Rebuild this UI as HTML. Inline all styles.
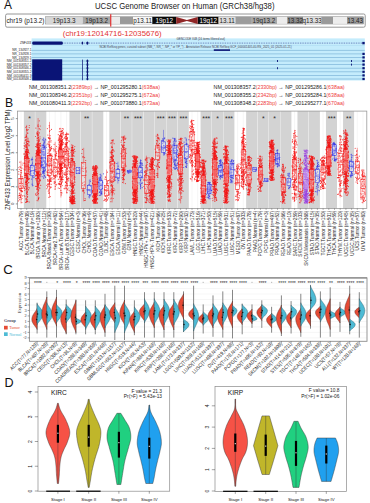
<!DOCTYPE html>
<html><head><meta charset="utf-8"><style>html,body{margin:0;padding:0;background:#fff;width:370px;height:503px;overflow:hidden}svg{display:block}</style></head>
<body><svg width="370" height="503" viewBox="0 0 370 503"><text x="4.0" y="8.9" font-size="11.9" font-family="Liberation Sans, sans-serif" fill="#111">A</text><text x="95.0" y="9.0" font-size="8.6" font-family="Liberation Sans, sans-serif" fill="#1a1a1a" textLength="179.5" lengthAdjust="spacingAndGlyphs">UCSC Genome Browser on Human (GRCh38/hg38)</text><rect x="5.6" y="14.0" width="359.6" height="13.2" rx="1.5" fill="#fff" stroke="#8a8a8a" stroke-width="0.9"/><text x="6.4" y="23.1" font-size="6.4" font-family="Liberation Sans, sans-serif" fill="#1a1a1a">chr19 (p13.2)</text><rect x="45.4" y="16.9" width="317.8" height="7.0" fill="none" stroke="#555" stroke-width="0.6"/><rect x="45.4" y="16.9" width="37.40" height="7.0" fill="#d6d6d6"/><text x="64.10" y="22.7" font-size="6.3" font-family="Liberation Sans, sans-serif" fill="#222" text-anchor="middle">19p13.3</text><rect x="82.8" y="16.9" width="27.80" height="7.0" fill="#a6a6a6"/><text x="96.70" y="22.7" font-size="6.3" font-family="Liberation Sans, sans-serif" fill="#222" text-anchor="middle">19p13.2</text><rect x="110.6" y="16.9" width="9.40" height="7.0" fill="#ececec"/><rect x="120" y="16.9" width="13.00" height="7.0" fill="#9a9a9a"/><rect x="133" y="16.9" width="19.30" height="7.0" fill="#f6f6f6"/><text x="142.65" y="22.7" font-size="6.3" font-family="Liberation Sans, sans-serif" fill="#222" text-anchor="middle">p13.11</text><rect x="152.3" y="16.9" width="23.90" height="7.0" fill="#0a0a0a"/><text x="164.25" y="22.7" font-size="6.3" font-family="Liberation Sans, sans-serif" fill="#fff" text-anchor="middle">19p12</text><rect x="197.7" y="16.9" width="20.90" height="7.0" fill="#0a0a0a"/><text x="208.15" y="22.7" font-size="6.3" font-family="Liberation Sans, sans-serif" fill="#fff" text-anchor="middle">19q12</text><rect x="218.6" y="16.9" width="16.90" height="7.0" fill="#dcdcdc"/><text x="227.05" y="22.7" font-size="6.3" font-family="Liberation Sans, sans-serif" fill="#222" text-anchor="middle">13.11</text><rect x="235.5" y="16.9" width="15.50" height="7.0" fill="#9c9c9c"/><rect x="251" y="16.9" width="26.00" height="7.0" fill="#a8a8a8"/><text x="264.00" y="22.7" font-size="6.3" font-family="Liberation Sans, sans-serif" fill="#222" text-anchor="middle">19q13.2</text><rect x="277" y="16.9" width="10.30" height="7.0" fill="#ececec"/><rect x="287.3" y="16.9" width="15.70" height="7.0" fill="#8c8c8c"/><text x="295.15" y="22.7" font-size="6.3" font-family="Liberation Sans, sans-serif" fill="#222" text-anchor="middle">13.32</text><rect x="303" y="16.9" width="18.40" height="7.0" fill="#dedede"/><text x="312.20" y="22.7" font-size="6.3" font-family="Liberation Sans, sans-serif" fill="#222" text-anchor="middle">q13.33</text><rect x="321.4" y="16.9" width="11.60" height="7.0" fill="#9a9a9a"/><rect x="333" y="16.9" width="14.00" height="7.0" fill="#ededed"/><rect x="347" y="16.9" width="16.20" height="7.0" fill="#9c9c9c"/><text x="355.10" y="22.7" font-size="6.3" font-family="Liberation Sans, sans-serif" fill="#222" text-anchor="middle">13.43</text><polygon points="176.2,16.9 186.9,19.9 197.7,16.9 197.7,23.9 186.9,20.9 176.2,23.9" fill="#902626"/><rect x="110.2" y="14.2" width="1.1" height="12.4" fill="#e02020"/><text x="62.8" y="35.5" font-size="7.8" font-family="Liberation Sans, sans-serif" fill="#e23434">(chr19:12014716-12035676)</text><rect x="31.6" y="38.4" width="333.2" height="42.1" fill="#c4ecfc"/><rect x="31.6" y="49.9" width="333.2" height="0.8" fill="#86bcdc"/><rect x="31.6" y="53.5" width="333.2" height="0.8" fill="#86bcdc"/><rect x="31.6" y="57.0" width="333.2" height="0.8" fill="#86bcdc"/><rect x="31.6" y="60.6" width="333.2" height="0.8" fill="#86bcdc"/><rect x="31.6" y="64.19999999999999" width="333.2" height="0.8" fill="#86bcdc"/><rect x="31.6" y="67.8" width="333.2" height="0.8" fill="#86bcdc"/><rect x="31.6" y="71.39999999999999" width="333.2" height="0.8" fill="#86bcdc"/><rect x="31.6" y="75.0" width="333.2" height="0.8" fill="#86bcdc"/><rect x="31.6" y="78.6" width="333.2" height="0.8" fill="#86bcdc"/><rect x="31.6" y="45.2" width="333.2" height="0.5" fill="#a8d8f0"/><text x="200.8" y="40.4" font-size="2.9" font-family="Liberation Sans, sans-serif" fill="#334" text-anchor="middle">GENCODE V48 (16 items filtered out)</text><text x="99.4" y="48" font-size="2.9" font-family="Liberation Sans, sans-serif" fill="#445">NCBI RefSeq genes, curated subset (NM_*, NR_*, NP_* or YP_*) - Annotation Release NCBI RefSeq GCF_000001405.40-RS_2025_01 (2025-01-21)</text><line x1="62" y1="43.1" x2="363" y2="43.1" stroke="#2a3a90" stroke-width="0.7" stroke-dasharray="0.8,0.9"/><rect x="32.2" y="41.5" width="30.6" height="3.2" rx="1.3" fill="#0a1476"/><ellipse cx="82.4" cy="43.1" rx="0.8" ry="1.5" fill="#0a1476"/><ellipse cx="87.4" cy="43.1" rx="1.1" ry="1.6" fill="#0a1476"/><rect x="362.3" y="41.9" width="2.4" height="2.4" fill="#0a1476"/><rect x="213.8" y="49.3" width="16.2" height="1.6" fill="#0a1476"/><text x="31.2" y="44.2" font-size="3.1" font-family="Liberation Sans, sans-serif" fill="#1a1a1a" text-anchor="end">ZNF433</text><text x="31.4" y="51.40" font-size="3.1" font-family="Liberation Sans, sans-serif" fill="#1a1a1a" text-anchor="end">NR_134927.1</text><text x="31.4" y="55.00" font-size="3.1" font-family="Liberation Sans, sans-serif" fill="#1a1a1a" text-anchor="end">NR_134928.1</text><rect x="362.4" y="52.80" width="2.3" height="2.2" fill="#0a1476"/><text x="31.4" y="58.50" font-size="3.1" font-family="Liberation Sans, sans-serif" fill="#1a1a1a" text-anchor="end">NR_134929.1</text><rect x="362.4" y="56.30" width="2.3" height="2.2" fill="#0a1476"/><text x="31.4" y="62.10" font-size="3.1" font-family="Liberation Sans, sans-serif" fill="#1a1a1a" text-anchor="end">NM_001308351.2</text><rect x="362.4" y="59.90" width="2.3" height="2.2" fill="#0a1476"/><text x="31.4" y="65.70" font-size="3.1" font-family="Liberation Sans, sans-serif" fill="#1a1a1a" text-anchor="end">NM_001308357.2</text><rect x="362.4" y="63.50" width="2.3" height="2.2" fill="#0a1476"/><text x="31.4" y="69.30" font-size="3.1" font-family="Liberation Sans, sans-serif" fill="#1a1a1a" text-anchor="end">NM_001308346.2</text><rect x="362.4" y="67.10" width="2.3" height="2.2" fill="#0a1476"/><text x="31.4" y="72.90" font-size="3.1" font-family="Liberation Sans, sans-serif" fill="#1a1a1a" text-anchor="end">NM_001308355.2</text><rect x="362.4" y="70.70" width="2.3" height="2.2" fill="#0a1476"/><text x="31.4" y="76.50" font-size="3.1" font-family="Liberation Sans, sans-serif" fill="#1a1a1a" text-anchor="end">NM_001080411.3</text><rect x="362.4" y="74.30" width="2.3" height="2.2" fill="#0a1476"/><text x="31.4" y="80.10" font-size="3.1" font-family="Liberation Sans, sans-serif" fill="#1a1a1a" text-anchor="end">NM_001308348.2</text><rect x="362.4" y="77.90" width="2.3" height="2.2" fill="#0a1476"/><rect x="32.2" y="59.3" width="30" height="21.2" fill="#0a1476"/><rect x="82.0" y="59.6" width="0.7" height="20.6" fill="#0a1476"/><rect x="86.9" y="59.6" width="1.1" height="20.6" fill="#0a1476"/><rect x="86.6" y="60.00" width="1.7" height="2.0" fill="#0a1476"/><rect x="86.6" y="63.60" width="1.7" height="2.0" fill="#0a1476"/><rect x="86.6" y="67.20" width="1.7" height="2.0" fill="#0a1476"/><rect x="86.6" y="70.80" width="1.7" height="2.0" fill="#0a1476"/><rect x="86.6" y="74.40" width="1.7" height="2.0" fill="#0a1476"/><rect x="86.6" y="78.00" width="1.7" height="2.0" fill="#0a1476"/><rect x="277" y="60.0" width="0.9" height="2" fill="#0a1476"/><rect x="277" y="67.2" width="0.9" height="2" fill="#0a1476"/><rect x="351" y="60.0" width="0.9" height="2" fill="#0a1476"/><rect x="351" y="63.599999999999994" width="0.9" height="2" fill="#0a1476"/><text x="29.00" y="88.50" font-size="5.8" font-family="Liberation Sans, sans-serif" fill="#1a1a1a" textLength="131" lengthAdjust="spacingAndGlyphs">NM_001308351.2<tspan fill="#ee3b3b">(2389bp)</tspan> → NP_001295280.1<tspan fill="#ee3b3b">(638aa)</tspan></text><text x="29.00" y="96.70" font-size="5.8" font-family="Liberation Sans, sans-serif" fill="#1a1a1a" textLength="131" lengthAdjust="spacingAndGlyphs">NM_001308346.2<tspan fill="#ee3b3b">(2351bp)</tspan> → NP_001295275.1<tspan fill="#ee3b3b">(672aa)</tspan></text><text x="29.00" y="104.90" font-size="5.8" font-family="Liberation Sans, sans-serif" fill="#1a1a1a" textLength="131" lengthAdjust="spacingAndGlyphs">NM_001080411.3<tspan fill="#ee3b3b">(2292bp)</tspan> → NP_001073880.1<tspan fill="#ee3b3b">(673aa)</tspan></text><text x="213.60" y="88.50" font-size="5.8" font-family="Liberation Sans, sans-serif" fill="#1a1a1a" textLength="131" lengthAdjust="spacingAndGlyphs">NM_001308357.2<tspan fill="#ee3b3b">(2330bp)</tspan> → NP_001295286.1<tspan fill="#ee3b3b">(638aa)</tspan></text><text x="213.60" y="96.70" font-size="5.8" font-family="Liberation Sans, sans-serif" fill="#1a1a1a" textLength="131" lengthAdjust="spacingAndGlyphs">NM_001308355.2<tspan fill="#ee3b3b">(2342bp)</tspan> → NP_001295284.1<tspan fill="#ee3b3b">(638aa)</tspan></text><text x="213.60" y="104.90" font-size="5.8" font-family="Liberation Sans, sans-serif" fill="#1a1a1a" textLength="131" lengthAdjust="spacingAndGlyphs">NM_001308348.2<tspan fill="#ee3b3b">(2283bp)</tspan> → NP_001295277.1<tspan fill="#ee3b3b">(670aa)</tspan></text><text x="5.0" y="107.0" font-size="12.2" font-family="Liberation Sans, sans-serif" fill="#111">B</text><rect x="17.4" y="111.1" width="349.40000000000003" height="97.4" fill="#fff"/><line x1="21.00" y1="111.1" x2="21.00" y2="208.5" stroke="#ececec" stroke-width="0.5"/><line x1="26.70" y1="111.1" x2="26.70" y2="208.5" stroke="#ececec" stroke-width="0.5"/><line x1="32.40" y1="111.1" x2="32.40" y2="208.5" stroke="#ececec" stroke-width="0.5"/><line x1="38.10" y1="111.1" x2="38.10" y2="208.5" stroke="#ececec" stroke-width="0.5"/><line x1="43.80" y1="111.1" x2="43.80" y2="208.5" stroke="#ececec" stroke-width="0.5"/><line x1="49.50" y1="111.1" x2="49.50" y2="208.5" stroke="#ececec" stroke-width="0.5"/><line x1="55.20" y1="111.1" x2="55.20" y2="208.5" stroke="#ececec" stroke-width="0.5"/><line x1="60.90" y1="111.1" x2="60.90" y2="208.5" stroke="#ececec" stroke-width="0.5"/><line x1="66.60" y1="111.1" x2="66.60" y2="208.5" stroke="#ececec" stroke-width="0.5"/><line x1="72.30" y1="111.1" x2="72.30" y2="208.5" stroke="#ececec" stroke-width="0.5"/><line x1="78.00" y1="111.1" x2="78.00" y2="208.5" stroke="#ececec" stroke-width="0.5"/><line x1="83.70" y1="111.1" x2="83.70" y2="208.5" stroke="#ececec" stroke-width="0.5"/><line x1="89.40" y1="111.1" x2="89.40" y2="208.5" stroke="#ececec" stroke-width="0.5"/><line x1="95.10" y1="111.1" x2="95.10" y2="208.5" stroke="#ececec" stroke-width="0.5"/><line x1="100.80" y1="111.1" x2="100.80" y2="208.5" stroke="#ececec" stroke-width="0.5"/><line x1="106.50" y1="111.1" x2="106.50" y2="208.5" stroke="#ececec" stroke-width="0.5"/><line x1="112.20" y1="111.1" x2="112.20" y2="208.5" stroke="#ececec" stroke-width="0.5"/><line x1="117.90" y1="111.1" x2="117.90" y2="208.5" stroke="#ececec" stroke-width="0.5"/><line x1="123.60" y1="111.1" x2="123.60" y2="208.5" stroke="#ececec" stroke-width="0.5"/><line x1="129.30" y1="111.1" x2="129.30" y2="208.5" stroke="#ececec" stroke-width="0.5"/><line x1="135.00" y1="111.1" x2="135.00" y2="208.5" stroke="#ececec" stroke-width="0.5"/><line x1="140.70" y1="111.1" x2="140.70" y2="208.5" stroke="#ececec" stroke-width="0.5"/><line x1="146.40" y1="111.1" x2="146.40" y2="208.5" stroke="#ececec" stroke-width="0.5"/><line x1="152.10" y1="111.1" x2="152.10" y2="208.5" stroke="#ececec" stroke-width="0.5"/><line x1="157.80" y1="111.1" x2="157.80" y2="208.5" stroke="#ececec" stroke-width="0.5"/><line x1="163.50" y1="111.1" x2="163.50" y2="208.5" stroke="#ececec" stroke-width="0.5"/><line x1="169.20" y1="111.1" x2="169.20" y2="208.5" stroke="#ececec" stroke-width="0.5"/><line x1="174.90" y1="111.1" x2="174.90" y2="208.5" stroke="#ececec" stroke-width="0.5"/><line x1="180.60" y1="111.1" x2="180.60" y2="208.5" stroke="#ececec" stroke-width="0.5"/><line x1="186.30" y1="111.1" x2="186.30" y2="208.5" stroke="#ececec" stroke-width="0.5"/><line x1="192.00" y1="111.1" x2="192.00" y2="208.5" stroke="#ececec" stroke-width="0.5"/><line x1="197.70" y1="111.1" x2="197.70" y2="208.5" stroke="#ececec" stroke-width="0.5"/><line x1="203.40" y1="111.1" x2="203.40" y2="208.5" stroke="#ececec" stroke-width="0.5"/><line x1="209.10" y1="111.1" x2="209.10" y2="208.5" stroke="#ececec" stroke-width="0.5"/><line x1="214.80" y1="111.1" x2="214.80" y2="208.5" stroke="#ececec" stroke-width="0.5"/><line x1="220.50" y1="111.1" x2="220.50" y2="208.5" stroke="#ececec" stroke-width="0.5"/><line x1="226.20" y1="111.1" x2="226.20" y2="208.5" stroke="#ececec" stroke-width="0.5"/><line x1="231.90" y1="111.1" x2="231.90" y2="208.5" stroke="#ececec" stroke-width="0.5"/><line x1="237.60" y1="111.1" x2="237.60" y2="208.5" stroke="#ececec" stroke-width="0.5"/><line x1="243.30" y1="111.1" x2="243.30" y2="208.5" stroke="#ececec" stroke-width="0.5"/><line x1="249.00" y1="111.1" x2="249.00" y2="208.5" stroke="#ececec" stroke-width="0.5"/><line x1="254.70" y1="111.1" x2="254.70" y2="208.5" stroke="#ececec" stroke-width="0.5"/><line x1="260.40" y1="111.1" x2="260.40" y2="208.5" stroke="#ececec" stroke-width="0.5"/><line x1="266.10" y1="111.1" x2="266.10" y2="208.5" stroke="#ececec" stroke-width="0.5"/><line x1="271.80" y1="111.1" x2="271.80" y2="208.5" stroke="#ececec" stroke-width="0.5"/><line x1="277.50" y1="111.1" x2="277.50" y2="208.5" stroke="#ececec" stroke-width="0.5"/><line x1="283.20" y1="111.1" x2="283.20" y2="208.5" stroke="#ececec" stroke-width="0.5"/><line x1="288.90" y1="111.1" x2="288.90" y2="208.5" stroke="#ececec" stroke-width="0.5"/><line x1="294.60" y1="111.1" x2="294.60" y2="208.5" stroke="#ececec" stroke-width="0.5"/><line x1="300.30" y1="111.1" x2="300.30" y2="208.5" stroke="#ececec" stroke-width="0.5"/><line x1="306.00" y1="111.1" x2="306.00" y2="208.5" stroke="#ececec" stroke-width="0.5"/><line x1="311.70" y1="111.1" x2="311.70" y2="208.5" stroke="#ececec" stroke-width="0.5"/><line x1="317.40" y1="111.1" x2="317.40" y2="208.5" stroke="#ececec" stroke-width="0.5"/><line x1="323.10" y1="111.1" x2="323.10" y2="208.5" stroke="#ececec" stroke-width="0.5"/><line x1="328.80" y1="111.1" x2="328.80" y2="208.5" stroke="#ececec" stroke-width="0.5"/><line x1="334.50" y1="111.1" x2="334.50" y2="208.5" stroke="#ececec" stroke-width="0.5"/><line x1="340.20" y1="111.1" x2="340.20" y2="208.5" stroke="#ececec" stroke-width="0.5"/><line x1="345.90" y1="111.1" x2="345.90" y2="208.5" stroke="#ececec" stroke-width="0.5"/><line x1="351.60" y1="111.1" x2="351.60" y2="208.5" stroke="#ececec" stroke-width="0.5"/><line x1="357.30" y1="111.1" x2="357.30" y2="208.5" stroke="#ececec" stroke-width="0.5"/><line x1="363.00" y1="111.1" x2="363.00" y2="208.5" stroke="#ececec" stroke-width="0.5"/><rect x="23.85" y="111.1" width="11.05" height="97.4" fill="#d3d3d3"/><rect x="35.25" y="111.1" width="11.05" height="97.4" fill="#d3d3d3"/><rect x="69.45" y="111.1" width="11.05" height="97.4" fill="#d3d3d3"/><rect x="80.85" y="111.1" width="11.05" height="97.4" fill="#d3d3d3"/><rect x="92.25" y="111.1" width="11.05" height="97.4" fill="#d3d3d3"/><rect x="109.35" y="111.1" width="11.05" height="97.4" fill="#d3d3d3"/><rect x="120.75" y="111.1" width="11.05" height="97.4" fill="#d3d3d3"/><rect x="132.15" y="111.1" width="11.05" height="97.4" fill="#d3d3d3"/><rect x="143.55" y="111.1" width="11.05" height="97.4" fill="#d3d3d3"/><rect x="154.95" y="111.1" width="11.05" height="97.4" fill="#d3d3d3"/><rect x="166.35" y="111.1" width="11.05" height="97.4" fill="#d3d3d3"/><rect x="177.75" y="111.1" width="11.05" height="97.4" fill="#d3d3d3"/><rect x="200.55" y="111.1" width="11.05" height="97.4" fill="#d3d3d3"/><rect x="211.95" y="111.1" width="11.05" height="97.4" fill="#d3d3d3"/><rect x="223.35" y="111.1" width="11.05" height="97.4" fill="#d3d3d3"/><rect x="246.15" y="111.1" width="11.05" height="97.4" fill="#d3d3d3"/><rect x="257.55" y="111.1" width="11.05" height="97.4" fill="#d3d3d3"/><rect x="268.95" y="111.1" width="11.05" height="97.4" fill="#d3d3d3"/><rect x="280.35" y="111.1" width="11.05" height="97.4" fill="#d3d3d3"/><rect x="297.45" y="111.1" width="11.05" height="97.4" fill="#d3d3d3"/><rect x="308.85" y="111.1" width="11.05" height="97.4" fill="#d3d3d3"/><rect x="325.95" y="111.1" width="11.05" height="97.4" fill="#d3d3d3"/><rect x="343.05" y="111.1" width="11.05" height="97.4" fill="#d3d3d3"/><path d="M22.4 191.5h0M20.5 185.8h0M20.2 188.7h0M20.4 197.2h0M21.6 172.8h0M20.5 175.0h0M21.4 170.6h0M19.1 178.6h0M21.7 188.1h0M19.8 162.2h0M21.3 180.0h0M21.2 182.1h0M21.1 179.6h0M21.2 194.9h0M23.2 186.5h0M20.9 172.6h0M19.2 189.7h0M21.9 168.2h0M19.8 197.7h0M18.8 174.2h0M20.2 186.0h0M28.8 167.9h0M26.7 159.6h0M25.3 165.6h0M27.6 156.7h0M29.0 145.8h0M27.1 173.3h0M27.5 165.8h0M28.3 152.3h0M28.7 158.5h0M27.3 178.7h0M27.7 144.3h0M25.6 173.0h0M28.5 170.0h0M27.4 178.0h0M26.9 149.6h0M24.7 175.9h0M28.0 189.6h0M25.9 149.5h0M26.6 151.8h0M26.6 171.7h0M27.3 152.5h0M28.1 161.8h0M26.4 181.3h0M26.6 136.6h0M27.6 159.3h0M29.3 125.5h0M28.1 164.5h0M27.3 188.1h0M24.1 163.5h0M29.3 171.9h0M25.4 184.1h0M25.0 146.7h0M27.8 179.9h0M24.9 173.0h0M25.9 184.1h0M28.3 169.3h0M26.6 202.2h0M26.4 168.9h0M25.9 176.1h0M26.9 172.2h0M26.4 166.1h0M26.5 175.6h0M26.5 169.0h0M26.3 135.8h0M27.6 156.1h0M26.5 162.2h0M27.0 188.6h0M25.9 175.6h0M25.3 156.2h0M27.0 193.1h0M27.9 169.1h0M26.1 163.9h0M27.1 167.1h0M26.3 161.4h0M27.3 130.1h0M26.9 167.6h0M27.6 178.9h0M25.8 182.4h0M26.6 152.3h0M25.8 151.6h0M26.8 155.8h0M26.7 162.1h0M24.1 195.6h0M27.1 178.2h0M26.7 153.7h0M25.1 177.7h0M25.7 155.5h0M26.2 134.8h0M26.5 164.4h0M27.5 154.8h0M25.7 167.6h0M26.7 172.0h0M26.6 158.0h0M27.3 167.2h0M25.3 170.3h0M25.6 165.8h0M24.5 157.1h0M27.7 133.2h0M27.6 173.8h0M27.3 168.6h0M27.8 144.8h0M27.5 143.6h0M24.1 169.1h0M27.1 200.1h0M24.7 156.6h0M25.3 186.4h0M24.8 146.3h0M27.2 140.0h0M24.1 187.8h0M27.2 168.6h0M26.7 157.9h0M26.3 154.0h0M27.4 156.1h0M26.2 187.1h0M26.2 184.6h0M26.3 167.4h0M27.1 172.3h0M26.3 142.4h0M27.0 180.8h0M27.5 191.1h0M27.2 157.2h0M28.4 150.6h0M27.6 162.4h0M36.8 147.3h0M37.2 182.6h0M37.9 168.3h0M36.9 147.4h0M38.5 190.9h0M37.6 162.8h0M37.7 166.2h0M39.8 180.2h0M37.4 178.9h0M36.1 154.1h0M39.0 160.8h0M38.7 173.4h0M40.0 136.8h0M38.9 158.4h0M38.3 168.8h0M40.2 161.7h0M35.8 169.4h0M36.2 160.7h0M40.2 166.4h0M37.7 183.7h0M38.0 173.4h0M40.4 158.3h0M37.8 172.0h0M37.0 171.6h0M35.7 175.0h0M40.7 185.3h0M38.7 169.8h0M36.0 156.4h0M37.0 175.3h0M39.6 176.1h0M40.4 149.2h0M38.1 173.1h0M39.6 188.0h0M37.6 169.1h0M37.4 188.1h0M37.8 125.8h0M40.1 129.6h0M35.5 186.3h0M39.5 157.5h0M39.4 170.6h0M37.8 157.5h0M37.3 182.9h0M38.6 172.0h0M36.1 161.9h0M38.1 124.8h0M39.1 148.7h0M37.8 158.0h0M35.5 165.1h0M39.8 179.5h0M35.5 159.8h0M36.0 153.3h0M37.4 152.4h0M37.2 144.4h0M39.8 177.8h0M39.8 153.0h0M37.1 179.1h0M39.6 156.8h0M37.2 166.7h0M38.3 170.8h0M38.9 171.1h0M38.9 149.1h0M37.5 156.1h0M37.7 147.3h0M37.8 163.6h0M39.9 157.5h0M40.1 180.7h0M37.6 143.9h0M38.0 163.8h0M37.7 150.8h0M37.2 140.5h0M38.0 170.0h0M37.6 176.1h0M37.0 158.1h0M37.6 157.1h0M38.3 166.5h0M38.0 164.8h0M38.6 166.4h0M38.6 150.2h0M40.5 143.4h0M38.4 177.7h0M36.9 154.1h0M38.7 157.9h0M38.8 184.8h0M37.5 133.7h0M39.3 168.2h0M39.2 160.0h0M40.0 138.8h0M38.2 183.5h0M37.1 132.4h0M37.5 186.6h0M38.9 173.6h0M39.2 150.0h0M38.3 173.0h0M38.8 158.6h0M38.0 166.3h0M35.5 163.6h0M38.8 152.9h0M39.1 179.1h0M36.9 165.0h0M39.5 152.4h0M38.9 159.5h0M37.6 183.2h0M39.3 171.1h0M39.7 168.1h0M36.6 146.1h0M36.4 172.4h0M37.2 187.9h0M40.1 167.1h0M39.9 174.6h0M38.4 150.7h0M36.7 195.5h0M38.1 174.2h0M37.6 170.6h0M40.3 176.1h0M39.7 174.9h0M36.3 160.1h0M38.9 164.3h0M39.5 172.2h0M37.7 175.4h0M37.9 178.4h0M38.9 164.2h0M38.1 164.3h0M39.0 149.1h0M36.7 160.4h0M36.9 171.0h0M38.7 163.6h0M36.2 171.3h0M37.9 158.9h0M39.1 139.9h0M39.0 154.7h0M51.8 148.3h0M48.3 152.1h0M47.5 161.5h0M48.7 156.0h0M47.7 158.4h0M48.8 164.8h0M50.2 181.4h0M50.1 161.3h0M48.8 155.6h0M47.6 156.1h0M48.8 193.3h0M50.6 159.8h0M50.5 138.0h0M49.0 158.7h0M49.9 181.5h0M47.5 172.2h0M48.7 169.2h0M48.5 176.0h0M49.6 155.6h0M49.4 145.4h0M47.6 160.5h0M49.4 181.8h0M49.9 163.2h0M52.1 171.2h0M49.6 163.8h0M49.0 137.8h0M49.2 172.5h0M48.8 193.0h0M49.5 131.3h0M48.8 190.1h0M48.9 197.4h0M48.3 137.5h0M49.0 146.2h0M50.3 154.8h0M49.3 144.9h0M50.2 173.4h0M47.9 184.4h0M49.0 180.5h0M50.3 154.2h0M49.7 172.6h0M49.8 165.4h0M49.7 172.1h0M49.1 153.9h0M50.8 172.5h0M49.8 151.2h0M49.2 183.2h0M50.9 142.0h0M48.7 172.8h0M55.5 177.4h0M55.6 155.9h0M54.7 167.0h0M54.9 172.9h0M55.1 189.2h0M57.1 176.7h0M54.6 162.0h0M55.4 182.2h0M55.7 172.5h0M56.1 153.3h0M55.9 151.4h0M55.0 177.3h0M54.2 178.7h0M56.5 169.4h0M55.8 175.1h0M54.5 161.0h0M52.6 156.6h0M55.3 186.3h0M55.3 175.1h0M55.6 175.4h0M55.1 163.1h0M58.8 150.5h0M61.8 157.3h0M61.2 139.7h0M60.1 150.7h0M61.5 158.9h0M62.7 156.4h0M61.7 168.3h0M58.8 156.8h0M61.2 163.9h0M61.5 164.4h0M61.5 162.7h0M61.6 153.2h0M59.2 183.1h0M60.2 168.2h0M62.7 156.4h0M63.1 176.8h0M61.1 134.1h0M62.2 161.4h0M59.8 168.9h0M63.2 134.9h0M61.2 165.6h0M61.2 170.9h0M61.1 140.7h0M63.3 159.0h0M59.6 150.6h0M58.8 172.7h0M62.1 131.1h0M60.9 156.6h0M61.5 167.6h0M60.0 163.1h0M60.7 187.0h0M62.6 139.5h0M60.6 157.7h0M61.9 150.3h0M60.3 160.1h0M58.3 151.3h0M62.2 179.2h0M59.5 161.9h0M61.2 149.9h0M60.3 143.8h0M62.1 141.7h0M62.6 128.5h0M60.8 176.9h0M60.0 176.9h0M61.5 155.7h0M60.1 150.7h0M62.6 130.4h0M60.0 148.4h0M59.0 152.6h0M60.3 170.3h0M59.9 165.5h0M62.4 167.5h0M60.5 150.1h0M61.0 165.6h0M59.5 169.6h0M60.9 150.1h0M60.7 168.0h0M61.8 179.3h0M59.9 156.5h0M61.6 140.2h0M60.7 149.1h0M59.9 165.0h0M60.6 161.3h0M60.6 167.8h0M62.5 162.4h0M60.3 156.1h0M61.3 159.6h0M63.5 148.7h0M61.7 162.6h0M61.4 192.8h0M62.1 130.8h0M61.4 131.4h0M60.5 156.5h0M60.6 149.6h0M60.8 168.5h0M61.3 194.9h0M61.6 149.6h0M61.7 162.6h0M60.2 168.4h0M60.4 144.9h0M60.4 146.3h0M63.5 163.1h0M58.3 147.0h0M60.8 172.2h0M59.9 163.6h0M60.2 149.8h0M59.8 143.2h0M61.1 144.4h0M60.1 138.7h0M60.3 170.7h0M58.8 139.8h0M61.9 192.9h0M59.3 166.5h0M61.4 162.4h0M59.1 164.7h0M61.1 148.3h0M62.0 146.1h0M61.7 143.3h0M62.6 153.7h0M59.9 141.8h0M61.4 159.0h0M61.1 140.5h0M61.1 149.8h0M59.0 140.8h0M60.5 164.7h0M61.7 169.6h0M61.4 143.5h0M60.5 147.9h0M61.6 138.0h0M60.3 146.9h0M60.8 159.5h0M61.8 146.2h0M61.5 159.1h0M60.6 150.9h0M62.1 163.9h0M61.4 171.8h0M60.5 160.7h0M61.8 153.5h0M62.2 132.9h0M59.2 142.3h0M60.4 153.4h0M60.2 171.2h0M60.8 162.2h0M61.9 174.2h0M59.8 147.5h0M60.9 190.4h0M63.5 129.0h0M60.8 149.7h0M61.9 140.9h0M61.0 142.6h0M69.2 173.1h0M64.1 160.5h0M65.9 173.1h0M66.1 188.1h0M66.9 153.9h0M65.8 153.5h0M64.2 150.4h0M64.8 147.5h0M67.8 160.8h0M66.5 144.7h0M67.3 161.3h0M67.1 140.6h0M68.3 159.9h0M67.5 181.0h0M67.0 138.2h0M66.8 168.5h0M67.3 152.9h0M65.8 159.0h0M65.9 167.3h0M65.9 171.2h0M65.2 187.9h0M65.0 164.3h0M65.7 182.0h0M67.8 157.3h0M64.0 173.0h0M65.2 186.1h0M66.0 138.7h0M67.1 169.4h0M66.3 138.4h0M68.5 162.3h0M66.8 165.5h0M67.9 163.1h0M66.5 177.8h0M66.9 152.2h0M69.2 141.3h0M66.8 192.3h0M66.3 133.8h0M68.2 188.0h0M67.4 179.7h0M67.0 153.1h0M67.1 192.7h0M66.4 157.9h0M68.0 153.7h0M66.4 158.0h0M68.6 164.1h0M69.2 159.3h0M66.8 160.2h0M67.4 148.1h0M66.3 162.8h0M67.2 183.3h0M65.7 146.6h0M65.6 154.3h0M67.3 185.7h0M65.3 164.7h0M66.9 163.0h0M74.1 161.5h0M74.9 201.5h0M72.8 174.7h0M72.9 185.5h0M73.3 175.6h0M71.0 165.4h0M72.8 175.6h0M71.8 166.9h0M74.9 168.7h0M72.1 200.9h0M71.9 186.2h0M72.5 147.4h0M71.7 151.6h0M72.7 164.0h0M72.7 156.2h0M73.0 191.0h0M73.2 163.1h0M74.8 166.3h0M73.1 150.9h0M72.4 187.2h0M74.9 163.6h0M74.9 163.3h0M72.5 182.3h0M73.8 162.7h0M72.6 173.3h0M71.0 167.5h0M72.4 160.1h0M74.5 149.5h0M69.7 167.7h0M73.0 150.7h0M74.0 197.8h0M72.1 163.9h0M71.7 176.3h0M73.0 182.9h0M72.8 174.5h0M71.3 167.1h0M72.4 180.1h0M73.1 165.8h0M73.4 177.8h0M72.6 193.2h0M72.3 155.4h0M73.2 153.7h0M71.5 160.7h0M71.0 169.3h0M74.7 176.3h0M73.3 201.5h0M71.7 168.2h0M72.9 186.7h0M71.8 154.1h0M72.0 150.3h0M72.6 162.5h0M73.4 173.2h0M72.5 159.4h0M71.5 158.3h0M71.3 182.2h0M74.0 167.5h0M72.0 181.1h0M73.9 174.1h0M74.9 164.9h0M70.4 163.9h0M72.1 176.2h0M72.7 177.6h0M73.2 158.8h0M70.8 200.9h0M73.7 169.5h0M71.6 187.0h0M73.1 154.0h0M72.8 185.1h0M74.8 168.5h0M71.5 189.3h0M71.0 172.6h0M71.8 175.0h0M74.9 177.6h0M71.0 181.9h0M70.8 195.4h0M72.9 184.4h0M71.8 144.9h0M70.3 200.0h0M72.7 200.2h0M72.3 201.2h0M72.0 199.2h0M72.3 201.3h0M71.2 200.0h0M71.2 200.1h0M70.7 200.3h0M74.3 200.6h0M72.5 200.0h0M72.8 200.7h0M72.8 197.6h0M72.4 203.0h0M74.0 200.5h0M71.3 199.7h0M73.2 203.8h0M73.8 196.9h0M73.1 197.5h0M71.0 200.6h0M71.9 202.9h0M72.0 200.6h0M74.6 201.6h0M71.7 200.2h0M74.9 198.6h0M74.4 199.2h0M74.9 201.3h0M73.2 196.6h0M73.3 200.0h0M82.5 183.5h0M82.5 149.4h0M84.6 184.7h0M82.0 168.6h0M85.1 198.5h0M83.3 168.8h0M83.8 163.9h0M85.4 200.2h0M84.4 200.5h0M82.3 168.1h0M94.0 177.5h0M93.0 170.5h0M97.2 203.4h0M94.9 179.9h0M95.9 176.0h0M95.3 171.9h0M95.1 179.6h0M94.7 180.2h0M94.8 178.9h0M95.7 175.6h0M95.1 190.8h0M95.6 176.3h0M94.7 183.4h0M93.7 177.0h0M96.6 182.0h0M96.1 171.8h0M94.5 172.2h0M95.0 183.5h0M94.6 199.5h0M94.4 179.7h0M96.9 171.8h0M92.6 183.4h0M93.7 181.1h0M95.9 169.6h0M94.9 190.5h0M95.4 190.1h0M95.3 191.8h0M94.8 180.2h0M96.4 186.2h0M96.1 183.7h0M94.8 200.5h0M96.1 191.9h0M95.2 189.4h0M94.8 178.8h0M97.0 189.9h0M95.4 182.0h0M94.8 183.8h0M96.0 182.4h0M95.3 192.5h0M96.7 168.0h0M95.3 173.4h0M95.0 178.0h0M96.3 187.9h0M95.8 195.4h0M95.3 194.8h0M94.9 168.2h0M94.3 181.8h0M94.6 201.9h0M94.9 197.3h0M94.0 200.1h0M95.8 165.9h0M93.8 187.2h0M94.6 174.9h0M93.3 202.1h0M94.5 173.7h0M95.4 184.4h0M95.5 203.2h0M95.0 196.0h0M96.4 182.8h0M93.6 166.2h0M93.6 197.8h0M95.3 185.8h0M93.7 190.0h0M95.2 186.6h0M96.0 167.7h0M96.0 168.5h0M95.6 181.3h0M94.6 186.6h0M96.6 181.7h0M95.0 183.5h0M94.7 197.2h0M92.9 168.3h0M96.2 196.3h0M95.8 193.5h0M96.4 181.4h0M96.4 179.3h0M97.7 179.3h0M95.0 187.2h0M94.9 181.0h0M96.5 188.6h0M93.3 168.0h0M93.4 186.2h0M94.4 198.1h0M97.4 184.4h0M93.8 196.4h0M96.4 172.9h0M96.6 182.2h0M94.5 183.1h0M96.8 192.9h0M96.2 201.1h0M96.0 199.3h0M96.4 190.3h0M95.1 181.9h0M94.6 176.1h0M94.9 183.9h0M95.7 179.5h0M95.6 184.4h0M95.0 191.5h0M95.7 175.0h0M95.5 183.9h0M95.0 202.9h0M95.0 170.1h0M93.4 166.1h0M94.7 198.0h0M96.1 174.9h0M94.7 181.5h0M96.8 166.2h0M97.7 193.7h0M94.5 175.2h0M94.7 168.8h0M94.8 183.3h0M95.9 196.6h0M95.1 188.4h0M93.6 177.9h0M95.3 178.5h0M94.6 192.0h0M94.2 197.4h0M97.2 198.0h0M94.4 203.3h0M94.6 199.1h0M93.7 201.8h0M93.9 190.2h0M97.7 193.5h0M96.3 195.8h0M94.7 197.6h0M94.8 197.4h0M95.4 198.1h0M93.9 194.6h0M96.3 199.4h0M92.5 190.9h0M95.2 200.1h0M95.1 197.2h0M96.4 193.9h0M95.0 193.8h0M94.3 194.8h0M108.7 180.7h0M108.2 194.2h0M105.5 196.1h0M105.1 189.6h0M107.2 181.5h0M106.4 189.4h0M106.8 186.9h0M105.2 196.4h0M107.1 188.8h0M104.6 199.0h0M106.0 179.4h0M105.6 196.3h0M105.4 199.7h0M112.6 159.0h0M113.3 160.8h0M111.3 168.0h0M113.2 192.0h0M111.6 158.7h0M111.8 154.9h0M111.9 172.5h0M109.9 193.0h0M111.7 163.8h0M114.1 172.2h0M111.6 147.2h0M112.9 140.4h0M110.2 166.5h0M112.6 167.4h0M112.9 156.5h0M111.1 165.3h0M110.2 165.7h0M111.9 160.3h0M110.9 198.8h0M114.1 143.7h0M111.4 184.7h0M114.4 168.4h0M113.3 192.2h0M111.2 156.7h0M112.7 180.3h0M111.1 161.4h0M111.3 192.6h0M112.8 182.2h0M112.2 186.6h0M111.9 166.8h0M111.3 156.9h0M110.8 181.2h0M111.4 168.5h0M111.3 198.0h0M112.0 194.9h0M112.2 178.4h0M112.3 194.9h0M111.8 189.3h0M112.5 160.6h0M112.2 171.1h0M112.8 185.6h0M110.4 170.2h0M110.2 159.3h0M111.9 154.5h0M111.8 157.5h0M111.0 171.4h0M124.0 169.1h0M122.2 155.3h0M122.5 150.1h0M122.9 167.8h0M123.3 178.5h0M122.6 146.8h0M125.7 149.8h0M125.8 138.2h0M123.4 171.4h0M124.8 138.9h0M123.1 165.4h0M122.7 179.7h0M122.9 168.4h0M123.4 154.9h0M124.5 170.9h0M123.3 163.0h0M125.0 139.3h0M124.1 142.6h0M123.5 170.2h0M124.2 161.2h0M124.9 166.8h0M124.8 158.2h0M125.4 183.6h0M122.9 172.8h0M123.1 168.9h0M125.0 174.4h0M124.9 166.7h0M121.4 156.5h0M123.6 145.1h0M123.3 155.5h0M123.6 167.1h0M123.8 170.5h0M124.7 136.1h0M121.4 140.3h0M124.0 162.5h0M123.5 152.4h0M122.6 150.6h0M121.7 167.2h0M124.5 153.1h0M134.1 160.6h0M133.3 163.4h0M135.3 200.4h0M134.2 157.5h0M134.3 185.4h0M134.2 184.6h0M134.9 182.1h0M136.0 162.8h0M135.0 187.4h0M137.6 188.8h0M136.6 202.2h0M135.1 194.4h0M134.6 172.0h0M135.6 180.3h0M134.9 164.9h0M134.2 196.2h0M136.9 174.0h0M136.2 171.6h0M135.4 164.9h0M132.5 167.6h0M135.0 185.3h0M136.3 159.4h0M132.4 167.2h0M135.4 167.6h0M135.5 162.2h0M135.2 179.2h0M135.5 163.8h0M134.8 167.7h0M137.6 191.5h0M135.6 174.7h0M135.9 157.7h0M135.0 188.5h0M133.6 191.0h0M136.4 200.2h0M134.4 163.9h0M134.6 198.6h0M135.2 174.4h0M135.8 170.8h0M132.9 170.1h0M137.1 166.1h0M136.4 177.1h0M134.1 188.7h0M135.8 182.1h0M134.5 187.3h0M135.6 161.3h0M133.8 178.2h0M136.0 194.2h0M136.3 184.7h0M133.1 192.1h0M135.8 157.4h0M133.9 166.4h0M137.3 161.0h0M137.6 175.5h0M133.8 183.5h0M135.3 192.6h0M137.0 187.6h0M135.4 176.6h0M133.9 171.3h0M135.1 180.4h0M134.1 157.7h0M132.4 198.6h0M134.3 180.0h0M134.3 159.1h0M134.6 175.8h0M133.4 191.9h0M136.4 189.1h0M135.5 194.1h0M135.6 173.0h0M132.8 183.9h0M135.2 166.1h0M135.9 181.2h0M135.2 171.2h0M135.3 195.1h0M133.7 178.6h0M134.6 186.1h0M133.5 162.0h0M135.1 183.8h0M137.5 173.6h0M134.3 192.5h0M134.9 179.7h0M135.7 186.8h0M134.9 190.0h0M134.7 178.1h0M136.9 186.5h0M136.3 192.8h0M137.0 189.3h0M136.3 160.2h0M136.7 199.7h0M135.1 159.9h0M135.0 186.2h0M132.4 164.0h0M137.1 182.5h0M135.2 183.9h0M137.0 198.6h0M134.2 184.3h0M134.5 176.5h0M135.3 163.6h0M133.1 192.4h0M136.7 164.0h0M134.8 176.4h0M137.0 156.7h0M136.5 173.5h0M133.9 169.2h0M136.5 175.6h0M136.0 179.1h0M136.9 197.4h0M133.5 201.0h0M137.6 165.8h0M135.3 177.0h0M137.1 192.2h0M136.3 178.4h0M133.8 160.8h0M135.2 199.2h0M134.3 176.8h0M133.1 192.5h0M136.0 171.6h0M135.1 182.1h0M134.0 183.8h0M133.9 185.0h0M136.7 174.8h0M135.0 188.8h0M135.6 177.5h0M136.6 178.0h0M134.7 190.8h0M134.2 176.1h0M135.9 180.0h0M134.4 192.7h0M132.4 181.2h0M134.5 170.9h0M136.9 173.8h0M133.8 198.3h0M136.8 188.7h0M135.7 199.4h0M134.9 193.1h0M132.9 199.9h0M135.7 200.3h0M135.1 190.2h0M137.5 195.9h0M135.5 189.6h0M135.4 190.8h0M133.8 198.8h0M134.6 192.7h0M135.3 188.4h0M136.9 189.3h0M133.4 202.7h0M136.7 192.3h0M133.8 195.4h0M136.0 190.5h0M135.2 199.7h0M135.5 191.0h0M146.8 192.0h0M146.9 198.7h0M145.9 167.7h0M147.6 198.3h0M144.7 171.6h0M145.3 195.1h0M145.7 188.4h0M146.9 180.7h0M146.3 180.8h0M147.2 179.8h0M147.4 168.9h0M147.2 157.9h0M147.1 200.1h0M145.5 180.2h0M146.4 186.0h0M146.3 197.7h0M145.6 192.7h0M145.5 177.6h0M146.2 177.7h0M143.9 180.3h0M145.7 176.9h0M147.4 187.6h0M146.9 180.4h0M145.8 180.1h0M147.2 198.7h0M153.4 195.5h0M152.5 169.5h0M152.0 172.7h0M152.1 198.4h0M151.1 176.1h0M152.4 199.4h0M153.0 164.1h0M149.9 177.1h0M150.9 164.1h0M150.7 174.5h0M153.4 180.1h0M152.6 163.5h0M151.0 172.8h0M151.0 195.6h0M151.7 189.5h0M149.5 195.9h0M153.1 169.1h0M152.8 173.7h0M149.5 163.3h0M151.8 171.4h0M153.3 176.4h0M152.8 169.2h0M151.1 194.8h0M152.0 188.4h0M150.2 166.5h0M152.7 194.1h0M151.3 162.6h0M153.4 173.0h0M154.7 165.3h0M152.5 191.7h0M152.8 189.1h0M153.4 192.9h0M151.2 167.7h0M153.2 191.6h0M152.8 192.3h0M153.1 186.7h0M150.8 191.5h0M149.5 190.5h0M150.6 193.4h0M151.8 178.0h0M152.9 201.9h0M152.1 182.0h0M152.3 172.3h0M153.2 177.0h0M152.0 169.4h0M153.0 187.3h0M151.8 170.7h0M151.9 161.3h0M154.7 185.4h0M153.1 161.5h0M152.6 186.2h0M150.6 161.8h0M152.1 191.8h0M153.3 184.4h0M154.0 187.5h0M152.3 177.5h0M152.6 178.0h0M151.2 190.1h0M152.1 183.7h0M151.3 188.6h0M149.9 165.0h0M151.2 166.1h0M151.7 195.3h0M149.7 190.7h0M151.3 199.1h0M152.4 168.1h0M151.9 165.0h0M151.9 157.8h0M151.8 169.6h0M152.4 188.9h0M152.5 202.6h0M150.1 179.4h0M151.7 182.6h0M152.2 173.4h0M151.4 178.6h0M152.4 184.9h0M151.6 183.0h0M150.3 197.4h0M150.7 183.4h0M152.2 199.7h0M150.0 169.4h0M153.0 161.2h0M153.6 175.8h0M150.2 195.1h0M150.4 178.6h0M150.6 169.3h0M152.0 196.7h0M149.5 198.8h0M153.7 185.7h0M154.1 193.1h0M151.4 186.7h0M151.1 162.2h0M152.5 159.5h0M150.7 193.6h0M151.3 165.0h0M153.2 188.1h0M152.4 162.0h0M151.1 186.5h0M153.6 172.9h0M152.1 200.9h0M151.7 178.0h0M150.3 201.3h0M151.5 191.4h0M152.7 164.2h0M152.8 159.7h0M153.2 158.7h0M151.9 199.6h0M151.1 194.4h0M152.3 193.1h0M152.4 198.6h0M152.3 192.4h0M152.9 194.7h0M152.0 198.8h0M150.5 192.7h0M151.4 199.6h0M152.1 198.5h0M151.1 198.4h0M153.9 193.0h0M151.5 193.5h0M151.7 194.6h0M152.4 200.1h0M152.2 198.7h0M151.6 190.7h0M158.8 162.6h0M159.5 143.6h0M157.4 148.0h0M158.7 155.9h0M156.2 136.1h0M159.3 158.4h0M157.5 147.4h0M159.1 167.3h0M157.8 135.5h0M156.6 147.0h0M157.3 138.2h0M156.3 151.4h0M159.2 149.1h0M158.5 150.2h0M157.7 174.9h0M159.8 149.7h0M158.0 164.0h0M171.2 147.6h0M167.4 159.7h0M171.7 172.9h0M168.9 179.3h0M168.7 188.9h0M169.0 148.8h0M170.2 158.9h0M169.2 176.3h0M168.0 199.9h0M168.4 148.7h0M169.3 149.3h0M166.6 178.7h0M171.0 159.4h0M170.9 168.4h0M168.9 158.7h0M166.6 166.0h0M169.4 178.2h0M169.3 155.8h0M169.6 148.3h0M170.8 196.0h0M169.5 145.5h0M171.0 161.2h0M167.5 193.5h0M170.2 174.6h0M169.7 150.8h0M168.9 177.6h0M167.6 154.3h0M169.6 164.0h0M170.9 166.6h0M169.4 165.4h0M170.1 167.5h0M170.4 162.4h0M169.0 176.9h0M168.6 161.7h0M169.9 184.1h0M169.8 141.8h0M169.3 146.5h0M168.9 140.6h0M168.8 156.3h0M167.2 155.2h0M169.1 161.8h0M166.6 149.9h0M167.4 165.2h0M169.4 187.3h0M170.3 194.5h0M169.6 197.5h0M171.6 162.2h0M170.3 153.4h0M167.7 187.3h0M169.2 154.4h0M171.8 146.7h0M171.1 161.6h0M168.2 150.4h0M169.1 193.1h0M167.4 176.7h0M168.9 148.6h0M171.1 154.3h0M168.2 154.0h0M167.3 145.4h0M168.1 167.9h0M166.6 145.8h0M167.5 167.4h0M168.4 161.9h0M170.3 154.0h0M166.9 140.0h0M168.0 186.0h0M169.5 165.7h0M168.6 170.5h0M168.9 184.7h0M168.2 179.8h0M168.9 147.8h0M170.0 176.6h0M170.6 158.6h0M169.3 184.5h0M168.3 165.8h0M170.1 148.2h0M168.9 182.7h0M168.1 162.8h0M169.5 194.1h0M168.1 164.6h0M169.6 140.2h0M167.5 168.1h0M170.0 168.6h0M169.3 159.8h0M171.3 157.9h0M168.1 164.7h0M170.8 169.0h0M169.8 161.9h0M169.9 155.3h0M170.4 162.1h0M168.8 196.0h0M168.7 177.4h0M170.4 161.5h0M171.2 154.3h0M169.5 160.3h0M168.4 156.5h0M170.1 154.2h0M169.1 166.5h0M168.7 170.3h0M171.0 160.5h0M167.1 160.5h0M168.8 144.7h0M169.6 177.5h0M166.6 150.2h0M169.9 158.3h0M168.5 177.4h0M167.4 162.6h0M169.5 182.1h0M167.5 160.8h0M168.2 187.5h0M169.7 166.2h0M168.8 173.5h0M171.8 186.5h0M167.3 176.2h0M168.4 200.7h0M170.9 145.3h0M168.3 155.4h0M168.0 152.4h0M170.1 182.7h0M168.5 169.5h0M169.2 163.1h0M170.3 160.7h0M169.0 157.9h0M170.8 190.1h0M167.6 186.9h0M168.6 142.9h0M169.0 180.9h0M167.6 197.2h0M168.2 165.7h0M170.1 151.5h0M181.4 160.5h0M180.5 144.6h0M181.7 196.7h0M181.9 150.1h0M179.9 200.1h0M182.0 178.7h0M179.5 155.7h0M181.5 183.4h0M181.9 143.8h0M180.0 153.4h0M181.7 176.7h0M180.3 185.8h0M182.3 156.2h0M180.0 165.7h0M181.3 143.1h0M181.0 139.2h0M180.2 169.2h0M181.3 148.5h0M178.0 170.4h0M180.2 192.0h0M183.2 180.5h0M180.2 183.5h0M179.8 199.1h0M180.5 150.0h0M182.0 149.8h0M180.1 152.5h0M179.4 143.6h0M180.0 174.0h0M181.9 169.9h0M181.1 176.7h0M182.1 138.6h0M180.6 157.2h0M180.8 171.0h0M180.1 188.4h0M181.6 151.8h0M181.9 172.8h0M180.1 189.5h0M181.1 146.6h0M179.3 177.7h0M178.0 180.1h0M178.1 145.0h0M181.6 198.1h0M178.6 191.1h0M180.1 146.1h0M180.9 149.0h0M182.0 160.8h0M180.8 194.0h0M179.3 168.7h0M180.7 167.7h0M179.7 179.4h0M181.4 167.5h0M181.6 179.2h0M181.3 151.9h0M180.6 179.0h0M180.9 178.9h0M180.8 151.4h0M181.8 147.7h0M181.6 173.1h0M180.6 182.3h0M179.5 165.7h0M179.4 149.0h0M181.4 190.2h0M180.4 155.4h0M179.1 141.5h0M180.9 169.8h0M179.4 185.8h0M181.8 162.4h0M181.0 163.5h0M180.1 164.5h0M182.2 187.1h0M182.8 143.5h0M181.8 185.7h0M180.3 164.7h0M193.1 120.6h0M190.0 131.7h0M190.4 178.7h0M190.5 155.3h0M193.5 145.8h0M191.7 124.6h0M189.8 127.5h0M192.8 127.5h0M191.8 137.8h0M191.1 163.3h0M194.1 140.4h0M191.3 141.2h0M191.0 156.5h0M191.9 145.2h0M194.6 151.7h0M191.8 138.7h0M191.7 147.5h0M190.4 146.0h0M192.1 146.2h0M189.7 156.4h0M189.4 160.8h0M190.8 154.2h0M193.2 174.0h0M191.4 134.5h0M191.5 150.3h0M194.1 153.8h0M193.8 124.6h0M192.3 126.7h0M190.1 162.7h0M192.6 153.0h0M192.7 130.3h0M193.8 173.4h0M191.2 136.7h0M192.7 149.2h0M191.4 140.2h0M190.9 134.3h0M191.8 160.8h0M191.2 162.3h0M192.0 150.3h0M192.6 162.9h0M193.1 129.4h0M192.6 143.0h0M192.3 125.1h0M191.4 120.9h0M197.4 157.9h0M198.4 180.5h0M200.3 171.6h0M199.8 166.1h0M197.4 163.1h0M198.8 152.9h0M195.1 166.5h0M198.3 150.9h0M196.4 161.8h0M198.3 153.5h0M196.7 155.6h0M197.6 158.8h0M197.0 175.2h0M198.5 176.3h0M198.5 181.0h0M198.0 163.5h0M199.8 164.5h0M197.2 176.9h0M197.4 171.6h0M197.2 142.3h0M200.3 172.3h0M200.3 166.5h0M197.1 166.7h0M199.1 172.9h0M198.0 161.7h0M197.5 161.9h0M197.7 168.3h0M198.0 144.8h0M198.5 146.7h0M198.6 156.8h0M197.5 173.3h0M197.4 181.5h0M195.7 151.8h0M196.2 163.2h0M195.9 154.2h0M198.3 164.3h0M195.9 172.8h0M199.5 161.0h0M197.9 172.8h0M199.0 147.2h0M198.3 142.4h0M198.1 171.1h0M199.6 163.9h0M195.9 155.6h0M198.0 145.3h0M197.9 154.0h0M198.1 163.2h0M196.5 171.0h0M196.7 160.8h0M197.2 172.5h0M198.7 159.6h0M198.5 162.9h0M199.8 160.7h0M196.8 156.4h0M196.7 165.4h0M200.0 172.2h0M195.1 153.7h0M198.2 171.2h0M196.6 153.0h0M198.2 174.2h0M195.2 142.4h0M196.9 158.7h0M195.5 159.1h0M197.2 146.4h0M197.8 167.4h0M197.2 152.0h0M197.5 157.4h0M197.8 148.2h0M196.7 160.0h0M195.1 156.3h0M198.4 166.3h0M197.4 163.8h0M197.4 143.5h0M198.3 167.7h0M198.0 168.7h0M196.6 152.6h0M200.3 156.9h0M199.1 173.4h0M196.8 148.9h0M196.8 176.0h0M197.5 165.9h0M196.5 162.6h0M196.1 172.9h0M196.8 180.3h0M196.2 159.2h0M197.7 176.2h0M198.5 174.2h0M197.8 175.6h0M198.1 155.5h0M196.4 162.5h0M197.7 170.5h0M196.9 172.6h0M196.3 173.2h0M197.0 166.7h0M195.6 165.1h0M197.2 176.3h0M197.0 155.2h0M200.2 170.9h0M195.5 163.7h0M198.3 154.6h0M199.5 172.7h0M198.8 146.6h0M199.9 167.5h0M197.6 156.0h0M196.8 162.6h0M199.1 174.6h0M199.5 163.2h0M198.7 152.7h0M195.3 160.3h0M200.2 162.2h0M195.4 172.3h0M195.8 150.8h0M197.5 153.5h0M198.1 159.1h0M197.8 170.8h0M197.6 159.1h0M198.2 169.3h0M198.1 160.9h0M196.7 142.4h0M198.1 160.1h0M196.6 145.7h0M196.8 173.6h0M195.1 156.9h0M197.0 168.0h0M196.1 160.5h0M198.4 149.2h0M197.6 155.0h0M197.2 161.0h0M197.5 153.2h0M198.8 160.5h0M201.8 192.3h0M204.9 180.4h0M202.7 159.9h0M203.0 160.5h0M206.0 203.0h0M201.1 186.8h0M204.2 163.7h0M203.5 170.0h0M204.2 164.6h0M202.8 199.6h0M201.1 193.8h0M205.4 195.4h0M202.9 188.8h0M204.3 172.8h0M202.4 195.2h0M203.1 183.6h0M203.8 181.6h0M202.7 192.7h0M201.4 199.9h0M202.7 192.4h0M204.0 179.4h0M205.5 199.8h0M203.5 171.4h0M203.2 178.7h0M204.7 180.6h0M204.2 177.4h0M202.5 186.8h0M202.6 196.6h0M202.6 168.4h0M205.5 185.6h0M204.3 198.0h0M203.8 191.6h0M201.6 184.5h0M202.3 185.1h0M203.0 179.6h0M203.3 174.6h0M204.5 197.6h0M203.9 193.5h0M204.8 172.4h0M204.3 179.6h0M205.0 180.4h0M205.0 183.5h0M204.1 192.8h0M202.5 188.4h0M201.4 176.9h0M204.4 196.5h0M203.3 190.7h0M204.8 179.9h0M202.2 186.7h0M202.6 182.5h0M204.7 184.2h0M203.9 165.9h0M203.7 194.9h0M202.8 183.2h0M204.9 178.0h0M203.4 184.4h0M205.1 189.5h0M201.4 191.3h0M204.3 175.1h0M203.2 175.9h0M202.4 193.5h0M203.5 182.8h0M204.8 200.5h0M201.5 191.3h0M203.1 189.9h0M203.0 197.5h0M202.0 179.3h0M204.7 188.6h0M203.1 168.4h0M203.6 177.4h0M204.9 172.9h0M202.8 167.0h0M203.3 171.6h0M202.6 179.4h0M203.0 165.7h0M205.1 170.6h0M203.7 182.8h0M202.1 183.5h0M203.8 167.4h0M203.9 168.4h0M203.0 200.9h0M203.0 179.8h0M201.5 192.2h0M205.3 170.6h0M203.2 174.1h0M203.4 188.5h0M204.3 182.9h0M202.7 202.0h0M201.7 193.7h0M202.0 172.3h0M203.9 183.4h0M204.5 198.9h0M202.6 168.6h0M202.2 195.1h0M202.2 197.9h0M203.0 199.6h0M203.0 202.0h0M203.9 196.7h0M203.5 190.7h0M203.1 196.7h0M203.3 199.7h0M204.6 193.3h0M202.2 195.6h0M204.5 201.8h0M201.9 193.3h0M204.8 199.7h0M202.3 193.6h0M202.9 202.0h0M214.3 198.9h0M212.9 189.1h0M214.3 184.5h0M215.4 165.7h0M216.5 151.6h0M212.5 158.8h0M215.1 154.2h0M212.8 181.8h0M215.3 182.2h0M213.1 173.9h0M214.9 139.4h0M214.0 172.9h0M212.4 177.9h0M212.7 163.5h0M215.6 144.7h0M216.6 143.3h0M215.3 152.0h0M213.6 145.2h0M215.1 190.6h0M217.4 182.5h0M214.6 147.1h0M217.0 138.2h0M214.4 161.4h0M217.3 176.2h0M214.7 170.4h0M213.4 173.6h0M215.3 182.1h0M214.2 176.7h0M215.3 181.0h0M214.3 192.1h0M213.0 174.1h0M215.1 172.0h0M214.2 172.4h0M216.1 159.6h0M215.7 167.6h0M213.7 180.0h0M212.2 166.7h0M215.1 170.1h0M213.9 145.1h0M213.6 163.3h0M216.8 157.6h0M216.5 198.0h0M215.0 151.6h0M215.5 195.7h0M212.4 153.7h0M214.2 172.9h0M214.4 162.4h0M215.2 189.1h0M214.7 173.2h0M216.2 169.8h0M214.5 162.5h0M212.3 174.4h0M213.7 182.7h0M212.2 158.4h0M214.9 172.3h0M213.6 157.2h0M214.0 159.4h0M213.6 189.6h0M216.4 151.9h0M213.9 147.8h0M213.9 166.2h0M215.9 183.2h0M215.4 171.6h0M213.6 146.7h0M214.9 160.4h0M214.2 154.8h0M215.9 154.9h0M215.7 189.4h0M212.2 151.8h0M214.8 165.0h0M215.0 138.9h0M216.6 159.3h0M214.8 180.8h0M216.2 157.9h0M214.6 173.9h0M212.2 154.0h0M214.7 175.1h0M214.6 183.8h0M213.9 150.7h0M214.3 153.0h0M214.3 157.0h0M214.3 172.8h0M214.4 158.4h0M215.9 184.0h0M217.4 143.4h0M213.2 188.7h0M214.2 153.9h0M213.3 157.6h0M213.5 166.4h0M216.5 200.3h0M215.8 159.1h0M215.4 181.2h0M213.3 175.4h0M216.0 197.7h0M215.5 173.4h0M216.5 166.0h0M215.7 182.1h0M214.9 185.9h0M217.4 182.3h0M214.8 171.4h0M214.1 150.6h0M215.6 160.9h0M214.2 140.9h0M216.5 184.8h0M212.5 184.1h0M215.7 172.5h0M215.4 181.2h0M215.4 153.5h0M215.0 180.7h0M213.3 162.3h0M216.5 159.4h0M214.7 176.9h0M213.5 161.7h0M213.4 166.0h0M213.2 174.8h0M214.7 165.2h0M216.5 156.5h0M213.9 145.0h0M215.4 194.1h0M216.6 174.7h0M215.6 184.0h0M215.0 153.9h0M215.4 152.1h0M216.0 147.0h0M213.1 192.6h0M213.8 148.8h0M213.6 162.8h0M212.3 160.3h0M215.0 166.7h0M225.2 174.6h0M226.6 197.3h0M225.9 180.2h0M225.8 202.2h0M226.6 168.0h0M225.7 153.4h0M225.5 181.0h0M227.2 190.8h0M225.5 165.0h0M225.9 150.3h0M226.3 156.2h0M227.3 171.6h0M226.9 171.2h0M225.9 151.7h0M225.7 189.2h0M226.9 174.3h0M228.8 168.1h0M226.1 189.4h0M224.9 169.0h0M226.2 175.2h0M224.1 174.7h0M227.0 170.3h0M227.5 182.7h0M226.6 175.2h0M224.7 174.8h0M226.0 186.4h0M228.8 191.0h0M225.1 177.9h0M225.4 172.1h0M226.7 178.8h0M226.7 189.5h0M227.2 188.0h0M224.0 157.1h0M226.0 153.4h0M225.8 192.3h0M226.3 196.3h0M224.6 174.7h0M226.2 178.0h0M225.9 191.1h0M225.7 181.4h0M226.7 175.6h0M226.8 172.8h0M226.1 172.8h0M227.3 195.0h0M227.2 180.0h0M224.7 164.8h0M224.0 147.5h0M225.9 184.3h0M224.8 192.8h0M227.1 191.7h0M224.9 178.6h0M224.8 160.6h0M224.9 180.7h0M227.2 150.3h0M227.8 185.1h0M226.7 191.4h0M225.4 183.6h0M224.4 159.6h0M225.8 180.3h0M226.5 200.4h0M227.1 174.8h0M228.8 171.2h0M224.7 169.3h0M226.2 156.6h0M225.7 193.9h0M227.7 182.0h0M226.9 169.8h0M224.8 149.9h0M228.0 194.3h0M226.5 193.9h0M225.5 193.8h0M225.3 145.9h0M225.9 194.8h0M226.1 168.8h0M226.3 193.9h0M223.6 187.1h0M226.9 176.6h0M226.3 177.3h0M226.4 198.2h0M226.7 179.4h0M226.4 176.9h0M223.6 181.0h0M227.3 174.1h0M224.2 174.6h0M228.4 154.4h0M224.3 192.9h0M226.5 161.7h0M228.1 157.7h0M227.0 155.9h0M226.1 154.7h0M227.0 172.5h0M224.6 168.4h0M225.6 171.5h0M225.2 184.4h0M226.8 172.5h0M225.1 178.8h0M225.4 160.1h0M227.9 166.8h0M226.3 157.6h0M224.8 179.0h0M227.5 188.6h0M223.6 153.8h0M228.8 173.8h0M227.0 189.2h0M227.4 183.3h0M226.3 174.9h0M225.8 159.2h0M227.0 167.3h0M224.8 164.5h0M225.2 146.7h0M226.0 166.4h0M226.6 162.2h0M227.3 174.2h0M226.2 157.3h0M225.9 184.4h0M223.8 149.6h0M226.5 171.0h0M226.3 172.1h0M227.1 175.6h0M226.8 180.5h0M226.4 170.2h0M226.1 162.2h0M226.9 166.0h0M226.8 190.9h0M225.3 146.5h0M227.1 161.5h0M224.7 191.4h0M225.5 199.1h0M226.6 202.1h0M226.8 192.0h0M227.1 197.5h0M225.1 196.7h0M224.8 194.3h0M226.1 190.0h0M224.2 200.0h0M227.5 202.5h0M227.4 193.2h0M226.9 203.5h0M236.2 179.1h0M239.7 175.0h0M240.2 192.8h0M237.5 183.1h0M239.4 169.6h0M238.4 199.3h0M236.2 183.9h0M239.6 185.9h0M239.6 195.6h0M239.6 177.9h0M238.0 180.0h0M238.1 171.2h0M238.1 191.6h0M236.2 195.1h0M237.2 169.8h0M236.2 171.4h0M238.4 174.3h0M237.7 193.0h0M238.9 193.4h0M236.6 166.1h0M237.6 194.9h0M237.2 181.8h0M244.1 157.1h0M241.7 178.2h0M243.8 150.8h0M243.6 161.2h0M242.6 142.8h0M242.3 146.8h0M242.9 155.0h0M243.7 144.8h0M243.2 159.8h0M241.2 185.3h0M243.0 165.0h0M241.8 186.4h0M244.9 151.6h0M243.4 135.8h0M244.9 173.2h0M243.4 174.6h0M244.2 146.5h0M243.3 150.3h0M242.9 157.0h0M243.2 161.5h0M242.3 173.8h0M243.6 134.0h0M242.2 168.8h0M243.5 182.9h0M242.9 179.6h0M244.9 146.0h0M243.1 130.9h0M244.1 174.4h0M241.7 142.7h0M242.1 137.4h0M241.5 172.2h0M244.9 176.1h0M244.7 164.0h0M244.0 174.1h0M244.4 162.0h0M243.7 184.3h0M243.3 134.1h0M243.4 158.9h0M243.6 146.8h0M243.4 172.4h0M243.7 179.0h0M244.0 143.7h0M244.3 144.5h0M243.2 158.1h0M243.4 152.0h0M241.1 182.9h0M243.7 166.6h0M243.1 128.2h0M243.5 146.9h0M241.9 177.3h0M244.0 175.2h0M242.4 176.4h0M243.3 134.2h0M243.9 181.3h0M245.9 151.7h0M241.3 176.6h0M243.6 158.4h0M243.1 181.8h0M242.1 157.3h0M242.1 172.1h0M243.1 174.4h0M244.1 140.9h0M244.4 129.0h0M243.2 165.5h0M243.7 167.0h0M243.1 141.6h0M241.1 163.0h0M244.5 170.0h0M241.5 181.5h0M244.9 135.4h0M243.6 160.6h0M244.3 160.6h0M243.3 137.2h0M244.1 146.6h0M244.8 182.9h0M243.5 151.2h0M244.6 156.6h0M248.1 159.8h0M249.2 157.6h0M249.8 191.4h0M247.9 161.8h0M250.0 168.8h0M248.6 178.9h0M249.8 183.4h0M247.5 194.7h0M247.2 190.1h0M248.3 163.4h0M249.9 163.3h0M248.4 177.3h0M247.8 192.5h0M250.4 175.6h0M249.8 177.3h0M248.7 189.3h0M248.9 169.7h0M249.8 163.4h0M247.8 181.8h0M247.4 176.2h0M249.8 160.0h0M248.1 180.7h0M249.5 167.6h0M251.4 166.9h0M248.9 179.8h0M248.7 177.3h0M248.5 160.0h0M247.9 174.9h0M248.5 177.4h0M247.2 166.7h0M248.9 175.1h0M247.8 184.5h0M249.7 166.1h0M249.0 172.0h0M248.4 162.5h0M248.8 160.5h0M248.0 169.9h0M250.7 169.6h0M250.6 175.6h0M248.1 176.5h0M250.5 168.1h0M249.3 170.2h0M250.4 175.6h0M250.5 161.5h0M248.8 167.5h0M259.7 175.2h0M259.5 187.2h0M260.8 181.0h0M259.8 156.6h0M257.9 178.7h0M262.0 156.9h0M261.6 165.3h0M261.7 171.7h0M259.8 166.0h0M261.3 173.1h0M259.0 174.6h0M260.6 187.7h0M260.0 167.2h0M260.1 170.8h0M258.5 163.5h0M260.3 162.1h0M258.8 160.7h0M259.6 163.8h0M259.9 183.0h0M261.2 169.9h0M260.6 184.0h0M260.8 182.6h0M260.5 171.9h0M260.9 166.6h0M260.9 182.6h0M259.9 183.2h0M259.8 180.1h0M259.9 166.4h0M262.8 183.0h0M261.4 161.2h0M262.0 176.5h0M260.8 184.6h0M261.4 179.7h0M260.1 178.4h0M260.8 177.3h0M258.2 189.0h0M260.5 180.7h0M260.6 173.3h0M260.1 170.9h0M261.4 163.7h0M260.1 160.6h0M259.6 172.8h0M259.3 165.2h0M260.8 170.1h0M259.4 183.9h0M271.4 164.7h0M272.0 145.0h0M269.6 142.2h0M271.3 151.8h0M272.5 152.8h0M271.6 154.6h0M271.8 150.6h0M272.2 175.6h0M271.5 150.9h0M271.9 155.5h0M270.5 172.8h0M269.9 144.3h0M271.7 151.6h0M272.8 163.3h0M272.4 153.5h0M271.0 163.8h0M272.2 141.7h0M271.1 152.4h0M273.2 161.3h0M273.7 144.6h0M271.5 173.9h0M271.7 163.3h0M272.4 175.5h0M271.8 167.9h0M272.7 145.8h0M271.2 147.7h0M271.7 177.1h0M273.7 152.2h0M272.4 154.1h0M272.0 151.9h0M273.2 140.1h0M271.5 152.6h0M272.1 162.8h0M272.6 149.3h0M271.7 164.0h0M270.1 163.8h0M272.6 166.5h0M270.2 165.4h0M271.0 169.6h0M271.5 156.5h0M271.0 145.2h0M272.5 145.6h0M270.2 163.9h0M270.2 151.1h0M272.7 158.3h0M272.0 146.2h0M271.8 180.4h0M272.5 146.3h0M271.3 158.5h0M273.9 177.8h0M272.9 166.5h0M271.1 157.5h0M273.1 152.3h0M271.0 157.0h0M274.3 159.9h0M271.6 153.6h0M271.5 161.0h0M270.5 163.5h0M272.6 171.2h0M270.1 157.6h0M269.2 167.8h0M270.6 173.4h0M273.4 169.0h0M272.7 169.5h0M273.3 167.0h0M273.0 159.7h0M272.1 170.6h0M271.2 162.9h0M273.9 161.9h0M271.0 151.0h0M271.7 156.5h0M272.2 167.4h0M270.1 144.3h0M272.4 172.4h0M272.1 157.8h0M271.0 153.9h0M272.7 167.6h0M270.8 157.1h0M272.7 155.7h0M272.7 152.1h0M274.4 155.0h0M271.2 178.5h0M272.2 167.8h0M271.7 167.7h0M270.8 152.0h0M272.4 170.0h0M271.4 178.3h0M270.3 150.3h0M273.7 162.6h0M272.3 162.9h0M271.6 152.3h0M270.5 146.4h0M271.8 151.3h0M269.9 166.0h0M271.8 172.9h0M271.1 173.5h0M270.3 171.4h0M271.6 141.6h0M270.7 144.1h0M270.7 175.9h0M272.7 140.7h0M273.3 154.7h0M269.2 156.5h0M270.4 145.6h0M272.1 178.8h0M274.1 154.5h0M273.3 152.6h0M269.6 153.0h0M270.9 176.9h0M271.4 158.0h0M273.0 179.8h0M271.2 144.6h0M272.6 172.6h0M269.6 179.1h0M271.9 167.5h0M272.4 159.3h0M272.2 155.3h0M270.6 152.6h0M272.9 154.8h0M271.7 157.5h0M269.8 154.4h0M273.2 156.8h0M270.6 156.8h0M270.4 163.4h0M272.6 171.6h0M282.5 203.1h0M282.8 188.1h0M283.4 190.1h0M282.7 197.0h0M282.7 175.3h0M284.2 186.2h0M283.7 183.2h0M282.9 178.5h0M284.0 175.1h0M282.7 196.1h0M281.7 195.0h0M282.9 189.3h0M282.9 180.5h0M283.7 177.2h0M282.6 193.5h0M283.4 181.5h0M283.5 200.8h0M284.2 197.3h0M283.3 188.2h0M282.5 198.0h0M281.0 181.3h0M285.3 195.4h0M283.3 164.9h0M284.0 169.8h0M283.3 180.0h0M282.9 182.0h0M283.5 189.6h0M284.7 170.3h0M283.8 192.1h0M283.4 183.1h0M284.6 193.9h0M284.2 184.2h0M282.2 177.5h0M285.8 179.9h0M283.4 192.7h0M282.8 183.4h0M283.2 184.4h0M282.0 192.7h0M283.1 201.3h0M281.9 180.9h0M282.7 177.2h0M284.6 192.6h0M282.8 192.3h0M293.2 164.9h0M294.8 177.8h0M294.3 174.3h0M296.1 168.8h0M294.8 159.8h0M294.8 193.6h0M294.2 193.3h0M295.2 154.4h0M292.6 184.2h0M293.6 156.4h0M295.2 171.8h0M294.4 181.7h0M294.7 141.7h0M296.9 166.4h0M296.1 143.7h0M293.7 165.8h0M293.9 151.4h0M293.5 135.9h0M294.1 171.2h0M296.0 147.5h0M296.1 151.3h0M294.1 175.5h0M294.4 181.6h0M294.7 168.4h0M292.6 170.8h0M294.5 178.3h0M295.7 180.4h0M293.4 187.2h0M295.1 137.2h0M295.1 130.7h0M294.8 151.9h0M293.8 165.8h0M296.2 195.2h0M294.8 153.7h0M294.6 142.3h0M293.6 163.2h0M295.0 154.8h0M295.0 171.0h0M294.4 154.5h0M295.4 172.6h0M295.0 159.4h0M296.2 194.7h0M293.0 176.8h0M294.7 152.6h0M293.8 175.5h0M294.4 171.4h0M294.6 193.9h0M295.8 166.8h0M293.8 181.9h0M293.1 157.8h0M295.6 169.4h0M294.0 170.8h0M295.4 135.2h0M294.3 162.0h0M293.5 137.8h0M294.0 143.5h0M294.4 197.8h0M294.2 151.3h0M293.1 148.4h0M293.9 198.9h0M294.7 149.2h0M294.7 144.5h0M294.0 186.2h0M296.0 177.0h0M293.8 182.1h0M302.2 176.3h0M301.5 176.8h0M299.6 202.6h0M301.5 180.0h0M299.8 183.3h0M301.8 199.1h0M302.3 196.5h0M299.8 164.7h0M299.9 184.4h0M299.0 183.0h0M300.9 174.9h0M299.5 176.4h0M300.4 193.2h0M301.6 167.1h0M300.1 172.3h0M299.8 195.6h0M298.7 174.6h0M299.8 195.9h0M300.8 175.1h0M298.7 168.8h0M300.3 168.4h0M301.6 171.7h0M301.9 190.8h0M299.8 167.0h0M300.0 174.3h0M301.6 177.9h0M300.7 160.2h0M312.2 164.4h0M312.9 163.9h0M311.1 165.2h0M312.3 196.0h0M313.0 199.9h0M312.4 176.7h0M311.6 198.6h0M313.3 166.9h0M313.1 190.2h0M310.9 179.3h0M313.3 183.7h0M311.4 192.2h0M313.3 198.8h0M313.1 193.8h0M309.1 202.3h0M310.4 184.5h0M311.9 187.2h0M313.1 192.9h0M313.0 193.6h0M312.1 200.5h0M313.3 170.6h0M310.1 174.2h0M313.3 165.8h0M311.0 168.8h0M312.4 175.4h0M309.4 187.7h0M311.8 168.6h0M312.0 177.9h0M312.3 192.0h0M312.4 168.1h0M310.2 184.1h0M313.7 191.4h0M312.9 172.0h0M313.0 184.6h0M312.8 191.6h0M312.5 169.7h0M311.3 165.9h0M311.5 173.6h0M310.8 173.2h0M314.0 168.1h0M311.4 171.3h0M310.7 159.4h0M311.7 186.2h0M311.9 164.3h0M311.6 199.0h0M311.1 163.4h0M312.5 167.2h0M311.8 164.7h0M309.8 172.8h0M313.3 164.7h0M312.5 168.2h0M310.8 167.5h0M312.4 189.7h0M312.0 189.0h0M312.2 193.4h0M309.5 190.2h0M312.0 191.2h0M310.2 175.9h0M313.0 165.5h0M311.8 182.8h0M310.3 172.8h0M311.7 161.6h0M310.0 177.7h0M313.1 192.6h0M312.3 195.2h0M312.0 192.4h0M312.2 161.9h0M313.2 162.6h0M310.3 164.4h0M311.5 173.0h0M309.1 178.5h0M311.5 173.6h0M309.5 183.4h0M312.4 189.6h0M312.1 195.3h0M312.7 157.3h0M312.4 180.0h0M310.7 162.0h0M311.2 195.1h0M311.3 193.7h0M311.4 182.6h0M314.3 200.0h0M311.7 190.1h0M312.2 157.6h0M314.3 182.0h0M311.6 160.9h0M311.2 180.0h0M311.1 182.9h0M310.0 172.5h0M310.4 156.1h0M310.1 169.8h0M310.5 197.5h0M311.1 174.2h0M312.1 172.9h0M311.8 174.5h0M314.3 158.7h0M313.2 182.9h0M311.4 191.3h0M311.2 198.9h0M310.1 197.0h0M312.0 188.0h0M313.2 195.2h0M312.6 174.7h0M311.9 179.5h0M311.8 194.2h0M312.2 193.4h0M313.1 201.3h0M313.0 200.5h0M310.6 194.8h0M311.2 194.3h0M310.5 197.9h0M313.2 194.3h0M311.9 200.0h0M310.8 199.3h0M322.6 157.6h0M323.2 172.7h0M322.9 172.1h0M325.0 157.5h0M324.1 171.3h0M322.6 169.8h0M321.8 178.0h0M321.9 169.7h0M324.3 160.6h0M323.6 180.4h0M323.5 186.1h0M320.5 180.3h0M323.5 173.5h0M324.9 158.3h0M324.5 176.5h0M323.0 174.6h0M324.7 155.9h0M322.1 168.3h0M321.9 185.6h0M322.0 180.9h0M322.8 164.6h0M320.6 187.9h0M324.1 163.2h0M324.4 178.3h0M323.4 165.3h0M322.6 174.3h0M321.7 182.2h0M323.9 182.8h0M323.5 160.5h0M322.5 175.1h0M324.9 172.4h0M322.6 171.9h0M324.2 169.1h0M323.8 169.8h0M322.9 185.0h0M321.3 187.5h0M324.9 172.9h0M322.1 162.9h0M328.0 159.8h0M327.0 167.5h0M330.7 164.2h0M329.8 175.0h0M328.2 162.9h0M327.5 136.7h0M328.0 143.9h0M329.5 173.8h0M327.4 149.2h0M327.4 162.8h0M330.1 174.6h0M329.8 162.3h0M327.2 154.4h0M328.1 165.1h0M328.4 174.5h0M328.8 167.6h0M328.0 162.4h0M326.5 153.3h0M329.8 167.2h0M330.0 149.6h0M327.4 145.5h0M327.6 158.6h0M328.7 164.8h0M329.1 175.2h0M328.1 142.4h0M329.3 155.3h0M330.3 159.0h0M330.0 153.1h0M326.2 157.1h0M329.8 168.1h0M329.2 153.0h0M329.5 151.8h0M328.7 143.7h0M328.3 144.2h0M328.5 156.6h0M328.2 149.3h0M329.0 154.7h0M328.0 164.2h0M328.4 149.7h0M328.7 155.6h0M329.7 167.1h0M329.0 173.9h0M327.6 164.4h0M329.1 152.7h0M327.6 158.2h0M331.1 163.1h0M329.1 155.0h0M329.6 150.5h0M329.4 160.4h0M328.4 145.9h0M328.4 172.5h0M330.5 149.0h0M327.6 166.3h0M328.9 141.7h0M328.5 145.0h0M326.6 140.2h0M328.3 174.5h0M328.0 162.7h0M330.0 173.6h0M330.1 165.6h0M329.5 146.9h0M327.5 148.0h0M327.3 149.1h0M329.9 139.4h0M329.4 175.4h0M327.9 172.7h0M329.3 171.5h0M329.1 168.5h0M330.1 162.8h0M327.8 160.8h0M327.8 167.1h0M328.7 152.6h0M329.8 174.9h0M328.7 159.3h0M327.1 170.9h0M331.3 139.0h0M329.0 159.7h0M328.8 164.4h0M328.9 137.8h0M327.0 157.6h0M328.6 146.7h0M327.9 166.7h0M329.2 165.8h0M330.6 139.1h0M329.2 152.3h0M328.4 148.7h0M330.3 159.6h0M326.8 159.1h0M328.3 168.4h0M329.1 153.3h0M329.4 139.7h0M330.9 146.0h0M328.5 156.0h0M326.4 160.2h0M328.5 167.9h0M328.2 168.9h0M328.5 155.0h0M329.3 146.9h0M329.0 173.1h0M329.1 151.4h0M326.2 166.7h0M327.9 152.8h0M330.3 140.4h0M330.0 150.2h0M329.0 162.5h0M328.7 161.9h0M329.8 159.3h0M328.8 148.0h0M328.6 162.0h0M329.2 148.4h0M328.1 144.0h0M328.7 158.2h0M329.9 155.7h0M328.9 164.5h0M327.0 168.5h0M328.6 152.2h0M327.3 141.9h0M331.1 175.4h0M329.9 137.0h0M329.6 144.1h0M327.0 166.9h0M331.4 154.9h0M328.4 151.6h0M330.0 159.5h0M327.8 164.0h0M330.3 149.0h0M339.3 179.4h0M339.9 170.0h0M339.9 149.8h0M339.7 163.9h0M339.9 195.2h0M339.4 153.3h0M338.3 177.6h0M342.5 139.8h0M340.3 181.0h0M340.4 195.4h0M339.1 153.5h0M340.4 167.1h0M339.6 171.6h0M340.5 150.8h0M341.2 191.1h0M339.5 144.3h0M341.8 150.9h0M340.6 161.6h0M340.5 171.0h0M338.6 177.2h0M340.5 150.5h0M338.5 175.2h0M341.4 136.8h0M340.8 170.6h0M341.2 144.7h0M339.3 193.0h0M339.6 156.2h0M339.0 160.7h0M339.1 180.7h0M339.6 155.4h0M340.7 135.9h0M348.5 173.7h0M345.8 154.5h0M347.4 179.9h0M346.7 161.5h0M344.0 148.3h0M345.9 151.4h0M343.7 150.0h0M346.0 193.3h0M347.4 142.4h0M344.9 151.9h0M346.2 163.2h0M347.2 157.9h0M346.7 137.8h0M346.6 180.9h0M345.9 166.5h0M346.2 140.3h0M348.3 152.2h0M345.5 179.0h0M345.6 153.8h0M346.8 157.6h0M343.3 151.4h0M344.9 146.6h0M344.9 180.1h0M346.7 192.3h0M348.3 168.2h0M345.5 159.7h0M346.4 166.9h0M346.2 154.7h0M344.8 151.1h0M347.1 140.3h0M344.4 176.8h0M345.6 186.6h0M344.8 136.9h0M344.4 179.1h0M345.0 158.2h0M344.2 161.0h0M346.8 142.6h0M346.6 140.8h0M347.4 155.3h0M346.4 152.9h0M345.5 163.9h0M346.0 182.1h0M346.4 174.9h0M344.6 141.7h0M343.8 142.6h0M346.5 156.2h0M346.9 170.9h0M343.6 183.8h0M346.4 148.1h0M343.3 182.6h0M348.5 186.6h0M343.3 174.0h0M345.2 181.3h0M346.2 163.6h0M345.5 176.5h0M346.4 168.1h0M346.1 153.5h0M345.8 144.6h0M346.6 157.1h0M346.9 140.7h0M347.1 146.5h0M345.6 145.9h0M344.1 174.1h0M345.2 153.9h0M343.3 139.0h0M345.6 166.2h0M346.1 164.1h0M345.6 162.3h0M346.7 171.3h0M347.6 148.0h0M346.8 178.5h0M344.7 159.6h0M348.0 135.1h0M345.0 174.6h0M344.2 146.6h0M348.5 173.3h0M345.6 170.3h0M345.8 134.3h0M345.7 141.7h0M347.3 165.8h0M346.0 168.8h0M345.1 185.1h0M347.0 188.9h0M347.6 167.5h0M346.4 135.3h0M345.9 141.7h0M347.2 155.3h0M346.9 188.0h0M346.2 167.9h0M346.7 160.0h0M344.0 183.7h0M345.7 156.0h0M343.9 153.1h0M345.1 148.7h0M345.2 142.6h0M346.9 165.9h0M346.3 164.5h0M348.2 170.5h0M345.9 169.3h0M346.3 164.3h0M347.3 160.9h0M343.4 185.2h0M344.7 166.1h0M344.3 145.7h0M345.1 158.7h0M347.7 175.7h0M345.5 138.3h0M347.3 183.4h0M345.5 151.5h0M347.4 158.7h0M344.1 170.3h0M344.8 169.0h0M345.0 155.5h0M345.8 170.2h0M346.3 159.7h0M345.8 133.3h0M346.3 172.7h0M346.1 158.5h0M345.3 158.2h0M346.0 182.4h0M346.7 180.3h0M348.5 157.6h0M347.1 135.0h0M345.1 142.9h0M346.8 173.1h0M345.7 163.0h0M348.2 152.7h0M346.4 164.0h0M345.6 183.6h0M344.9 145.4h0M359.7 178.3h0M356.6 180.1h0M359.4 175.8h0M356.0 162.1h0M356.6 165.5h0M356.7 173.0h0M357.6 183.3h0M355.7 177.3h0M355.2 155.4h0M358.2 179.4h0M357.4 177.2h0M356.7 154.1h0M356.6 155.0h0M358.0 179.1h0M357.6 159.7h0M365.1 178.2h0M362.0 186.2h0M362.3 171.8h0M365.4 200.4h0M363.1 195.3h0M363.2 188.4h0M364.0 179.4h0M364.4 198.9h0M365.0 186.2h0M364.0 175.7h0M365.0 176.4h0M363.9 170.1h0M363.0 176.4h0M362.4 181.5h0M362.1 182.3h0M362.9 190.9h0M360.8 197.7h0M364.1 183.7h0M362.9 176.3h0M361.0 199.1h0" stroke="#f31010" stroke-width="1.2" stroke-linecap="round" stroke-opacity="0.72" fill="none"/><path d="M30.8 171.4h0M33.4 173.0h0M32.6 159.3h0M32.1 184.2h0M32.3 167.8h0M44.8 140.9h0M42.4 164.3h0M44.0 166.8h0M44.8 170.1h0M43.7 138.0h0M42.8 172.8h0M43.3 171.3h0M43.2 169.2h0M43.4 169.0h0M43.6 167.1h0M44.0 153.9h0M43.5 149.1h0M43.5 155.7h0M42.9 152.7h0M43.0 158.7h0M45.8 139.9h0M45.1 169.8h0M41.7 162.1h0M46.2 147.4h0M43.0 164.5h0M44.7 167.9h0M43.2 149.5h0M46.2 147.5h0M44.0 154.6h0M41.7 164.9h0M42.0 157.8h0M44.3 155.6h0M43.2 171.6h0M44.5 147.9h0M79.0 172.9h0M90.5 186.2h0M90.3 180.0h0M90.6 191.8h0M102.5 188.4h0M102.4 182.3h0M101.8 194.5h0M101.6 180.3h0M99.5 178.0h0M100.1 178.9h0M101.8 193.2h0M101.1 185.5h0M99.7 192.2h0M101.8 191.9h0M100.8 181.0h0M117.4 168.8h0M115.8 177.6h0M117.7 178.7h0M119.0 178.6h0M129.1 171.3h0M128.7 171.7h0M141.5 171.0h0M141.2 165.9h0M138.1 177.5h0M142.7 165.5h0M141.0 160.5h0M140.4 175.6h0M142.5 163.9h0M140.4 171.2h0M140.6 162.8h0M140.6 185.3h0M140.5 186.3h0M140.2 163.1h0M163.3 148.6h0M163.7 145.8h0M163.4 140.2h0M162.2 140.6h0M161.3 146.9h0M164.2 153.0h0M163.8 145.3h0M174.7 163.9h0M174.3 157.6h0M174.0 148.5h0M175.6 165.9h0M174.1 144.1h0M176.5 167.5h0M177.5 169.3h0M177.1 165.3h0M175.3 148.2h0M173.9 157.9h0M174.7 145.8h0M173.4 150.9h0M174.9 138.7h0M174.9 158.6h0M173.7 150.5h0M174.1 160.6h0M173.4 141.9h0M175.1 165.7h0M175.0 163.0h0M186.1 148.8h0M187.2 146.2h0M185.8 159.5h0M186.0 152.6h0M184.1 142.1h0M187.1 156.4h0M186.4 144.9h0M187.0 165.0h0M188.0 146.7h0M211.7 190.6h0M207.1 197.2h0M209.1 185.9h0M208.3 197.3h0M209.3 196.3h0M208.5 191.5h0M208.8 187.4h0M208.3 191.7h0M209.5 186.1h0M208.3 195.6h0M207.9 190.8h0M210.8 189.9h0M209.1 192.3h0M207.7 191.6h0M220.1 176.4h0M221.0 169.2h0M221.3 172.6h0M221.6 169.3h0M220.1 170.4h0M221.9 167.8h0M219.8 166.5h0M221.3 165.9h0M221.1 166.8h0M220.0 167.4h0M221.4 169.5h0M219.8 172.2h0M220.9 171.3h0M218.2 166.8h0M220.6 172.5h0M220.6 160.0h0M230.7 162.0h0M230.7 175.5h0M233.5 161.2h0M232.0 177.3h0M232.4 163.2h0M231.6 161.0h0M231.0 176.9h0M230.4 179.3h0M231.7 169.1h0M231.9 164.2h0M231.6 164.8h0M231.0 164.4h0M231.8 180.3h0M231.0 180.2h0M254.3 168.7h0M255.2 170.9h0M265.9 181.1h0M267.9 181.2h0M277.9 161.6h0M277.9 150.0h0M277.4 163.9h0M276.9 160.0h0M279.3 165.8h0M277.4 154.5h0M277.0 155.2h0M275.9 164.7h0M276.7 150.8h0M277.9 162.5h0M279.3 165.4h0M277.4 161.9h0M278.2 154.8h0M288.4 180.9h0M291.5 179.8h0M289.1 174.8h0M316.7 174.9h0M319.0 180.2h0M319.4 177.4h0M318.3 183.0h0M319.4 190.7h0M318.7 166.4h0M316.5 180.5h0M316.7 166.6h0M317.3 184.4h0M319.5 166.0h0M334.1 146.3h0M334.6 160.1h0M335.9 151.2h0M333.9 145.3h0M334.7 160.0h0M333.3 154.4h0M333.3 153.4h0M335.0 149.8h0M335.0 152.5h0M334.9 160.3h0M332.5 159.0h0M335.4 161.0h0M335.7 148.9h0M335.4 149.3h0M335.6 146.8h0M352.8 175.1h0M351.2 159.9h0M351.0 164.6h0M351.7 165.2h0M351.9 161.9h0M351.3 162.9h0M351.6 172.3h0M351.6 168.2h0M349.3 165.4h0M351.8 157.4h0" stroke="#2a2ae6" stroke-width="1.2" stroke-linecap="round" stroke-opacity="0.72" fill="none"/><path d="M304.9 174.3h0M303.4 173.8h0M305.6 170.3h0M305.4 177.4h0M306.4 182.3h0M305.3 173.7h0M306.0 158.9h0M303.4 173.7h0M306.1 165.2h0M305.5 178.0h0M304.5 187.9h0M306.4 152.9h0M306.0 189.2h0M307.2 187.7h0M305.4 160.7h0M307.7 178.6h0M306.0 191.5h0M304.1 195.4h0M306.3 169.5h0M305.5 169.3h0M304.0 163.0h0M307.4 178.2h0M305.6 201.1h0M304.7 173.3h0M305.7 160.6h0M303.8 160.6h0M303.7 161.6h0M304.7 173.6h0M304.0 198.3h0M305.2 187.5h0M305.6 181.9h0M306.1 184.2h0M306.2 195.5h0M305.0 170.8h0M304.9 169.3h0M306.3 189.3h0M304.9 191.5h0M306.3 174.7h0M304.2 189.3h0M305.0 171.7h0M306.1 155.8h0M305.4 193.0h0M307.7 168.8h0M306.9 191.3h0M306.2 171.9h0M304.3 189.5h0M305.5 170.4h0M306.6 170.3h0M303.4 194.2h0M308.2 193.2h0M307.7 187.1h0M304.3 171.5h0M307.3 180.3h0M305.0 181.4h0M306.9 175.2h0M306.8 191.7h0M306.3 176.9h0M305.0 177.0h0M305.8 177.9h0M305.3 186.0h0M304.2 153.6h0M305.8 176.5h0M304.8 184.9h0M304.5 202.9h0M306.6 185.6h0M306.4 180.9h0M308.1 185.2h0M304.5 151.1h0M307.0 194.0h0M306.5 183.8h0M304.5 187.0h0M306.3 193.3h0M306.8 152.0h0M305.3 193.9h0M306.6 181.4h0M306.6 173.5h0M305.2 179.1h0M304.0 183.3h0M306.3 152.6h0M304.4 198.1h0M306.5 177.5h0M307.9 177.3h0M306.5 167.4h0M307.1 180.6h0M306.5 189.2h0M304.3 192.9h0M305.5 153.4h0M305.3 200.0h0M307.1 182.2h0M306.6 201.7h0M308.2 155.8h0M306.2 195.3h0M306.1 188.3h0M307.6 196.5h0M306.1 197.8h0M306.0 202.5h0M308.6 193.5h0M304.1 200.3h0M306.0 194.9h0M305.8 195.7h0M306.5 199.4h0M305.2 194.9h0M305.7 197.7h0" stroke="#9a40e0" stroke-width="1.2" stroke-linecap="round" stroke-opacity="0.72" fill="none"/><path d="M20.7 174.8h0M18.9 167.6h0M19.5 199.7h0M20.3 195.1h0M21.0 183.0h0M18.8 171.6h0M20.9 176.6h0M19.6 195.6h0M21.1 182.1h0M20.8 170.5h0M21.2 186.8h0M20.6 179.5h0M21.8 179.5h0M19.6 193.1h0M19.3 193.8h0M18.4 198.0h0M19.3 169.3h0M22.0 198.5h0M18.4 195.8h0M21.2 191.3h0M22.0 191.8h0M24.8 166.8h0M25.2 177.6h0M28.4 171.3h0M26.7 176.8h0M27.9 141.2h0M28.2 177.9h0M26.7 129.4h0M26.5 191.8h0M27.6 180.2h0M27.0 171.5h0M26.0 181.7h0M27.8 176.6h0M27.0 176.2h0M29.3 179.0h0M26.7 164.7h0M26.2 161.8h0M27.0 153.6h0M27.3 146.2h0M26.7 166.2h0M28.1 156.6h0M26.2 174.8h0M26.8 159.2h0M29.3 174.7h0M29.2 169.7h0M26.7 189.8h0M27.7 156.5h0M28.8 141.3h0M25.0 166.5h0M25.9 159.5h0M26.9 158.7h0M27.5 151.3h0M27.6 164.7h0M27.9 156.4h0M26.4 163.1h0M27.4 173.6h0M24.1 148.3h0M26.1 168.9h0M26.6 157.6h0M27.0 199.7h0M24.7 169.8h0M27.5 156.2h0M24.7 177.6h0M24.8 175.3h0M26.6 201.5h0M29.3 167.7h0M25.9 139.8h0M25.2 167.6h0M25.4 169.5h0M26.7 182.8h0M27.3 191.8h0M27.7 201.6h0M27.2 159.3h0M27.1 177.4h0M25.6 152.4h0M29.3 187.8h0M26.4 171.3h0M26.5 175.4h0M28.5 179.5h0M28.6 166.6h0M27.9 161.0h0M25.4 169.1h0M27.7 186.2h0M26.0 169.8h0M28.8 182.5h0M28.2 139.0h0M24.5 188.4h0M26.0 159.9h0M25.8 127.5h0M27.6 152.4h0M28.1 162.0h0M28.5 182.7h0M27.3 163.9h0M27.1 170.4h0M27.0 178.6h0M24.3 143.1h0M27.5 161.2h0M25.2 163.2h0M27.0 160.5h0M28.9 142.2h0M26.0 147.5h0M25.6 163.2h0M25.3 161.2h0M24.6 162.9h0M28.0 187.6h0M26.9 184.5h0M26.7 170.4h0M27.6 175.3h0M26.0 175.0h0M26.6 193.3h0M25.8 145.0h0M26.3 151.3h0M27.1 161.5h0M26.9 162.3h0M24.9 165.4h0M29.2 153.2h0M27.0 153.6h0M25.2 140.7h0M27.3 183.3h0M27.7 166.5h0M26.1 167.8h0M26.3 174.2h0M27.3 150.7h0M37.3 159.3h0M36.2 175.4h0M38.2 171.0h0M37.6 166.0h0M37.6 178.0h0M36.8 159.4h0M37.4 162.5h0M36.8 150.6h0M35.5 136.5h0M38.1 144.4h0M37.8 135.5h0M38.3 187.7h0M38.3 178.0h0M37.0 185.0h0M37.3 155.1h0M37.4 188.1h0M40.6 152.8h0M37.1 134.3h0M40.1 144.8h0M38.1 152.2h0M38.2 161.5h0M37.2 183.6h0M38.7 144.9h0M38.5 193.4h0M38.6 198.7h0M38.2 164.2h0M37.3 161.3h0M38.5 165.3h0M35.7 193.9h0M37.5 164.2h0M36.7 175.2h0M40.3 126.0h0M38.3 171.1h0M37.4 163.5h0M39.2 164.5h0M39.4 163.7h0M36.6 158.7h0M38.1 154.6h0M36.7 158.7h0M36.9 173.6h0M36.9 174.1h0M37.4 164.9h0M37.4 163.0h0M38.4 137.4h0M39.1 140.6h0M40.0 152.0h0M40.2 150.6h0M35.5 164.2h0M39.0 156.3h0M35.9 128.1h0M37.3 175.7h0M37.8 160.7h0M38.1 144.4h0M38.5 171.1h0M38.9 169.4h0M38.7 144.1h0M38.2 126.6h0M38.7 157.5h0M38.8 156.9h0M39.0 170.2h0M38.3 199.5h0M39.1 157.1h0M38.7 167.7h0M37.9 173.7h0M37.4 167.9h0M38.0 185.8h0M36.4 156.4h0M37.8 168.0h0M38.6 149.4h0M37.7 151.7h0M37.1 182.6h0M38.2 141.9h0M38.1 187.7h0M37.9 171.6h0M38.1 164.6h0M37.1 163.1h0M36.6 152.9h0M37.0 151.8h0M37.4 143.2h0M38.8 166.0h0M39.2 155.0h0M39.3 156.1h0M39.6 157.9h0M37.5 148.8h0M38.7 151.5h0M39.2 175.5h0M38.7 162.2h0M39.3 167.6h0M39.8 176.0h0M39.3 168.4h0M38.7 146.7h0M39.1 150.4h0M37.0 157.2h0M37.9 159.8h0M38.5 166.3h0M39.6 157.0h0M37.7 134.1h0M39.5 168.7h0M37.9 168.4h0M38.8 154.1h0M38.8 156.4h0M39.7 155.6h0M38.4 148.4h0M36.5 169.6h0M38.7 147.7h0M37.1 156.1h0M38.7 167.2h0M38.2 171.7h0M38.3 165.6h0M39.3 182.8h0M39.0 165.5h0M40.1 180.4h0M37.3 150.0h0M38.4 162.7h0M40.4 145.6h0M38.3 157.2h0M38.0 184.4h0M38.5 147.2h0M37.7 145.3h0M38.5 156.5h0M36.3 178.3h0M37.0 174.6h0M37.2 157.8h0M38.8 165.2h0M35.9 178.7h0M36.7 169.7h0M37.1 157.5h0M37.2 161.2h0M38.4 160.5h0M37.7 172.4h0M51.0 148.2h0M47.4 128.6h0M51.4 146.5h0M51.0 159.6h0M50.8 178.7h0M49.8 180.7h0M47.2 174.9h0M49.8 141.8h0M48.5 174.8h0M48.9 183.6h0M49.0 181.5h0M50.6 173.5h0M46.9 188.7h0M51.0 140.7h0M51.6 148.7h0M48.8 184.5h0M48.1 174.1h0M48.8 155.9h0M47.8 153.4h0M48.7 162.1h0M49.7 166.5h0M47.9 135.1h0M49.9 144.9h0M49.4 147.7h0M48.2 170.4h0M50.5 155.8h0M49.4 146.0h0M49.1 167.5h0M51.6 160.4h0M50.2 164.8h0M51.6 165.0h0M50.0 188.1h0M52.0 155.2h0M50.8 181.1h0M48.4 144.6h0M50.7 149.4h0M51.5 129.4h0M47.0 171.9h0M46.9 185.4h0M48.7 163.9h0M50.4 169.4h0M49.9 149.2h0M47.7 184.0h0M49.5 138.7h0M48.2 172.4h0M51.1 187.2h0M50.3 170.2h0M50.5 155.0h0M52.6 171.5h0M54.3 162.0h0M55.9 163.4h0M55.1 167.3h0M54.8 175.5h0M54.7 181.9h0M56.6 160.4h0M55.2 167.8h0M56.0 152.2h0M54.9 164.4h0M53.6 175.4h0M54.3 183.4h0M55.3 155.6h0M56.4 171.8h0M55.5 167.2h0M57.0 171.3h0M54.2 169.0h0M55.7 166.8h0M55.1 176.1h0M53.9 151.0h0M54.1 162.4h0M61.4 157.4h0M60.5 136.0h0M60.9 167.7h0M60.5 176.1h0M60.7 144.3h0M62.1 150.5h0M61.2 156.1h0M61.5 168.1h0M60.3 160.8h0M59.3 179.0h0M62.3 175.7h0M61.5 152.1h0M59.1 170.9h0M59.6 173.6h0M60.4 160.5h0M59.3 148.2h0M61.8 168.5h0M58.3 167.4h0M59.7 135.5h0M62.8 177.5h0M60.8 144.7h0M60.8 167.5h0M59.0 148.7h0M62.3 137.5h0M61.0 164.4h0M59.3 139.5h0M62.8 151.8h0M59.5 165.6h0M62.3 170.6h0M61.9 148.3h0M62.0 144.5h0M59.9 139.9h0M61.1 141.4h0M60.0 159.1h0M61.0 165.3h0M60.0 128.4h0M61.3 136.0h0M58.8 144.2h0M59.7 164.2h0M60.3 147.1h0M61.2 183.7h0M60.2 173.3h0M60.0 157.2h0M59.3 157.9h0M61.6 136.8h0M59.5 184.5h0M62.3 172.9h0M60.6 158.1h0M60.6 164.5h0M63.5 156.7h0M59.8 177.3h0M61.3 150.1h0M63.1 134.1h0M62.6 152.8h0M60.3 147.9h0M59.3 147.0h0M61.0 170.5h0M59.8 152.4h0M62.2 143.9h0M61.3 150.8h0M60.1 156.1h0M59.8 176.1h0M60.0 161.7h0M61.5 143.3h0M60.2 169.8h0M59.4 162.0h0M60.7 186.4h0M61.0 149.5h0M59.2 164.4h0M62.0 156.9h0M58.3 188.0h0M60.3 171.9h0M60.6 149.5h0M61.5 169.7h0M61.3 147.8h0M58.3 140.2h0M58.4 150.1h0M60.0 163.9h0M60.4 148.4h0M60.4 174.8h0M59.9 150.5h0M61.5 182.6h0M60.3 161.8h0M61.4 178.8h0M58.3 156.2h0M60.0 166.1h0M58.3 179.3h0M61.5 180.0h0M59.8 158.3h0M60.4 154.5h0M60.9 165.6h0M60.0 155.3h0M60.3 162.5h0M63.5 151.4h0M62.4 182.0h0M62.8 152.5h0M61.2 178.6h0M60.2 169.8h0M62.0 144.3h0M59.9 158.6h0M60.9 149.2h0M60.8 131.5h0M61.1 145.6h0M62.2 150.0h0M61.4 170.8h0M60.9 180.6h0M59.7 164.1h0M60.5 160.3h0M60.8 165.0h0M60.0 151.5h0M61.5 151.1h0M60.7 168.2h0M61.0 150.4h0M61.8 158.5h0M60.7 158.3h0M61.0 144.4h0M59.4 150.6h0M62.0 177.2h0M60.6 184.5h0M62.0 179.9h0M59.4 144.8h0M60.1 145.9h0M62.1 135.8h0M61.8 140.4h0M60.8 179.4h0M61.2 156.7h0M62.5 175.0h0M60.5 170.0h0M60.0 151.2h0M59.3 145.2h0M67.1 143.6h0M67.8 179.6h0M66.9 178.4h0M66.5 157.6h0M65.1 166.1h0M64.3 174.6h0M66.9 146.0h0M67.7 154.7h0M65.2 154.5h0M65.9 162.8h0M67.0 146.8h0M67.6 142.5h0M65.1 174.7h0M66.6 143.7h0M67.4 134.1h0M68.1 164.8h0M64.8 165.5h0M68.9 153.5h0M67.5 174.0h0M65.1 143.3h0M68.3 165.1h0M66.6 180.0h0M68.8 170.8h0M66.0 158.0h0M66.7 173.8h0M66.3 136.0h0M67.0 176.6h0M65.3 144.4h0M67.3 154.1h0M65.5 157.3h0M65.6 161.4h0M65.6 147.9h0M66.3 149.7h0M65.7 165.2h0M65.7 152.2h0M67.2 161.5h0M68.8 140.8h0M67.0 182.8h0M67.5 158.6h0M66.7 153.6h0M68.3 177.9h0M64.9 146.6h0M68.7 162.0h0M65.0 188.8h0M68.2 158.9h0M68.8 178.4h0M65.8 152.0h0M66.5 152.1h0M66.5 134.2h0M68.1 158.6h0M66.7 142.8h0M66.8 166.2h0M67.9 155.9h0M68.7 162.5h0M67.5 184.9h0M72.4 158.5h0M71.8 155.7h0M73.5 187.5h0M72.9 165.9h0M72.3 160.5h0M73.0 175.8h0M73.1 165.5h0M72.2 154.4h0M72.6 188.6h0M73.2 169.3h0M71.0 152.4h0M71.5 190.2h0M73.5 196.2h0M71.8 148.5h0M72.3 147.1h0M73.9 193.2h0M69.8 171.4h0M72.8 169.6h0M72.0 180.7h0M73.5 186.6h0M71.4 165.3h0M70.0 174.4h0M71.8 156.5h0M72.0 164.8h0M72.8 195.5h0M72.6 171.2h0M69.7 168.0h0M73.0 168.3h0M72.1 187.2h0M73.5 161.7h0M72.6 185.9h0M72.1 196.4h0M71.6 167.4h0M70.4 199.2h0M72.8 183.6h0M72.8 176.2h0M71.7 149.9h0M71.4 171.4h0M72.7 188.2h0M71.8 175.6h0M71.2 170.7h0M74.6 195.5h0M71.6 194.2h0M70.1 167.0h0M72.4 171.9h0M73.3 164.2h0M71.6 190.2h0M72.9 202.8h0M74.2 196.3h0M71.5 147.3h0M73.7 201.4h0M73.1 161.2h0M71.9 180.4h0M74.0 176.4h0M73.9 170.8h0M72.3 166.4h0M71.1 165.4h0M74.8 146.6h0M72.6 159.1h0M72.1 172.3h0M73.0 181.3h0M73.4 168.9h0M72.0 193.5h0M72.3 166.8h0M72.8 182.8h0M71.4 180.0h0M73.0 191.1h0M70.7 185.2h0M73.4 155.6h0M72.7 149.3h0M74.7 179.3h0M71.3 170.3h0M73.8 162.1h0M72.5 154.6h0M71.7 180.3h0M72.0 154.5h0M71.7 162.8h0M70.9 201.2h0M74.5 199.2h0M72.8 196.7h0M71.6 202.4h0M72.6 200.8h0M72.2 203.5h0M71.2 203.5h0M71.2 196.8h0M74.3 197.7h0M71.8 202.6h0M72.3 203.7h0M73.4 200.0h0M71.8 200.6h0M74.9 203.3h0M72.6 201.9h0M72.7 198.5h0M70.7 201.8h0M74.1 198.8h0M72.4 196.7h0M71.7 198.6h0M74.7 202.2h0M73.5 200.2h0M70.8 198.4h0M70.3 200.4h0M71.7 198.6h0M73.6 199.4h0M71.6 202.3h0M83.4 187.9h0M84.4 192.8h0M83.1 166.4h0M84.0 185.9h0M85.9 175.2h0M82.8 191.2h0M86.1 170.9h0M83.0 190.2h0M83.0 182.5h0M82.5 185.5h0M93.3 197.7h0M95.4 168.1h0M96.4 203.1h0M96.9 176.8h0M95.5 188.8h0M96.4 168.3h0M95.0 174.0h0M96.9 174.3h0M93.3 203.3h0M96.2 197.1h0M94.8 182.5h0M95.7 197.7h0M94.5 168.1h0M96.4 187.3h0M94.7 200.9h0M92.8 176.4h0M94.3 169.4h0M94.9 195.9h0M94.9 178.0h0M96.4 175.9h0M95.8 192.9h0M94.8 198.7h0M96.1 202.5h0M96.0 181.8h0M93.3 184.5h0M96.1 181.1h0M96.5 199.9h0M93.7 188.3h0M93.9 183.4h0M95.2 170.3h0M94.1 189.5h0M94.7 173.3h0M96.9 182.3h0M92.9 184.0h0M95.8 170.1h0M93.7 181.2h0M97.1 183.2h0M93.5 174.8h0M96.1 199.0h0M94.8 178.8h0M94.8 191.5h0M93.0 167.7h0M96.3 176.1h0M95.1 180.4h0M95.2 170.8h0M95.8 199.6h0M95.2 195.6h0M93.9 191.0h0M93.9 178.3h0M94.2 168.3h0M95.1 200.6h0M96.0 166.1h0M93.9 186.9h0M95.4 185.6h0M94.4 184.8h0M96.0 169.6h0M95.7 193.7h0M96.7 193.2h0M93.6 198.0h0M93.5 183.9h0M95.6 167.3h0M94.9 169.5h0M96.7 180.8h0M96.6 187.5h0M92.7 168.8h0M93.4 192.1h0M93.7 173.1h0M94.0 181.3h0M94.7 181.4h0M95.5 166.8h0M94.6 170.0h0M95.2 192.8h0M95.6 201.8h0M95.2 184.0h0M94.4 184.1h0M94.9 168.0h0M93.5 172.7h0M93.8 169.2h0M94.9 190.1h0M96.1 171.6h0M94.6 173.8h0M96.0 180.7h0M97.7 199.3h0M95.1 192.5h0M95.3 181.5h0M94.1 189.2h0M96.0 191.2h0M97.6 190.9h0M93.9 169.2h0M94.4 181.0h0M93.7 169.0h0M95.8 198.9h0M94.8 171.2h0M92.5 166.9h0M94.4 183.0h0M95.4 185.3h0M96.1 194.6h0M93.7 185.4h0M96.9 173.4h0M94.3 198.2h0M95.2 181.5h0M93.6 166.6h0M94.6 180.7h0M93.6 180.9h0M93.4 199.8h0M94.8 175.1h0M93.8 174.6h0M93.8 167.9h0M94.8 188.6h0M96.1 186.2h0M94.8 182.5h0M94.9 195.0h0M95.4 189.6h0M94.8 196.7h0M93.2 168.5h0M95.6 190.6h0M94.9 194.5h0M93.7 201.8h0M95.2 194.4h0M94.0 195.2h0M95.3 202.7h0M93.5 190.7h0M94.0 199.6h0M95.1 190.8h0M94.6 201.8h0M93.6 201.9h0M95.1 194.4h0M94.1 196.3h0M94.9 193.6h0M95.5 199.7h0M92.5 200.9h0M97.6 192.0h0M96.0 198.5h0M94.1 202.2h0M92.5 200.5h0M107.6 199.6h0M108.5 197.9h0M107.5 182.1h0M106.7 191.0h0M103.9 200.6h0M104.9 200.1h0M107.4 172.2h0M105.7 177.3h0M108.8 192.5h0M106.5 194.1h0M107.3 188.9h0M104.6 189.4h0M110.9 190.3h0M110.9 201.7h0M112.3 170.9h0M112.4 172.4h0M112.2 140.4h0M113.1 176.8h0M113.9 188.3h0M110.0 161.1h0M113.3 139.9h0M111.3 185.4h0M113.5 156.6h0M110.8 177.2h0M112.9 150.5h0M114.1 163.4h0M110.7 169.9h0M114.0 165.3h0M111.6 157.5h0M112.7 187.7h0M113.4 175.9h0M112.3 171.3h0M111.3 164.9h0M111.9 140.4h0M113.3 165.7h0M112.1 164.1h0M112.0 164.8h0M111.3 185.2h0M112.3 170.3h0M111.9 157.6h0M112.6 190.1h0M111.9 178.5h0M112.1 172.2h0M111.9 146.9h0M113.3 180.2h0M112.5 192.4h0M112.8 171.0h0M113.6 174.3h0M113.9 176.4h0M111.7 178.6h0M113.2 164.0h0M111.9 156.8h0M111.6 142.8h0M113.5 179.1h0M111.6 150.7h0M110.2 182.9h0M114.1 162.3h0M110.1 182.2h0M111.1 180.8h0M123.0 162.0h0M123.4 150.9h0M123.8 159.2h0M123.8 150.0h0M124.1 149.0h0M123.7 171.3h0M124.4 145.2h0M124.8 174.0h0M124.5 158.2h0M123.1 152.5h0M122.8 147.1h0M124.0 163.3h0M123.3 179.4h0M124.4 154.7h0M124.8 166.1h0M125.2 163.2h0M122.8 156.6h0M123.1 137.4h0M124.4 179.6h0M121.9 157.0h0M121.1 142.2h0M122.5 147.0h0M121.0 153.3h0M122.5 163.2h0M124.2 154.0h0M124.1 137.3h0M122.5 157.2h0M125.5 156.3h0M122.2 145.1h0M124.3 170.1h0M122.9 145.8h0M122.6 170.0h0M123.3 170.4h0M121.4 148.3h0M124.0 149.7h0M123.3 156.8h0M123.3 155.2h0M123.2 151.4h0M123.8 165.2h0M134.0 175.7h0M136.4 181.1h0M135.2 188.0h0M135.5 179.4h0M135.4 181.1h0M133.9 192.1h0M134.9 202.5h0M132.8 178.3h0M133.0 187.9h0M134.3 196.4h0M134.5 202.4h0M133.2 168.7h0M135.1 179.0h0M135.8 160.3h0M134.7 156.1h0M136.3 161.9h0M134.4 169.4h0M135.1 173.2h0M135.6 179.6h0M134.1 187.5h0M135.0 177.9h0M135.7 175.0h0M135.7 179.5h0M135.1 180.3h0M135.6 185.0h0M136.8 156.4h0M135.7 165.6h0M134.2 156.7h0M132.8 177.2h0M136.4 168.7h0M136.3 157.6h0M134.7 159.1h0M135.1 200.8h0M134.5 164.6h0M134.8 178.9h0M136.2 163.4h0M135.9 188.6h0M133.8 191.9h0M135.7 192.6h0M135.7 174.0h0M133.5 190.1h0M133.1 155.9h0M133.5 202.6h0M135.4 186.7h0M135.0 194.5h0M134.7 193.2h0M134.8 177.7h0M133.1 195.6h0M134.8 184.5h0M137.0 174.6h0M137.6 163.6h0M134.4 173.7h0M133.9 161.5h0M135.5 179.1h0M135.0 163.9h0M133.8 173.7h0M135.6 199.0h0M133.9 185.1h0M135.9 196.2h0M136.6 160.1h0M133.7 171.7h0M134.5 171.5h0M133.5 155.8h0M133.3 190.3h0M134.7 181.1h0M133.6 181.2h0M136.2 193.3h0M133.4 181.2h0M134.6 170.7h0M135.1 187.0h0M132.4 193.1h0M135.1 200.9h0M136.5 190.8h0M136.1 160.2h0M136.6 188.8h0M134.4 181.6h0M134.0 193.3h0M132.4 202.1h0M132.4 167.8h0M135.0 166.4h0M137.6 157.0h0M133.7 173.1h0M133.8 156.0h0M134.8 201.0h0M137.2 191.1h0M134.8 176.3h0M136.8 186.7h0M135.6 173.9h0M137.6 173.2h0M135.5 194.7h0M135.9 158.5h0M133.1 194.2h0M132.6 177.0h0M134.7 188.8h0M133.7 174.3h0M135.5 190.3h0M133.3 196.0h0M137.0 182.1h0M135.2 203.2h0M135.8 171.0h0M133.5 177.5h0M134.4 165.0h0M135.7 166.6h0M136.6 156.4h0M136.4 175.1h0M133.6 202.1h0M135.9 169.4h0M136.5 189.8h0M135.3 156.7h0M134.5 170.8h0M134.0 199.2h0M137.6 197.3h0M133.1 161.3h0M133.8 180.2h0M134.6 185.6h0M132.6 187.2h0M133.7 171.7h0M136.3 170.0h0M135.8 182.2h0M135.9 172.9h0M135.0 172.9h0M133.5 203.4h0M135.0 178.0h0M134.9 158.4h0M135.2 196.7h0M134.6 189.0h0M135.8 186.0h0M133.2 198.9h0M133.4 161.5h0M135.9 180.4h0M133.2 198.6h0M135.7 189.4h0M136.6 203.4h0M135.1 191.9h0M134.3 188.1h0M137.6 201.2h0M135.5 192.9h0M135.1 199.3h0M136.7 197.8h0M136.7 192.8h0M134.7 202.8h0M133.6 189.8h0M133.9 199.3h0M133.6 198.7h0M134.2 192.6h0M136.3 203.2h0M134.4 196.1h0M135.6 195.3h0M134.1 194.2h0M134.6 198.8h0M144.1 179.3h0M144.9 188.2h0M146.7 193.8h0M146.2 189.8h0M146.0 173.5h0M147.5 162.6h0M145.4 172.3h0M146.0 189.8h0M147.7 188.3h0M147.3 170.0h0M145.9 180.3h0M145.8 171.8h0M146.7 177.1h0M145.7 176.6h0M146.9 173.5h0M145.7 174.6h0M145.3 176.5h0M146.7 177.0h0M146.0 174.9h0M145.7 202.6h0M148.3 199.9h0M146.2 172.0h0M146.2 180.9h0M146.8 192.9h0M146.9 158.8h0M149.8 183.0h0M152.4 186.0h0M152.3 192.0h0M153.0 198.1h0M152.4 192.6h0M152.1 197.9h0M152.0 172.0h0M151.9 164.5h0M149.9 172.7h0M152.6 193.0h0M151.0 173.0h0M151.9 192.6h0M152.7 191.1h0M152.0 191.5h0M152.6 192.1h0M152.0 162.6h0M151.9 177.8h0M153.2 189.9h0M152.4 157.8h0M153.2 181.2h0M153.2 167.6h0M152.0 170.7h0M150.9 195.5h0M151.9 174.6h0M153.3 182.8h0M150.7 194.6h0M153.5 182.9h0M153.3 181.9h0M151.6 173.7h0M153.5 196.9h0M153.1 190.2h0M153.0 199.3h0M153.3 173.7h0M151.7 179.3h0M151.3 193.9h0M152.3 197.0h0M151.0 164.3h0M150.4 191.9h0M152.1 164.1h0M154.5 160.1h0M152.3 193.2h0M149.7 182.0h0M151.4 177.4h0M153.3 178.1h0M151.2 167.5h0M150.8 176.3h0M151.5 194.8h0M151.3 185.2h0M151.8 171.4h0M152.1 187.0h0M151.0 180.8h0M151.7 174.5h0M152.5 185.0h0M151.2 195.4h0M153.5 162.0h0M151.7 169.3h0M153.2 164.0h0M152.5 175.9h0M152.0 165.8h0M153.5 185.6h0M152.4 178.1h0M152.5 168.8h0M153.1 172.4h0M151.0 163.0h0M152.1 186.9h0M152.7 170.4h0M151.4 192.5h0M154.2 186.2h0M153.1 187.6h0M151.8 201.7h0M152.9 176.1h0M153.8 181.5h0M152.7 186.7h0M149.8 178.9h0M151.8 191.6h0M153.2 171.2h0M151.1 171.7h0M151.8 181.5h0M152.9 158.6h0M153.1 171.6h0M153.2 185.3h0M152.3 202.2h0M152.4 190.5h0M152.8 170.1h0M152.5 171.0h0M152.1 196.3h0M153.1 163.9h0M150.5 170.4h0M151.4 191.7h0M151.8 176.6h0M150.2 177.5h0M152.3 165.6h0M153.0 170.7h0M152.0 187.0h0M153.8 171.3h0M153.6 203.4h0M150.8 173.6h0M152.4 198.4h0M154.7 176.7h0M153.4 190.7h0M151.9 163.3h0M152.5 166.6h0M150.2 197.2h0M152.2 170.2h0M152.0 157.9h0M153.8 201.5h0M153.1 202.1h0M152.0 198.4h0M150.1 192.1h0M152.0 198.4h0M151.2 199.1h0M154.7 202.9h0M151.5 194.6h0M152.8 198.8h0M149.5 195.3h0M151.1 193.7h0M150.5 191.3h0M153.0 197.5h0M152.8 199.5h0M153.1 201.2h0M151.6 193.6h0M151.9 202.1h0M154.7 196.7h0M153.3 195.7h0M156.6 143.2h0M157.1 140.5h0M158.6 148.0h0M156.6 144.2h0M157.2 141.6h0M159.6 156.1h0M158.1 154.5h0M157.8 147.7h0M159.3 139.8h0M159.5 167.4h0M157.9 155.7h0M158.0 147.0h0M158.7 138.0h0M159.4 167.2h0M157.6 175.8h0M159.6 157.5h0M157.8 145.9h0M169.2 182.2h0M168.3 148.5h0M169.3 150.2h0M167.0 161.6h0M170.1 152.2h0M169.0 196.5h0M171.5 164.2h0M166.6 168.0h0M166.8 160.0h0M167.5 165.3h0M170.0 181.9h0M170.0 172.6h0M168.6 172.4h0M167.3 162.6h0M169.5 185.5h0M168.4 152.4h0M169.9 172.6h0M168.6 189.8h0M169.6 159.0h0M170.8 152.6h0M169.8 152.0h0M169.1 158.1h0M169.6 156.0h0M169.8 169.5h0M168.5 165.9h0M170.2 175.6h0M170.3 187.0h0M168.5 153.4h0M167.5 145.6h0M168.4 155.3h0M168.2 167.6h0M168.6 187.3h0M170.9 166.4h0M170.2 196.5h0M167.7 162.0h0M169.0 157.5h0M169.4 181.1h0M169.5 178.8h0M169.5 175.9h0M171.8 158.4h0M169.4 157.4h0M171.3 171.5h0M169.5 143.0h0M169.6 180.5h0M168.0 186.1h0M170.2 159.8h0M169.6 170.6h0M168.5 180.6h0M170.9 149.0h0M168.6 156.7h0M168.3 139.8h0M170.2 165.1h0M167.7 181.3h0M169.7 189.7h0M168.0 158.2h0M170.4 152.6h0M170.0 151.7h0M168.4 173.0h0M169.1 154.1h0M171.5 158.4h0M169.1 167.2h0M171.4 185.2h0M168.5 163.8h0M171.8 174.5h0M170.4 153.0h0M170.8 152.0h0M168.6 191.0h0M169.0 171.4h0M168.6 154.6h0M169.3 146.4h0M169.6 165.3h0M169.1 187.3h0M168.1 171.0h0M167.9 168.1h0M171.8 179.5h0M169.4 164.4h0M168.3 152.6h0M167.1 177.4h0M167.9 181.3h0M168.6 140.8h0M169.8 192.4h0M169.6 184.2h0M170.0 142.8h0M167.4 177.2h0M168.8 154.1h0M170.0 169.6h0M166.9 159.8h0M171.8 163.0h0M170.0 168.1h0M171.2 150.5h0M168.7 152.6h0M169.5 149.0h0M171.1 157.0h0M169.5 155.8h0M167.0 167.0h0M170.8 181.4h0M170.3 174.8h0M170.0 153.4h0M170.0 169.3h0M170.6 170.5h0M169.6 144.9h0M171.1 157.6h0M169.9 152.2h0M167.8 177.0h0M170.5 171.0h0M169.5 156.1h0M168.9 172.8h0M170.3 162.0h0M171.1 158.5h0M170.0 156.4h0M170.0 173.9h0M169.5 143.5h0M168.8 194.3h0M170.0 169.5h0M170.6 161.9h0M169.7 177.2h0M168.7 175.2h0M170.2 165.3h0M169.7 154.4h0M166.6 167.6h0M169.1 192.3h0M169.7 161.9h0M169.9 169.6h0M169.4 191.2h0M168.9 151.2h0M168.8 146.4h0M167.0 161.6h0M169.8 200.9h0M169.5 166.5h0M169.0 200.7h0M180.9 172.4h0M179.1 139.4h0M178.9 156.3h0M180.3 147.9h0M179.4 164.5h0M181.6 164.9h0M180.0 182.3h0M180.5 171.4h0M180.6 155.5h0M182.6 146.6h0M179.7 150.2h0M178.6 154.9h0M182.1 161.6h0M182.0 163.2h0M180.1 174.7h0M181.3 150.8h0M179.3 143.3h0M181.3 175.0h0M179.8 188.5h0M180.6 152.1h0M180.7 169.0h0M181.3 139.1h0M181.9 148.9h0M180.6 142.7h0M179.5 187.7h0M181.0 183.9h0M178.4 166.8h0M179.8 174.2h0M180.2 158.6h0M181.8 174.8h0M180.4 151.1h0M182.1 175.0h0M181.2 155.0h0M181.2 162.5h0M180.6 151.7h0M181.7 182.4h0M180.3 170.4h0M183.2 191.2h0M179.8 144.3h0M179.7 184.2h0M179.5 190.1h0M180.6 173.7h0M179.4 159.0h0M181.2 179.9h0M180.9 178.4h0M182.6 157.0h0M179.9 149.1h0M179.1 161.9h0M180.9 163.1h0M181.2 160.0h0M178.4 173.8h0M178.0 155.8h0M180.9 142.2h0M182.2 157.6h0M182.3 173.7h0M181.7 184.9h0M179.2 155.1h0M178.0 147.0h0M180.7 154.2h0M181.5 151.0h0M180.5 163.4h0M179.7 164.6h0M180.3 160.3h0M178.3 157.0h0M181.3 142.5h0M179.8 143.5h0M181.4 171.6h0M178.0 146.5h0M179.0 175.1h0M180.8 161.3h0M180.8 189.1h0M182.5 152.5h0M181.6 192.9h0M189.4 157.5h0M191.7 161.4h0M191.1 179.1h0M193.5 129.6h0M189.4 136.8h0M192.4 160.6h0M192.6 132.5h0M192.5 165.8h0M190.0 147.2h0M192.9 149.5h0M191.5 144.9h0M192.0 143.5h0M193.2 142.4h0M191.9 140.6h0M191.6 149.3h0M192.1 129.6h0M193.8 120.5h0M191.6 158.0h0M190.6 145.0h0M194.5 178.3h0M191.1 121.6h0M194.3 157.8h0M193.1 133.7h0M192.1 126.5h0M191.6 165.6h0M192.7 146.4h0M193.4 152.7h0M190.4 128.5h0M193.0 134.2h0M190.7 155.5h0M190.8 131.2h0M192.7 135.7h0M193.2 143.0h0M192.4 164.6h0M192.2 171.3h0M192.7 143.0h0M194.0 154.2h0M193.2 142.5h0M194.6 131.9h0M190.8 126.3h0M192.3 133.9h0M191.4 123.0h0M191.1 140.5h0M192.2 155.5h0M198.7 176.4h0M197.2 152.1h0M198.2 167.7h0M195.1 166.0h0M198.3 154.7h0M197.6 162.0h0M198.2 161.2h0M196.2 159.3h0M197.0 166.9h0M197.4 154.8h0M196.7 168.6h0M198.0 154.7h0M198.4 158.7h0M196.2 165.2h0M198.1 168.1h0M198.7 142.5h0M199.2 165.8h0M198.3 162.5h0M197.1 160.3h0M198.9 147.0h0M198.5 146.4h0M197.2 156.7h0M197.1 173.1h0M195.6 161.6h0M197.1 150.0h0M197.3 163.2h0M197.0 173.8h0M196.1 157.9h0M197.6 151.5h0M197.0 172.7h0M199.0 172.2h0M197.7 169.2h0M197.5 151.8h0M198.0 156.4h0M196.2 162.1h0M198.2 176.5h0M199.2 154.9h0M197.7 171.6h0M197.8 165.7h0M198.4 171.5h0M199.6 154.4h0M197.3 174.6h0M197.5 165.3h0M200.2 164.3h0M196.8 174.7h0M199.0 148.3h0M199.3 159.7h0M198.0 145.6h0M199.2 172.7h0M196.8 154.3h0M197.6 171.7h0M198.9 162.7h0M197.2 160.3h0M198.3 169.7h0M195.4 166.2h0M197.4 166.5h0M198.7 156.2h0M197.0 165.7h0M197.6 154.0h0M198.0 144.6h0M198.1 176.8h0M198.0 158.7h0M196.7 164.6h0M197.9 160.9h0M198.5 167.7h0M198.4 148.1h0M196.4 149.7h0M197.6 162.2h0M197.3 150.7h0M198.7 155.0h0M198.3 172.3h0M196.1 158.3h0M198.8 165.5h0M198.9 163.6h0M198.6 161.4h0M199.0 173.1h0M196.1 148.3h0M198.5 172.9h0M196.8 151.3h0M198.8 168.0h0M196.1 159.6h0M196.5 154.9h0M196.0 176.4h0M198.0 156.1h0M199.6 151.9h0M197.5 156.6h0M196.0 164.7h0M197.3 152.3h0M196.8 158.8h0M198.3 170.3h0M197.4 156.9h0M197.3 154.5h0M197.8 180.4h0M197.6 143.4h0M198.0 166.1h0M197.0 171.3h0M198.8 173.3h0M199.0 154.2h0M199.2 148.5h0M197.2 165.7h0M197.7 159.4h0M197.9 168.1h0M198.0 167.8h0M196.7 180.2h0M198.4 153.3h0M197.1 169.0h0M200.3 165.7h0M196.7 156.4h0M199.1 163.4h0M198.0 176.9h0M197.4 152.7h0M198.3 152.1h0M198.0 147.7h0M199.0 144.8h0M197.9 174.4h0M197.0 150.8h0M196.0 164.9h0M197.6 155.4h0M197.4 171.8h0M197.6 153.7h0M198.2 172.1h0M195.7 149.5h0M196.3 144.0h0M196.6 158.5h0M195.3 169.3h0M196.3 166.0h0M197.1 159.6h0M199.5 150.5h0M196.9 157.8h0M196.6 151.1h0M204.9 177.4h0M203.7 174.0h0M204.5 178.3h0M200.8 166.5h0M204.8 186.1h0M202.3 195.1h0M203.6 181.0h0M205.3 199.7h0M201.6 184.2h0M202.1 194.1h0M201.4 179.6h0M204.3 193.5h0M203.5 200.3h0M203.1 169.1h0M202.6 163.8h0M202.9 160.6h0M202.7 191.8h0M206.0 173.1h0M202.8 169.7h0M203.7 162.2h0M203.4 198.8h0M204.6 196.7h0M202.8 174.0h0M202.9 200.1h0M203.2 178.0h0M205.2 189.8h0M203.2 181.4h0M201.9 197.4h0M201.3 196.4h0M202.6 200.1h0M201.9 163.2h0M205.2 199.5h0M203.8 195.9h0M204.5 200.1h0M202.2 166.9h0M203.7 164.0h0M205.7 186.6h0M203.8 162.8h0M202.8 201.2h0M204.0 194.1h0M201.1 199.6h0M200.9 192.1h0M202.0 180.9h0M204.1 190.3h0M204.7 200.5h0M203.2 195.5h0M203.4 160.5h0M203.9 202.5h0M203.4 188.2h0M203.8 194.2h0M203.4 190.4h0M203.3 181.1h0M201.7 171.0h0M203.8 201.5h0M204.0 185.8h0M202.6 191.0h0M204.0 160.6h0M202.7 173.9h0M203.6 166.5h0M202.8 184.2h0M201.2 201.4h0M204.5 167.6h0M205.1 179.8h0M204.2 176.3h0M205.3 187.1h0M204.0 161.1h0M201.6 196.5h0M206.0 188.9h0M204.7 199.7h0M204.3 161.4h0M204.0 163.4h0M203.4 174.1h0M200.9 188.5h0M203.5 178.2h0M201.8 171.5h0M203.6 183.3h0M203.0 194.1h0M203.0 177.5h0M200.9 184.8h0M204.4 172.1h0M203.9 203.2h0M201.8 166.4h0M203.7 184.0h0M201.5 167.8h0M204.4 174.6h0M204.9 181.9h0M201.4 171.2h0M204.6 167.0h0M206.0 180.6h0M203.3 171.8h0M202.9 194.1h0M205.7 161.6h0M203.6 166.8h0M204.3 200.4h0M204.6 192.1h0M203.1 198.7h0M202.5 196.7h0M202.6 191.6h0M203.2 191.0h0M203.9 202.7h0M205.5 196.9h0M205.1 193.5h0M204.1 190.1h0M201.7 193.8h0M204.2 198.3h0M203.7 193.3h0M203.1 201.8h0M202.8 193.2h0M213.1 172.1h0M213.6 192.7h0M215.8 193.9h0M214.3 162.0h0M214.2 158.8h0M214.8 170.7h0M215.4 176.0h0M213.3 162.3h0M214.6 181.9h0M215.7 155.9h0M215.2 191.2h0M213.8 141.7h0M213.7 143.3h0M214.3 179.4h0M215.9 197.1h0M214.2 167.1h0M215.0 180.0h0M217.1 146.9h0M215.3 197.5h0M214.1 155.4h0M216.6 189.4h0M216.4 165.5h0M217.4 162.8h0M214.2 175.8h0M214.9 201.3h0M217.4 168.4h0M212.8 186.1h0M216.8 157.5h0M214.7 172.1h0M217.4 172.0h0M215.6 183.3h0M215.0 146.8h0M215.6 191.5h0M215.0 183.0h0M214.8 158.0h0M214.6 184.5h0M214.9 184.0h0M213.9 153.8h0M214.7 194.7h0M215.6 193.4h0M213.8 164.0h0M215.6 175.9h0M214.4 162.5h0M214.1 151.6h0M214.1 177.6h0M216.3 199.2h0M215.5 175.0h0M214.8 169.1h0M212.6 148.9h0M214.4 186.4h0M214.4 144.7h0M213.0 181.0h0M216.5 155.3h0M213.7 182.6h0M214.2 175.4h0M214.8 182.9h0M215.1 162.8h0M215.6 165.7h0M213.3 171.4h0M214.2 151.0h0M212.2 155.8h0M215.4 183.1h0M214.8 159.4h0M213.5 156.6h0M213.4 180.6h0M213.1 167.5h0M216.5 185.0h0M215.7 175.0h0M214.7 152.5h0M214.5 153.4h0M214.5 172.0h0M215.4 159.3h0M214.8 151.9h0M215.5 151.4h0M213.5 192.4h0M214.3 141.9h0M216.8 159.2h0M213.0 150.1h0M215.1 194.7h0M212.6 166.0h0M216.2 166.3h0M216.2 157.9h0M216.2 147.6h0M215.0 154.7h0M214.6 189.9h0M214.3 147.9h0M213.9 152.9h0M213.4 183.3h0M214.0 183.4h0M214.9 195.6h0M217.4 177.1h0M214.3 167.9h0M214.9 164.5h0M215.1 179.3h0M213.2 143.7h0M212.2 194.6h0M215.9 156.4h0M215.3 175.9h0M214.3 192.8h0M214.9 184.2h0M215.4 153.2h0M215.3 155.8h0M213.3 160.7h0M216.5 192.6h0M213.8 170.5h0M214.3 177.3h0M215.1 195.7h0M214.7 174.2h0M216.3 199.8h0M215.3 178.8h0M214.8 173.1h0M215.0 174.6h0M214.7 151.6h0M216.1 160.5h0M215.9 192.5h0M214.4 179.6h0M213.7 166.3h0M213.6 146.8h0M215.7 168.6h0M213.5 155.2h0M214.3 161.3h0M216.8 180.6h0M213.5 154.9h0M212.2 175.4h0M216.8 200.0h0M215.8 155.8h0M216.7 148.0h0M214.2 148.4h0M216.2 156.0h0M214.8 165.0h0M225.5 182.6h0M224.4 192.1h0M228.0 151.3h0M226.4 190.9h0M225.4 183.7h0M228.1 154.4h0M227.3 165.9h0M224.6 175.7h0M227.4 192.7h0M226.1 171.5h0M224.6 193.9h0M225.4 150.3h0M226.2 195.1h0M226.0 200.7h0M225.8 164.7h0M225.9 185.9h0M227.9 146.3h0M227.7 183.8h0M225.3 196.5h0M226.3 195.3h0M225.0 167.9h0M226.7 168.6h0M226.3 184.1h0M225.6 146.3h0M227.3 167.9h0M225.5 154.7h0M225.6 179.2h0M224.1 202.0h0M225.1 190.7h0M225.4 202.5h0M226.6 185.6h0M225.9 184.2h0M225.7 161.0h0M227.6 155.3h0M225.1 157.8h0M226.6 168.5h0M228.1 146.7h0M224.9 154.8h0M227.5 186.6h0M225.7 187.8h0M225.1 168.5h0M226.9 176.6h0M226.1 174.0h0M226.0 165.7h0M226.5 161.2h0M227.4 170.8h0M224.7 163.1h0M225.1 172.9h0M226.2 177.3h0M225.8 157.4h0M228.5 185.2h0M227.3 186.5h0M226.1 168.4h0M225.0 162.3h0M226.9 168.9h0M224.4 166.1h0M228.8 178.3h0M226.9 184.1h0M227.0 181.6h0M224.9 179.2h0M226.8 159.6h0M224.7 191.3h0M227.6 187.1h0M227.5 170.8h0M226.3 161.8h0M224.9 177.4h0M226.7 181.0h0M226.9 192.6h0M227.1 187.1h0M226.7 190.9h0M227.5 171.4h0M226.4 182.2h0M224.3 164.5h0M228.1 171.3h0M223.6 157.8h0M224.9 178.3h0M225.1 168.0h0M226.4 192.5h0M226.2 170.3h0M227.7 181.8h0M227.4 190.2h0M228.5 180.3h0M226.0 151.6h0M226.3 152.0h0M226.3 150.9h0M227.7 180.9h0M226.3 162.4h0M227.5 173.4h0M224.9 161.8h0M225.4 146.8h0M227.3 190.4h0M228.2 172.4h0M226.9 179.4h0M227.0 157.2h0M226.2 200.3h0M226.9 154.3h0M228.2 179.8h0M224.0 156.3h0M225.9 185.0h0M225.4 149.2h0M225.7 167.6h0M225.3 194.1h0M225.5 189.2h0M226.4 182.5h0M225.5 200.6h0M227.2 155.5h0M226.2 177.8h0M225.7 172.4h0M226.7 189.0h0M224.6 202.8h0M226.2 147.3h0M228.0 185.7h0M226.3 181.1h0M226.7 179.5h0M224.6 166.9h0M225.4 177.7h0M228.0 175.3h0M224.9 181.0h0M227.4 154.8h0M227.4 158.9h0M226.1 172.9h0M228.0 190.4h0M223.7 171.3h0M226.7 177.4h0M226.0 168.5h0M226.6 163.4h0M227.4 193.5h0M225.8 200.5h0M225.7 198.9h0M226.9 192.3h0M223.9 191.4h0M224.3 195.3h0M227.7 193.2h0M226.0 194.7h0M226.0 201.5h0M226.3 199.2h0M226.3 196.6h0M228.4 191.1h0M225.3 197.9h0M237.6 168.6h0M236.8 178.4h0M236.5 191.7h0M237.6 180.9h0M236.8 175.0h0M236.0 170.6h0M239.0 163.9h0M235.9 182.8h0M238.0 184.9h0M235.0 183.3h0M237.9 194.7h0M238.6 192.6h0M236.6 179.3h0M239.4 198.0h0M238.9 166.4h0M236.7 199.5h0M238.0 168.7h0M236.6 166.9h0M238.2 183.2h0M238.1 200.5h0M237.3 183.0h0M237.3 194.1h0M239.4 175.8h0M243.0 164.3h0M243.8 148.0h0M242.9 187.5h0M242.6 154.7h0M244.6 149.5h0M243.8 153.5h0M243.0 132.3h0M241.5 173.2h0M241.9 186.7h0M244.6 171.9h0M243.3 128.7h0M243.4 157.3h0M242.8 149.9h0M243.7 155.6h0M244.1 154.4h0M243.6 149.5h0M242.9 178.0h0M244.5 174.6h0M242.3 149.9h0M243.4 153.8h0M241.9 144.7h0M244.2 139.0h0M242.2 164.1h0M244.3 138.1h0M244.3 156.8h0M245.3 178.2h0M244.0 129.1h0M243.3 159.7h0M243.9 171.9h0M241.7 167.7h0M243.7 153.9h0M241.8 172.5h0M242.1 140.6h0M242.3 176.4h0M242.2 136.8h0M241.3 173.6h0M242.9 139.0h0M242.0 144.0h0M243.6 181.5h0M243.7 179.3h0M243.5 177.7h0M244.0 167.5h0M242.2 163.1h0M243.3 167.2h0M242.0 175.7h0M241.6 160.1h0M245.3 184.3h0M244.1 179.9h0M241.6 172.0h0M243.5 171.3h0M242.2 183.1h0M242.8 158.7h0M243.3 149.5h0M243.1 141.7h0M243.1 170.7h0M244.9 164.4h0M244.7 150.2h0M243.8 138.1h0M243.6 146.6h0M243.8 128.5h0M242.0 162.5h0M243.0 184.5h0M243.0 160.9h0M242.7 141.1h0M243.4 159.9h0M241.3 152.0h0M245.3 172.2h0M245.3 171.5h0M242.9 186.7h0M243.5 163.9h0M243.9 180.0h0M244.0 130.5h0M243.4 164.1h0M242.6 164.3h0M244.0 145.7h0M243.2 167.7h0M249.8 172.9h0M247.1 175.8h0M248.4 186.2h0M248.8 194.4h0M249.2 176.1h0M248.8 184.2h0M250.0 184.4h0M248.1 167.8h0M248.8 156.5h0M248.0 183.5h0M249.4 182.0h0M248.7 158.0h0M249.2 184.8h0M249.0 190.6h0M251.6 158.4h0M248.2 181.6h0M249.9 166.3h0M249.0 187.8h0M248.4 156.7h0M249.4 156.8h0M251.4 165.1h0M249.3 192.6h0M249.9 183.3h0M248.9 186.2h0M248.5 185.4h0M250.5 169.3h0M246.4 172.3h0M248.9 192.6h0M249.7 180.2h0M248.5 185.8h0M249.3 179.4h0M248.6 174.6h0M251.6 160.1h0M250.8 160.0h0M249.7 191.0h0M248.3 174.4h0M251.5 172.5h0M250.2 179.6h0M248.4 177.7h0M248.5 176.2h0M250.2 181.1h0M247.6 157.0h0M247.6 194.1h0M250.0 182.6h0M250.1 161.3h0M250.2 185.1h0M261.4 176.7h0M259.4 172.4h0M260.2 186.8h0M260.6 172.8h0M259.0 169.7h0M260.4 184.6h0M260.9 180.4h0M261.3 172.0h0M260.5 181.5h0M261.0 182.1h0M261.1 176.8h0M258.5 170.8h0M259.7 176.2h0M261.4 186.2h0M263.0 174.9h0M261.1 168.3h0M260.7 186.2h0M260.3 181.7h0M261.6 164.2h0M259.7 180.2h0M261.8 167.4h0M260.9 166.5h0M259.2 182.4h0M260.8 176.6h0M260.6 158.8h0M260.2 164.2h0M259.5 176.8h0M260.2 177.6h0M262.5 165.4h0M259.6 175.0h0M259.5 170.8h0M260.6 166.5h0M260.9 182.7h0M261.3 172.1h0M257.8 186.2h0M259.8 166.4h0M259.7 166.9h0M261.2 166.7h0M260.3 176.4h0M260.9 172.3h0M259.1 165.7h0M262.3 166.0h0M259.5 159.8h0M261.6 184.0h0M261.6 179.8h0M258.1 158.4h0M270.7 177.3h0M270.8 167.7h0M269.2 165.6h0M272.7 159.8h0M272.0 159.9h0M270.4 146.5h0M272.3 160.8h0M272.7 153.9h0M272.3 149.6h0M273.2 164.0h0M271.9 146.7h0M269.4 173.3h0M272.3 176.3h0M271.8 157.3h0M274.0 153.9h0M270.4 146.8h0M271.3 140.1h0M270.5 158.4h0M273.0 156.4h0M273.5 153.1h0M272.1 171.1h0M272.0 169.4h0M273.4 157.3h0M270.6 167.4h0M271.8 155.2h0M270.8 157.9h0M272.8 167.0h0M273.1 151.6h0M273.9 179.9h0M272.3 162.1h0M270.2 141.5h0M272.5 163.1h0M272.2 154.6h0M272.0 172.0h0M273.6 148.6h0M273.4 174.7h0M269.8 175.9h0M272.5 170.7h0M271.6 160.1h0M271.4 162.4h0M272.4 172.1h0M272.0 160.4h0M272.4 155.9h0M272.8 145.6h0M271.7 156.9h0M271.8 152.7h0M272.4 151.8h0M270.5 162.1h0M270.1 166.9h0M272.3 176.4h0M273.5 145.9h0M271.9 149.6h0M271.3 160.0h0M270.5 152.5h0M273.0 178.0h0M272.5 160.9h0M270.3 168.5h0M272.5 179.6h0M270.5 179.4h0M273.5 149.0h0M272.0 140.3h0M273.1 162.3h0M269.3 153.3h0M273.0 170.2h0M269.3 151.0h0M272.1 178.6h0M270.4 160.8h0M273.4 159.5h0M272.2 170.0h0M270.9 145.4h0M270.5 179.4h0M269.2 142.3h0M273.0 144.7h0M271.7 157.4h0M272.5 163.0h0M271.6 162.9h0M271.1 163.0h0M272.5 180.3h0M270.7 167.7h0M271.2 170.9h0M272.9 142.5h0M272.3 148.2h0M270.9 175.0h0M272.5 161.8h0M269.5 176.9h0M272.8 156.5h0M269.3 172.7h0M273.7 163.7h0M271.7 162.0h0M269.9 146.4h0M272.1 177.6h0M272.2 171.1h0M270.5 180.2h0M271.5 168.0h0M271.3 170.0h0M272.8 161.6h0M271.1 146.2h0M271.9 169.1h0M271.7 172.9h0M269.2 172.2h0M272.9 168.7h0M271.9 158.7h0M271.7 167.1h0M272.4 148.3h0M274.4 159.3h0M274.0 165.6h0M272.8 159.7h0M272.5 156.7h0M270.0 160.1h0M270.2 144.3h0M272.1 146.7h0M271.8 147.1h0M271.5 148.0h0M269.7 166.7h0M271.5 151.2h0M270.4 156.7h0M271.2 142.4h0M272.1 170.9h0M271.0 163.8h0M272.4 171.1h0M269.5 163.4h0M274.4 179.1h0M271.0 180.4h0M273.4 172.3h0M270.9 156.2h0M282.3 192.9h0M283.0 182.9h0M283.6 180.9h0M282.7 177.3h0M285.4 194.7h0M281.4 175.7h0M284.0 189.9h0M282.3 176.5h0M281.9 176.1h0M283.7 188.2h0M281.9 187.0h0M284.0 190.1h0M283.5 178.7h0M282.5 164.4h0M283.1 167.2h0M283.4 196.9h0M283.4 183.7h0M282.2 191.2h0M283.8 172.4h0M284.7 199.7h0M285.0 168.3h0M280.7 175.5h0M282.1 194.3h0M281.9 168.0h0M283.8 177.8h0M280.6 177.0h0M282.2 170.2h0M282.6 166.2h0M282.4 170.3h0M281.5 186.2h0M284.8 192.3h0M282.0 195.1h0M282.0 202.0h0M282.3 179.3h0M282.1 192.0h0M283.7 199.9h0M283.3 188.7h0M282.9 170.6h0M283.4 180.8h0M282.8 168.8h0M282.1 176.3h0M284.1 198.1h0M295.5 195.8h0M294.5 197.7h0M293.8 157.8h0M293.5 133.7h0M292.2 177.0h0M292.8 186.0h0M295.2 175.8h0M295.6 185.7h0M296.1 197.2h0M294.3 181.6h0M296.4 182.6h0M296.1 187.9h0M294.5 149.7h0M293.3 184.4h0M294.1 166.7h0M294.4 149.7h0M294.5 193.5h0M295.1 140.9h0M295.4 158.4h0M295.2 145.9h0M295.2 178.2h0M296.4 152.6h0M293.5 187.5h0M293.6 163.7h0M294.1 189.6h0M294.6 142.9h0M295.3 164.9h0M292.4 198.8h0M294.2 147.5h0M293.2 162.6h0M293.0 141.0h0M296.6 165.3h0M293.0 146.9h0M295.6 159.9h0M294.1 181.4h0M292.3 165.8h0M295.8 163.0h0M295.0 170.4h0M294.2 159.5h0M297.2 186.9h0M296.3 189.6h0M293.6 167.1h0M295.1 156.0h0M295.0 194.6h0M296.2 186.7h0M294.2 155.4h0M294.3 147.1h0M295.5 176.0h0M293.4 162.7h0M294.0 160.7h0M295.3 184.0h0M295.9 170.2h0M295.7 185.8h0M292.7 155.1h0M293.7 187.4h0M295.1 180.5h0M296.0 179.5h0M294.3 201.2h0M295.0 162.2h0M294.5 157.9h0M295.1 178.2h0M295.9 166.8h0M294.4 158.3h0M295.3 157.2h0M292.4 166.9h0M298.3 175.9h0M301.2 184.1h0M300.7 180.9h0M300.8 191.6h0M299.9 172.2h0M302.0 193.1h0M298.3 160.4h0M300.3 176.1h0M301.3 200.8h0M299.4 183.5h0M300.0 178.0h0M298.8 176.2h0M302.1 182.2h0M299.2 178.3h0M298.8 196.6h0M298.0 194.1h0M302.2 195.4h0M299.7 192.2h0M300.0 196.1h0M301.3 183.1h0M299.8 170.7h0M299.3 196.4h0M300.4 197.2h0M300.5 189.9h0M299.7 194.7h0M298.3 158.3h0M301.0 182.0h0M310.7 183.8h0M310.6 169.0h0M311.8 194.8h0M311.8 168.6h0M311.9 194.4h0M312.2 179.7h0M313.2 173.9h0M310.7 163.3h0M312.3 175.0h0M309.9 182.8h0M310.4 167.9h0M312.7 184.4h0M311.6 174.7h0M311.3 192.5h0M312.8 199.9h0M311.2 199.1h0M311.6 187.2h0M312.1 179.9h0M312.2 180.6h0M311.3 173.7h0M312.0 162.3h0M310.5 179.6h0M311.5 184.9h0M312.0 161.2h0M311.0 184.3h0M310.4 199.1h0M311.6 158.1h0M310.0 156.7h0M312.1 159.9h0M311.8 169.7h0M310.1 190.8h0M310.5 194.0h0M312.6 190.9h0M314.3 157.6h0M312.2 176.5h0M311.8 179.2h0M312.2 170.8h0M311.9 191.7h0M312.8 165.1h0M310.0 187.6h0M313.0 186.7h0M312.6 161.4h0M312.7 171.3h0M312.3 188.8h0M311.7 176.2h0M311.7 156.6h0M311.1 184.7h0M312.3 184.4h0M310.4 190.0h0M312.1 192.8h0M310.3 171.2h0M312.7 191.5h0M312.7 158.6h0M311.0 159.6h0M312.6 188.9h0M312.8 160.3h0M310.2 177.7h0M313.0 162.9h0M311.5 156.2h0M311.4 182.0h0M313.3 200.7h0M311.9 192.5h0M314.3 164.7h0M312.1 180.0h0M312.3 172.6h0M310.6 158.5h0M311.8 197.2h0M311.8 163.9h0M313.4 171.5h0M310.9 175.0h0M309.4 156.2h0M312.1 157.6h0M312.1 187.5h0M312.8 188.6h0M309.5 176.1h0M311.8 170.7h0M310.7 180.8h0M310.7 182.6h0M313.1 166.5h0M313.2 190.0h0M312.2 176.4h0M309.1 163.2h0M313.4 163.3h0M310.4 197.9h0M313.0 188.2h0M309.1 182.8h0M314.2 177.1h0M313.5 171.8h0M310.9 184.2h0M313.2 165.3h0M312.2 156.6h0M312.9 175.4h0M311.6 185.5h0M310.4 178.9h0M311.4 170.2h0M311.8 179.8h0M309.8 182.6h0M310.9 163.2h0M311.8 191.0h0M311.6 180.8h0M312.2 183.8h0M311.3 202.1h0M310.2 159.9h0M311.8 175.0h0M312.9 186.3h0M314.3 200.3h0M313.1 202.8h0M313.6 199.5h0M311.5 199.8h0M311.6 193.9h0M312.0 193.6h0M313.8 197.6h0M310.7 199.1h0M313.5 199.0h0M313.0 198.5h0M323.9 163.5h0M325.7 167.0h0M321.2 160.4h0M321.5 164.7h0M323.2 157.2h0M321.8 178.5h0M321.1 163.6h0M323.5 164.4h0M320.9 189.4h0M322.9 160.7h0M324.4 165.9h0M324.1 164.7h0M323.3 163.4h0M321.4 181.6h0M320.7 181.2h0M324.5 182.4h0M322.9 188.3h0M324.6 178.7h0M323.0 163.0h0M323.2 167.0h0M321.6 161.5h0M323.2 170.9h0M322.6 183.5h0M324.3 161.0h0M324.0 157.4h0M322.3 184.8h0M322.4 186.3h0M323.6 172.7h0M323.7 166.0h0M323.6 184.3h0M320.8 159.7h0M321.3 175.1h0M325.1 163.1h0M323.9 178.6h0M323.9 173.3h0M324.6 179.1h0M321.3 158.5h0M322.0 158.6h0M324.0 180.3h0M327.6 141.5h0M329.5 158.5h0M328.1 155.7h0M330.0 161.5h0M328.6 147.8h0M329.5 169.2h0M329.1 143.6h0M328.7 142.6h0M329.3 136.2h0M326.7 173.9h0M329.2 147.1h0M330.3 171.1h0M329.2 156.9h0M329.4 160.7h0M329.0 159.1h0M326.7 147.6h0M329.0 163.9h0M329.4 169.0h0M326.2 171.4h0M328.9 155.0h0M327.1 148.2h0M329.4 158.7h0M328.3 155.5h0M330.3 149.4h0M328.6 165.5h0M327.4 172.9h0M327.8 157.4h0M328.8 158.4h0M329.2 145.3h0M329.1 148.9h0M329.2 154.3h0M328.8 163.1h0M328.9 146.9h0M328.2 162.4h0M331.0 162.3h0M328.4 168.5h0M328.7 149.0h0M327.4 159.3h0M329.8 149.3h0M329.9 149.6h0M328.5 152.2h0M329.7 163.1h0M327.9 142.5h0M326.8 172.4h0M328.0 154.6h0M330.4 149.8h0M328.3 172.8h0M331.2 144.7h0M329.6 156.3h0M328.7 168.0h0M327.7 163.8h0M330.6 173.7h0M329.5 154.9h0M329.9 171.8h0M328.4 166.2h0M326.6 146.9h0M327.7 136.3h0M327.2 155.8h0M328.2 162.7h0M327.3 146.4h0M328.5 157.6h0M328.1 164.0h0M326.5 149.9h0M328.4 173.0h0M328.2 158.7h0M329.6 148.1h0M328.8 147.1h0M328.7 163.2h0M329.1 168.3h0M330.3 139.9h0M327.8 173.8h0M328.2 172.9h0M326.2 149.2h0M330.2 157.7h0M327.5 141.6h0M329.3 162.4h0M330.1 160.7h0M327.3 151.5h0M328.9 148.9h0M328.0 137.3h0M326.7 151.2h0M327.6 169.0h0M328.1 167.9h0M330.4 138.2h0M330.3 164.5h0M329.6 150.0h0M327.8 140.4h0M330.9 166.0h0M329.0 136.2h0M330.0 165.4h0M328.6 158.5h0M329.7 146.4h0M328.4 154.7h0M328.3 156.0h0M329.1 164.2h0M327.8 138.5h0M328.0 173.4h0M327.9 148.0h0M329.2 169.1h0M329.2 158.8h0M329.0 155.3h0M329.4 163.5h0M329.5 156.0h0M327.9 165.7h0M327.9 157.2h0M327.0 165.6h0M328.1 171.3h0M330.0 173.0h0M330.6 142.0h0M329.5 157.9h0M329.4 167.0h0M329.4 141.9h0M328.8 136.2h0M329.2 169.8h0M328.8 172.2h0M327.0 158.3h0M330.4 143.1h0M328.7 165.5h0M327.6 152.7h0M331.0 147.8h0M326.5 162.4h0M329.0 173.3h0M329.0 173.8h0M329.5 139.9h0M328.2 167.9h0M329.7 173.0h0M342.0 162.7h0M338.7 150.2h0M339.7 158.5h0M340.4 171.6h0M341.6 161.2h0M338.1 156.1h0M340.8 170.0h0M341.5 142.0h0M341.4 160.9h0M340.3 162.1h0M341.1 181.6h0M339.9 148.4h0M337.6 177.7h0M340.0 161.4h0M339.9 162.7h0M341.0 139.1h0M340.5 174.3h0M340.2 190.7h0M338.0 169.1h0M340.2 175.0h0M341.8 155.8h0M340.4 139.8h0M340.7 191.7h0M339.5 191.8h0M341.4 160.4h0M338.6 152.0h0M338.8 162.4h0M339.3 174.3h0M337.9 158.5h0M337.6 152.6h0M342.7 169.0h0M345.3 134.7h0M347.3 157.2h0M345.3 154.8h0M347.2 163.9h0M346.6 172.8h0M346.7 154.1h0M345.9 160.0h0M347.6 170.4h0M345.3 172.2h0M345.6 166.4h0M345.1 156.2h0M345.1 158.5h0M345.9 149.7h0M343.4 172.4h0M345.7 138.4h0M346.4 168.4h0M345.0 160.3h0M348.3 146.0h0M344.8 181.8h0M348.5 155.2h0M346.0 151.5h0M347.3 148.6h0M347.2 180.1h0M345.1 159.9h0M344.1 159.7h0M345.6 173.4h0M346.9 183.4h0M344.6 145.5h0M346.1 157.2h0M348.5 176.5h0M345.6 180.2h0M345.9 173.9h0M345.5 146.5h0M346.2 162.8h0M345.7 181.2h0M347.2 165.8h0M346.5 178.4h0M345.0 182.9h0M345.0 190.9h0M345.6 160.7h0M345.5 159.3h0M348.2 175.6h0M346.1 155.9h0M347.2 144.6h0M347.5 154.4h0M346.6 180.0h0M344.3 174.2h0M343.5 153.5h0M346.6 161.2h0M344.7 180.9h0M344.3 151.2h0M346.4 177.1h0M345.7 132.3h0M346.4 161.8h0M346.0 146.8h0M343.8 166.1h0M345.3 160.9h0M347.2 176.3h0M348.1 176.2h0M347.1 166.7h0M346.2 144.0h0M348.3 151.7h0M345.8 169.1h0M347.0 133.0h0M346.4 186.5h0M347.1 170.4h0M344.5 182.2h0M345.8 153.2h0M347.7 162.3h0M344.8 162.8h0M346.4 139.5h0M343.6 156.4h0M346.2 182.0h0M344.2 162.3h0M348.4 146.6h0M346.0 148.0h0M345.3 156.6h0M347.0 138.1h0M346.4 169.6h0M348.4 156.8h0M345.7 169.4h0M343.8 144.1h0M346.2 178.6h0M346.7 158.9h0M346.7 168.8h0M345.7 151.3h0M346.7 174.9h0M348.5 151.8h0M346.9 147.9h0M345.9 186.6h0M346.6 175.4h0M345.9 183.9h0M346.8 174.9h0M346.8 195.5h0M346.8 162.5h0M346.4 184.0h0M345.6 150.9h0M346.2 189.8h0M348.4 192.2h0M346.2 159.3h0M347.1 181.3h0M348.2 180.8h0M344.9 156.5h0M347.2 164.6h0M345.2 139.1h0M346.1 168.3h0M347.5 181.6h0M345.2 148.3h0M345.9 147.0h0M344.8 147.7h0M346.1 174.5h0M345.3 178.4h0M345.2 182.6h0M345.7 145.7h0M346.5 187.7h0M347.1 155.0h0M345.8 185.7h0M346.3 157.5h0M346.0 179.1h0M345.7 144.8h0M347.6 135.2h0M346.2 147.4h0M346.9 156.7h0M345.6 150.2h0M346.0 157.1h0M346.1 151.3h0M344.9 158.9h0M344.4 189.5h0M344.4 149.6h0M347.8 172.3h0M355.8 159.9h0M356.1 157.2h0M357.6 161.5h0M355.1 168.6h0M356.6 151.6h0M359.3 156.2h0M357.4 170.9h0M356.9 172.6h0M356.3 157.9h0M359.9 177.7h0M356.9 150.6h0M357.9 168.2h0M357.6 157.3h0M358.2 170.4h0M357.6 165.0h0M364.0 201.4h0M364.4 184.6h0M363.8 180.5h0M362.7 186.2h0M363.5 200.4h0M363.3 176.4h0M364.0 181.7h0M362.1 184.0h0M363.0 193.9h0M362.4 185.5h0M362.7 191.1h0M364.6 192.1h0M365.6 187.0h0M362.9 181.0h0M362.4 173.8h0M363.0 193.3h0M361.7 170.2h0M362.8 196.7h0M364.0 172.2h0M361.7 174.8h0M362.2 202.6h0" stroke="#f31010" stroke-width="1.2" stroke-linecap="round" stroke-opacity="0.72" fill="none"/><path d="M31.7 179.1h0M31.5 165.3h0M31.0 167.1h0M33.6 173.1h0M33.3 166.6h0M32.4 176.8h0M45.4 139.2h0M42.9 159.0h0M43.8 149.7h0M45.1 146.2h0M46.1 145.0h0M44.6 148.7h0M43.1 140.3h0M41.8 151.0h0M45.0 176.4h0M43.2 171.0h0M43.1 149.2h0M41.2 174.7h0M46.4 163.9h0M44.7 162.2h0M43.3 151.7h0M43.9 147.1h0M44.4 149.3h0M43.5 160.2h0M43.4 145.6h0M42.6 165.6h0M44.6 162.0h0M42.1 176.6h0M44.9 141.9h0M43.9 143.7h0M43.4 145.1h0M44.3 142.3h0M42.6 151.6h0M41.8 168.0h0M41.7 157.8h0M79.6 173.4h0M78.2 172.5h0M90.5 181.6h0M89.2 189.3h0M89.0 184.7h0M101.7 188.1h0M100.1 179.1h0M99.8 180.9h0M100.1 174.5h0M101.4 193.1h0M100.1 192.0h0M100.0 187.2h0M102.8 182.8h0M100.0 183.4h0M100.6 177.6h0M99.7 183.5h0M116.8 163.5h0M117.0 176.7h0M115.3 176.9h0M118.7 180.4h0M128.6 171.2h0M127.3 171.1h0M141.6 177.6h0M141.9 169.8h0M139.8 178.0h0M140.3 167.2h0M141.4 176.5h0M140.5 188.2h0M140.4 180.7h0M141.2 177.2h0M141.0 167.8h0M140.8 163.7h0M140.2 165.2h0M164.8 147.6h0M164.5 148.3h0M163.9 152.7h0M162.9 149.5h0M164.1 152.8h0M164.7 137.9h0M165.1 153.5h0M176.9 145.0h0M174.3 145.6h0M173.7 149.1h0M174.2 138.6h0M175.1 169.3h0M174.5 151.8h0M175.6 160.3h0M176.9 160.7h0M175.9 168.4h0M176.2 147.7h0M173.8 144.9h0M174.2 153.4h0M173.4 167.7h0M176.0 153.8h0M177.0 152.2h0M177.4 150.7h0M174.7 153.3h0M172.9 138.2h0M174.8 140.2h0M185.5 157.9h0M187.3 158.1h0M185.4 162.6h0M186.3 144.2h0M184.9 154.9h0M185.1 137.9h0M185.3 162.3h0M186.5 167.1h0M186.5 149.1h0M209.4 190.1h0M207.9 187.9h0M211.3 190.4h0M207.5 192.8h0M209.2 189.4h0M210.5 187.1h0M210.1 188.6h0M208.4 198.0h0M210.9 193.1h0M208.1 186.2h0M209.7 193.0h0M208.1 182.5h0M209.4 183.0h0M222.3 166.9h0M220.5 175.0h0M219.8 166.1h0M220.8 176.4h0M222.1 175.3h0M220.4 167.5h0M220.5 165.4h0M220.0 163.9h0M220.9 159.9h0M219.8 160.6h0M221.6 169.5h0M222.4 162.6h0M219.6 167.2h0M221.7 170.6h0M219.5 167.7h0M231.7 171.2h0M231.9 175.3h0M232.7 181.8h0M230.9 166.7h0M229.9 176.5h0M230.3 181.0h0M232.0 159.9h0M233.0 174.9h0M234.0 163.1h0M231.4 172.5h0M231.4 173.8h0M233.4 178.3h0M231.9 172.5h0M253.4 168.0h0M267.0 179.7h0M278.1 154.9h0M277.4 163.6h0M278.9 164.2h0M279.6 159.6h0M278.3 157.2h0M276.8 160.0h0M275.7 159.6h0M276.7 157.0h0M278.6 165.0h0M279.8 157.6h0M275.4 157.1h0M276.1 153.3h0M277.1 163.0h0M277.0 154.9h0M289.2 173.4h0M289.4 187.8h0M288.6 188.3h0M287.8 173.8h0M316.3 168.3h0M316.2 188.2h0M315.6 173.0h0M318.6 168.5h0M316.4 173.2h0M314.8 170.4h0M317.7 167.0h0M317.8 165.6h0M318.1 185.5h0M334.7 155.5h0M335.2 159.3h0M332.7 151.3h0M333.8 151.9h0M333.4 142.7h0M335.6 151.2h0M334.6 144.8h0M334.3 143.4h0M333.7 153.9h0M334.6 143.7h0M334.6 143.9h0M336.8 159.7h0M332.4 152.4h0M336.6 159.2h0M332.8 154.1h0M352.7 162.5h0M351.1 174.0h0M351.0 171.3h0M349.5 166.2h0M353.9 163.8h0M351.3 169.0h0M352.9 155.6h0M351.1 165.7h0M350.7 175.2h0" stroke="#2a2ae6" stroke-width="1.2" stroke-linecap="round" stroke-opacity="0.72" fill="none"/><path d="M306.4 187.8h0M304.8 186.4h0M306.5 198.7h0M306.0 167.9h0M305.8 167.7h0M304.9 175.4h0M304.4 187.5h0M306.1 201.9h0M306.6 194.0h0M307.8 162.2h0M305.4 194.6h0M304.3 192.3h0M304.2 194.7h0M303.4 197.1h0M306.5 182.1h0M305.7 185.0h0M307.2 188.7h0M308.6 197.9h0M304.3 195.5h0M305.6 175.9h0M304.7 202.0h0M304.5 155.7h0M305.2 162.6h0M305.4 187.2h0M307.5 184.0h0M304.6 156.4h0M304.5 177.1h0M305.7 171.8h0M306.6 180.1h0M308.6 195.8h0M307.1 173.8h0M304.3 174.4h0M304.1 186.8h0M306.2 171.6h0M304.7 163.8h0M305.0 172.7h0M307.4 186.7h0M305.9 165.0h0M305.8 155.4h0M305.5 165.7h0M308.1 184.2h0M305.9 159.8h0M304.9 183.2h0M304.9 170.3h0M307.0 199.6h0M306.9 202.1h0M305.6 155.2h0M305.6 196.5h0M304.6 184.7h0M307.6 170.2h0M306.3 190.6h0M306.9 179.8h0M305.9 165.8h0M305.1 173.1h0M306.6 166.4h0M308.0 160.4h0M304.5 170.6h0M308.0 179.6h0M304.8 165.1h0M307.2 183.4h0M307.9 181.4h0M307.9 199.8h0M306.0 184.9h0M303.9 171.2h0M304.2 182.9h0M308.0 158.5h0M306.2 191.5h0M308.2 164.2h0M304.6 164.9h0M306.5 176.8h0M305.0 185.9h0M305.5 174.8h0M305.2 183.6h0M306.6 156.1h0M306.4 180.0h0M304.5 158.1h0M306.3 184.3h0M303.7 192.4h0M305.8 159.8h0M307.8 194.1h0M306.5 173.3h0M307.1 185.6h0M306.6 151.1h0M306.7 162.0h0M305.7 181.9h0M307.4 171.8h0M306.0 186.4h0M306.3 191.4h0M304.4 190.7h0M306.8 178.0h0M306.3 150.0h0M306.5 179.5h0M306.0 193.0h0M306.3 196.3h0M306.1 198.6h0M306.6 194.6h0M307.0 195.8h0M308.6 193.0h0M305.3 196.1h0M307.2 193.3h0M306.3 192.6h0M304.3 197.7h0" stroke="#9a40e0" stroke-width="1.2" stroke-linecap="round" stroke-opacity="0.72" fill="none"/><path d="M21.0 180.9h0M23.0 163.0h0M20.6 176.9h0M21.1 199.5h0M22.7 178.1h0M19.3 188.5h0M21.3 181.8h0M22.0 187.3h0M20.2 190.4h0M21.9 202.6h0M21.9 188.1h0M21.9 178.4h0M21.2 184.6h0M21.5 179.7h0M20.1 183.1h0M22.1 190.8h0M22.5 185.3h0M22.7 165.0h0M22.2 176.5h0M21.1 190.5h0M25.2 157.8h0M26.0 169.9h0M27.8 165.3h0M27.6 158.2h0M27.2 171.7h0M29.0 161.9h0M27.8 168.4h0M26.6 170.2h0M26.2 160.3h0M24.1 154.3h0M26.8 177.9h0M27.2 163.3h0M26.2 164.7h0M27.9 171.2h0M26.8 157.1h0M27.3 178.3h0M25.1 137.6h0M24.4 159.0h0M28.5 167.6h0M26.5 149.4h0M24.9 163.6h0M28.2 129.6h0M29.3 178.5h0M26.4 159.3h0M26.7 167.3h0M28.6 189.8h0M26.9 172.4h0M25.1 173.8h0M27.5 197.1h0M27.1 159.4h0M27.3 177.1h0M27.1 163.5h0M27.7 133.0h0M27.8 166.2h0M25.2 146.0h0M26.1 164.0h0M27.7 174.9h0M25.3 153.0h0M27.7 149.4h0M25.2 175.5h0M26.2 185.0h0M26.8 166.7h0M27.1 181.5h0M29.2 127.6h0M26.7 188.6h0M26.7 156.7h0M25.3 158.3h0M27.6 201.5h0M27.7 151.6h0M27.9 176.8h0M27.7 165.8h0M25.8 160.3h0M25.3 173.6h0M27.7 149.0h0M25.7 199.0h0M27.2 167.3h0M27.7 154.6h0M25.6 202.4h0M28.0 143.5h0M27.1 183.8h0M27.5 147.6h0M26.8 159.5h0M26.7 161.4h0M26.9 130.6h0M26.1 169.3h0M27.3 194.4h0M28.4 152.0h0M28.8 169.3h0M25.8 154.9h0M25.3 174.4h0M26.9 177.6h0M27.0 157.3h0M25.6 163.3h0M24.8 190.3h0M24.5 156.9h0M26.6 168.0h0M25.4 151.3h0M28.3 170.8h0M25.5 166.9h0M27.2 177.6h0M28.3 157.6h0M26.4 182.5h0M26.3 170.2h0M25.6 167.5h0M27.1 179.0h0M26.5 164.1h0M26.4 145.7h0M26.8 177.4h0M27.9 165.0h0M26.3 151.1h0M25.7 154.4h0M26.0 137.4h0M26.7 144.2h0M27.0 152.3h0M25.3 160.4h0M27.6 194.6h0M25.9 189.2h0M27.8 169.7h0M26.6 154.7h0M27.4 147.9h0M26.5 164.5h0M26.9 172.9h0M26.6 186.8h0M38.6 138.9h0M39.1 163.0h0M36.9 133.5h0M38.2 155.4h0M37.3 162.6h0M40.7 162.7h0M38.1 158.4h0M39.5 143.6h0M37.3 137.9h0M36.7 164.5h0M37.0 192.9h0M37.3 184.2h0M39.2 183.5h0M38.3 157.6h0M39.3 120.8h0M37.9 174.9h0M37.1 152.8h0M40.7 173.9h0M36.0 171.4h0M38.1 156.5h0M38.6 167.5h0M38.7 151.7h0M38.6 155.0h0M37.7 163.0h0M38.4 160.5h0M38.0 154.1h0M39.0 181.3h0M39.1 143.4h0M39.0 168.1h0M39.1 162.9h0M37.9 164.2h0M38.3 164.6h0M38.1 151.4h0M37.6 177.5h0M37.8 190.8h0M39.2 151.4h0M38.3 143.2h0M39.0 182.0h0M38.6 167.6h0M38.7 151.1h0M39.2 162.5h0M37.2 174.9h0M39.5 150.0h0M37.8 170.4h0M37.4 152.1h0M38.1 147.2h0M37.9 173.5h0M36.3 150.7h0M36.6 172.2h0M36.7 158.4h0M39.5 159.1h0M37.1 166.7h0M36.9 152.4h0M36.6 172.9h0M37.2 180.1h0M38.9 197.3h0M39.3 145.1h0M39.6 158.7h0M39.0 161.3h0M38.3 175.4h0M37.8 180.1h0M37.8 176.3h0M39.3 152.9h0M39.8 151.6h0M37.8 176.2h0M37.8 131.5h0M36.4 153.4h0M39.7 160.7h0M39.3 152.8h0M38.7 148.5h0M39.2 149.2h0M39.1 181.9h0M37.0 154.4h0M37.5 173.5h0M39.6 157.3h0M37.6 146.9h0M39.1 141.3h0M38.1 159.1h0M37.7 163.7h0M39.9 188.1h0M35.8 178.7h0M36.8 189.1h0M38.3 141.9h0M36.8 151.3h0M37.2 154.8h0M35.9 171.1h0M39.6 150.4h0M39.9 156.3h0M36.3 165.6h0M40.2 174.8h0M38.7 164.6h0M35.5 146.6h0M40.0 179.6h0M39.1 152.7h0M37.6 163.3h0M39.5 167.8h0M38.0 151.9h0M38.1 162.4h0M37.8 172.4h0M36.8 181.6h0M37.9 165.0h0M39.0 158.9h0M37.4 176.7h0M37.9 164.4h0M38.2 168.5h0M37.6 185.4h0M37.9 157.7h0M38.1 144.4h0M40.7 165.7h0M37.1 154.3h0M38.5 153.6h0M40.1 160.9h0M37.5 171.4h0M38.1 165.7h0M35.8 194.8h0M37.1 200.6h0M37.2 145.9h0M39.5 174.3h0M37.8 194.3h0M38.2 184.4h0M38.7 185.8h0M38.1 174.7h0M37.9 153.3h0M37.8 145.5h0M38.4 177.9h0M38.7 176.6h0M39.3 164.8h0M40.4 165.1h0M39.5 147.6h0M37.0 160.2h0M49.2 175.4h0M50.6 177.8h0M47.9 180.3h0M50.8 181.2h0M49.3 192.8h0M48.4 170.4h0M49.9 155.6h0M52.0 177.5h0M48.5 165.9h0M49.4 158.5h0M48.3 191.2h0M48.1 175.5h0M48.2 143.1h0M49.4 165.5h0M49.4 176.2h0M51.2 181.5h0M51.2 169.9h0M50.9 180.7h0M51.7 158.5h0M50.2 158.9h0M48.8 138.3h0M47.8 161.0h0M49.7 157.2h0M48.7 172.2h0M49.8 147.1h0M49.1 189.1h0M49.0 155.3h0M48.0 159.4h0M50.4 161.7h0M49.2 125.6h0M52.1 179.1h0M47.8 186.3h0M49.6 163.8h0M49.9 160.6h0M49.4 165.9h0M47.4 162.0h0M48.6 161.7h0M50.4 163.5h0M49.4 156.9h0M51.1 155.0h0M50.2 138.9h0M48.2 149.9h0M51.3 172.9h0M50.5 176.0h0M50.1 168.3h0M49.6 184.1h0M50.6 150.3h0M50.8 147.7h0M50.0 179.6h0M56.0 174.5h0M55.7 165.9h0M55.7 162.7h0M53.6 148.9h0M55.9 148.8h0M55.3 170.6h0M57.8 173.4h0M56.5 166.8h0M54.1 171.5h0M55.4 170.3h0M55.8 176.1h0M54.3 163.5h0M54.4 165.6h0M54.7 176.6h0M55.9 154.5h0M53.1 170.2h0M53.7 176.6h0M55.2 150.1h0M55.1 154.5h0M53.3 174.0h0M57.3 171.1h0M60.6 150.1h0M61.1 178.3h0M61.2 164.5h0M60.6 163.7h0M60.5 134.3h0M59.8 158.4h0M60.6 162.6h0M60.8 160.9h0M59.6 158.1h0M60.5 174.1h0M61.8 156.9h0M58.7 168.2h0M61.8 148.2h0M59.9 177.7h0M62.8 144.1h0M59.6 188.5h0M61.5 183.3h0M59.0 137.8h0M61.0 143.1h0M59.2 169.0h0M63.5 132.9h0M59.1 148.3h0M59.1 149.7h0M59.4 149.8h0M60.5 157.5h0M60.5 145.9h0M61.7 166.8h0M61.3 166.6h0M60.1 154.2h0M59.8 151.9h0M60.4 150.3h0M60.4 172.5h0M60.2 166.5h0M61.6 147.2h0M60.3 159.3h0M60.3 169.3h0M62.8 157.8h0M60.2 185.0h0M59.1 174.2h0M60.1 181.3h0M59.5 183.4h0M61.6 149.3h0M62.9 171.0h0M60.2 144.8h0M59.2 154.4h0M61.6 141.3h0M60.5 154.9h0M62.1 178.8h0M60.3 159.4h0M60.0 171.9h0M60.0 156.4h0M61.2 141.6h0M62.1 167.9h0M60.3 175.8h0M63.5 158.0h0M60.8 176.7h0M59.7 135.9h0M59.4 155.6h0M59.7 155.1h0M61.1 163.1h0M61.0 161.3h0M58.3 134.7h0M61.7 162.0h0M60.5 158.7h0M59.3 156.2h0M62.7 154.7h0M60.9 141.4h0M62.2 170.8h0M60.5 146.2h0M62.2 142.6h0M59.8 176.3h0M60.2 167.7h0M61.2 179.2h0M61.2 142.9h0M59.7 137.9h0M62.0 158.3h0M59.9 166.3h0M60.1 167.6h0M60.8 155.0h0M61.7 154.3h0M61.5 142.6h0M60.7 149.0h0M61.3 163.3h0M60.9 156.5h0M59.5 153.0h0M62.0 152.6h0M60.3 173.2h0M61.7 145.6h0M60.5 140.6h0M60.2 152.0h0M63.1 144.2h0M62.9 167.7h0M61.1 155.1h0M58.3 184.2h0M59.4 136.7h0M62.7 157.0h0M60.1 165.6h0M60.1 158.8h0M60.9 156.0h0M59.1 161.3h0M60.0 165.5h0M61.0 192.6h0M60.0 173.9h0M60.9 134.1h0M60.9 136.2h0M60.4 168.7h0M62.3 133.6h0M58.6 183.6h0M59.9 147.9h0M62.3 151.0h0M60.9 143.0h0M59.9 163.3h0M59.6 146.1h0M60.8 151.1h0M61.0 157.1h0M63.2 179.6h0M62.3 154.1h0M61.5 157.6h0M60.6 166.3h0M62.6 155.7h0M62.1 141.2h0M62.9 155.9h0M61.2 133.2h0M60.6 171.0h0M62.1 158.2h0M59.4 152.4h0M61.6 177.4h0M59.8 140.1h0M59.8 174.7h0M59.9 140.3h0M67.3 138.9h0M66.7 138.2h0M67.6 137.7h0M68.3 158.1h0M65.2 134.7h0M66.1 146.5h0M64.8 159.5h0M68.6 160.9h0M68.0 150.4h0M64.0 165.1h0M67.0 157.3h0M68.6 134.2h0M65.5 138.2h0M68.2 178.8h0M64.4 166.9h0M66.6 172.0h0M66.2 136.5h0M66.7 144.9h0M67.7 168.7h0M65.7 152.7h0M67.5 186.0h0M67.3 142.6h0M66.2 136.3h0M65.3 164.3h0M65.4 164.6h0M65.5 154.1h0M65.9 177.3h0M65.9 182.3h0M66.7 176.2h0M65.6 134.6h0M65.1 163.8h0M64.8 137.4h0M66.4 165.4h0M67.5 158.6h0M67.8 164.8h0M67.1 166.7h0M66.1 143.7h0M65.8 153.3h0M67.5 162.8h0M66.0 142.6h0M66.6 179.6h0M67.7 189.4h0M64.0 174.1h0M65.4 136.6h0M66.0 185.6h0M68.4 151.3h0M64.9 165.5h0M67.5 171.0h0M64.9 149.4h0M65.4 174.9h0M65.5 139.9h0M65.6 161.2h0M67.5 189.8h0M66.1 164.4h0M68.1 165.0h0M71.7 190.7h0M71.1 166.5h0M71.5 158.4h0M70.7 182.7h0M71.2 164.4h0M70.9 162.1h0M73.4 169.0h0M71.2 197.0h0M70.7 164.3h0M72.3 178.4h0M74.5 189.9h0M73.3 193.5h0M72.7 162.7h0M71.8 175.2h0M71.8 181.6h0M73.1 159.8h0M71.2 165.4h0M72.2 178.0h0M70.8 159.1h0M73.5 186.1h0M70.7 175.5h0M71.3 175.1h0M72.5 164.9h0M73.1 185.6h0M70.9 160.7h0M71.8 162.9h0M72.3 191.2h0M73.7 152.6h0M72.2 200.2h0M72.3 174.9h0M72.7 178.8h0M73.1 151.0h0M71.2 177.3h0M71.4 173.6h0M72.2 190.1h0M73.9 185.5h0M72.8 147.3h0M72.3 192.4h0M70.6 171.6h0M69.7 162.6h0M72.5 188.9h0M72.1 150.7h0M72.0 164.8h0M71.7 175.1h0M72.8 190.0h0M72.8 192.4h0M70.7 191.4h0M71.8 162.4h0M72.0 183.7h0M71.2 176.7h0M72.5 160.0h0M72.2 193.9h0M72.1 163.2h0M71.6 174.0h0M73.5 174.5h0M72.7 158.8h0M71.5 150.3h0M73.0 150.4h0M72.5 197.9h0M73.5 202.1h0M71.5 177.8h0M70.9 171.4h0M71.9 200.4h0M71.7 153.2h0M72.9 190.9h0M71.9 174.6h0M72.1 182.3h0M71.7 170.5h0M72.2 180.8h0M73.2 178.8h0M72.5 180.6h0M72.1 178.4h0M69.7 197.5h0M72.2 172.7h0M70.9 175.7h0M71.9 159.6h0M73.7 192.9h0M72.1 200.3h0M72.2 203.3h0M73.5 199.0h0M71.6 197.3h0M73.8 203.4h0M72.2 199.2h0M72.3 196.7h0M69.9 201.0h0M71.5 203.0h0M71.9 203.0h0M70.3 197.3h0M74.1 201.3h0M73.7 197.1h0M71.1 201.5h0M72.4 200.1h0M72.5 197.1h0M71.2 201.5h0M73.3 200.3h0M72.1 204.0h0M72.9 201.0h0M72.8 199.6h0M69.7 197.0h0M72.6 199.1h0M73.3 197.1h0M72.7 202.8h0M70.7 200.5h0M71.2 197.1h0M84.3 185.6h0M82.6 171.0h0M82.6 163.4h0M84.4 181.9h0M83.0 190.2h0M83.6 156.9h0M82.8 168.1h0M85.9 167.8h0M85.7 160.5h0M96.7 196.6h0M97.7 181.9h0M93.9 172.6h0M92.5 196.8h0M94.8 172.0h0M94.9 198.8h0M94.7 187.8h0M94.4 199.8h0M95.4 172.0h0M94.8 174.2h0M97.7 183.0h0M94.0 190.1h0M93.5 187.0h0M95.1 179.8h0M94.3 193.6h0M93.3 178.4h0M95.1 198.4h0M96.4 184.0h0M95.5 196.1h0M94.6 175.7h0M93.3 199.5h0M95.1 189.7h0M96.7 174.6h0M93.3 188.8h0M94.8 192.3h0M95.9 188.9h0M94.7 187.5h0M96.5 186.8h0M94.2 185.9h0M94.2 175.5h0M93.9 182.9h0M93.9 190.7h0M96.3 193.5h0M94.7 179.4h0M95.9 190.0h0M93.5 182.7h0M96.0 188.9h0M94.4 180.0h0M94.8 181.7h0M96.1 172.1h0M93.0 191.4h0M93.4 187.0h0M97.0 182.7h0M96.3 179.3h0M94.0 176.8h0M93.0 176.4h0M95.9 168.2h0M96.7 167.9h0M95.8 202.5h0M95.4 191.1h0M94.2 188.6h0M94.4 178.8h0M96.5 198.4h0M96.2 174.8h0M96.5 177.5h0M95.9 183.3h0M95.4 186.0h0M94.8 176.5h0M94.1 181.2h0M97.2 173.5h0M94.5 197.9h0M96.7 166.0h0M95.5 169.8h0M94.7 193.4h0M97.5 167.1h0M94.2 191.1h0M93.6 173.3h0M96.5 200.0h0M94.4 175.0h0M93.1 179.6h0M95.7 176.0h0M95.0 193.5h0M96.1 196.6h0M96.6 178.4h0M94.4 184.3h0M94.1 191.0h0M95.1 185.6h0M95.2 202.0h0M97.4 202.5h0M93.2 180.0h0M97.7 181.6h0M93.4 169.8h0M93.6 173.9h0M94.5 175.6h0M94.4 185.9h0M94.5 177.4h0M96.7 170.2h0M94.2 174.4h0M95.8 200.1h0M93.9 174.3h0M95.3 191.3h0M96.1 186.3h0M94.3 192.7h0M94.8 181.4h0M96.4 175.4h0M93.3 187.8h0M96.4 194.3h0M95.3 174.6h0M96.6 200.9h0M93.9 178.0h0M92.5 176.7h0M96.5 173.4h0M95.9 194.9h0M94.3 175.4h0M95.0 179.7h0M96.6 173.4h0M96.9 175.1h0M96.2 194.0h0M94.0 169.5h0M95.0 166.5h0M95.5 181.7h0M95.5 176.6h0M96.3 192.5h0M94.3 178.1h0M94.2 189.2h0M93.9 195.6h0M96.0 197.7h0M94.6 190.3h0M96.5 201.2h0M94.1 197.1h0M94.4 195.5h0M95.2 192.6h0M95.9 190.2h0M95.9 193.8h0M93.6 194.7h0M95.7 190.9h0M96.1 194.3h0M93.8 199.3h0M92.5 200.6h0M95.9 199.8h0M94.2 196.6h0M95.8 197.2h0M96.0 197.8h0M96.8 191.1h0M96.2 191.4h0M105.3 187.4h0M106.8 184.6h0M107.2 183.2h0M108.4 186.0h0M106.7 183.5h0M106.7 191.7h0M107.1 200.3h0M106.0 199.0h0M107.4 195.9h0M108.8 195.4h0M104.9 179.1h0M106.4 187.4h0M107.3 185.2h0M111.9 154.3h0M111.8 191.8h0M112.4 193.6h0M112.9 161.1h0M111.3 177.8h0M112.7 152.4h0M114.2 193.8h0M112.4 163.9h0M112.4 171.8h0M111.8 157.3h0M112.5 147.3h0M110.6 157.0h0M112.9 190.0h0M113.1 176.4h0M112.9 155.7h0M114.8 162.7h0M112.1 171.1h0M113.7 169.4h0M111.0 152.8h0M109.6 194.2h0M113.1 177.7h0M113.5 170.2h0M110.4 168.4h0M113.0 190.5h0M110.8 143.2h0M110.7 185.8h0M113.4 179.6h0M112.0 163.0h0M110.3 157.6h0M111.2 191.0h0M113.1 149.4h0M112.4 149.7h0M112.6 158.4h0M113.0 150.2h0M111.0 173.4h0M111.9 152.8h0M113.4 159.3h0M112.7 157.8h0M113.4 160.1h0M112.4 161.1h0M111.6 170.4h0M111.4 176.4h0M113.2 198.5h0M113.5 181.4h0M110.7 179.9h0M110.9 162.9h0M109.6 180.0h0M122.9 146.2h0M123.0 172.7h0M124.3 155.9h0M122.5 153.1h0M125.8 148.4h0M122.3 161.2h0M124.5 173.1h0M122.1 153.8h0M125.1 169.3h0M121.2 154.0h0M123.8 176.6h0M123.6 178.3h0M124.0 138.1h0M123.5 139.2h0M122.8 138.9h0M125.1 171.9h0M123.2 169.7h0M123.8 175.7h0M124.7 142.4h0M126.2 166.0h0M123.1 175.2h0M123.5 150.8h0M122.8 172.3h0M125.4 152.2h0M124.5 156.3h0M123.9 161.2h0M121.9 169.6h0M122.0 170.4h0M122.0 177.8h0M122.9 172.2h0M121.5 144.9h0M125.2 164.6h0M123.4 140.4h0M124.5 175.3h0M123.3 148.2h0M124.7 173.4h0M123.2 158.5h0M123.8 168.8h0M122.9 177.3h0M135.8 189.4h0M132.8 172.0h0M134.2 172.5h0M133.4 192.4h0M135.6 165.2h0M135.1 179.3h0M136.4 175.0h0M135.2 188.9h0M133.6 190.8h0M134.2 166.0h0M134.7 184.9h0M135.3 178.2h0M134.6 193.5h0M135.6 177.1h0M135.5 184.0h0M136.2 199.4h0M133.8 184.1h0M136.3 192.8h0M135.0 171.7h0M135.1 163.0h0M136.8 157.6h0M134.1 199.8h0M134.6 192.8h0M136.2 181.9h0M135.4 201.2h0M135.5 173.9h0M134.9 187.0h0M136.2 168.6h0M135.9 167.2h0M135.9 183.0h0M135.5 165.2h0M134.3 187.8h0M134.0 185.6h0M136.7 195.3h0M133.7 186.7h0M135.3 170.6h0M134.0 166.6h0M137.6 172.8h0M136.3 180.1h0M134.9 184.2h0M135.3 167.7h0M133.6 164.7h0M136.3 186.6h0M137.0 183.6h0M135.9 164.7h0M133.3 188.2h0M137.0 199.4h0M133.6 179.5h0M134.6 179.4h0M136.2 162.4h0M134.2 188.8h0M135.1 171.8h0M137.6 157.7h0M134.3 167.7h0M134.6 189.6h0M134.2 202.1h0M134.7 190.8h0M134.6 164.2h0M134.4 196.0h0M136.6 158.5h0M134.8 163.9h0M133.8 172.4h0M134.9 165.7h0M136.2 159.5h0M135.6 193.0h0M132.8 187.7h0M135.4 183.1h0M134.4 189.2h0M136.9 161.2h0M134.1 199.8h0M134.3 185.5h0M136.1 164.8h0M137.5 173.9h0M135.6 190.1h0M134.2 164.2h0M133.7 158.6h0M135.1 155.8h0M135.1 175.5h0M134.9 159.5h0M135.7 168.2h0M136.9 187.7h0M135.5 200.1h0M136.0 171.1h0M137.2 190.2h0M135.0 189.9h0M134.3 176.4h0M133.0 186.3h0M133.1 183.6h0M134.5 187.4h0M134.6 201.9h0M136.3 184.9h0M133.2 176.4h0M135.5 172.7h0M135.0 167.3h0M133.4 188.5h0M133.9 197.9h0M133.2 182.1h0M134.5 162.8h0M135.4 165.3h0M135.3 199.8h0M134.4 168.9h0M136.3 173.9h0M135.8 176.3h0M133.8 163.9h0M135.6 178.3h0M135.1 188.6h0M133.1 182.6h0M134.2 158.5h0M135.5 192.3h0M134.9 181.4h0M135.6 188.1h0M136.4 168.3h0M135.5 186.2h0M136.2 181.5h0M135.3 167.6h0M135.4 179.0h0M134.2 166.0h0M134.3 156.1h0M136.0 175.1h0M135.9 196.6h0M135.2 156.9h0M136.7 167.8h0M135.1 169.5h0M134.3 184.3h0M136.0 185.0h0M134.8 167.2h0M133.4 175.1h0M133.0 185.8h0M134.9 188.1h0M134.7 194.1h0M134.6 188.4h0M135.7 193.1h0M136.2 196.1h0M135.7 197.4h0M135.8 195.8h0M134.2 201.3h0M134.0 201.1h0M135.5 188.8h0M134.8 196.4h0M134.6 191.3h0M135.4 193.3h0M133.3 195.4h0M135.7 198.7h0M137.1 193.8h0M135.8 191.1h0M133.2 192.2h0M134.1 198.1h0M133.8 190.7h0M136.8 201.7h0M136.3 188.1h0M147.2 160.0h0M147.8 189.7h0M148.8 193.2h0M146.8 199.9h0M146.6 179.0h0M148.1 196.1h0M146.1 165.7h0M143.9 186.5h0M146.4 190.5h0M147.3 184.3h0M147.1 161.9h0M145.3 159.7h0M144.7 180.2h0M146.5 177.6h0M145.7 197.9h0M147.0 170.9h0M147.2 167.5h0M147.2 182.4h0M145.9 174.6h0M147.4 193.3h0M148.2 185.3h0M146.4 191.0h0M149.0 170.1h0M146.0 174.0h0M145.9 159.1h0M150.0 192.1h0M151.2 165.9h0M153.3 164.8h0M152.0 170.4h0M153.0 179.3h0M151.8 199.5h0M149.7 184.2h0M150.7 192.7h0M149.7 202.4h0M151.4 184.7h0M152.8 175.6h0M154.7 159.3h0M151.3 169.6h0M150.0 194.7h0M151.3 183.2h0M151.4 201.8h0M153.6 189.3h0M152.4 189.9h0M151.8 159.2h0M152.5 165.4h0M151.2 179.8h0M151.6 169.7h0M151.2 166.4h0M149.5 189.9h0M151.4 182.9h0M153.1 185.2h0M151.8 183.5h0M150.7 161.1h0M152.6 201.7h0M150.8 187.9h0M151.2 159.7h0M149.5 166.3h0M150.2 182.3h0M151.5 175.8h0M151.4 187.2h0M151.5 185.0h0M149.5 192.6h0M153.1 187.9h0M152.1 189.2h0M151.6 180.5h0M152.1 171.0h0M149.5 176.8h0M154.4 191.2h0M154.1 177.8h0M151.4 184.3h0M152.4 174.2h0M152.4 183.1h0M151.3 167.1h0M150.6 166.8h0M150.8 180.3h0M153.2 181.7h0M150.5 181.0h0M150.3 182.7h0M152.0 200.6h0M153.4 186.0h0M152.8 172.0h0M152.9 159.3h0M152.4 172.8h0M152.5 166.2h0M153.6 189.2h0M153.3 162.4h0M152.1 186.0h0M151.7 170.4h0M150.6 166.5h0M152.6 192.2h0M152.1 163.4h0M150.5 177.7h0M152.4 168.8h0M152.5 194.4h0M149.8 184.3h0M152.3 179.9h0M151.7 163.0h0M151.9 173.4h0M151.1 165.9h0M152.4 183.7h0M149.5 179.5h0M152.3 182.0h0M151.9 185.3h0M151.7 164.4h0M152.8 159.5h0M151.5 167.8h0M150.7 191.4h0M152.8 161.1h0M152.6 169.1h0M151.3 180.2h0M153.4 187.9h0M151.3 190.0h0M151.0 179.8h0M152.5 189.7h0M152.9 176.9h0M152.6 164.1h0M152.9 174.5h0M152.0 159.0h0M152.2 162.2h0M152.4 181.4h0M151.1 187.6h0M153.8 176.4h0M152.3 174.3h0M152.7 166.9h0M151.1 173.8h0M154.6 170.4h0M151.2 185.2h0M151.9 171.4h0M150.0 165.2h0M151.3 202.9h0M152.0 191.9h0M152.1 203.3h0M153.5 190.2h0M152.0 197.5h0M151.6 195.2h0M151.8 197.2h0M152.3 190.4h0M151.4 196.3h0M153.5 201.4h0M153.8 197.9h0M150.3 200.5h0M151.5 198.5h0M154.6 199.3h0M150.6 190.8h0M150.5 191.6h0M151.6 203.3h0M150.9 198.4h0M149.9 200.0h0M153.5 194.5h0M159.4 162.4h0M157.2 148.5h0M157.7 145.5h0M158.6 137.9h0M157.9 156.1h0M157.5 164.2h0M157.9 147.0h0M158.2 144.8h0M156.8 173.6h0M159.1 160.5h0M158.3 152.2h0M157.7 173.4h0M157.8 137.5h0M157.1 146.9h0M157.6 160.1h0M159.0 138.1h0M156.2 165.9h0M167.3 167.7h0M169.8 169.4h0M169.6 149.8h0M170.3 141.1h0M166.6 163.8h0M169.6 165.9h0M167.7 150.3h0M168.7 187.2h0M170.0 166.4h0M169.9 146.7h0M170.5 201.2h0M170.1 155.1h0M169.0 151.5h0M169.4 149.1h0M169.8 178.4h0M170.9 160.7h0M167.4 164.0h0M168.2 196.4h0M168.0 177.5h0M169.2 177.4h0M168.5 167.4h0M169.5 141.8h0M169.4 147.5h0M169.0 161.9h0M169.8 168.1h0M167.0 168.4h0M171.3 193.8h0M169.0 179.8h0M167.9 191.2h0M168.5 143.7h0M168.6 186.2h0M169.1 169.8h0M167.2 192.8h0M170.5 150.1h0M168.2 148.4h0M169.4 171.0h0M170.9 152.0h0M167.8 168.4h0M169.5 164.7h0M170.8 171.5h0M169.4 151.9h0M170.3 171.3h0M170.0 176.9h0M168.6 152.3h0M168.2 180.7h0M169.5 143.7h0M169.4 194.9h0M170.3 170.7h0M168.0 163.8h0M169.0 147.9h0M169.6 154.9h0M167.8 146.6h0M168.9 167.1h0M170.9 186.9h0M168.0 156.7h0M169.5 147.5h0M168.7 188.2h0M169.8 179.3h0M168.4 158.8h0M168.6 150.5h0M168.6 145.2h0M168.3 173.2h0M167.4 156.8h0M168.9 184.3h0M169.9 164.1h0M167.2 185.4h0M167.9 167.2h0M170.7 166.2h0M169.9 177.1h0M169.4 178.0h0M167.1 188.3h0M170.5 141.0h0M168.9 187.2h0M168.9 159.9h0M168.8 162.7h0M169.9 166.2h0M169.7 151.9h0M170.1 165.1h0M167.0 150.1h0M169.8 169.4h0M168.4 167.0h0M169.5 158.9h0M169.2 157.4h0M168.9 188.5h0M169.6 170.4h0M168.7 175.1h0M169.5 185.5h0M170.4 150.0h0M170.9 166.9h0M167.0 182.6h0M168.5 178.8h0M167.8 193.2h0M171.4 164.8h0M170.3 151.7h0M168.7 182.1h0M168.7 175.1h0M170.1 158.8h0M168.5 166.5h0M170.1 188.0h0M169.0 164.7h0M169.2 150.3h0M170.3 166.5h0M169.6 195.8h0M168.1 154.9h0M169.6 162.3h0M168.7 150.4h0M170.6 148.6h0M170.6 144.9h0M166.7 180.0h0M170.3 149.7h0M169.0 143.0h0M168.8 196.1h0M169.4 173.0h0M168.8 165.0h0M168.4 168.8h0M171.0 150.7h0M168.6 158.8h0M170.1 183.0h0M168.8 141.4h0M169.1 156.2h0M169.2 146.2h0M170.2 141.9h0M168.5 172.8h0M167.5 179.2h0M171.2 169.4h0M168.1 148.1h0M170.6 156.5h0M169.4 173.1h0M169.2 154.1h0M171.4 183.7h0M178.9 199.5h0M179.6 148.9h0M179.7 166.5h0M181.0 161.9h0M180.1 173.4h0M182.0 149.0h0M182.6 178.5h0M183.2 145.9h0M180.5 158.9h0M180.3 164.9h0M182.0 153.5h0M179.1 144.5h0M179.5 178.4h0M182.0 160.0h0M179.5 161.4h0M181.8 140.8h0M181.4 188.3h0M183.0 181.9h0M179.9 154.5h0M181.8 147.4h0M178.3 163.2h0M182.8 173.7h0M179.4 151.5h0M181.9 152.0h0M180.0 154.3h0M180.7 152.8h0M181.2 157.7h0M178.0 171.1h0M179.9 183.3h0M179.8 157.6h0M181.8 179.0h0M181.2 177.0h0M180.6 176.2h0M179.4 143.3h0M180.2 161.5h0M179.8 184.9h0M179.3 181.3h0M180.1 171.8h0M180.0 172.1h0M179.9 167.4h0M181.1 138.1h0M181.3 189.2h0M181.1 167.2h0M178.7 162.8h0M178.6 164.5h0M179.9 183.5h0M180.3 193.0h0M180.9 168.1h0M181.6 180.8h0M181.1 181.5h0M180.1 146.1h0M181.1 180.4h0M182.1 176.3h0M180.8 159.9h0M178.9 153.1h0M180.5 150.3h0M181.1 174.7h0M178.6 182.0h0M179.8 167.0h0M179.0 155.4h0M179.6 189.5h0M181.9 147.3h0M179.4 153.8h0M179.7 173.9h0M180.4 172.9h0M182.5 170.1h0M180.0 179.2h0M180.7 148.1h0M178.2 180.2h0M180.1 166.1h0M180.4 138.9h0M178.3 147.8h0M182.5 165.2h0M192.5 136.0h0M191.1 145.2h0M191.2 137.0h0M194.4 149.7h0M193.8 132.8h0M192.3 146.4h0M189.8 154.7h0M190.1 132.6h0M191.7 126.3h0M193.2 130.2h0M191.0 151.1h0M191.2 134.3h0M191.9 155.6h0M192.3 142.1h0M192.3 164.4h0M189.9 135.6h0M194.6 152.9h0M192.5 123.9h0M190.9 157.6h0M190.3 129.0h0M191.6 127.6h0M190.9 158.4h0M191.8 147.0h0M191.7 149.0h0M192.0 131.9h0M193.4 131.3h0M191.8 149.8h0M192.5 154.3h0M192.5 146.3h0M192.4 126.3h0M192.7 145.2h0M191.0 141.1h0M192.1 161.2h0M192.5 177.5h0M191.1 121.9h0M192.7 154.5h0M190.4 159.3h0M191.2 122.6h0M190.5 147.9h0M191.0 144.2h0M192.2 176.7h0M193.2 141.0h0M193.1 165.5h0M191.7 131.7h0M197.4 155.0h0M200.2 174.8h0M198.3 161.4h0M197.1 152.7h0M197.7 172.1h0M197.2 145.9h0M199.1 167.4h0M198.4 173.9h0M196.9 167.8h0M195.6 160.1h0M197.7 177.6h0M198.5 168.8h0M198.8 154.9h0M195.1 163.3h0M198.9 172.6h0M199.4 157.2h0M197.3 172.7h0M197.3 161.7h0M196.9 169.4h0M195.6 168.8h0M196.4 163.9h0M198.8 159.7h0M197.2 166.5h0M197.3 176.0h0M195.6 158.0h0M197.1 154.3h0M198.9 175.8h0M196.4 153.5h0M197.5 157.3h0M197.8 173.1h0M198.4 171.9h0M195.7 174.2h0M199.9 172.1h0M197.0 150.9h0M198.7 157.0h0M197.8 153.7h0M197.0 178.1h0M198.3 162.7h0M196.3 148.5h0M196.3 157.5h0M196.0 172.9h0M197.7 154.2h0M196.5 159.5h0M196.6 148.9h0M198.2 159.9h0M199.0 144.5h0M198.1 145.1h0M197.2 164.2h0M198.6 165.9h0M195.4 171.2h0M198.4 144.1h0M198.6 174.5h0M198.6 151.0h0M196.6 168.8h0M198.6 168.0h0M197.1 158.4h0M195.9 177.4h0M197.7 173.2h0M198.6 166.8h0M199.0 164.1h0M196.3 154.8h0M199.9 166.6h0M197.7 155.8h0M196.5 155.5h0M198.9 175.6h0M199.1 171.4h0M198.0 167.9h0M197.0 157.4h0M196.6 159.5h0M199.0 165.6h0M199.2 153.8h0M196.5 154.9h0M197.5 169.3h0M199.9 178.8h0M196.2 163.6h0M196.6 157.5h0M198.8 167.1h0M197.7 171.2h0M197.1 153.4h0M198.3 166.7h0M195.1 155.3h0M196.3 161.6h0M196.8 181.6h0M197.2 178.3h0M195.4 160.9h0M197.2 151.5h0M199.0 162.2h0M197.2 168.3h0M196.9 172.3h0M198.2 168.6h0M197.9 142.5h0M197.6 175.7h0M197.2 171.9h0M200.1 162.7h0M199.5 155.5h0M197.4 173.8h0M197.8 169.7h0M198.7 172.5h0M196.9 149.6h0M196.4 157.9h0M198.1 170.5h0M199.8 144.6h0M199.2 143.2h0M197.5 173.8h0M195.9 176.5h0M199.3 151.3h0M198.3 173.0h0M197.2 162.3h0M197.5 149.6h0M196.3 171.8h0M197.6 168.7h0M197.0 149.6h0M199.0 150.5h0M197.7 180.6h0M197.0 159.6h0M196.5 143.9h0M197.2 167.9h0M196.6 143.5h0M198.8 173.5h0M197.9 154.6h0M197.8 149.0h0M196.9 166.6h0M198.5 152.6h0M197.9 157.8h0M198.0 160.8h0M197.2 167.4h0M197.8 181.2h0M198.4 172.9h0M197.6 161.1h0M203.0 196.1h0M202.3 163.8h0M205.3 189.6h0M203.8 199.5h0M202.0 162.0h0M203.0 180.8h0M204.3 167.9h0M203.8 170.7h0M203.1 186.4h0M202.4 201.2h0M201.6 185.1h0M201.9 184.9h0M201.4 182.0h0M202.0 173.8h0M202.4 182.3h0M202.5 166.0h0M204.2 191.5h0M205.5 161.3h0M202.1 167.2h0M204.4 194.3h0M203.6 178.6h0M203.6 181.9h0M202.6 170.1h0M204.4 190.9h0M203.3 194.9h0M203.5 178.1h0M203.9 159.9h0M204.9 199.8h0M202.6 177.4h0M203.1 200.3h0M203.3 175.9h0M206.0 189.1h0M202.2 196.0h0M205.1 161.9h0M203.7 179.7h0M203.2 181.5h0M203.0 188.7h0M203.3 189.9h0M204.2 199.2h0M201.5 182.5h0M203.1 160.4h0M203.8 190.6h0M203.1 199.1h0M202.7 163.0h0M203.3 171.7h0M202.3 202.5h0M204.0 165.1h0M205.1 169.4h0M202.8 194.3h0M201.8 184.9h0M201.5 184.0h0M203.8 192.4h0M203.0 174.2h0M204.9 181.4h0M202.9 160.7h0M202.4 175.2h0M206.0 201.2h0M200.9 201.7h0M204.0 170.4h0M203.4 175.8h0M200.8 173.9h0M203.9 168.1h0M202.7 200.6h0M202.8 169.5h0M201.2 172.7h0M203.1 182.7h0M204.3 170.9h0M205.4 193.5h0M202.9 176.4h0M204.3 191.1h0M204.7 185.7h0M203.9 193.1h0M203.6 172.3h0M204.7 175.4h0M204.4 171.2h0M203.5 200.4h0M204.4 168.7h0M201.4 176.4h0M202.6 163.7h0M202.9 195.9h0M205.9 160.9h0M205.2 176.8h0M201.3 162.4h0M203.0 163.6h0M202.0 198.9h0M205.4 190.7h0M203.5 182.7h0M204.9 189.3h0M201.8 171.4h0M203.2 174.6h0M205.1 182.9h0M204.6 195.1h0M202.1 181.2h0M205.7 174.4h0M204.7 194.0h0M202.3 192.7h0M203.2 201.4h0M203.1 194.8h0M204.2 195.3h0M204.6 193.5h0M202.6 200.9h0M203.0 196.8h0M202.7 197.0h0M204.3 200.3h0M203.1 203.5h0M203.1 191.0h0M202.8 195.4h0M204.2 193.6h0M203.9 202.7h0M213.9 174.0h0M214.4 164.1h0M215.8 163.5h0M214.8 188.2h0M213.7 169.7h0M212.8 182.1h0M215.2 157.1h0M217.4 190.4h0M216.0 176.0h0M213.9 173.0h0M212.5 168.0h0M214.8 168.6h0M215.3 184.5h0M213.6 195.0h0M213.7 160.4h0M214.6 157.9h0M214.0 164.1h0M214.5 184.1h0M214.2 178.5h0M215.1 184.3h0M215.9 192.9h0M213.1 153.3h0M215.7 179.0h0M214.8 150.0h0M215.7 162.9h0M215.8 190.6h0M215.9 156.4h0M216.3 189.4h0M215.0 168.8h0M212.7 146.5h0M215.0 176.1h0M213.8 174.7h0M213.6 166.8h0M214.9 182.1h0M215.6 167.6h0M217.3 169.5h0M212.9 143.0h0M214.8 146.8h0M214.5 167.2h0M215.2 171.7h0M215.6 162.2h0M216.8 152.4h0M213.4 180.9h0M215.5 171.2h0M216.1 191.4h0M213.3 158.4h0M214.9 175.3h0M215.0 173.1h0M212.2 186.7h0M217.1 170.3h0M214.2 138.9h0M215.5 174.7h0M214.4 165.1h0M216.4 181.0h0M213.6 164.0h0M213.8 143.8h0M214.4 148.6h0M215.0 172.8h0M215.5 183.5h0M213.7 149.9h0M215.8 155.7h0M212.2 146.3h0M214.0 187.4h0M216.3 183.6h0M214.8 149.1h0M213.9 146.3h0M215.3 170.9h0M214.6 187.8h0M215.1 177.4h0M214.3 178.0h0M216.1 186.8h0M214.6 186.8h0M215.7 158.3h0M212.5 165.0h0M214.0 188.9h0M215.2 169.5h0M213.9 153.1h0M215.7 163.9h0M214.3 156.7h0M212.8 142.2h0M212.5 173.6h0M213.7 153.2h0M215.7 147.7h0M215.9 171.7h0M213.4 179.5h0M214.5 185.3h0M214.4 141.2h0M214.4 174.2h0M214.9 181.8h0M216.5 162.4h0M214.9 181.0h0M214.8 149.2h0M215.1 153.3h0M217.3 142.0h0M213.4 172.0h0M213.2 182.6h0M213.5 187.0h0M215.0 154.5h0M214.7 174.7h0M214.3 151.9h0M214.0 170.5h0M215.4 172.8h0M215.9 175.6h0M214.2 157.5h0M214.2 189.8h0M214.8 163.9h0M216.5 162.9h0M216.8 189.2h0M215.7 161.3h0M214.1 196.0h0M214.3 193.6h0M216.7 164.8h0M214.8 156.3h0M215.1 168.5h0M214.4 187.5h0M215.5 193.5h0M215.3 164.9h0M215.0 168.2h0M215.5 163.7h0M214.3 170.9h0M214.1 166.1h0M212.2 198.3h0M214.0 178.3h0M214.9 173.3h0M214.8 164.7h0M213.8 174.2h0M215.3 197.7h0M216.2 146.9h0M214.8 175.2h0M216.0 188.3h0M225.5 156.2h0M226.5 160.0h0M226.9 159.6h0M224.4 162.4h0M224.3 176.1h0M226.1 193.8h0M226.6 189.9h0M227.6 171.2h0M225.2 159.7h0M225.8 170.2h0M225.6 184.2h0M225.4 146.9h0M226.3 163.4h0M225.9 183.1h0M226.8 153.1h0M225.5 177.5h0M225.0 177.9h0M225.3 150.9h0M224.4 157.1h0M226.5 192.7h0M225.6 189.0h0M224.9 180.5h0M227.4 178.7h0M225.7 158.7h0M226.1 183.5h0M226.2 194.9h0M226.6 199.9h0M224.6 189.9h0M225.8 158.0h0M227.0 177.1h0M225.1 177.9h0M224.9 176.2h0M224.8 177.2h0M225.7 175.5h0M228.8 177.1h0M227.1 176.2h0M226.9 146.0h0M227.5 201.9h0M223.6 169.5h0M227.7 169.8h0M225.7 175.5h0M224.9 195.7h0M226.1 161.3h0M226.1 182.6h0M226.4 180.9h0M227.1 170.6h0M224.9 188.8h0M224.1 188.5h0M227.2 180.7h0M225.3 173.7h0M228.8 160.7h0M226.3 170.9h0M225.9 174.9h0M226.0 185.1h0M228.1 197.1h0M225.2 186.0h0M225.8 147.2h0M227.7 171.2h0M227.6 156.8h0M223.6 170.1h0M226.1 159.4h0M226.8 160.7h0M228.8 159.0h0M226.3 152.2h0M224.7 183.1h0M226.8 160.7h0M224.7 156.3h0M227.1 154.3h0M227.6 176.1h0M228.5 173.4h0M226.4 165.7h0M226.0 172.2h0M225.4 164.3h0M225.8 189.1h0M225.5 166.5h0M227.6 174.2h0M226.3 150.1h0M224.9 196.9h0M226.6 160.4h0M224.8 173.2h0M225.1 184.1h0M225.6 161.1h0M225.6 166.6h0M225.6 183.0h0M228.7 193.0h0M227.1 185.7h0M226.4 161.8h0M225.9 174.2h0M224.8 184.0h0M226.6 150.1h0M228.6 163.5h0M225.9 153.1h0M227.2 179.8h0M225.8 159.3h0M226.4 159.0h0M225.6 160.7h0M223.6 184.1h0M227.4 185.0h0M224.8 161.0h0M227.4 177.0h0M227.3 196.1h0M226.8 159.3h0M226.0 188.6h0M225.0 167.3h0M224.9 183.1h0M227.8 202.6h0M225.5 167.1h0M224.0 171.9h0M225.0 201.4h0M225.0 146.1h0M226.1 180.2h0M226.8 163.5h0M224.0 163.3h0M225.9 177.3h0M226.1 192.5h0M226.7 191.7h0M224.7 149.0h0M226.1 148.7h0M225.2 178.2h0M225.8 200.3h0M224.3 190.8h0M227.5 150.7h0M226.2 186.0h0M226.1 169.5h0M226.2 184.7h0M224.4 174.6h0M225.9 202.9h0M227.7 202.4h0M225.8 201.4h0M225.4 199.8h0M223.8 198.0h0M225.1 191.8h0M225.5 196.4h0M227.4 199.4h0M225.2 198.8h0M225.7 201.4h0M227.7 197.8h0M223.6 202.3h0M225.6 199.6h0M237.2 169.4h0M235.8 199.9h0M236.8 172.4h0M238.3 165.9h0M237.6 180.8h0M235.6 175.2h0M238.0 167.7h0M236.4 184.9h0M237.2 171.7h0M236.8 180.7h0M237.2 178.5h0M237.1 177.7h0M238.1 191.2h0M237.9 176.5h0M237.4 173.0h0M240.2 168.4h0M237.0 164.8h0M235.7 196.4h0M238.0 200.1h0M237.9 172.9h0M236.4 183.7h0M237.2 171.8h0M236.2 179.0h0M243.7 137.1h0M243.6 142.5h0M243.2 141.2h0M243.4 149.6h0M244.0 159.2h0M245.4 147.0h0M243.8 164.3h0M243.1 160.9h0M243.5 182.0h0M244.6 169.2h0M243.5 129.5h0M243.4 135.4h0M240.7 168.2h0M245.9 171.1h0M242.6 168.0h0M242.7 162.3h0M241.1 162.8h0M243.1 145.6h0M241.8 159.3h0M242.9 171.4h0M245.0 160.3h0M242.3 150.8h0M244.2 181.3h0M241.7 184.8h0M243.4 151.6h0M243.8 142.9h0M243.8 151.6h0M241.7 157.9h0M243.3 137.0h0M243.6 165.8h0M242.1 154.0h0M241.9 161.7h0M244.2 154.1h0M245.9 144.7h0M242.1 176.0h0M243.5 170.0h0M242.2 142.0h0M241.6 157.9h0M243.3 138.7h0M243.5 160.1h0M244.2 173.4h0M245.6 173.2h0M242.4 179.6h0M244.2 153.4h0M241.9 141.1h0M242.3 152.9h0M243.3 161.8h0M242.1 142.9h0M243.8 167.8h0M243.1 139.9h0M244.1 155.4h0M245.9 163.6h0M243.3 177.8h0M243.5 152.7h0M243.6 147.0h0M242.0 179.2h0M243.4 167.6h0M245.9 184.5h0M244.9 158.9h0M243.3 176.7h0M241.2 170.7h0M243.0 169.8h0M245.9 154.0h0M241.3 182.9h0M242.5 162.9h0M243.0 164.7h0M242.1 171.8h0M242.3 178.9h0M242.2 161.2h0M242.2 154.4h0M245.9 166.8h0M243.2 130.9h0M244.6 159.1h0M241.7 154.2h0M241.9 142.4h0M242.9 152.9h0M246.4 162.6h0M250.3 184.5h0M248.7 159.4h0M248.0 157.1h0M250.8 173.2h0M250.4 167.1h0M250.8 157.6h0M249.4 165.7h0M249.2 184.5h0M250.6 180.7h0M249.3 156.3h0M248.1 179.9h0M249.7 158.8h0M248.1 179.2h0M248.0 172.5h0M250.0 175.4h0M250.2 182.6h0M248.2 182.6h0M249.8 189.9h0M248.7 163.0h0M248.7 192.1h0M246.4 188.8h0M246.5 185.2h0M249.1 194.9h0M249.4 190.1h0M248.6 160.6h0M246.9 177.6h0M247.8 157.2h0M246.4 164.7h0M248.7 188.8h0M250.5 186.1h0M248.7 194.9h0M248.1 189.6h0M249.2 190.1h0M249.5 186.2h0M249.6 173.2h0M248.7 192.1h0M250.0 168.7h0M248.2 182.3h0M250.3 174.5h0M250.5 182.8h0M247.4 158.0h0M249.6 168.2h0M249.5 162.5h0M247.9 160.5h0M262.0 162.6h0M260.9 185.9h0M259.7 168.9h0M259.8 166.4h0M261.5 159.9h0M261.0 176.7h0M258.7 173.6h0M261.4 182.1h0M262.0 163.2h0M259.6 190.3h0M259.1 170.8h0M262.1 174.0h0M260.2 184.3h0M260.1 187.5h0M261.8 173.1h0M261.9 170.7h0M259.9 169.8h0M261.4 180.9h0M260.1 191.2h0M261.2 166.7h0M259.4 179.1h0M259.0 171.0h0M259.3 176.8h0M259.8 159.7h0M260.2 183.6h0M259.7 165.5h0M259.4 158.8h0M258.6 162.2h0M258.9 175.8h0M258.7 188.8h0M259.9 173.4h0M260.5 171.4h0M261.4 178.4h0M261.9 160.5h0M260.0 160.5h0M262.6 177.9h0M260.0 182.1h0M261.1 179.6h0M261.0 191.0h0M261.3 175.6h0M259.8 156.0h0M258.9 168.2h0M260.3 156.4h0M261.3 186.6h0M260.1 168.0h0M258.3 175.3h0M271.6 173.9h0M272.5 177.5h0M271.8 178.2h0M272.5 178.8h0M271.2 142.2h0M271.1 176.9h0M272.1 179.1h0M272.0 144.0h0M272.9 167.0h0M270.2 144.8h0M271.7 158.2h0M273.3 159.3h0M273.7 145.1h0M272.7 161.3h0M271.7 161.3h0M272.5 145.0h0M272.2 161.2h0M271.2 152.0h0M271.4 160.1h0M273.3 172.9h0M273.1 153.9h0M270.6 166.2h0M272.0 144.3h0M273.7 151.0h0M273.3 174.3h0M272.8 155.6h0M272.5 154.7h0M272.2 147.6h0M272.4 140.3h0M272.5 158.6h0M272.9 177.3h0M270.8 158.1h0M274.4 159.6h0M271.9 156.2h0M272.3 157.5h0M270.4 156.0h0M271.4 145.1h0M271.7 143.8h0M269.9 147.6h0M269.6 143.4h0M273.8 144.1h0M271.8 173.3h0M271.3 148.7h0M271.9 174.1h0M270.9 160.9h0M273.1 165.6h0M272.2 169.0h0M272.0 147.1h0M269.8 165.5h0M270.6 144.8h0M273.3 147.2h0M273.5 159.8h0M273.7 148.3h0M272.7 164.5h0M271.9 168.2h0M270.7 176.4h0M271.5 144.6h0M272.7 165.8h0M272.2 153.3h0M269.2 152.9h0M273.8 149.2h0M270.8 173.0h0M272.4 167.7h0M272.8 146.3h0M273.5 169.5h0M271.1 153.1h0M271.1 167.4h0M273.4 163.9h0M271.7 142.2h0M271.9 164.9h0M272.2 154.6h0M271.7 148.8h0M271.1 159.1h0M271.3 165.7h0M270.1 143.9h0M271.9 144.0h0M272.0 160.4h0M272.9 157.0h0M272.5 177.3h0M270.8 177.9h0M271.6 140.4h0M270.7 147.5h0M272.9 174.8h0M269.2 160.8h0M269.9 148.0h0M273.4 152.4h0M271.8 141.5h0M272.4 164.1h0M274.3 144.2h0M273.0 148.7h0M273.9 161.1h0M270.8 161.3h0M271.2 153.3h0M271.9 163.3h0M270.7 151.2h0M273.0 156.6h0M272.8 154.3h0M270.7 172.1h0M270.9 172.3h0M270.3 146.8h0M273.7 154.0h0M270.7 150.4h0M271.6 159.4h0M271.5 178.6h0M271.0 143.3h0M271.9 158.9h0M272.5 167.8h0M271.9 140.6h0M270.7 151.1h0M270.9 173.1h0M270.8 170.4h0M272.4 163.1h0M271.6 154.9h0M271.5 177.9h0M271.4 142.4h0M270.2 163.1h0M270.7 142.5h0M271.7 170.5h0M273.8 152.3h0M273.4 147.0h0M271.8 175.5h0M271.8 160.0h0M273.6 179.8h0M271.1 176.0h0M272.9 161.6h0M283.0 170.7h0M284.5 185.7h0M283.0 179.2h0M283.1 181.3h0M281.9 169.5h0M282.1 179.1h0M283.3 182.3h0M283.6 187.6h0M283.6 179.1h0M282.7 186.0h0M284.1 196.1h0M284.7 177.0h0M283.3 194.5h0M281.3 182.0h0M282.9 178.5h0M282.2 194.5h0M284.2 197.3h0M284.8 189.0h0M284.9 203.3h0M282.1 186.8h0M284.1 187.6h0M280.6 201.6h0M282.7 177.5h0M283.5 190.0h0M282.6 201.8h0M283.2 187.6h0M281.6 182.6h0M282.6 199.3h0M283.5 168.0h0M282.9 177.4h0M284.1 189.5h0M284.0 183.7h0M282.4 183.5h0M283.4 195.8h0M281.7 174.6h0M282.9 198.5h0M284.7 183.7h0M285.3 192.3h0M281.9 185.3h0M283.8 201.8h0M284.2 199.9h0M283.2 182.3h0M294.8 164.3h0M294.4 154.0h0M294.6 185.9h0M294.5 152.9h0M294.0 183.8h0M293.8 167.7h0M292.9 157.4h0M295.8 141.1h0M294.4 166.6h0M293.9 189.6h0M293.6 175.9h0M296.3 199.0h0M292.4 141.2h0M294.7 200.4h0M294.3 169.1h0M293.1 197.2h0M292.4 173.3h0M294.6 160.9h0M293.9 186.9h0M294.8 172.9h0M293.4 169.9h0M294.7 174.8h0M295.6 165.5h0M292.8 179.3h0M294.0 170.2h0M293.9 168.4h0M294.5 177.8h0M296.5 157.2h0M296.1 193.5h0M296.5 162.9h0M293.7 166.9h0M292.8 173.7h0M294.5 133.5h0M293.0 167.9h0M295.8 139.2h0M295.5 189.9h0M293.1 159.4h0M297.2 144.8h0M293.8 153.2h0M292.6 139.5h0M295.1 180.0h0M293.5 162.9h0M294.1 180.0h0M294.4 166.4h0M294.3 187.8h0M295.1 171.1h0M296.2 188.0h0M295.5 164.7h0M294.8 149.2h0M294.3 166.6h0M294.8 172.2h0M293.0 182.7h0M294.9 140.8h0M295.7 136.1h0M294.2 158.2h0M293.3 157.7h0M294.4 163.5h0M295.3 169.5h0M294.0 177.4h0M293.3 161.2h0M295.1 178.9h0M294.0 156.3h0M294.1 176.8h0M294.6 157.1h0M294.6 175.5h0M295.1 155.1h0M299.9 191.4h0M299.5 198.9h0M300.5 175.7h0M300.1 183.8h0M299.1 171.7h0M299.9 178.2h0M299.9 180.0h0M299.7 181.7h0M301.0 183.0h0M302.2 184.9h0M301.9 168.7h0M300.0 169.7h0M300.8 175.0h0M299.3 168.6h0M302.4 183.9h0M302.4 192.0h0M300.3 173.9h0M300.1 159.1h0M302.9 198.0h0M302.5 162.4h0M302.8 184.9h0M299.9 182.6h0M299.5 166.2h0M302.9 190.3h0M300.5 184.6h0M302.8 164.0h0M309.7 194.7h0M310.1 186.0h0M311.3 157.7h0M310.7 165.8h0M313.7 179.7h0M310.3 201.1h0M313.0 177.0h0M311.2 196.1h0M314.3 158.8h0M311.1 170.9h0M311.9 197.9h0M312.5 187.7h0M311.5 188.6h0M311.5 194.4h0M312.1 169.5h0M312.3 172.8h0M311.8 164.2h0M314.3 169.3h0M312.2 159.1h0M309.2 199.9h0M312.4 184.8h0M310.6 195.3h0M310.0 161.6h0M311.2 193.2h0M309.4 172.6h0M312.7 176.6h0M312.3 163.0h0M310.1 170.8h0M311.6 167.3h0M312.0 177.9h0M311.6 156.9h0M311.1 188.1h0M312.8 177.3h0M311.4 188.9h0M311.9 169.8h0M312.8 181.0h0M312.2 173.4h0M312.9 183.4h0M309.3 199.6h0M311.9 179.9h0M310.9 196.5h0M313.0 187.6h0M310.8 172.4h0M312.8 168.6h0M310.4 181.3h0M310.0 183.3h0M314.3 196.8h0M311.1 166.0h0M313.5 184.2h0M313.4 193.5h0M311.8 181.8h0M309.1 166.8h0M311.0 168.2h0M311.6 166.8h0M312.3 175.2h0M309.1 170.7h0M310.9 183.6h0M311.8 164.1h0M310.8 201.1h0M313.3 188.4h0M312.6 161.0h0M310.9 189.0h0M312.1 157.9h0M311.8 176.3h0M311.6 185.6h0M311.5 201.0h0M309.2 161.2h0M310.4 164.3h0M312.3 200.5h0M311.0 177.7h0M313.1 158.2h0M311.1 196.3h0M311.3 198.4h0M311.6 173.4h0M312.2 166.3h0M310.4 183.6h0M313.1 156.7h0M310.5 159.8h0M311.9 177.5h0M313.1 188.1h0M312.7 194.6h0M312.4 160.9h0M311.2 160.2h0M312.1 171.5h0M309.2 167.1h0M311.8 179.9h0M311.1 181.4h0M311.9 164.8h0M311.9 166.4h0M309.1 169.1h0M311.1 187.1h0M309.5 162.7h0M312.2 162.9h0M311.8 199.9h0M311.1 198.1h0M312.1 178.3h0M312.5 165.4h0M310.1 158.5h0M311.3 179.9h0M313.4 163.5h0M312.1 190.2h0M310.4 191.1h0M313.2 173.8h0M309.5 155.9h0M312.0 174.7h0M311.9 199.8h0M310.7 197.5h0M310.9 194.6h0M311.7 199.1h0M310.9 201.8h0M311.9 200.0h0M309.6 202.3h0M311.6 199.9h0M310.7 193.4h0M311.4 198.0h0M323.3 180.1h0M322.8 161.4h0M321.0 169.8h0M322.2 166.7h0M321.1 168.1h0M323.3 188.3h0M324.4 161.4h0M323.7 164.4h0M322.1 161.8h0M321.8 184.9h0M322.9 174.1h0M323.0 178.4h0M322.2 186.4h0M320.5 186.7h0M323.4 168.2h0M321.9 166.2h0M322.2 160.7h0M325.2 183.7h0M323.1 174.9h0M324.7 175.7h0M325.7 167.7h0M322.3 167.0h0M322.9 185.6h0M322.3 179.3h0M321.6 182.5h0M322.9 167.9h0M322.8 165.1h0M324.6 178.4h0M322.7 162.3h0M322.9 180.5h0M324.2 187.0h0M321.7 164.6h0M321.9 169.9h0M320.9 183.4h0M324.2 161.6h0M323.7 169.7h0M324.7 158.4h0M321.3 177.5h0M328.3 137.6h0M326.2 150.0h0M328.6 150.5h0M330.7 150.3h0M330.7 160.6h0M328.9 145.0h0M328.7 166.4h0M327.4 147.7h0M328.3 144.8h0M328.5 142.5h0M328.1 168.4h0M328.3 168.8h0M330.1 152.2h0M326.7 152.8h0M328.9 154.0h0M329.5 143.7h0M327.1 144.0h0M329.4 152.2h0M331.4 156.0h0M328.8 149.5h0M328.0 154.0h0M329.4 146.9h0M330.8 163.5h0M328.9 156.8h0M329.8 162.8h0M330.2 147.3h0M329.1 170.0h0M330.2 165.9h0M327.1 151.2h0M328.6 153.5h0M327.7 137.7h0M328.0 169.2h0M327.1 161.4h0M330.1 166.9h0M328.5 151.3h0M328.1 169.2h0M327.3 165.4h0M327.4 166.4h0M326.9 161.7h0M327.3 138.1h0M327.3 160.0h0M327.9 166.3h0M329.1 153.2h0M327.4 169.0h0M326.8 157.9h0M326.2 149.4h0M328.0 172.3h0M330.4 136.4h0M328.1 171.0h0M327.6 161.8h0M327.3 138.6h0M330.4 160.9h0M329.9 162.4h0M328.2 151.2h0M329.9 164.8h0M328.9 170.5h0M329.8 155.5h0M329.6 146.1h0M330.2 150.3h0M328.1 170.2h0M331.4 147.1h0M329.6 157.9h0M330.5 138.2h0M328.0 164.6h0M328.9 155.2h0M328.7 153.1h0M330.7 141.2h0M329.7 164.7h0M329.3 144.1h0M330.3 161.8h0M328.5 144.7h0M328.0 157.0h0M327.7 175.4h0M328.2 164.1h0M328.6 150.8h0M329.5 147.3h0M328.4 150.7h0M327.7 173.5h0M328.4 150.1h0M327.5 137.2h0M329.6 145.8h0M328.4 173.9h0M328.9 148.5h0M329.8 148.3h0M328.5 173.4h0M329.4 167.9h0M329.1 151.2h0M328.6 140.3h0M329.5 157.2h0M328.9 150.1h0M330.2 171.5h0M328.8 159.6h0M330.0 161.6h0M327.7 166.2h0M330.0 161.1h0M329.0 146.1h0M328.2 163.6h0M329.2 140.3h0M329.6 142.4h0M329.6 170.9h0M329.7 156.2h0M330.3 141.8h0M327.5 155.1h0M327.1 168.2h0M329.8 145.4h0M329.8 136.9h0M329.8 150.7h0M330.2 146.2h0M328.7 149.4h0M330.2 135.9h0M327.4 152.2h0M326.2 153.5h0M327.8 165.1h0M328.8 171.3h0M328.1 157.8h0M329.7 161.4h0M330.4 157.2h0M330.3 140.3h0M326.7 170.6h0M330.2 160.1h0M330.2 174.8h0M328.5 151.3h0M327.2 136.8h0M328.4 173.9h0M328.2 160.0h0M328.7 171.7h0M341.4 183.2h0M339.6 172.3h0M341.9 148.1h0M339.7 135.9h0M342.7 164.7h0M338.7 167.6h0M340.3 147.2h0M340.1 166.9h0M339.4 177.7h0M340.7 160.7h0M339.0 171.9h0M339.7 175.5h0M338.0 177.6h0M340.5 171.1h0M339.9 142.6h0M337.6 194.3h0M338.7 165.6h0M341.3 156.3h0M340.4 183.8h0M340.8 176.1h0M341.5 147.9h0M340.5 185.4h0M337.6 162.3h0M341.6 144.6h0M340.3 159.8h0M339.6 167.4h0M341.7 196.2h0M339.1 181.4h0M338.8 175.5h0M341.8 144.9h0M340.3 182.9h0M345.7 155.5h0M344.5 141.6h0M345.9 177.3h0M344.3 139.5h0M344.4 161.5h0M347.1 167.6h0M346.5 142.6h0M347.0 178.0h0M347.2 165.7h0M346.9 148.8h0M345.2 178.0h0M346.3 136.4h0M345.8 174.9h0M345.2 150.1h0M346.7 181.6h0M347.0 161.5h0M344.5 166.4h0M347.1 143.9h0M346.9 169.0h0M346.4 142.1h0M347.5 158.2h0M345.1 182.8h0M345.7 141.2h0M346.6 144.0h0M347.2 164.2h0M345.4 146.3h0M345.2 163.9h0M346.8 151.9h0M346.1 138.2h0M346.6 157.5h0M345.4 176.1h0M345.6 175.0h0M344.6 183.4h0M345.6 130.0h0M346.2 172.4h0M344.7 171.2h0M344.7 179.3h0M344.6 152.0h0M344.7 192.5h0M345.2 188.3h0M345.8 143.3h0M346.0 163.4h0M346.6 175.0h0M345.3 192.2h0M344.9 167.7h0M344.9 133.3h0M346.9 162.0h0M344.7 148.9h0M343.5 144.7h0M346.3 144.1h0M346.2 150.2h0M345.9 139.0h0M345.3 192.1h0M345.3 183.8h0M345.0 166.9h0M348.2 167.4h0M347.6 152.4h0M345.6 182.3h0M346.0 139.8h0M346.8 137.1h0M346.6 155.3h0M347.5 194.9h0M343.9 148.2h0M345.3 142.0h0M343.8 168.5h0M346.0 134.0h0M345.1 145.0h0M347.9 175.8h0M346.4 161.6h0M347.1 138.2h0M344.2 174.5h0M347.0 165.9h0M345.7 148.6h0M347.4 170.9h0M345.2 170.7h0M345.3 139.4h0M344.2 146.3h0M345.4 183.1h0M345.8 184.6h0M345.7 157.5h0M346.9 133.0h0M345.5 189.4h0M345.1 163.8h0M347.5 138.8h0M344.9 160.4h0M346.0 156.9h0M347.3 153.5h0M343.5 133.2h0M344.8 149.6h0M345.5 149.5h0M345.1 147.7h0M343.5 176.3h0M346.5 149.4h0M347.9 169.8h0M343.9 188.1h0M345.8 161.5h0M346.4 162.8h0M346.0 153.3h0M346.0 178.8h0M346.5 158.4h0M345.6 169.9h0M345.7 147.7h0M345.8 151.2h0M347.1 149.2h0M348.3 141.2h0M343.7 181.4h0M347.7 167.3h0M345.6 148.2h0M347.3 185.7h0M345.9 165.9h0M346.8 158.1h0M344.3 143.7h0M347.1 134.1h0M345.8 168.9h0M345.8 161.3h0M344.3 173.7h0M345.1 148.8h0M346.5 165.3h0M344.8 144.7h0M346.8 133.9h0M347.3 145.2h0M346.3 164.5h0M344.4 146.0h0M344.0 173.8h0M346.6 153.7h0M344.5 173.7h0M347.0 156.6h0M347.6 155.7h0M345.8 176.8h0M345.5 159.6h0M357.5 161.1h0M358.4 172.7h0M358.1 158.1h0M356.1 166.8h0M359.9 181.0h0M358.0 170.1h0M356.1 160.2h0M358.7 160.8h0M359.0 174.5h0M358.6 164.7h0M355.2 148.3h0M356.6 178.4h0M355.4 171.7h0M358.9 166.4h0M356.3 172.0h0M361.9 183.5h0M362.1 175.5h0M363.2 185.7h0M362.6 173.9h0M361.7 184.5h0M364.0 201.2h0M361.9 178.9h0M362.2 196.3h0M363.1 195.6h0M363.8 183.9h0M362.2 178.5h0M361.0 193.5h0M364.9 194.5h0M363.7 191.6h0M361.3 194.5h0M365.3 176.9h0M364.1 198.1h0M364.1 185.0h0M364.7 173.9h0M362.1 198.6h0M364.6 193.0h0" stroke="#f31010" stroke-width="1.2" stroke-linecap="round" stroke-opacity="0.72" fill="none"/><path d="M30.9 171.7h0M33.9 177.6h0M34.3 169.9h0M31.8 164.8h0M31.5 159.2h0M31.3 159.9h0M41.6 161.8h0M41.9 165.0h0M42.1 145.2h0M43.7 178.1h0M43.1 166.8h0M44.1 173.4h0M45.0 170.9h0M43.0 145.0h0M43.7 151.8h0M43.2 172.0h0M44.5 175.4h0M41.4 158.7h0M44.9 162.2h0M45.1 168.0h0M44.7 146.7h0M43.4 164.6h0M44.4 160.6h0M44.3 145.1h0M42.0 164.1h0M42.8 160.8h0M44.2 148.0h0M42.7 154.2h0M44.3 171.7h0M43.9 170.3h0M44.4 162.2h0M42.8 139.5h0M43.2 161.1h0M41.2 157.8h0M78.7 168.6h0M79.4 169.5h0M89.0 196.9h0M89.7 190.7h0M87.0 189.8h0M101.8 191.1h0M100.7 190.8h0M101.6 193.2h0M102.5 181.9h0M103.4 173.8h0M100.0 177.2h0M99.5 186.4h0M98.6 182.4h0M100.5 185.6h0M101.7 186.0h0M101.6 189.0h0M117.1 172.9h0M116.9 174.6h0M115.3 180.2h0M128.3 173.2h0M130.1 170.0h0M140.3 184.4h0M142.1 176.9h0M141.9 172.1h0M140.8 179.6h0M140.5 160.1h0M140.6 171.1h0M141.8 162.9h0M139.1 182.9h0M141.5 168.1h0M142.3 182.8h0M141.3 164.1h0M139.3 166.3h0M162.7 143.3h0M163.1 150.1h0M161.5 140.8h0M163.4 148.3h0M163.9 142.7h0M163.3 150.8h0M163.9 145.4h0M174.8 160.1h0M176.6 156.5h0M177.2 163.7h0M175.0 141.7h0M175.2 150.7h0M176.4 141.0h0M173.8 161.0h0M174.3 147.5h0M173.6 162.0h0M174.2 140.1h0M175.8 153.1h0M176.1 168.5h0M174.4 147.1h0M174.3 150.7h0M174.8 156.4h0M174.5 168.1h0M175.0 161.9h0M175.2 154.9h0M173.4 150.1h0M185.6 166.7h0M183.7 167.5h0M186.8 143.4h0M185.2 157.7h0M188.9 139.7h0M186.3 139.9h0M186.3 163.2h0M187.1 163.5h0M186.6 167.0h0M209.2 182.5h0M209.0 190.6h0M210.2 193.5h0M210.3 182.5h0M208.7 194.6h0M207.7 192.3h0M209.7 191.7h0M208.8 191.5h0M207.8 182.8h0M208.5 182.5h0M208.5 191.4h0M209.6 183.2h0M207.7 189.1h0M219.6 177.3h0M222.1 163.2h0M222.6 177.6h0M222.1 164.4h0M221.5 164.8h0M221.7 177.3h0M222.1 176.7h0M220.4 165.7h0M222.8 175.5h0M221.9 176.0h0M222.1 177.0h0M220.9 171.8h0M220.1 171.3h0M220.9 174.9h0M220.3 162.8h0M231.5 164.6h0M231.3 167.8h0M231.4 168.1h0M233.7 160.7h0M230.1 161.3h0M233.1 167.6h0M231.6 165.6h0M233.3 176.8h0M232.9 166.9h0M231.2 167.3h0M231.6 161.2h0M232.4 164.3h0M231.5 175.2h0M255.8 168.9h0M256.3 169.7h0M267.4 180.8h0M276.2 163.5h0M277.1 159.6h0M278.2 166.0h0M278.0 159.1h0M277.7 157.1h0M274.9 159.9h0M276.1 160.6h0M277.5 155.7h0M277.3 166.3h0M277.0 160.9h0M275.6 159.8h0M277.5 158.0h0M276.6 161.2h0M278.1 159.8h0M290.3 186.4h0M288.0 175.4h0M288.2 183.0h0M318.5 178.7h0M317.5 171.9h0M317.6 163.3h0M317.7 179.1h0M317.0 191.8h0M317.2 169.3h0M317.6 166.3h0M318.9 181.5h0M318.4 164.4h0M335.2 144.1h0M333.2 144.0h0M334.6 146.7h0M336.0 149.1h0M334.1 155.4h0M335.0 148.1h0M333.9 144.1h0M334.9 153.3h0M333.6 143.7h0M334.8 150.6h0M334.3 153.7h0M335.9 159.9h0M332.9 149.2h0M336.1 158.0h0M334.6 155.6h0M332.4 143.8h0M351.1 154.7h0M351.5 173.0h0M349.5 162.8h0M352.7 165.3h0M352.5 162.3h0M351.7 166.3h0M349.5 162.9h0M352.4 175.2h0M354.2 174.1h0" stroke="#2a2ae6" stroke-width="1.2" stroke-linecap="round" stroke-opacity="0.72" fill="none"/><path d="M307.4 201.7h0M307.3 169.2h0M305.8 165.7h0M306.2 185.2h0M305.9 185.5h0M304.9 184.3h0M305.5 176.7h0M305.0 197.6h0M304.1 150.2h0M304.5 183.9h0M305.7 198.3h0M306.4 175.1h0M304.9 170.3h0M305.4 171.1h0M308.6 171.3h0M305.1 158.6h0M306.3 176.6h0M307.4 191.0h0M308.6 164.4h0M306.3 155.1h0M307.8 200.4h0M305.4 174.7h0M303.6 182.0h0M304.8 191.8h0M305.1 200.0h0M305.3 160.2h0M306.9 193.9h0M308.5 164.3h0M306.8 188.0h0M306.1 171.4h0M306.3 164.3h0M306.4 168.5h0M305.4 189.2h0M307.6 152.9h0M306.1 200.2h0M307.4 182.6h0M305.8 185.6h0M308.1 180.4h0M307.5 203.1h0M305.1 162.0h0M304.7 185.4h0M305.3 201.2h0M306.4 185.0h0M306.6 157.1h0M305.5 189.9h0M307.0 195.1h0M306.3 179.0h0M305.8 187.5h0M305.2 168.7h0M307.9 169.9h0M307.2 168.9h0M305.0 183.7h0M303.4 188.4h0M304.6 176.4h0M303.5 183.3h0M307.3 193.8h0M304.9 151.3h0M306.1 192.8h0M305.5 176.5h0M307.2 190.0h0M305.2 178.3h0M306.2 180.3h0M306.9 167.1h0M306.6 191.4h0M306.0 198.9h0M306.2 190.3h0M305.8 151.3h0M305.8 188.0h0M304.2 163.2h0M304.7 184.3h0M305.3 194.2h0M307.4 179.6h0M303.4 182.6h0M306.6 158.1h0M305.1 155.1h0M306.9 187.7h0M307.9 170.8h0M305.8 203.3h0M304.4 188.3h0M305.5 199.8h0M306.6 175.8h0M304.7 198.9h0M307.3 179.5h0M304.6 185.6h0M307.9 158.8h0M307.1 163.6h0M306.3 177.3h0M305.5 196.4h0M307.5 183.1h0M305.1 195.4h0M304.4 202.6h0M305.7 168.1h0M305.9 171.3h0M303.6 196.9h0M305.6 201.0h0M307.4 197.4h0M303.7 194.3h0M306.8 201.4h0M306.3 202.0h0M307.2 202.9h0M305.1 199.1h0M304.5 195.6h0M305.0 196.5h0" stroke="#9a40e0" stroke-width="1.2" stroke-linecap="round" stroke-opacity="0.72" fill="none"/><path d="M21.2 187.3h0M20.8 197.4h0M21.5 182.5h0M22.4 195.9h0M18.8 187.0h0M20.5 185.8h0M21.1 187.6h0M20.0 166.5h0M20.5 178.6h0M19.5 195.4h0M21.0 188.9h0M18.4 200.9h0M20.9 178.3h0M20.6 167.5h0M21.2 182.1h0M21.1 181.0h0M21.4 190.6h0M21.5 185.9h0M20.1 185.8h0M20.4 196.1h0M28.0 166.0h0M26.8 181.4h0M25.3 158.1h0M28.9 162.2h0M26.3 136.6h0M25.4 164.4h0M26.3 167.6h0M28.6 173.6h0M28.3 152.3h0M27.7 155.5h0M27.2 154.4h0M25.4 163.5h0M26.5 146.7h0M26.7 150.8h0M26.7 165.7h0M26.4 126.6h0M25.0 162.9h0M27.4 165.4h0M25.5 182.7h0M26.7 161.7h0M25.4 169.0h0M25.1 155.9h0M26.8 181.8h0M26.5 173.4h0M27.0 154.7h0M26.1 175.7h0M29.3 158.8h0M26.1 182.8h0M26.9 153.3h0M29.2 174.2h0M27.6 166.9h0M26.6 173.4h0M26.5 168.2h0M26.7 141.3h0M27.1 185.5h0M26.5 147.6h0M26.8 155.4h0M27.8 138.1h0M26.8 163.8h0M26.0 136.3h0M27.4 161.8h0M29.1 145.1h0M26.3 174.3h0M26.7 178.4h0M28.2 167.4h0M27.4 181.2h0M27.4 185.1h0M27.9 165.3h0M27.2 149.0h0M24.1 153.7h0M27.7 141.5h0M27.2 169.6h0M27.8 154.1h0M26.4 174.6h0M29.3 160.7h0M26.0 153.1h0M28.1 162.6h0M27.6 196.7h0M27.5 170.2h0M27.2 192.5h0M26.8 163.3h0M26.9 160.5h0M28.7 141.1h0M28.5 178.9h0M26.3 174.6h0M27.8 160.9h0M27.0 165.3h0M24.5 174.0h0M26.3 172.1h0M25.7 156.7h0M28.4 152.1h0M26.0 163.7h0M27.0 155.6h0M27.1 143.4h0M28.2 164.3h0M28.7 168.2h0M26.5 182.0h0M26.3 172.9h0M28.2 149.8h0M26.9 163.8h0M26.2 179.9h0M26.5 163.5h0M26.8 166.5h0M26.5 166.6h0M25.9 144.8h0M24.9 196.6h0M25.7 173.5h0M26.0 175.4h0M29.2 202.0h0M26.5 161.0h0M27.8 157.4h0M25.9 139.7h0M25.8 181.0h0M27.8 165.5h0M24.2 145.7h0M27.9 170.1h0M26.1 164.5h0M27.6 163.2h0M26.0 179.9h0M28.8 145.0h0M26.2 198.7h0M25.1 157.8h0M25.8 150.9h0M37.2 181.2h0M38.4 165.4h0M39.3 156.9h0M38.2 178.6h0M40.4 163.8h0M36.2 167.3h0M38.1 166.3h0M37.5 149.1h0M36.6 167.9h0M39.0 155.9h0M38.4 173.1h0M39.4 132.9h0M38.1 165.9h0M37.4 151.5h0M37.7 167.3h0M37.1 175.3h0M38.3 134.8h0M39.0 154.8h0M39.0 153.6h0M39.3 128.6h0M38.5 171.4h0M38.6 198.4h0M38.6 148.2h0M37.7 173.6h0M37.9 154.6h0M37.2 160.5h0M37.7 172.7h0M38.9 162.1h0M37.1 168.7h0M38.7 190.0h0M37.8 135.9h0M38.2 162.9h0M37.4 147.3h0M38.5 156.8h0M36.9 173.5h0M36.0 175.3h0M38.7 147.3h0M37.9 161.0h0M37.7 159.9h0M37.3 169.3h0M36.5 186.4h0M38.2 164.7h0M38.9 151.2h0M36.3 180.2h0M38.2 189.4h0M38.6 140.2h0M38.7 160.8h0M38.0 165.5h0M37.1 161.2h0M39.5 156.2h0M38.1 156.3h0M38.8 167.3h0M38.1 176.5h0M37.5 149.7h0M38.2 165.9h0M38.5 149.4h0M40.5 150.8h0M40.4 152.4h0M37.9 149.0h0M37.7 173.4h0M37.9 155.3h0M37.1 152.3h0M37.2 189.5h0M37.1 176.0h0M38.5 149.5h0M37.1 152.8h0M39.2 158.8h0M40.4 172.8h0M39.8 180.9h0M37.4 158.4h0M39.9 160.2h0M38.4 168.8h0M38.6 158.1h0M38.4 153.9h0M37.0 166.0h0M36.8 161.2h0M38.3 154.2h0M38.0 186.8h0M36.6 168.0h0M38.8 160.6h0M36.9 167.3h0M39.3 159.0h0M37.7 184.1h0M40.2 146.2h0M37.6 173.0h0M37.3 161.4h0M37.7 174.9h0M39.5 158.8h0M37.0 179.8h0M38.9 174.1h0M38.1 186.1h0M37.6 181.3h0M38.1 132.9h0M36.9 178.2h0M38.8 152.9h0M37.2 153.0h0M37.3 144.9h0M37.2 145.6h0M38.2 174.7h0M35.5 176.0h0M38.4 184.1h0M38.6 153.5h0M38.6 134.9h0M37.9 151.2h0M35.5 164.2h0M36.8 157.1h0M37.3 138.7h0M37.0 165.8h0M37.7 177.1h0M37.3 154.5h0M38.7 181.8h0M36.4 164.9h0M39.2 160.9h0M39.7 146.8h0M39.7 178.1h0M38.6 137.6h0M37.5 192.1h0M37.6 177.8h0M37.0 168.5h0M38.7 153.0h0M39.7 163.0h0M36.9 152.1h0M36.9 163.0h0M40.7 160.5h0M37.3 168.0h0M37.5 166.9h0M36.9 158.0h0M38.3 161.5h0M36.3 144.0h0M39.0 145.3h0M50.4 172.6h0M48.7 160.9h0M50.1 135.7h0M49.8 183.8h0M48.4 157.4h0M49.3 127.0h0M49.8 180.7h0M48.0 179.7h0M48.8 185.9h0M47.6 179.7h0M47.3 144.0h0M50.0 161.1h0M50.7 179.7h0M50.0 130.5h0M51.0 178.6h0M49.4 166.2h0M50.9 153.7h0M51.1 169.6h0M47.8 164.7h0M50.3 163.1h0M46.9 165.0h0M50.1 158.7h0M51.2 184.3h0M52.1 165.0h0M49.0 138.1h0M47.7 164.1h0M48.0 160.3h0M49.6 182.3h0M50.0 164.5h0M49.1 177.8h0M50.3 196.6h0M48.2 175.4h0M50.0 171.0h0M47.6 187.2h0M50.7 187.6h0M47.9 181.3h0M50.4 155.9h0M49.6 179.3h0M51.1 155.3h0M50.2 150.7h0M47.5 164.9h0M48.4 141.8h0M49.6 160.2h0M51.7 158.5h0M48.0 159.4h0M49.9 186.4h0M51.6 166.0h0M49.2 169.8h0M55.6 171.9h0M53.0 172.3h0M54.9 159.8h0M55.3 158.2h0M56.5 167.8h0M55.6 162.7h0M56.5 184.8h0M55.8 156.1h0M54.6 165.7h0M56.5 159.1h0M54.4 169.4h0M54.1 144.3h0M56.3 155.3h0M56.5 146.3h0M56.6 153.4h0M54.2 149.8h0M53.7 178.8h0M54.1 181.9h0M55.0 166.4h0M55.3 156.0h0M55.2 157.9h0M56.1 184.3h0M60.6 151.3h0M60.3 167.5h0M63.0 132.2h0M59.9 181.4h0M61.4 168.6h0M59.7 184.5h0M60.2 148.6h0M60.3 157.6h0M61.5 163.8h0M61.3 136.2h0M60.9 164.2h0M61.0 179.2h0M61.3 152.1h0M58.9 153.7h0M59.0 171.0h0M61.3 152.4h0M61.1 161.2h0M59.7 174.1h0M60.2 152.2h0M62.1 165.4h0M59.5 129.0h0M63.5 156.7h0M62.3 179.7h0M60.2 139.2h0M60.8 135.2h0M62.3 136.5h0M62.0 168.2h0M61.3 164.7h0M61.3 158.3h0M59.7 168.1h0M60.6 172.8h0M61.4 159.5h0M60.2 173.8h0M60.7 146.4h0M61.2 166.4h0M58.5 156.4h0M61.4 159.6h0M63.5 163.2h0M60.6 158.5h0M60.7 149.9h0M59.5 148.4h0M58.9 162.9h0M63.5 152.0h0M62.0 176.3h0M61.0 135.6h0M59.6 157.5h0M60.4 135.7h0M61.2 171.2h0M60.9 144.8h0M59.2 159.2h0M58.3 171.7h0M62.0 145.4h0M61.9 144.2h0M60.4 174.6h0M61.0 173.5h0M60.9 161.0h0M61.9 142.0h0M62.5 168.2h0M60.7 143.3h0M59.5 149.3h0M62.0 181.4h0M61.1 156.2h0M60.5 152.9h0M62.2 150.6h0M61.0 164.7h0M62.0 140.3h0M59.7 149.3h0M62.7 139.7h0M60.3 144.8h0M59.6 141.6h0M59.1 138.4h0M59.5 151.8h0M62.2 141.1h0M60.5 170.9h0M62.0 141.5h0M59.0 162.9h0M63.5 142.7h0M59.7 158.6h0M61.0 158.1h0M60.4 164.9h0M59.9 163.1h0M61.3 159.3h0M59.3 131.7h0M61.9 157.6h0M61.4 155.7h0M60.1 153.2h0M60.2 161.3h0M60.2 158.4h0M61.6 151.1h0M61.2 141.8h0M62.2 152.1h0M61.1 184.4h0M61.1 161.4h0M60.0 159.8h0M59.6 152.1h0M61.7 158.3h0M62.5 144.4h0M62.6 142.1h0M63.2 156.1h0M61.6 138.5h0M62.3 163.9h0M59.6 160.3h0M59.8 167.7h0M62.1 162.3h0M62.3 158.4h0M62.2 185.6h0M59.6 147.7h0M59.3 171.5h0M59.4 158.6h0M62.2 172.8h0M60.8 145.7h0M61.5 155.6h0M61.6 155.1h0M61.7 152.1h0M61.4 162.1h0M60.5 169.5h0M61.3 146.8h0M60.9 135.6h0M60.4 149.9h0M61.3 136.4h0M59.6 153.5h0M58.7 151.7h0M59.4 142.1h0M60.7 162.0h0M61.1 183.0h0M61.9 157.0h0M61.2 137.7h0M61.5 143.8h0M61.1 141.3h0M61.8 131.2h0M66.4 158.0h0M65.2 172.7h0M67.7 134.0h0M66.3 145.4h0M66.2 159.9h0M64.9 161.2h0M65.6 151.8h0M67.4 171.8h0M64.0 166.5h0M64.0 148.6h0M66.1 166.5h0M69.0 149.4h0M65.9 185.2h0M66.0 135.0h0M67.5 165.5h0M65.5 182.2h0M67.3 150.2h0M66.1 175.2h0M66.7 144.8h0M67.9 155.8h0M68.9 148.4h0M69.2 185.5h0M65.0 165.1h0M66.6 149.4h0M66.8 181.6h0M65.7 165.2h0M66.7 151.0h0M67.8 147.2h0M64.7 164.6h0M69.1 190.6h0M66.6 155.5h0M67.0 168.3h0M66.5 139.9h0M66.1 155.0h0M66.9 188.3h0M66.0 145.1h0M68.5 180.8h0M67.2 174.1h0M66.7 174.7h0M64.9 172.8h0M67.1 139.0h0M65.3 165.3h0M67.1 178.4h0M66.6 166.0h0M66.7 155.7h0M65.9 165.9h0M67.7 165.2h0M64.1 188.6h0M65.4 144.8h0M64.1 138.4h0M65.5 166.9h0M66.0 169.9h0M67.5 160.4h0M66.4 183.7h0M65.5 151.0h0M73.1 191.7h0M72.9 152.6h0M72.8 164.2h0M71.1 193.2h0M74.2 200.0h0M71.9 186.5h0M70.5 179.9h0M74.3 161.6h0M72.8 183.2h0M72.9 164.9h0M73.1 179.3h0M70.6 174.5h0M72.9 168.0h0M74.1 156.2h0M73.8 190.9h0M71.1 183.4h0M70.8 174.1h0M72.0 147.5h0M69.7 156.2h0M71.1 172.2h0M72.8 148.0h0M69.7 199.5h0M71.0 186.0h0M73.8 199.9h0M74.2 162.5h0M70.7 200.9h0M72.0 164.5h0M74.9 182.2h0M69.8 198.1h0M72.5 191.6h0M74.9 151.4h0M74.6 184.9h0M71.6 150.2h0M71.6 170.1h0M72.4 160.7h0M71.9 192.8h0M74.9 193.0h0M73.0 145.7h0M72.2 172.0h0M71.2 198.7h0M71.8 176.0h0M71.7 193.5h0M74.1 178.6h0M73.5 150.2h0M72.7 147.5h0M72.3 195.9h0M73.1 150.8h0M70.8 185.2h0M72.3 165.5h0M72.5 202.3h0M72.4 172.9h0M70.9 158.5h0M71.1 150.5h0M74.6 184.7h0M71.6 176.2h0M73.3 185.5h0M72.0 165.9h0M70.4 169.8h0M71.0 166.7h0M73.6 164.5h0M71.8 191.7h0M72.3 183.2h0M71.3 181.0h0M74.8 165.7h0M70.2 164.3h0M73.4 172.6h0M74.2 149.0h0M71.3 174.6h0M73.4 187.8h0M72.4 199.9h0M73.8 153.1h0M73.2 163.1h0M72.9 183.8h0M73.9 188.1h0M74.0 177.5h0M71.4 184.3h0M72.5 198.9h0M73.3 200.5h0M74.8 203.5h0M70.8 199.8h0M70.7 198.1h0M71.5 200.0h0M72.3 198.0h0M71.7 201.8h0M73.0 196.8h0M69.7 201.3h0M72.9 201.8h0M70.5 200.8h0M72.8 203.3h0M71.7 201.8h0M72.4 201.8h0M73.1 201.4h0M71.2 200.1h0M71.3 200.4h0M70.9 201.8h0M72.6 203.3h0M70.5 202.1h0M71.5 199.2h0M71.5 199.2h0M74.2 203.5h0M73.0 200.3h0M72.1 202.9h0M73.1 203.0h0M70.8 197.1h0M84.2 184.3h0M83.7 190.8h0M85.4 168.7h0M85.0 168.6h0M84.6 177.5h0M81.8 153.5h0M86.1 172.0h0M84.6 157.6h0M82.5 156.9h0M83.5 171.4h0M92.5 174.6h0M94.8 199.3h0M95.1 187.3h0M93.8 171.0h0M92.7 190.7h0M95.9 166.1h0M95.5 186.2h0M94.8 177.7h0M95.3 194.5h0M94.7 187.9h0M97.1 194.5h0M96.4 177.4h0M93.4 201.8h0M93.3 181.5h0M95.4 177.5h0M96.5 185.3h0M96.4 192.4h0M93.8 176.9h0M95.8 190.8h0M94.3 190.3h0M94.1 178.9h0M94.1 188.7h0M94.4 180.5h0M95.2 171.2h0M95.0 177.3h0M95.5 195.2h0M95.6 201.7h0M93.9 201.2h0M95.1 181.7h0M93.3 190.0h0M94.8 193.5h0M97.2 190.8h0M95.1 202.8h0M92.5 182.9h0M95.8 186.5h0M93.6 189.7h0M93.6 200.3h0M95.0 189.8h0M94.2 184.8h0M95.3 199.1h0M93.5 185.3h0M94.9 185.0h0M95.8 178.1h0M95.1 170.7h0M95.3 168.2h0M94.5 174.1h0M93.3 195.2h0M97.6 198.7h0M94.4 180.4h0M96.3 189.3h0M97.2 189.7h0M93.1 180.2h0M96.1 196.6h0M93.1 185.7h0M97.7 186.2h0M95.8 187.5h0M97.6 178.1h0M95.1 200.2h0M95.5 181.8h0M97.3 179.6h0M95.0 187.2h0M96.9 176.6h0M94.2 176.8h0M95.7 168.4h0M94.3 176.2h0M92.5 196.0h0M94.0 167.3h0M94.9 181.8h0M94.5 178.3h0M93.7 187.5h0M94.8 180.6h0M96.2 193.4h0M92.5 178.2h0M96.6 169.3h0M96.2 195.9h0M97.1 195.0h0M94.1 184.9h0M93.8 191.2h0M95.9 172.9h0M95.4 177.0h0M95.3 179.0h0M95.1 185.5h0M94.3 202.0h0M96.1 169.8h0M94.7 179.6h0M94.2 187.0h0M95.4 184.5h0M95.4 187.5h0M96.1 199.4h0M94.7 184.9h0M94.8 173.9h0M93.9 188.9h0M93.0 192.9h0M95.2 194.7h0M94.5 194.2h0M93.2 174.8h0M95.1 181.9h0M94.4 195.3h0M95.7 165.7h0M95.8 175.2h0M93.8 170.9h0M95.8 193.3h0M94.4 190.8h0M96.5 181.0h0M94.6 179.6h0M95.4 174.1h0M95.5 184.3h0M95.2 176.9h0M96.4 192.2h0M95.8 169.7h0M92.8 180.8h0M93.8 186.5h0M96.1 191.8h0M95.4 176.1h0M97.7 168.0h0M95.8 197.0h0M94.1 200.8h0M96.5 191.8h0M97.7 195.4h0M95.4 202.0h0M94.8 199.6h0M95.6 193.0h0M94.5 200.1h0M94.2 193.2h0M94.2 195.2h0M95.6 197.5h0M95.9 201.9h0M92.5 192.2h0M96.5 194.4h0M94.4 195.6h0M94.8 193.1h0M95.2 195.4h0M94.9 196.3h0M95.7 193.0h0M93.5 193.5h0M107.0 180.6h0M104.7 189.3h0M108.2 180.5h0M107.8 185.6h0M106.7 198.1h0M105.0 189.8h0M106.1 201.4h0M108.0 183.7h0M105.1 192.0h0M105.8 186.6h0M109.1 191.0h0M105.3 176.9h0M104.8 193.4h0M109.6 162.7h0M113.3 159.6h0M114.1 178.1h0M113.3 155.4h0M112.0 152.3h0M113.6 190.4h0M112.9 173.1h0M111.5 182.3h0M111.9 159.2h0M110.7 165.5h0M111.3 152.9h0M114.1 151.2h0M111.8 188.8h0M110.2 152.0h0M111.8 173.4h0M112.9 167.8h0M112.5 191.1h0M111.7 180.7h0M111.8 180.0h0M114.8 163.3h0M111.8 156.8h0M111.4 175.1h0M112.4 188.8h0M111.3 180.6h0M112.3 191.6h0M110.1 167.7h0M113.7 176.6h0M112.5 172.5h0M112.7 168.3h0M112.4 177.4h0M111.0 162.9h0M113.5 164.1h0M112.0 163.8h0M112.3 177.7h0M114.1 166.6h0M114.8 190.1h0M111.6 151.7h0M112.5 164.1h0M113.3 159.7h0M114.4 180.1h0M112.2 186.5h0M112.1 169.3h0M113.0 141.9h0M112.1 186.3h0M110.9 164.5h0M110.5 164.0h0M112.1 172.9h0M122.4 162.3h0M122.7 151.6h0M122.2 152.6h0M124.3 151.7h0M125.3 139.0h0M123.8 156.9h0M123.3 147.2h0M124.2 147.4h0M123.7 169.3h0M122.3 169.5h0M124.5 164.0h0M124.0 158.5h0M125.0 153.9h0M124.0 159.3h0M124.1 157.6h0M122.0 156.2h0M122.6 182.4h0M125.5 155.9h0M122.0 136.9h0M123.2 166.5h0M122.8 175.3h0M124.7 149.0h0M125.1 165.1h0M124.4 165.3h0M124.8 168.8h0M124.2 157.2h0M123.0 156.1h0M121.7 151.1h0M125.1 170.6h0M121.6 137.1h0M124.1 170.5h0M125.5 155.7h0M123.3 136.9h0M122.1 156.4h0M124.6 152.8h0M123.6 174.7h0M124.1 150.4h0M126.2 153.3h0M124.1 170.0h0M135.3 176.2h0M135.7 185.3h0M135.3 169.0h0M133.2 160.4h0M134.2 186.4h0M136.6 194.2h0M135.8 200.3h0M135.6 168.1h0M134.6 170.9h0M133.9 176.6h0M134.0 193.6h0M135.4 182.0h0M135.7 192.0h0M136.5 172.8h0M133.6 157.5h0M135.1 198.4h0M133.9 201.9h0M135.7 182.3h0M137.2 161.6h0M136.1 196.9h0M135.6 199.8h0M134.6 165.0h0M134.8 164.7h0M134.2 170.6h0M134.3 165.2h0M136.4 186.3h0M136.1 187.0h0M137.3 169.6h0M134.9 174.6h0M132.4 166.8h0M134.5 157.6h0M137.2 177.1h0M134.5 164.1h0M135.5 178.1h0M134.6 167.5h0M135.5 180.2h0M135.9 162.6h0M135.1 181.3h0M137.6 185.3h0M135.2 188.7h0M135.1 181.1h0M132.4 156.7h0M136.3 175.9h0M137.4 199.0h0M134.5 198.9h0M135.4 167.2h0M135.2 164.5h0M136.0 178.6h0M135.9 159.0h0M136.2 190.7h0M136.6 179.1h0M133.2 165.7h0M134.9 201.4h0M134.9 167.6h0M135.8 161.9h0M135.9 171.8h0M133.8 184.6h0M135.6 169.8h0M133.9 201.5h0M135.1 184.7h0M135.0 177.0h0M136.1 199.6h0M136.4 161.7h0M135.8 195.2h0M134.3 179.6h0M137.2 169.8h0M134.9 165.4h0M136.8 172.3h0M134.6 181.7h0M135.3 159.7h0M136.0 179.9h0M133.7 156.9h0M136.1 199.4h0M133.9 200.9h0M133.8 191.4h0M135.1 198.3h0M135.3 160.4h0M136.9 194.2h0M135.2 179.7h0M135.6 192.6h0M134.3 191.6h0M134.7 182.6h0M134.5 181.1h0M135.1 182.2h0M135.8 172.8h0M133.9 198.9h0M136.8 178.6h0M135.5 196.9h0M134.9 192.2h0M135.5 198.9h0M136.1 187.6h0M135.4 171.0h0M134.3 170.2h0M134.1 172.1h0M135.6 172.6h0M134.3 176.4h0M134.7 189.6h0M134.9 166.9h0M136.1 172.1h0M134.0 179.3h0M135.2 184.8h0M133.8 174.0h0M134.0 195.2h0M133.6 178.7h0M133.0 194.3h0M133.0 189.0h0M134.6 200.6h0M134.6 178.4h0M135.4 186.0h0M135.4 198.9h0M136.3 176.2h0M136.8 188.7h0M136.0 199.2h0M134.0 200.0h0M133.8 191.8h0M135.9 197.5h0M134.4 161.4h0M136.2 160.9h0M134.1 170.0h0M136.2 180.7h0M135.8 184.0h0M136.2 158.4h0M133.4 166.0h0M134.9 201.3h0M135.8 183.6h0M135.8 180.1h0M135.2 191.3h0M134.0 188.6h0M134.9 176.8h0M134.5 190.2h0M134.5 200.7h0M135.6 196.8h0M134.1 199.6h0M135.9 191.4h0M135.8 188.6h0M135.7 192.7h0M134.6 191.6h0M134.3 191.7h0M137.6 200.3h0M137.0 199.1h0M136.1 189.8h0M134.7 192.7h0M135.9 197.1h0M136.1 201.5h0M135.8 200.4h0M133.3 197.2h0M134.9 203.4h0M134.1 199.5h0M136.4 200.9h0M135.8 201.5h0M147.5 187.3h0M147.2 186.3h0M145.3 170.5h0M146.0 191.5h0M147.5 186.9h0M145.6 179.1h0M146.9 176.0h0M147.1 164.7h0M147.4 179.3h0M148.3 201.8h0M145.2 202.2h0M145.7 193.3h0M148.6 176.3h0M146.1 171.2h0M149.0 157.8h0M145.9 160.3h0M146.3 202.4h0M145.9 202.3h0M147.7 180.6h0M146.3 158.2h0M144.6 172.2h0M147.9 182.2h0M145.2 184.2h0M146.2 166.2h0M144.8 197.3h0M151.8 185.6h0M150.7 160.1h0M151.9 192.9h0M152.4 187.2h0M154.7 177.4h0M153.2 160.6h0M151.8 192.3h0M152.6 196.4h0M151.7 200.5h0M152.7 194.5h0M154.3 179.5h0M154.1 189.2h0M152.5 169.0h0M152.1 193.1h0M151.3 191.3h0M151.7 196.0h0M153.1 158.4h0M153.1 203.0h0M152.1 171.5h0M154.7 186.0h0M151.3 177.2h0M151.7 160.4h0M152.5 158.3h0M153.4 186.2h0M152.2 185.3h0M154.5 173.9h0M153.1 174.0h0M152.6 181.5h0M151.9 181.2h0M151.6 168.2h0M151.2 163.4h0M151.6 162.9h0M153.9 196.0h0M152.4 165.6h0M150.4 203.0h0M152.7 173.5h0M152.7 159.7h0M152.0 165.1h0M151.8 190.9h0M150.3 180.7h0M152.9 190.5h0M150.7 186.1h0M150.4 199.7h0M153.8 194.9h0M152.6 176.0h0M152.0 171.6h0M151.8 199.4h0M151.7 182.3h0M150.0 164.1h0M151.3 187.4h0M153.1 178.5h0M152.0 169.4h0M152.5 186.4h0M151.1 183.8h0M152.1 183.0h0M151.6 191.2h0M154.7 173.7h0M149.9 179.4h0M149.9 182.7h0M152.1 201.0h0M152.0 161.0h0M152.9 171.4h0M151.3 176.2h0M152.3 171.0h0M151.7 180.7h0M153.2 185.2h0M150.3 159.1h0M153.2 173.2h0M151.5 167.7h0M152.3 194.4h0M153.5 182.7h0M151.0 169.5h0M153.3 193.6h0M151.9 173.1h0M152.0 161.3h0M153.8 200.0h0M152.3 183.9h0M152.2 162.1h0M152.0 165.7h0M152.8 185.3h0M152.1 178.4h0M153.2 188.7h0M150.9 164.5h0M152.6 182.8h0M151.4 193.5h0M152.6 173.9h0M151.3 179.0h0M150.6 198.7h0M151.9 165.9h0M152.3 157.8h0M151.5 186.3h0M152.1 166.6h0M153.6 169.0h0M151.7 195.7h0M151.0 178.6h0M151.4 200.1h0M149.5 180.0h0M153.9 196.5h0M150.6 181.6h0M152.4 170.1h0M149.6 184.3h0M149.5 193.2h0M154.2 171.9h0M151.5 198.6h0M153.3 176.6h0M153.8 187.5h0M152.0 202.8h0M152.1 190.8h0M153.0 193.7h0M152.3 193.8h0M152.3 191.5h0M152.4 201.3h0M151.3 198.8h0M152.1 198.0h0M154.3 201.8h0M152.1 193.3h0M152.0 200.7h0M151.8 194.7h0M150.0 196.5h0M152.6 197.5h0M151.9 195.3h0M152.6 194.1h0M152.7 193.8h0M158.0 165.7h0M157.8 177.4h0M155.2 149.2h0M158.7 138.7h0M158.8 147.4h0M158.5 159.9h0M156.7 140.4h0M157.7 168.9h0M155.7 152.3h0M158.6 147.1h0M158.3 145.4h0M156.4 175.5h0M158.6 149.1h0M156.8 166.6h0M156.2 155.1h0M157.4 134.4h0M157.3 156.0h0M158.5 166.3h0M170.8 139.8h0M168.6 150.3h0M168.5 191.2h0M171.8 159.9h0M171.2 188.2h0M168.1 184.3h0M171.2 159.3h0M169.0 151.3h0M168.1 162.0h0M169.3 173.4h0M170.0 168.8h0M169.4 187.0h0M167.3 173.1h0M167.8 152.0h0M167.9 155.8h0M170.6 195.7h0M169.1 176.9h0M168.1 169.7h0M169.5 155.7h0M168.2 152.2h0M171.8 170.2h0M166.6 168.8h0M168.4 179.1h0M167.4 147.4h0M171.7 183.9h0M167.8 156.2h0M168.8 160.3h0M167.6 172.0h0M168.7 178.0h0M169.6 173.0h0M167.5 167.2h0M168.9 175.9h0M168.6 152.2h0M170.7 163.4h0M169.5 194.4h0M169.5 176.5h0M168.7 171.2h0M170.6 178.1h0M167.7 187.2h0M170.4 159.3h0M169.6 153.1h0M169.1 162.8h0M168.9 182.1h0M166.9 153.8h0M168.8 177.5h0M170.9 165.1h0M169.8 195.9h0M169.8 186.4h0M168.6 149.2h0M170.4 161.8h0M170.5 154.8h0M169.7 194.8h0M168.7 171.8h0M168.5 168.2h0M170.0 162.3h0M169.5 161.1h0M169.9 178.6h0M168.5 171.3h0M168.5 180.9h0M169.6 182.8h0M167.1 181.8h0M170.8 146.9h0M170.9 166.1h0M169.1 156.0h0M169.5 180.3h0M169.1 146.3h0M170.0 175.7h0M168.9 172.8h0M171.5 182.7h0M169.1 145.4h0M168.9 187.0h0M167.8 157.8h0M168.6 183.0h0M168.7 171.1h0M168.1 179.3h0M168.0 155.3h0M169.5 186.4h0M168.3 169.3h0M168.1 197.5h0M167.3 194.6h0M167.8 190.1h0M168.5 165.9h0M169.6 148.9h0M169.7 142.1h0M168.1 169.2h0M169.6 195.3h0M170.0 161.5h0M170.0 199.3h0M166.6 147.4h0M168.4 185.6h0M169.8 181.2h0M169.6 166.6h0M170.0 171.4h0M167.9 185.9h0M169.4 177.5h0M168.4 188.7h0M167.5 167.9h0M168.2 149.5h0M169.0 166.2h0M169.9 161.3h0M170.7 178.0h0M168.5 201.0h0M169.0 182.1h0M168.2 180.0h0M170.6 152.2h0M169.1 169.1h0M170.5 155.6h0M169.1 172.8h0M168.4 158.5h0M170.8 172.3h0M168.8 161.5h0M169.4 196.2h0M167.8 172.2h0M170.6 179.8h0M168.6 148.3h0M169.3 148.5h0M169.6 189.1h0M169.0 179.9h0M167.4 141.7h0M170.0 176.9h0M169.3 170.7h0M169.8 174.9h0M167.5 180.2h0M169.1 200.1h0M170.3 174.0h0M166.6 178.4h0M169.8 151.4h0M168.5 174.0h0M168.9 171.8h0M168.8 170.6h0M179.3 167.2h0M179.6 173.0h0M180.1 170.4h0M179.6 142.1h0M181.0 161.9h0M180.3 157.5h0M179.7 189.7h0M179.2 160.3h0M178.8 143.8h0M182.0 166.1h0M180.1 144.1h0M179.5 174.2h0M179.9 167.3h0M179.7 188.4h0M179.0 158.7h0M180.5 160.5h0M181.2 157.7h0M179.8 171.7h0M180.3 186.5h0M180.6 171.1h0M180.2 180.8h0M180.7 166.9h0M180.4 158.5h0M180.9 176.3h0M178.9 163.2h0M181.4 154.4h0M178.4 185.0h0M182.0 188.3h0M179.0 192.8h0M183.1 151.4h0M180.8 154.1h0M179.4 145.7h0M181.0 162.6h0M182.2 190.7h0M178.0 164.8h0M181.3 179.9h0M181.5 187.6h0M180.9 176.9h0M179.4 167.0h0M179.5 158.3h0M182.2 182.7h0M180.9 166.4h0M181.1 173.5h0M182.1 160.3h0M182.4 178.6h0M181.7 159.4h0M179.5 142.5h0M179.0 172.3h0M180.8 168.4h0M180.9 172.6h0M180.3 139.2h0M178.9 163.3h0M179.2 161.0h0M180.7 144.0h0M181.1 142.1h0M180.4 164.5h0M180.1 184.8h0M181.2 171.5h0M182.4 167.8h0M180.7 168.9h0M178.7 153.6h0M181.8 167.1h0M180.0 172.7h0M178.0 179.2h0M181.9 154.2h0M180.9 169.3h0M179.9 170.0h0M181.3 173.6h0M180.5 170.2h0M182.8 164.7h0M181.9 167.6h0M182.1 158.9h0M180.7 158.4h0M179.8 176.6h0M193.7 127.8h0M194.0 150.9h0M194.6 166.8h0M191.7 131.7h0M194.6 160.1h0M192.2 123.5h0M191.7 137.3h0M194.6 145.3h0M191.9 151.2h0M191.3 139.4h0M190.0 125.9h0M192.4 166.7h0M191.8 120.2h0M192.1 139.6h0M192.9 140.3h0M191.8 128.8h0M193.1 174.7h0M190.2 160.9h0M191.0 131.2h0M191.3 150.4h0M189.7 145.5h0M191.6 152.8h0M192.5 135.8h0M191.6 121.0h0M191.0 133.3h0M191.4 160.8h0M192.1 148.3h0M193.2 170.1h0M192.5 145.5h0M194.6 134.7h0M192.4 134.4h0M193.3 162.2h0M191.0 141.7h0M192.0 151.4h0M193.0 143.3h0M193.0 133.2h0M194.6 179.7h0M190.9 143.3h0M192.1 160.3h0M192.3 149.2h0M193.6 132.3h0M192.0 142.8h0M191.4 133.8h0M192.4 156.2h0M197.3 148.4h0M196.9 171.3h0M197.6 152.4h0M198.0 169.0h0M200.3 157.3h0M198.9 151.4h0M198.6 166.0h0M198.5 145.8h0M197.8 177.8h0M197.7 147.4h0M197.7 163.2h0M195.8 145.8h0M196.3 170.9h0M197.5 158.1h0M197.0 158.8h0M195.2 164.0h0M199.1 169.6h0M200.3 167.5h0M200.3 178.1h0M199.3 162.9h0M196.9 155.1h0M197.5 171.5h0M198.9 157.6h0M197.5 162.2h0M199.6 174.0h0M198.6 155.4h0M197.9 158.5h0M197.7 166.7h0M197.7 176.6h0M196.8 153.4h0M196.5 181.2h0M197.0 158.5h0M196.0 170.1h0M197.1 160.0h0M197.5 170.4h0M199.8 180.4h0M197.6 166.2h0M198.0 180.9h0M199.0 174.1h0M199.5 156.6h0M197.5 160.1h0M198.9 152.1h0M198.0 173.7h0M198.9 167.9h0M197.5 159.0h0M199.0 150.4h0M199.7 141.9h0M197.8 162.8h0M196.7 180.5h0M197.3 175.6h0M198.2 159.8h0M198.6 166.9h0M197.5 174.5h0M199.5 142.0h0M196.7 161.6h0M199.9 148.8h0M198.4 149.7h0M198.3 167.5h0M199.0 161.4h0M195.9 149.3h0M197.4 181.4h0M196.4 154.0h0M196.0 171.8h0M197.7 148.1h0M199.7 158.9h0M197.8 142.8h0M196.0 179.4h0M198.0 146.8h0M200.0 154.7h0M198.0 151.9h0M198.9 146.4h0M198.3 166.7h0M197.6 175.9h0M196.9 163.3h0M196.4 154.1h0M197.1 156.1h0M197.4 179.5h0M198.1 150.2h0M195.1 154.1h0M196.5 150.5h0M197.8 163.5h0M197.9 159.5h0M199.0 151.4h0M198.5 165.3h0M197.6 158.9h0M197.5 168.3h0M197.7 175.6h0M198.9 155.8h0M197.8 146.2h0M198.9 176.9h0M200.0 148.6h0M197.5 144.2h0M195.3 147.3h0M197.9 171.7h0M196.3 149.3h0M198.1 164.2h0M199.7 162.5h0M197.7 160.6h0M196.4 174.4h0M196.7 162.6h0M198.3 173.0h0M197.3 168.9h0M199.6 159.0h0M197.9 174.0h0M196.5 161.0h0M198.3 163.2h0M198.2 146.1h0M199.4 155.8h0M197.7 162.9h0M197.1 150.7h0M196.8 154.1h0M197.2 158.8h0M198.7 165.0h0M198.1 176.0h0M198.6 157.4h0M196.6 171.0h0M197.7 146.2h0M199.5 148.8h0M198.6 162.8h0M197.4 164.5h0M198.1 180.5h0M197.2 159.4h0M197.5 151.6h0M196.4 147.5h0M199.3 142.3h0M198.0 173.5h0M198.2 177.4h0M196.1 147.5h0M197.9 150.2h0M196.8 162.4h0M204.4 176.7h0M202.1 201.2h0M202.1 180.1h0M204.7 179.1h0M204.1 173.9h0M203.4 190.5h0M202.1 161.0h0M203.1 167.5h0M204.2 163.3h0M200.8 174.6h0M204.9 198.3h0M204.5 176.5h0M203.9 183.6h0M202.2 192.0h0M204.4 173.5h0M202.3 167.5h0M202.7 185.5h0M202.9 186.0h0M203.2 165.9h0M203.0 191.5h0M203.2 172.7h0M204.8 186.3h0M202.5 163.7h0M204.1 171.5h0M204.6 174.1h0M204.3 173.5h0M200.9 187.9h0M204.1 188.7h0M201.4 188.7h0M202.6 182.3h0M203.1 184.7h0M203.0 174.2h0M203.5 182.7h0M203.4 190.7h0M204.7 196.3h0M202.6 186.1h0M201.0 190.0h0M202.9 169.2h0M201.5 181.3h0M203.7 200.5h0M202.4 195.7h0M204.2 176.7h0M203.6 179.0h0M204.4 202.8h0M203.0 170.2h0M200.8 177.0h0M201.8 180.9h0M202.2 170.2h0M202.4 201.6h0M203.3 192.6h0M204.3 173.6h0M204.2 181.0h0M206.0 179.8h0M204.2 186.9h0M204.8 165.7h0M203.4 172.9h0M203.0 199.5h0M205.0 199.8h0M203.0 188.3h0M202.9 199.2h0M202.3 160.7h0M203.5 182.9h0M203.3 173.2h0M203.4 170.4h0M202.3 190.9h0M202.9 177.6h0M203.2 168.3h0M202.9 177.8h0M205.2 168.2h0M204.4 167.9h0M205.2 194.0h0M201.6 160.1h0M203.0 195.7h0M204.5 165.1h0M202.6 180.3h0M202.7 175.6h0M204.1 197.7h0M204.2 173.1h0M204.3 200.7h0M205.0 197.7h0M203.8 196.5h0M205.0 189.0h0M201.8 189.6h0M205.5 171.7h0M202.6 181.4h0M203.8 168.1h0M204.6 177.6h0M204.6 166.5h0M201.5 196.6h0M202.9 179.3h0M205.5 176.6h0M202.6 171.0h0M202.7 176.3h0M203.6 198.1h0M200.8 203.5h0M203.1 190.5h0M202.3 202.1h0M204.5 196.4h0M204.6 194.0h0M203.5 200.1h0M203.3 191.2h0M203.7 195.9h0M204.9 200.0h0M202.8 200.3h0M202.7 202.8h0M203.0 202.1h0M205.6 191.5h0M205.6 202.8h0M205.9 190.6h0M212.2 180.8h0M213.3 174.2h0M214.1 171.5h0M214.8 169.1h0M215.3 183.6h0M214.5 192.3h0M216.4 171.2h0M215.7 175.6h0M216.4 163.9h0M215.6 150.6h0M215.3 174.8h0M217.4 179.6h0M213.2 183.7h0M212.9 178.2h0M214.3 174.2h0M212.2 168.1h0M216.1 176.6h0M213.6 191.8h0M216.3 174.1h0M214.6 150.0h0M214.6 161.3h0M213.4 166.3h0M214.8 174.6h0M216.0 151.7h0M214.8 151.1h0M214.7 179.8h0M212.9 200.6h0M213.3 180.8h0M213.9 144.7h0M215.7 181.7h0M216.2 163.7h0M215.9 158.8h0M213.8 163.9h0M215.0 181.6h0M214.5 155.5h0M213.9 171.3h0M214.4 176.2h0M213.3 162.3h0M215.2 179.4h0M213.6 168.5h0M216.9 162.7h0M215.9 173.1h0M215.0 166.2h0M215.5 183.4h0M215.3 163.2h0M215.8 164.3h0M215.7 164.8h0M214.9 181.6h0M213.4 140.2h0M215.3 160.5h0M214.1 176.1h0M214.2 160.1h0M214.8 166.4h0M214.5 148.6h0M215.0 175.2h0M215.7 184.2h0M214.2 197.4h0M215.7 158.9h0M216.1 162.9h0M214.1 142.4h0M213.5 195.1h0M216.0 165.7h0M215.5 161.1h0M215.6 175.8h0M216.5 157.8h0M215.7 167.3h0M214.9 185.8h0M213.5 184.5h0M216.3 137.9h0M215.1 178.1h0M214.7 173.8h0M215.3 189.7h0M215.0 177.7h0M214.5 196.6h0M215.5 162.2h0M216.4 176.4h0M215.1 159.2h0M213.8 164.2h0M216.5 167.6h0M214.5 167.8h0M213.7 172.8h0M213.7 177.9h0M213.5 155.0h0M214.2 188.0h0M215.7 181.8h0M214.6 143.3h0M217.4 158.9h0M214.5 182.2h0M217.4 157.5h0M215.3 168.5h0M216.9 182.4h0M215.5 156.2h0M214.9 181.3h0M215.5 166.1h0M213.5 153.0h0M216.4 160.7h0M214.9 183.6h0M215.3 143.5h0M214.3 173.2h0M215.6 188.8h0M214.6 162.3h0M214.6 164.9h0M213.7 186.4h0M213.5 163.9h0M215.4 142.2h0M214.4 179.0h0M213.8 163.2h0M217.1 168.8h0M214.0 183.8h0M215.3 161.2h0M213.0 170.0h0M215.8 173.8h0M214.9 158.9h0M215.1 168.9h0M214.2 170.2h0M214.7 156.1h0M214.1 156.5h0M213.1 166.5h0M215.9 168.9h0M213.2 191.0h0M214.7 157.6h0M214.8 140.1h0M217.2 173.6h0M214.3 182.8h0M212.2 162.0h0M215.3 170.9h0M216.3 173.0h0M214.8 160.5h0M214.9 165.2h0M225.1 186.9h0M227.6 195.8h0M226.5 163.0h0M227.1 168.5h0M226.4 173.0h0M228.2 152.4h0M225.0 171.8h0M226.6 160.2h0M226.9 172.9h0M225.6 189.1h0M227.2 163.2h0M225.9 167.5h0M225.5 165.7h0M226.7 162.2h0M225.4 165.9h0M226.7 151.8h0M224.6 172.2h0M228.2 177.3h0M226.9 192.9h0M226.1 174.1h0M224.7 202.7h0M227.0 158.3h0M227.5 169.6h0M226.6 169.5h0M225.3 181.7h0M226.4 165.7h0M226.9 193.3h0M226.4 165.2h0M225.4 180.8h0M226.9 166.0h0M226.9 162.6h0M226.1 170.8h0M224.2 163.9h0M226.3 172.8h0M227.3 177.2h0M227.1 149.7h0M224.4 174.3h0M224.0 184.4h0M226.7 175.7h0M225.6 184.0h0M225.8 163.3h0M227.6 159.9h0M226.2 159.6h0M225.7 158.9h0M227.3 157.2h0M225.3 176.6h0M226.3 179.4h0M225.1 158.9h0M226.0 158.9h0M224.8 196.3h0M227.5 174.6h0M225.5 148.2h0M226.5 155.1h0M226.7 174.1h0M226.8 189.0h0M225.0 158.0h0M225.6 193.4h0M226.2 173.3h0M225.9 178.4h0M226.6 146.7h0M226.9 188.4h0M226.9 171.0h0M226.3 160.8h0M225.3 180.2h0M223.6 154.2h0M227.4 189.9h0M225.6 159.5h0M224.4 168.6h0M225.5 192.4h0M225.2 189.9h0M226.3 168.2h0M228.6 182.0h0M226.6 167.6h0M226.9 175.7h0M226.5 193.6h0M226.3 179.1h0M226.4 158.8h0M225.9 168.3h0M226.5 155.2h0M226.3 167.0h0M225.1 190.4h0M224.5 171.4h0M223.9 200.4h0M226.4 158.5h0M225.8 168.5h0M227.5 162.3h0M227.8 172.4h0M228.4 189.1h0M224.5 153.1h0M225.4 190.3h0M225.3 179.3h0M227.1 170.1h0M228.3 190.5h0M226.0 165.0h0M226.6 155.1h0M226.0 157.5h0M224.5 187.4h0M226.7 175.0h0M226.4 197.3h0M227.0 195.1h0M227.3 170.4h0M225.6 169.9h0M223.6 169.7h0M226.1 156.9h0M227.0 173.2h0M225.4 173.0h0M227.1 200.4h0M225.1 178.6h0M226.4 180.3h0M226.9 146.7h0M224.9 182.9h0M223.9 149.3h0M227.3 164.4h0M226.1 153.6h0M226.7 167.5h0M228.4 160.1h0M226.9 174.2h0M225.9 188.6h0M224.7 180.5h0M228.1 166.8h0M226.6 168.7h0M226.1 182.8h0M226.1 147.9h0M224.6 171.0h0M225.1 176.8h0M225.7 181.6h0M226.1 198.7h0M228.7 201.5h0M225.7 192.7h0M225.3 202.2h0M227.8 191.0h0M227.7 199.0h0M225.9 195.9h0M226.1 194.8h0M225.0 198.0h0M226.1 201.7h0M226.6 201.5h0M226.1 196.4h0M236.9 173.3h0M238.3 179.8h0M236.3 189.8h0M236.5 168.3h0M238.7 197.5h0M236.1 175.3h0M238.1 168.1h0M237.4 179.9h0M236.3 177.4h0M235.0 169.3h0M235.8 176.4h0M238.1 189.4h0M237.1 183.8h0M237.3 197.1h0M239.8 175.4h0M237.8 179.2h0M238.0 181.6h0M238.1 183.1h0M237.8 191.5h0M236.0 178.1h0M237.4 179.2h0M236.9 196.7h0M245.6 162.5h0M242.6 180.3h0M243.1 165.9h0M242.3 155.7h0M240.7 164.7h0M242.3 141.4h0M242.9 180.3h0M243.0 143.7h0M245.9 177.3h0M243.1 167.8h0M243.6 184.1h0M243.5 175.3h0M243.8 149.7h0M243.1 173.3h0M241.8 176.3h0M241.8 145.9h0M243.4 154.9h0M244.7 146.6h0M243.5 135.7h0M244.8 180.2h0M242.2 133.5h0M242.6 161.2h0M242.7 139.6h0M241.3 137.5h0M243.6 181.9h0M241.7 162.8h0M244.7 154.0h0M242.5 152.8h0M243.6 188.9h0M245.3 149.3h0M242.3 139.0h0M243.6 148.4h0M243.8 186.6h0M243.3 147.6h0M245.5 139.2h0M241.2 160.6h0M244.3 156.1h0M244.9 147.2h0M242.2 175.6h0M242.2 159.6h0M244.5 149.0h0M244.3 160.8h0M242.4 179.0h0M242.9 172.1h0M242.6 151.5h0M241.3 179.6h0M243.6 159.4h0M241.8 171.8h0M243.4 153.6h0M245.5 184.9h0M245.7 142.5h0M241.8 170.1h0M244.5 135.4h0M243.7 144.0h0M242.8 151.2h0M245.3 150.4h0M244.2 159.2h0M244.1 162.9h0M243.3 159.8h0M242.7 164.5h0M242.9 141.7h0M244.2 128.6h0M243.4 151.8h0M242.6 152.3h0M241.5 172.1h0M242.3 158.2h0M242.4 143.6h0M243.7 132.3h0M243.0 148.9h0M244.0 158.7h0M241.6 175.7h0M243.5 170.5h0M241.1 167.4h0M242.4 151.0h0M242.6 165.1h0M241.9 148.2h0M245.3 154.8h0M247.8 168.5h0M248.5 164.9h0M250.4 165.5h0M250.8 168.4h0M249.2 193.5h0M249.3 192.1h0M248.5 185.7h0M249.5 179.4h0M251.0 164.6h0M249.2 185.5h0M251.1 187.6h0M247.1 185.3h0M247.2 167.0h0M250.4 164.7h0M248.8 168.3h0M248.8 177.5h0M249.8 189.8h0M246.7 167.7h0M246.5 166.7h0M248.5 192.6h0M250.6 188.8h0M248.3 170.3h0M247.1 180.4h0M248.0 163.5h0M251.3 179.6h0M250.2 157.4h0M250.1 190.0h0M249.5 183.3h0M249.7 181.6h0M247.5 168.4h0M247.5 175.3h0M250.3 186.8h0M248.9 157.3h0M248.9 165.9h0M249.3 193.9h0M249.4 168.7h0M248.0 159.5h0M251.6 178.9h0M249.7 179.6h0M248.2 164.0h0M249.7 191.1h0M247.8 183.5h0M250.5 170.8h0M249.5 163.9h0M247.2 182.1h0M261.4 185.6h0M260.0 179.8h0M261.3 173.3h0M262.5 185.7h0M261.4 175.5h0M260.3 182.9h0M259.8 177.1h0M260.6 174.1h0M259.4 176.3h0M262.1 175.8h0M259.8 161.6h0M260.3 166.5h0M259.3 165.5h0M260.8 167.0h0M258.9 178.4h0M261.6 166.4h0M259.6 177.3h0M262.6 184.0h0M258.1 189.2h0M262.0 178.0h0M261.5 185.4h0M258.8 168.3h0M261.6 170.3h0M260.2 176.4h0M261.4 180.3h0M261.0 182.1h0M258.6 172.2h0M260.5 182.2h0M261.1 167.6h0M260.6 188.8h0M257.9 179.6h0M260.2 159.8h0M261.1 191.0h0M259.4 166.1h0M259.3 179.0h0M260.9 171.1h0M262.3 158.9h0M261.6 174.6h0M259.4 175.3h0M261.6 185.6h0M258.6 191.4h0M260.6 166.8h0M261.9 183.4h0M260.4 180.7h0M259.7 184.6h0M272.2 146.8h0M269.9 170.1h0M272.0 177.9h0M269.6 173.3h0M271.2 160.9h0M272.7 154.3h0M270.9 159.3h0M271.2 172.0h0M270.7 144.8h0M272.2 155.5h0M271.2 161.3h0M273.8 171.2h0M272.5 151.0h0M270.5 150.3h0M269.6 163.0h0M270.7 157.8h0M271.7 158.1h0M272.3 169.9h0M269.2 146.6h0M273.0 140.6h0M271.4 155.8h0M272.2 162.6h0M269.2 178.8h0M273.4 166.4h0M271.3 172.3h0M271.7 163.2h0M273.9 147.6h0M271.3 145.6h0M271.8 162.7h0M272.5 158.2h0M271.1 165.0h0M271.1 148.6h0M271.4 151.7h0M270.2 153.3h0M270.9 146.9h0M273.6 175.0h0M270.6 153.1h0M271.6 167.1h0M270.7 165.7h0M271.5 156.4h0M273.4 159.9h0M271.8 166.1h0M272.0 170.0h0M271.4 164.1h0M270.9 170.4h0M271.3 144.2h0M272.1 173.7h0M269.6 164.4h0M273.1 151.1h0M272.5 170.5h0M271.0 153.0h0M271.2 169.8h0M272.3 178.8h0M272.8 176.3h0M272.6 141.8h0M273.1 177.4h0M269.6 164.3h0M271.2 180.0h0M271.4 147.4h0M272.6 142.3h0M271.1 180.3h0M270.5 177.6h0M272.5 173.0h0M271.8 158.3h0M271.2 148.7h0M271.0 152.6h0M270.1 167.4h0M271.0 140.5h0M270.1 157.7h0M273.7 172.0h0M270.9 158.8h0M271.6 151.2h0M270.8 156.3h0M271.3 157.3h0M272.4 170.1h0M272.6 151.0h0M271.7 143.8h0M272.0 166.2h0M271.5 147.0h0M273.4 158.2h0M271.2 159.1h0M272.6 164.5h0M273.9 157.4h0M274.0 150.2h0M269.8 163.5h0M272.6 174.4h0M272.0 148.5h0M271.6 176.7h0M269.6 146.0h0M272.6 143.4h0M273.0 150.1h0M271.6 153.0h0M272.3 166.6h0M271.2 140.9h0M271.9 154.8h0M272.0 179.5h0M271.1 155.3h0M272.0 172.6h0M272.6 146.3h0M270.1 165.8h0M272.2 171.0h0M272.0 155.2h0M270.8 164.2h0M271.2 140.5h0M270.7 166.4h0M273.2 157.2h0M272.1 164.0h0M270.7 159.2h0M269.8 141.9h0M271.4 168.4h0M273.2 170.5h0M272.5 143.4h0M271.7 158.1h0M272.0 156.7h0M273.6 143.0h0M272.8 143.3h0M271.8 166.8h0M270.6 160.3h0M272.1 168.7h0M271.7 157.0h0M271.5 160.9h0M273.8 161.3h0M272.6 162.9h0M273.3 146.7h0M270.6 159.0h0M282.7 200.8h0M284.7 190.6h0M283.1 200.5h0M282.1 195.4h0M283.5 200.5h0M283.8 200.1h0M283.1 175.1h0M284.8 187.4h0M284.2 171.7h0M284.4 178.1h0M282.8 179.8h0M284.7 187.5h0M284.3 183.2h0M283.6 186.2h0M283.8 191.4h0M283.6 192.0h0M282.9 183.6h0M285.8 195.4h0M283.2 174.8h0M285.5 167.3h0M282.5 201.6h0M284.4 184.7h0M285.4 178.8h0M283.3 166.4h0M284.7 202.0h0M283.4 201.3h0M285.8 191.5h0M282.5 189.5h0M282.9 188.1h0M283.6 184.4h0M283.3 177.4h0M284.1 200.2h0M284.6 191.7h0M283.9 192.4h0M281.8 193.7h0M281.6 182.5h0M283.3 188.4h0M281.6 174.1h0M282.1 179.5h0M282.2 193.6h0M282.8 170.9h0M284.8 190.7h0M294.7 179.4h0M292.8 197.5h0M294.7 184.9h0M294.4 156.5h0M295.4 169.7h0M294.9 172.0h0M292.0 166.0h0M294.1 173.5h0M294.7 181.1h0M294.7 164.9h0M296.5 142.2h0M296.2 159.8h0M295.1 182.4h0M296.4 181.7h0M295.1 153.2h0M294.3 151.8h0M294.1 158.6h0M294.9 193.0h0M295.1 189.3h0M292.8 172.0h0M295.0 178.5h0M293.0 159.9h0M296.2 179.4h0M293.6 171.1h0M295.5 173.3h0M292.4 142.2h0M294.7 177.9h0M296.9 136.4h0M296.0 144.8h0M294.5 171.9h0M294.9 170.6h0M296.4 178.3h0M293.5 187.9h0M295.8 141.0h0M294.3 181.9h0M293.7 161.1h0M294.4 169.6h0M294.4 194.1h0M293.0 185.3h0M292.2 193.5h0M294.5 179.1h0M294.8 179.4h0M296.3 186.4h0M293.1 161.6h0M296.0 190.4h0M297.0 197.1h0M296.4 158.1h0M294.4 175.2h0M294.9 161.0h0M294.7 155.6h0M295.1 132.7h0M292.8 167.5h0M295.5 158.9h0M295.1 155.6h0M294.2 198.9h0M296.1 169.3h0M294.7 174.6h0M293.0 162.6h0M295.1 194.4h0M294.5 146.0h0M292.0 187.5h0M294.9 158.1h0M295.7 152.9h0M294.4 182.4h0M294.0 143.8h0M293.3 170.7h0M302.2 192.1h0M298.2 190.8h0M300.5 179.0h0M300.4 170.7h0M298.4 162.2h0M298.9 177.9h0M301.3 193.8h0M298.8 191.5h0M298.9 173.6h0M298.2 162.6h0M301.6 179.7h0M301.2 163.3h0M301.5 197.6h0M299.4 177.5h0M300.0 183.7h0M302.3 178.2h0M300.0 168.0h0M301.0 169.9h0M301.8 180.1h0M299.9 188.6h0M298.6 168.3h0M302.0 196.0h0M298.6 181.8h0M300.6 188.9h0M300.4 159.5h0M300.7 175.8h0M312.2 186.8h0M311.6 168.4h0M311.4 188.3h0M311.6 172.6h0M313.2 189.1h0M311.4 195.3h0M311.4 200.8h0M310.7 166.6h0M311.9 164.9h0M309.2 172.3h0M311.3 161.8h0M311.2 183.5h0M310.1 169.1h0M310.4 195.4h0M310.9 160.2h0M311.7 174.3h0M310.6 179.0h0M312.8 187.5h0M312.7 176.0h0M312.2 195.6h0M311.6 179.4h0M313.9 163.4h0M313.1 164.5h0M312.3 199.5h0M310.3 190.5h0M311.0 189.5h0M311.3 168.5h0M312.5 178.8h0M312.3 180.5h0M309.8 161.6h0M311.2 191.1h0M312.7 191.5h0M309.2 163.4h0M311.5 186.0h0M313.3 187.5h0M309.7 184.1h0M311.4 166.9h0M312.3 166.5h0M310.3 176.1h0M311.9 180.2h0M312.2 166.4h0M313.2 191.0h0M309.2 181.1h0M312.1 169.3h0M313.0 178.9h0M310.7 179.4h0M312.2 188.7h0M309.8 172.9h0M313.2 168.5h0M311.1 160.1h0M312.5 184.5h0M312.6 180.1h0M310.5 160.2h0M310.0 201.8h0M311.5 175.5h0M311.1 188.7h0M312.6 163.7h0M309.1 157.7h0M311.0 181.0h0M310.0 187.0h0M311.2 180.6h0M311.9 189.5h0M312.2 179.9h0M312.3 200.8h0M312.2 196.3h0M312.9 188.5h0M310.0 165.1h0M312.7 159.6h0M312.6 189.1h0M309.6 191.1h0M311.6 194.4h0M311.8 159.5h0M310.7 166.1h0M310.5 185.7h0M312.4 162.2h0M312.4 190.8h0M312.8 156.8h0M312.1 179.2h0M311.6 189.4h0M312.6 164.6h0M313.3 188.2h0M311.2 167.0h0M309.5 183.3h0M312.3 163.9h0M311.5 190.1h0M313.0 161.5h0M311.4 190.4h0M312.9 158.7h0M311.9 160.3h0M309.7 175.6h0M310.2 174.2h0M312.6 176.2h0M311.2 162.4h0M311.9 178.3h0M311.6 183.6h0M312.5 182.1h0M313.2 182.6h0M309.7 178.6h0M312.4 164.2h0M312.3 157.6h0M309.3 186.8h0M311.6 199.5h0M309.3 191.3h0M310.7 188.3h0M312.3 199.7h0M311.9 200.5h0M309.3 195.4h0M311.3 202.0h0M311.1 196.0h0M309.2 202.8h0M311.4 193.2h0M312.7 198.1h0M312.0 197.0h0M311.8 199.2h0M323.3 181.2h0M320.7 171.4h0M323.9 179.1h0M323.0 168.7h0M323.1 186.1h0M320.6 183.4h0M322.7 160.7h0M322.8 169.2h0M322.6 178.1h0M322.8 166.9h0M322.8 188.4h0M321.8 167.5h0M324.7 164.8h0M322.9 160.5h0M325.0 188.2h0M324.4 167.1h0M322.4 177.8h0M323.7 178.1h0M322.7 161.2h0M323.3 186.0h0M321.9 157.5h0M325.2 171.9h0M322.8 172.3h0M323.7 168.3h0M325.1 168.9h0M323.1 180.7h0M325.3 184.3h0M320.9 180.6h0M323.6 162.8h0M323.4 160.7h0M323.7 188.4h0M323.9 181.6h0M322.8 186.8h0M324.9 176.9h0M323.0 163.8h0M320.5 159.9h0M323.5 160.0h0M321.4 162.2h0M327.9 154.2h0M329.2 148.8h0M328.6 158.0h0M329.0 156.7h0M328.4 136.9h0M329.3 150.6h0M329.2 161.9h0M327.9 148.0h0M328.5 157.5h0M330.3 162.2h0M330.4 144.2h0M329.1 139.3h0M328.1 173.6h0M327.9 154.0h0M328.5 171.1h0M328.7 145.3h0M328.4 145.6h0M329.2 154.1h0M328.8 167.5h0M328.4 155.6h0M329.2 169.3h0M330.0 138.5h0M328.0 173.1h0M329.0 165.9h0M328.8 145.9h0M329.8 154.1h0M327.6 143.2h0M328.8 158.0h0M329.6 157.1h0M327.7 139.4h0M327.9 161.1h0M329.7 169.4h0M330.4 147.4h0M327.9 168.7h0M327.2 152.0h0M329.2 156.8h0M327.9 143.6h0M329.4 171.2h0M327.7 146.9h0M329.3 136.4h0M328.7 174.9h0M329.0 144.5h0M327.9 163.4h0M328.7 159.4h0M329.3 155.3h0M328.7 153.9h0M329.5 145.0h0M330.6 145.7h0M328.2 165.4h0M329.0 149.8h0M327.6 155.0h0M328.5 161.6h0M327.5 136.5h0M329.7 149.9h0M328.7 156.9h0M329.7 156.3h0M331.4 142.0h0M329.2 165.0h0M329.5 136.0h0M328.9 155.9h0M329.4 145.5h0M328.2 160.6h0M329.3 164.4h0M328.1 135.9h0M328.9 152.6h0M328.2 145.6h0M327.9 140.6h0M328.8 163.8h0M328.6 150.8h0M327.0 163.1h0M328.5 154.5h0M329.2 138.6h0M328.0 153.3h0M327.7 159.7h0M328.9 139.2h0M328.0 160.2h0M329.0 172.0h0M328.4 153.4h0M329.3 142.0h0M330.1 161.8h0M329.1 173.7h0M329.2 146.4h0M328.1 163.1h0M328.4 172.9h0M329.1 156.6h0M329.9 160.5h0M329.5 164.3h0M328.2 150.5h0M328.9 148.8h0M328.1 136.7h0M327.3 147.6h0M329.6 173.1h0M329.0 162.2h0M329.1 158.0h0M329.2 136.0h0M328.9 166.4h0M329.8 142.9h0M327.2 159.8h0M329.4 145.0h0M330.3 147.0h0M328.5 148.5h0M330.5 148.1h0M326.2 163.0h0M330.2 143.1h0M327.9 138.0h0M327.7 136.7h0M326.9 147.9h0M329.6 157.5h0M327.9 149.1h0M327.1 159.8h0M327.4 142.7h0M329.9 174.3h0M328.7 162.7h0M330.3 170.0h0M331.4 165.9h0M328.0 174.8h0M330.0 145.7h0M327.6 166.6h0M328.4 156.8h0M327.4 149.2h0M331.2 140.0h0M329.7 155.3h0M327.9 162.3h0M328.8 158.6h0M327.0 154.3h0M328.6 157.2h0M339.0 188.8h0M340.2 166.3h0M341.7 148.9h0M341.7 180.5h0M342.3 156.2h0M340.5 157.7h0M339.6 155.2h0M339.7 135.9h0M339.5 156.8h0M340.0 185.3h0M340.6 167.3h0M341.2 189.9h0M340.0 184.9h0M342.1 172.7h0M341.3 162.4h0M340.4 157.0h0M342.6 172.2h0M338.6 177.7h0M340.5 157.5h0M338.4 194.2h0M341.4 162.0h0M339.6 186.0h0M340.4 165.5h0M339.5 184.2h0M341.7 174.7h0M342.0 188.5h0M342.3 159.8h0M341.1 160.9h0M341.2 169.1h0M341.4 151.6h0M346.8 176.8h0M344.6 145.2h0M343.5 161.6h0M347.3 160.4h0M345.8 144.1h0M345.6 130.0h0M346.2 154.5h0M345.0 162.1h0M345.8 151.9h0M345.1 161.8h0M347.9 156.8h0M345.6 137.0h0M343.3 177.1h0M345.3 174.4h0M345.8 157.9h0M345.6 145.4h0M346.0 153.1h0M345.1 158.2h0M345.2 149.3h0M345.7 173.6h0M345.3 179.6h0M347.4 166.6h0M345.8 186.7h0M345.9 190.5h0M344.4 151.0h0M346.7 173.4h0M348.5 180.5h0M346.0 164.8h0M346.2 154.2h0M346.5 175.9h0M346.7 134.5h0M347.0 169.9h0M345.4 155.5h0M347.2 166.4h0M343.5 130.9h0M346.3 177.3h0M345.5 169.5h0M346.8 142.1h0M345.1 174.5h0M347.6 179.5h0M346.7 144.0h0M345.5 174.1h0M347.5 191.8h0M345.6 156.4h0M345.9 147.7h0M347.2 155.2h0M345.3 156.6h0M345.3 169.8h0M347.4 160.7h0M346.2 181.3h0M346.4 156.2h0M345.7 167.9h0M346.9 185.4h0M344.6 152.8h0M346.6 159.2h0M343.9 164.7h0M346.5 189.5h0M345.4 148.9h0M346.3 158.8h0M346.6 154.8h0M345.7 168.0h0M345.4 157.1h0M344.6 132.3h0M345.5 184.2h0M345.0 172.3h0M345.2 168.8h0M347.9 162.6h0M347.1 160.0h0M344.7 182.8h0M345.0 171.7h0M344.5 164.1h0M344.7 165.4h0M346.0 165.6h0M347.2 140.6h0M344.3 169.5h0M344.8 159.4h0M345.7 143.7h0M344.5 171.9h0M345.6 189.6h0M344.6 191.5h0M345.0 167.6h0M345.9 178.2h0M345.7 157.9h0M343.4 154.2h0M345.7 186.8h0M343.7 159.2h0M346.4 149.6h0M344.7 152.3h0M346.4 174.1h0M346.7 153.4h0M345.2 154.4h0M346.5 168.4h0M343.5 141.0h0M344.6 171.2h0M344.0 159.6h0M345.1 131.1h0M345.6 156.5h0M345.9 180.2h0M344.6 155.9h0M345.5 189.3h0M346.0 161.5h0M345.5 171.3h0M346.4 164.6h0M347.0 134.8h0M345.4 155.7h0M343.7 167.2h0M345.6 147.2h0M345.4 168.0h0M346.3 166.3h0M348.1 193.7h0M346.4 156.3h0M343.9 150.5h0M348.4 173.7h0M343.9 149.9h0M344.8 148.7h0M346.2 175.6h0M345.3 151.2h0M345.5 179.9h0M346.9 188.3h0M346.7 170.1h0M346.4 147.9h0M346.9 185.1h0M344.4 162.2h0M345.7 147.4h0M345.9 192.2h0M345.5 170.2h0M346.1 174.6h0M343.3 144.7h0M345.7 181.0h0M347.9 186.3h0M358.2 178.7h0M359.1 165.7h0M358.0 172.9h0M357.6 162.1h0M357.1 165.7h0M357.4 173.2h0M356.6 171.7h0M358.7 167.6h0M357.8 174.0h0M356.0 182.0h0M356.2 166.6h0M356.0 164.2h0M357.5 169.4h0M356.8 154.7h0M356.4 172.3h0M364.2 189.1h0M362.4 176.2h0M363.2 196.6h0M362.2 196.7h0M362.5 173.0h0M361.0 187.7h0M363.3 186.9h0M362.2 177.1h0M362.1 191.1h0M364.9 193.0h0M361.3 179.4h0M362.0 186.1h0M363.9 176.8h0M362.6 174.8h0M362.3 171.8h0M364.7 175.8h0M363.1 199.5h0M362.7 189.2h0M362.7 170.0h0M364.0 182.2h0M362.3 181.5h0" stroke="#f31010" stroke-width="1.2" stroke-linecap="round" stroke-opacity="0.72" fill="none"/><path d="M34.7 170.8h0M34.0 176.8h0M31.1 173.8h0M32.4 163.1h0M32.9 185.3h0M44.2 154.3h0M41.3 166.3h0M44.4 147.0h0M42.4 167.6h0M43.7 172.4h0M42.9 165.3h0M43.4 171.0h0M46.1 164.9h0M46.0 166.5h0M44.1 161.4h0M45.6 177.4h0M45.5 169.9h0M43.3 161.4h0M43.6 154.2h0M42.7 171.3h0M44.4 163.7h0M43.7 148.5h0M42.8 173.2h0M44.6 153.8h0M45.4 158.4h0M43.9 167.9h0M41.2 165.3h0M43.8 151.7h0M44.4 152.1h0M42.1 146.0h0M44.9 143.0h0M42.4 162.3h0M44.2 166.8h0M44.1 155.3h0M76.4 173.4h0M88.4 189.9h0M90.7 195.8h0M89.6 195.4h0M99.7 188.4h0M99.7 195.4h0M101.5 179.0h0M99.3 179.6h0M98.7 178.0h0M101.0 193.5h0M101.1 175.9h0M101.3 183.9h0M99.4 192.2h0M99.3 182.5h0M100.7 195.0h0M118.3 168.7h0M118.1 169.2h0M118.2 166.2h0M128.5 171.7h0M130.1 171.8h0M141.7 183.4h0M142.2 187.6h0M139.7 165.9h0M142.8 177.8h0M140.5 161.8h0M140.0 162.9h0M138.9 177.0h0M141.3 176.0h0M141.7 170.4h0M138.9 172.6h0M140.0 175.6h0M140.3 175.2h0M162.0 148.7h0M164.4 154.7h0M162.9 138.6h0M165.3 146.7h0M164.4 152.8h0M162.8 139.9h0M164.5 138.7h0M173.9 148.7h0M175.8 159.8h0M172.3 145.0h0M176.4 165.9h0M177.5 154.5h0M174.9 139.7h0M176.8 154.0h0M174.4 164.2h0M177.4 167.9h0M174.4 164.4h0M177.5 157.5h0M174.8 145.9h0M176.9 149.5h0M177.0 145.7h0M174.0 143.6h0M176.3 156.0h0M177.5 162.9h0M175.9 164.7h0M186.7 161.4h0M187.0 151.0h0M184.5 158.7h0M185.5 162.2h0M186.7 159.8h0M186.2 152.7h0M185.6 152.0h0M185.1 160.8h0M210.1 184.5h0M209.7 196.1h0M206.6 194.2h0M209.8 183.9h0M210.1 187.8h0M208.4 183.0h0M211.4 184.9h0M210.3 186.9h0M209.7 186.9h0M209.2 190.7h0M210.3 190.7h0M210.0 198.6h0M209.8 185.3h0M220.0 161.7h0M220.4 172.5h0M220.8 172.8h0M220.9 171.8h0M220.8 162.1h0M223.1 175.0h0M219.4 170.1h0M219.4 160.9h0M220.7 176.6h0M221.5 161.0h0M218.5 173.0h0M220.2 161.0h0M220.9 165.2h0M219.4 163.3h0M220.1 171.5h0M220.1 178.8h0M231.4 181.4h0M232.4 177.9h0M233.6 164.0h0M231.2 168.0h0M229.9 172.8h0M230.3 182.6h0M230.7 177.1h0M232.5 165.1h0M230.9 177.7h0M231.5 182.1h0M231.8 160.1h0M232.0 177.8h0M234.4 169.9h0M230.6 168.4h0M255.5 170.6h0M255.3 169.6h0M266.7 181.4h0M263.7 181.4h0M277.3 159.1h0M275.8 158.3h0M278.1 164.0h0M277.6 161.6h0M276.8 156.9h0M278.7 157.5h0M277.7 163.5h0M277.4 152.9h0M277.1 158.3h0M276.7 164.1h0M277.3 150.2h0M277.2 156.0h0M277.6 153.5h0M277.7 155.7h0M288.5 179.9h0M289.8 187.4h0M289.2 176.3h0M316.9 160.5h0M316.4 186.3h0M316.7 168.1h0M318.1 190.2h0M315.6 191.6h0M318.3 162.3h0M317.6 165.5h0M317.8 177.9h0M318.5 187.1h0M318.1 174.5h0M335.3 152.3h0M333.5 143.8h0M334.2 145.5h0M335.4 159.8h0M336.0 148.4h0M333.1 146.2h0M335.7 148.4h0M332.6 154.9h0M334.3 160.4h0M334.8 145.6h0M335.1 159.4h0M334.2 158.2h0M332.3 155.2h0M334.3 151.7h0M335.0 160.0h0M335.2 144.7h0M349.0 168.4h0M350.1 175.5h0M351.4 175.3h0M352.4 167.2h0M350.8 161.2h0M350.6 176.2h0M350.6 177.0h0M351.9 164.0h0M349.7 160.9h0M352.3 173.6h0" stroke="#2a2ae6" stroke-width="1.2" stroke-linecap="round" stroke-opacity="0.72" fill="none"/><path d="M307.9 150.9h0M304.9 168.5h0M307.2 175.6h0M304.6 197.1h0M304.1 182.3h0M305.5 160.1h0M305.5 177.7h0M307.3 169.7h0M305.6 173.9h0M307.6 180.9h0M305.7 175.9h0M306.5 157.9h0M306.2 182.0h0M307.7 166.2h0M305.3 191.2h0M306.7 174.5h0M307.4 201.3h0M306.5 185.6h0M305.3 162.0h0M307.4 163.5h0M306.4 188.6h0M306.2 192.0h0M306.4 168.8h0M307.5 199.2h0M304.3 163.7h0M304.1 159.7h0M307.5 177.3h0M306.3 161.0h0M306.4 199.6h0M305.8 193.1h0M305.8 177.0h0M304.9 167.7h0M306.7 187.3h0M306.4 177.1h0M306.9 180.8h0M305.2 188.3h0M305.6 165.1h0M304.9 174.0h0M305.4 173.9h0M306.6 188.4h0M306.4 187.0h0M306.2 161.2h0M308.6 184.1h0M308.6 170.3h0M305.0 198.2h0M307.0 157.7h0M307.5 170.5h0M306.3 186.5h0M307.7 172.0h0M303.8 184.1h0M305.5 174.8h0M304.2 168.2h0M304.9 170.9h0M306.7 181.2h0M305.9 157.3h0M304.6 156.2h0M305.8 156.7h0M303.4 169.7h0M304.5 182.5h0M305.9 168.9h0M305.9 183.9h0M305.8 156.8h0M305.6 172.9h0M306.3 195.0h0M306.9 194.2h0M305.1 189.0h0M305.2 151.6h0M307.0 174.4h0M305.7 155.5h0M305.0 194.7h0M307.7 166.8h0M306.1 187.8h0M305.4 194.5h0M307.2 190.8h0M306.0 184.5h0M306.7 195.9h0M304.8 153.2h0M304.5 155.2h0M306.0 198.1h0M307.0 175.1h0M306.4 171.6h0M307.1 150.2h0M305.5 201.6h0M306.0 170.9h0M305.3 168.1h0M307.4 158.2h0M305.8 178.5h0M305.2 180.2h0M303.5 181.3h0M304.6 197.7h0M305.2 195.8h0M306.9 200.3h0M305.2 150.4h0M308.0 201.2h0M306.9 200.9h0M308.6 195.2h0M306.2 197.4h0M306.4 192.9h0M305.5 195.1h0M307.3 202.8h0M305.2 193.7h0M306.6 201.4h0M307.9 200.9h0" stroke="#9a40e0" stroke-width="1.2" stroke-linecap="round" stroke-opacity="0.72" fill="none"/><line x1="21.00" y1="160.70" x2="21.00" y2="178.60" stroke="#f31010" stroke-width="0.4"/><line x1="21.00" y1="188.50" x2="21.00" y2="203.40" stroke="#f31010" stroke-width="0.4"/><rect x="18.90" y="178.60" width="4.2" height="9.90" fill="#fff" fill-opacity="0.32" stroke="#f31010" stroke-width="0.5"/><line x1="18.90" y1="183.55" x2="23.10" y2="183.55" stroke="#f31010" stroke-width="0.6"/><line x1="26.70" y1="124.90" x2="26.70" y2="158.70" stroke="#f31010" stroke-width="0.4"/><line x1="26.70" y1="173.60" x2="26.70" y2="202.40" stroke="#f31010" stroke-width="0.4"/><rect x="24.60" y="158.70" width="4.2" height="14.90" fill="#fff" fill-opacity="0.32" stroke="#f31010" stroke-width="0.5"/><line x1="24.60" y1="166.15" x2="28.80" y2="166.15" stroke="#f31010" stroke-width="0.6"/><line x1="32.40" y1="156.70" x2="32.40" y2="165.70" stroke="#2a2ae6" stroke-width="0.4"/><line x1="32.40" y1="175.60" x2="32.40" y2="186.50" stroke="#2a2ae6" stroke-width="0.4"/><rect x="30.50" y="165.70" width="3.8" height="9.90" fill="#fff" fill-opacity="0.32" stroke="#2a2ae6" stroke-width="0.5"/><line x1="30.50" y1="170.65" x2="34.30" y2="170.65" stroke="#2a2ae6" stroke-width="0.6"/><line x1="38.10" y1="118.00" x2="38.10" y2="155.70" stroke="#f31010" stroke-width="0.4"/><line x1="38.10" y1="171.60" x2="38.10" y2="201.40" stroke="#f31010" stroke-width="0.4"/><rect x="36.00" y="155.70" width="4.2" height="15.90" fill="#fff" fill-opacity="0.32" stroke="#f31010" stroke-width="0.5"/><line x1="36.00" y1="163.65" x2="40.20" y2="163.65" stroke="#f31010" stroke-width="0.6"/><line x1="43.80" y1="137.80" x2="43.80" y2="147.80" stroke="#2a2ae6" stroke-width="0.4"/><line x1="43.80" y1="167.70" x2="43.80" y2="178.60" stroke="#2a2ae6" stroke-width="0.4"/><rect x="41.90" y="147.80" width="3.8" height="19.90" fill="#fff" fill-opacity="0.32" stroke="#2a2ae6" stroke-width="0.5"/><line x1="41.90" y1="157.75" x2="45.70" y2="157.75" stroke="#2a2ae6" stroke-width="0.6"/><line x1="49.50" y1="121.90" x2="49.50" y2="155.70" stroke="#f31010" stroke-width="0.4"/><line x1="49.50" y1="175.60" x2="49.50" y2="197.50" stroke="#f31010" stroke-width="0.4"/><rect x="47.40" y="155.70" width="4.2" height="19.90" fill="#fff" fill-opacity="0.32" stroke="#f31010" stroke-width="0.5"/><line x1="47.40" y1="165.65" x2="51.60" y2="165.65" stroke="#f31010" stroke-width="0.6"/><line x1="55.20" y1="141.80" x2="55.20" y2="159.70" stroke="#f31010" stroke-width="0.4"/><line x1="55.20" y1="175.60" x2="55.20" y2="189.50" stroke="#f31010" stroke-width="0.4"/><rect x="53.10" y="159.70" width="4.2" height="15.90" fill="#fff" fill-opacity="0.32" stroke="#f31010" stroke-width="0.5"/><line x1="53.10" y1="167.65" x2="57.30" y2="167.65" stroke="#f31010" stroke-width="0.6"/><line x1="60.90" y1="127.90" x2="60.90" y2="149.80" stroke="#f31010" stroke-width="0.4"/><line x1="60.90" y1="163.70" x2="60.90" y2="197.50" stroke="#f31010" stroke-width="0.4"/><rect x="58.80" y="149.80" width="4.2" height="13.90" fill="#fff" fill-opacity="0.32" stroke="#f31010" stroke-width="0.5"/><line x1="58.80" y1="156.75" x2="63.00" y2="156.75" stroke="#f31010" stroke-width="0.6"/><line x1="66.60" y1="131.90" x2="66.60" y2="151.70" stroke="#f31010" stroke-width="0.4"/><line x1="66.60" y1="167.70" x2="66.60" y2="193.50" stroke="#f31010" stroke-width="0.4"/><rect x="64.50" y="151.70" width="4.2" height="16.00" fill="#fff" fill-opacity="0.32" stroke="#f31010" stroke-width="0.5"/><line x1="64.50" y1="159.70" x2="68.70" y2="159.70" stroke="#f31010" stroke-width="0.6"/><line x1="72.30" y1="144.80" x2="72.30" y2="162.00" stroke="#f31010" stroke-width="0.4"/><line x1="72.30" y1="183.00" x2="72.30" y2="203.40" stroke="#f31010" stroke-width="0.4"/><rect x="70.20" y="162.00" width="4.2" height="21.00" fill="#fff" fill-opacity="0.32" stroke="#f31010" stroke-width="0.5"/><line x1="70.20" y1="172.50" x2="74.40" y2="172.50" stroke="#f31010" stroke-width="0.6"/><line x1="78.00" y1="167.70" x2="78.00" y2="167.70" stroke="#2a2ae6" stroke-width="0.4"/><line x1="78.00" y1="173.60" x2="78.00" y2="173.60" stroke="#2a2ae6" stroke-width="0.4"/><rect x="76.10" y="167.70" width="3.8" height="5.90" fill="#fff" fill-opacity="0.32" stroke="#2a2ae6" stroke-width="0.5"/><line x1="76.10" y1="170.65" x2="79.90" y2="170.65" stroke="#2a2ae6" stroke-width="0.6"/><line x1="83.70" y1="147.80" x2="83.70" y2="162.70" stroke="#f31010" stroke-width="0.4"/><line x1="83.70" y1="188.50" x2="83.70" y2="201.40" stroke="#f31010" stroke-width="0.4"/><rect x="81.60" y="162.70" width="4.2" height="25.80" fill="#fff" fill-opacity="0.32" stroke="#f31010" stroke-width="0.5"/><line x1="81.60" y1="175.60" x2="85.80" y2="175.60" stroke="#f31010" stroke-width="0.6"/><line x1="89.40" y1="179.60" x2="89.40" y2="185.50" stroke="#2a2ae6" stroke-width="0.4"/><line x1="89.40" y1="194.50" x2="89.40" y2="198.50" stroke="#2a2ae6" stroke-width="0.4"/><rect x="87.50" y="185.50" width="3.8" height="9.00" fill="#fff" fill-opacity="0.32" stroke="#2a2ae6" stroke-width="0.5"/><line x1="87.50" y1="190.00" x2="91.30" y2="190.00" stroke="#2a2ae6" stroke-width="0.6"/><line x1="95.10" y1="165.70" x2="95.10" y2="175.60" stroke="#f31010" stroke-width="0.4"/><line x1="95.10" y1="193.50" x2="95.10" y2="203.40" stroke="#f31010" stroke-width="0.4"/><rect x="93.00" y="175.60" width="4.2" height="17.90" fill="#fff" fill-opacity="0.32" stroke="#f31010" stroke-width="0.5"/><line x1="93.00" y1="184.55" x2="97.20" y2="184.55" stroke="#f31010" stroke-width="0.6"/><line x1="100.80" y1="173.60" x2="100.80" y2="180.60" stroke="#2a2ae6" stroke-width="0.4"/><line x1="100.80" y1="189.50" x2="100.80" y2="195.50" stroke="#2a2ae6" stroke-width="0.4"/><rect x="98.90" y="180.60" width="3.8" height="8.90" fill="#fff" fill-opacity="0.32" stroke="#2a2ae6" stroke-width="0.5"/><line x1="98.90" y1="185.05" x2="102.70" y2="185.05" stroke="#2a2ae6" stroke-width="0.6"/><line x1="106.50" y1="169.60" x2="106.50" y2="185.50" stroke="#f31010" stroke-width="0.4"/><line x1="106.50" y1="195.50" x2="106.50" y2="201.40" stroke="#f31010" stroke-width="0.4"/><rect x="104.40" y="185.50" width="4.2" height="10.00" fill="#fff" fill-opacity="0.32" stroke="#f31010" stroke-width="0.5"/><line x1="104.40" y1="190.50" x2="108.60" y2="190.50" stroke="#f31010" stroke-width="0.6"/><line x1="112.20" y1="139.80" x2="112.20" y2="161.70" stroke="#f31010" stroke-width="0.4"/><line x1="112.20" y1="181.60" x2="112.20" y2="202.40" stroke="#f31010" stroke-width="0.4"/><rect x="110.10" y="161.70" width="4.2" height="19.90" fill="#fff" fill-opacity="0.32" stroke="#f31010" stroke-width="0.5"/><line x1="110.10" y1="171.65" x2="114.30" y2="171.65" stroke="#f31010" stroke-width="0.6"/><line x1="117.90" y1="161.70" x2="117.90" y2="169.60" stroke="#2a2ae6" stroke-width="0.4"/><line x1="117.90" y1="177.60" x2="117.90" y2="183.60" stroke="#2a2ae6" stroke-width="0.4"/><rect x="116.00" y="169.60" width="3.8" height="8.00" fill="#fff" fill-opacity="0.32" stroke="#2a2ae6" stroke-width="0.5"/><line x1="116.00" y1="173.60" x2="119.80" y2="173.60" stroke="#2a2ae6" stroke-width="0.6"/><line x1="123.60" y1="135.80" x2="123.60" y2="149.80" stroke="#f31010" stroke-width="0.4"/><line x1="123.60" y1="167.70" x2="123.60" y2="183.60" stroke="#f31010" stroke-width="0.4"/><rect x="121.50" y="149.80" width="4.2" height="17.90" fill="#fff" fill-opacity="0.32" stroke="#f31010" stroke-width="0.5"/><line x1="121.50" y1="158.75" x2="125.70" y2="158.75" stroke="#f31010" stroke-width="0.6"/><line x1="129.30" y1="169.60" x2="129.30" y2="170.60" stroke="#2a2ae6" stroke-width="0.4"/><line x1="129.30" y1="172.60" x2="129.30" y2="173.60" stroke="#2a2ae6" stroke-width="0.4"/><rect x="127.40" y="170.60" width="3.8" height="2.00" fill="#fff" fill-opacity="0.32" stroke="#2a2ae6" stroke-width="0.5"/><line x1="127.40" y1="171.60" x2="131.20" y2="171.60" stroke="#2a2ae6" stroke-width="0.6"/><line x1="135.00" y1="155.70" x2="135.00" y2="167.70" stroke="#f31010" stroke-width="0.4"/><line x1="135.00" y1="189.50" x2="135.00" y2="203.40" stroke="#f31010" stroke-width="0.4"/><rect x="132.90" y="167.70" width="4.2" height="21.80" fill="#fff" fill-opacity="0.32" stroke="#f31010" stroke-width="0.5"/><line x1="132.90" y1="178.60" x2="137.10" y2="178.60" stroke="#f31010" stroke-width="0.6"/><line x1="140.70" y1="159.70" x2="140.70" y2="167.70" stroke="#2a2ae6" stroke-width="0.4"/><line x1="140.70" y1="177.60" x2="140.70" y2="189.50" stroke="#2a2ae6" stroke-width="0.4"/><rect x="138.80" y="167.70" width="3.8" height="9.90" fill="#fff" fill-opacity="0.32" stroke="#2a2ae6" stroke-width="0.5"/><line x1="138.80" y1="172.65" x2="142.60" y2="172.65" stroke="#2a2ae6" stroke-width="0.6"/><line x1="146.40" y1="155.70" x2="146.40" y2="175.60" stroke="#f31010" stroke-width="0.4"/><line x1="146.40" y1="193.50" x2="146.40" y2="203.40" stroke="#f31010" stroke-width="0.4"/><rect x="144.30" y="175.60" width="4.2" height="17.90" fill="#fff" fill-opacity="0.32" stroke="#f31010" stroke-width="0.5"/><line x1="144.30" y1="184.55" x2="148.50" y2="184.55" stroke="#f31010" stroke-width="0.6"/><line x1="152.10" y1="157.70" x2="152.10" y2="169.60" stroke="#f31010" stroke-width="0.4"/><line x1="152.10" y1="189.50" x2="152.10" y2="203.40" stroke="#f31010" stroke-width="0.4"/><rect x="150.00" y="169.60" width="4.2" height="19.90" fill="#fff" fill-opacity="0.32" stroke="#f31010" stroke-width="0.5"/><line x1="150.00" y1="179.55" x2="154.20" y2="179.55" stroke="#f31010" stroke-width="0.6"/><line x1="157.80" y1="133.90" x2="157.80" y2="145.80" stroke="#f31010" stroke-width="0.4"/><line x1="157.80" y1="159.70" x2="157.80" y2="177.60" stroke="#f31010" stroke-width="0.4"/><rect x="155.70" y="145.80" width="4.2" height="13.90" fill="#fff" fill-opacity="0.32" stroke="#f31010" stroke-width="0.5"/><line x1="155.70" y1="152.75" x2="159.90" y2="152.75" stroke="#f31010" stroke-width="0.6"/><line x1="163.50" y1="129.90" x2="163.50" y2="141.80" stroke="#2a2ae6" stroke-width="0.4"/><line x1="163.50" y1="152.70" x2="163.50" y2="155.70" stroke="#2a2ae6" stroke-width="0.4"/><rect x="161.60" y="141.80" width="3.8" height="10.90" fill="#fff" fill-opacity="0.32" stroke="#2a2ae6" stroke-width="0.5"/><line x1="161.60" y1="147.25" x2="165.40" y2="147.25" stroke="#2a2ae6" stroke-width="0.6"/><line x1="169.20" y1="139.80" x2="169.20" y2="154.70" stroke="#f31010" stroke-width="0.4"/><line x1="169.20" y1="175.60" x2="169.20" y2="201.40" stroke="#f31010" stroke-width="0.4"/><rect x="167.10" y="154.70" width="4.2" height="20.90" fill="#fff" fill-opacity="0.32" stroke="#f31010" stroke-width="0.5"/><line x1="167.10" y1="165.15" x2="171.30" y2="165.15" stroke="#f31010" stroke-width="0.6"/><line x1="174.90" y1="137.80" x2="174.90" y2="145.80" stroke="#2a2ae6" stroke-width="0.4"/><line x1="174.90" y1="159.70" x2="174.90" y2="169.60" stroke="#2a2ae6" stroke-width="0.4"/><rect x="173.00" y="145.80" width="3.8" height="13.90" fill="#fff" fill-opacity="0.32" stroke="#2a2ae6" stroke-width="0.5"/><line x1="173.00" y1="152.75" x2="176.80" y2="152.75" stroke="#2a2ae6" stroke-width="0.6"/><line x1="180.60" y1="137.80" x2="180.60" y2="155.70" stroke="#f31010" stroke-width="0.4"/><line x1="180.60" y1="173.60" x2="180.60" y2="203.40" stroke="#f31010" stroke-width="0.4"/><rect x="178.50" y="155.70" width="4.2" height="17.90" fill="#fff" fill-opacity="0.32" stroke="#f31010" stroke-width="0.5"/><line x1="178.50" y1="164.65" x2="182.70" y2="164.65" stroke="#f31010" stroke-width="0.6"/><line x1="186.30" y1="137.80" x2="186.30" y2="144.80" stroke="#2a2ae6" stroke-width="0.4"/><line x1="186.30" y1="158.70" x2="186.30" y2="167.70" stroke="#2a2ae6" stroke-width="0.4"/><rect x="184.40" y="144.80" width="3.8" height="13.90" fill="#fff" fill-opacity="0.32" stroke="#2a2ae6" stroke-width="0.5"/><line x1="184.40" y1="151.75" x2="188.20" y2="151.75" stroke="#2a2ae6" stroke-width="0.6"/><line x1="192.00" y1="119.90" x2="192.00" y2="131.90" stroke="#f31010" stroke-width="0.4"/><line x1="192.00" y1="149.80" x2="192.00" y2="181.60" stroke="#f31010" stroke-width="0.4"/><rect x="189.90" y="131.90" width="4.2" height="17.90" fill="#fff" fill-opacity="0.32" stroke="#f31010" stroke-width="0.5"/><line x1="189.90" y1="140.85" x2="194.10" y2="140.85" stroke="#f31010" stroke-width="0.6"/><line x1="197.70" y1="141.80" x2="197.70" y2="153.70" stroke="#f31010" stroke-width="0.4"/><line x1="197.70" y1="169.60" x2="197.70" y2="181.60" stroke="#f31010" stroke-width="0.4"/><rect x="195.60" y="153.70" width="4.2" height="15.90" fill="#fff" fill-opacity="0.32" stroke="#f31010" stroke-width="0.5"/><line x1="195.60" y1="161.65" x2="199.80" y2="161.65" stroke="#f31010" stroke-width="0.6"/><line x1="203.40" y1="159.70" x2="203.40" y2="175.60" stroke="#f31010" stroke-width="0.4"/><line x1="203.40" y1="195.50" x2="203.40" y2="203.40" stroke="#f31010" stroke-width="0.4"/><rect x="201.30" y="175.60" width="4.2" height="19.90" fill="#fff" fill-opacity="0.32" stroke="#f31010" stroke-width="0.5"/><line x1="201.30" y1="185.55" x2="205.50" y2="185.55" stroke="#f31010" stroke-width="0.6"/><line x1="209.10" y1="181.60" x2="209.10" y2="184.60" stroke="#2a2ae6" stroke-width="0.4"/><line x1="209.10" y1="193.50" x2="209.10" y2="199.50" stroke="#2a2ae6" stroke-width="0.4"/><rect x="207.20" y="184.60" width="3.8" height="8.90" fill="#fff" fill-opacity="0.32" stroke="#2a2ae6" stroke-width="0.5"/><line x1="207.20" y1="189.05" x2="211.00" y2="189.05" stroke="#2a2ae6" stroke-width="0.6"/><line x1="214.80" y1="137.80" x2="214.80" y2="159.70" stroke="#f31010" stroke-width="0.4"/><line x1="214.80" y1="179.60" x2="214.80" y2="201.40" stroke="#f31010" stroke-width="0.4"/><rect x="212.70" y="159.70" width="4.2" height="19.90" fill="#fff" fill-opacity="0.32" stroke="#f31010" stroke-width="0.5"/><line x1="212.70" y1="169.65" x2="216.90" y2="169.65" stroke="#f31010" stroke-width="0.6"/><line x1="220.50" y1="159.70" x2="220.50" y2="165.70" stroke="#2a2ae6" stroke-width="0.4"/><line x1="220.50" y1="175.60" x2="220.50" y2="179.60" stroke="#2a2ae6" stroke-width="0.4"/><rect x="218.60" y="165.70" width="3.8" height="9.90" fill="#fff" fill-opacity="0.32" stroke="#2a2ae6" stroke-width="0.5"/><line x1="218.60" y1="170.65" x2="222.40" y2="170.65" stroke="#2a2ae6" stroke-width="0.6"/><line x1="226.20" y1="145.80" x2="226.20" y2="163.70" stroke="#f31010" stroke-width="0.4"/><line x1="226.20" y1="183.60" x2="226.20" y2="203.40" stroke="#f31010" stroke-width="0.4"/><rect x="224.10" y="163.70" width="4.2" height="19.90" fill="#fff" fill-opacity="0.32" stroke="#f31010" stroke-width="0.5"/><line x1="224.10" y1="173.65" x2="228.30" y2="173.65" stroke="#f31010" stroke-width="0.6"/><line x1="231.90" y1="159.70" x2="231.90" y2="163.70" stroke="#2a2ae6" stroke-width="0.4"/><line x1="231.90" y1="175.60" x2="231.90" y2="183.60" stroke="#2a2ae6" stroke-width="0.4"/><rect x="230.00" y="163.70" width="3.8" height="11.90" fill="#fff" fill-opacity="0.32" stroke="#2a2ae6" stroke-width="0.5"/><line x1="230.00" y1="169.65" x2="233.80" y2="169.65" stroke="#2a2ae6" stroke-width="0.6"/><line x1="237.60" y1="163.70" x2="237.60" y2="175.60" stroke="#f31010" stroke-width="0.4"/><line x1="237.60" y1="189.50" x2="237.60" y2="201.40" stroke="#f31010" stroke-width="0.4"/><rect x="235.50" y="175.60" width="4.2" height="13.90" fill="#fff" fill-opacity="0.32" stroke="#f31010" stroke-width="0.5"/><line x1="235.50" y1="182.55" x2="239.70" y2="182.55" stroke="#f31010" stroke-width="0.6"/><line x1="243.30" y1="127.90" x2="243.30" y2="149.80" stroke="#f31010" stroke-width="0.4"/><line x1="243.30" y1="169.60" x2="243.30" y2="189.50" stroke="#f31010" stroke-width="0.4"/><rect x="241.20" y="149.80" width="4.2" height="19.80" fill="#fff" fill-opacity="0.32" stroke="#f31010" stroke-width="0.5"/><line x1="241.20" y1="159.70" x2="245.40" y2="159.70" stroke="#f31010" stroke-width="0.6"/><line x1="249.00" y1="155.70" x2="249.00" y2="165.70" stroke="#f31010" stroke-width="0.4"/><line x1="249.00" y1="183.60" x2="249.00" y2="195.50" stroke="#f31010" stroke-width="0.4"/><rect x="246.90" y="165.70" width="4.2" height="17.90" fill="#fff" fill-opacity="0.32" stroke="#f31010" stroke-width="0.5"/><line x1="246.90" y1="174.65" x2="251.10" y2="174.65" stroke="#f31010" stroke-width="0.6"/><line x1="254.70" y1="167.70" x2="254.70" y2="167.70" stroke="#2a2ae6" stroke-width="0.4"/><line x1="254.70" y1="171.60" x2="254.70" y2="171.60" stroke="#2a2ae6" stroke-width="0.4"/><rect x="252.80" y="167.70" width="3.8" height="3.90" fill="#fff" fill-opacity="0.32" stroke="#2a2ae6" stroke-width="0.5"/><line x1="252.80" y1="169.65" x2="256.60" y2="169.65" stroke="#2a2ae6" stroke-width="0.6"/><line x1="260.40" y1="155.70" x2="260.40" y2="167.70" stroke="#f31010" stroke-width="0.4"/><line x1="260.40" y1="181.60" x2="260.40" y2="191.50" stroke="#f31010" stroke-width="0.4"/><rect x="258.30" y="167.70" width="4.2" height="13.90" fill="#fff" fill-opacity="0.32" stroke="#f31010" stroke-width="0.5"/><line x1="258.30" y1="174.65" x2="262.50" y2="174.65" stroke="#f31010" stroke-width="0.6"/><line x1="266.10" y1="178.60" x2="266.10" y2="178.60" stroke="#2a2ae6" stroke-width="0.4"/><line x1="266.10" y1="181.60" x2="266.10" y2="181.60" stroke="#2a2ae6" stroke-width="0.4"/><rect x="264.20" y="178.60" width="3.8" height="3.00" fill="#fff" fill-opacity="0.32" stroke="#2a2ae6" stroke-width="0.5"/><line x1="264.20" y1="180.10" x2="268.00" y2="180.10" stroke="#2a2ae6" stroke-width="0.6"/><line x1="271.80" y1="140.00" x2="271.80" y2="152.70" stroke="#f31010" stroke-width="0.4"/><line x1="271.80" y1="169.60" x2="271.80" y2="180.60" stroke="#f31010" stroke-width="0.4"/><rect x="269.70" y="152.70" width="4.2" height="16.90" fill="#fff" fill-opacity="0.32" stroke="#f31010" stroke-width="0.5"/><line x1="269.70" y1="161.15" x2="273.90" y2="161.15" stroke="#f31010" stroke-width="0.6"/><line x1="277.50" y1="149.80" x2="277.50" y2="153.70" stroke="#2a2ae6" stroke-width="0.4"/><line x1="277.50" y1="163.70" x2="277.50" y2="167.70" stroke="#2a2ae6" stroke-width="0.4"/><rect x="275.60" y="153.70" width="3.8" height="10.00" fill="#fff" fill-opacity="0.32" stroke="#2a2ae6" stroke-width="0.5"/><line x1="275.60" y1="158.70" x2="279.40" y2="158.70" stroke="#2a2ae6" stroke-width="0.6"/><line x1="283.20" y1="163.70" x2="283.20" y2="177.60" stroke="#f31010" stroke-width="0.4"/><line x1="283.20" y1="191.50" x2="283.20" y2="203.40" stroke="#f31010" stroke-width="0.4"/><rect x="281.10" y="177.60" width="4.2" height="13.90" fill="#fff" fill-opacity="0.32" stroke="#f31010" stroke-width="0.5"/><line x1="281.10" y1="184.55" x2="285.30" y2="184.55" stroke="#f31010" stroke-width="0.6"/><line x1="288.90" y1="172.60" x2="288.90" y2="178.60" stroke="#2a2ae6" stroke-width="0.4"/><line x1="288.90" y1="185.50" x2="288.90" y2="189.50" stroke="#2a2ae6" stroke-width="0.4"/><rect x="287.00" y="178.60" width="3.8" height="6.90" fill="#fff" fill-opacity="0.32" stroke="#2a2ae6" stroke-width="0.5"/><line x1="287.00" y1="182.05" x2="290.80" y2="182.05" stroke="#2a2ae6" stroke-width="0.6"/><line x1="294.60" y1="129.90" x2="294.60" y2="159.70" stroke="#f31010" stroke-width="0.4"/><line x1="294.60" y1="179.60" x2="294.60" y2="201.40" stroke="#f31010" stroke-width="0.4"/><rect x="292.50" y="159.70" width="4.2" height="19.90" fill="#fff" fill-opacity="0.32" stroke="#f31010" stroke-width="0.5"/><line x1="292.50" y1="169.65" x2="296.70" y2="169.65" stroke="#f31010" stroke-width="0.6"/><line x1="300.30" y1="157.70" x2="300.30" y2="173.60" stroke="#f31010" stroke-width="0.4"/><line x1="300.30" y1="191.50" x2="300.30" y2="203.40" stroke="#f31010" stroke-width="0.4"/><rect x="298.20" y="173.60" width="4.2" height="17.90" fill="#fff" fill-opacity="0.32" stroke="#f31010" stroke-width="0.5"/><line x1="298.20" y1="182.55" x2="302.40" y2="182.55" stroke="#f31010" stroke-width="0.6"/><line x1="306.00" y1="149.80" x2="306.00" y2="169.60" stroke="#9a40e0" stroke-width="0.4"/><line x1="306.00" y1="189.50" x2="306.00" y2="203.40" stroke="#9a40e0" stroke-width="0.4"/><rect x="303.90" y="169.60" width="4.2" height="19.90" fill="#fff" fill-opacity="0.32" stroke="#9a40e0" stroke-width="0.5"/><line x1="303.90" y1="179.55" x2="308.10" y2="179.55" stroke="#9a40e0" stroke-width="0.6"/><line x1="311.70" y1="155.70" x2="311.70" y2="169.60" stroke="#f31010" stroke-width="0.4"/><line x1="311.70" y1="189.50" x2="311.70" y2="202.40" stroke="#f31010" stroke-width="0.4"/><rect x="309.60" y="169.60" width="4.2" height="19.90" fill="#fff" fill-opacity="0.32" stroke="#f31010" stroke-width="0.5"/><line x1="309.60" y1="179.55" x2="313.80" y2="179.55" stroke="#f31010" stroke-width="0.6"/><line x1="317.40" y1="159.70" x2="317.40" y2="169.60" stroke="#2a2ae6" stroke-width="0.4"/><line x1="317.40" y1="182.60" x2="317.40" y2="195.50" stroke="#2a2ae6" stroke-width="0.4"/><rect x="315.50" y="169.60" width="3.8" height="13.00" fill="#fff" fill-opacity="0.32" stroke="#2a2ae6" stroke-width="0.5"/><line x1="315.50" y1="176.10" x2="319.30" y2="176.10" stroke="#2a2ae6" stroke-width="0.6"/><line x1="323.10" y1="155.70" x2="323.10" y2="165.70" stroke="#f31010" stroke-width="0.4"/><line x1="323.10" y1="179.60" x2="323.10" y2="189.50" stroke="#f31010" stroke-width="0.4"/><rect x="321.00" y="165.70" width="4.2" height="13.90" fill="#fff" fill-opacity="0.32" stroke="#f31010" stroke-width="0.5"/><line x1="321.00" y1="172.65" x2="325.20" y2="172.65" stroke="#f31010" stroke-width="0.6"/><line x1="328.80" y1="135.80" x2="328.80" y2="147.80" stroke="#f31010" stroke-width="0.4"/><line x1="328.80" y1="165.70" x2="328.80" y2="175.60" stroke="#f31010" stroke-width="0.4"/><rect x="326.70" y="147.80" width="4.2" height="17.90" fill="#fff" fill-opacity="0.32" stroke="#f31010" stroke-width="0.5"/><line x1="326.70" y1="156.75" x2="330.90" y2="156.75" stroke="#f31010" stroke-width="0.6"/><line x1="334.50" y1="141.80" x2="334.50" y2="144.80" stroke="#2a2ae6" stroke-width="0.4"/><line x1="334.50" y1="155.70" x2="334.50" y2="161.70" stroke="#2a2ae6" stroke-width="0.4"/><rect x="332.60" y="144.80" width="3.8" height="10.90" fill="#fff" fill-opacity="0.32" stroke="#2a2ae6" stroke-width="0.5"/><line x1="332.60" y1="150.25" x2="336.40" y2="150.25" stroke="#2a2ae6" stroke-width="0.6"/><line x1="340.20" y1="135.80" x2="340.20" y2="153.70" stroke="#f31010" stroke-width="0.4"/><line x1="340.20" y1="175.60" x2="340.20" y2="197.50" stroke="#f31010" stroke-width="0.4"/><rect x="338.10" y="153.70" width="4.2" height="21.90" fill="#fff" fill-opacity="0.32" stroke="#f31010" stroke-width="0.5"/><line x1="338.10" y1="164.65" x2="342.30" y2="164.65" stroke="#f31010" stroke-width="0.6"/><line x1="345.90" y1="129.90" x2="345.90" y2="149.80" stroke="#f31010" stroke-width="0.4"/><line x1="345.90" y1="171.60" x2="345.90" y2="195.50" stroke="#f31010" stroke-width="0.4"/><rect x="343.80" y="149.80" width="4.2" height="21.80" fill="#fff" fill-opacity="0.32" stroke="#f31010" stroke-width="0.5"/><line x1="343.80" y1="160.70" x2="348.00" y2="160.70" stroke="#f31010" stroke-width="0.6"/><line x1="351.60" y1="153.70" x2="351.60" y2="161.70" stroke="#2a2ae6" stroke-width="0.4"/><line x1="351.60" y1="171.60" x2="351.60" y2="177.60" stroke="#2a2ae6" stroke-width="0.4"/><rect x="349.70" y="161.70" width="3.8" height="9.90" fill="#fff" fill-opacity="0.32" stroke="#2a2ae6" stroke-width="0.5"/><line x1="349.70" y1="166.65" x2="353.50" y2="166.65" stroke="#2a2ae6" stroke-width="0.6"/><line x1="357.30" y1="147.80" x2="357.30" y2="161.70" stroke="#f31010" stroke-width="0.4"/><line x1="357.30" y1="173.60" x2="357.30" y2="183.60" stroke="#f31010" stroke-width="0.4"/><rect x="355.20" y="161.70" width="4.2" height="11.90" fill="#fff" fill-opacity="0.32" stroke="#f31010" stroke-width="0.5"/><line x1="355.20" y1="167.65" x2="359.40" y2="167.65" stroke="#f31010" stroke-width="0.6"/><line x1="363.00" y1="169.60" x2="363.00" y2="179.60" stroke="#f31010" stroke-width="0.4"/><line x1="363.00" y1="197.50" x2="363.00" y2="203.40" stroke="#f31010" stroke-width="0.4"/><rect x="360.90" y="179.60" width="4.2" height="17.90" fill="#fff" fill-opacity="0.32" stroke="#f31010" stroke-width="0.5"/><line x1="360.90" y1="188.55" x2="365.10" y2="188.55" stroke="#f31010" stroke-width="0.6"/><text x="29.55" y="121.1" font-size="6.8" font-family="Liberation Sans, sans-serif" fill="#2a2a2a" text-anchor="middle">*</text><text x="86.55" y="121.1" font-size="6.8" font-family="Liberation Sans, sans-serif" fill="#2a2a2a" text-anchor="middle">**</text><text x="126.45" y="121.1" font-size="6.8" font-family="Liberation Sans, sans-serif" fill="#2a2a2a" text-anchor="middle">**</text><text x="137.85" y="121.1" font-size="6.8" font-family="Liberation Sans, sans-serif" fill="#2a2a2a" text-anchor="middle">***</text><text x="160.65" y="121.1" font-size="6.8" font-family="Liberation Sans, sans-serif" fill="#2a2a2a" text-anchor="middle">***</text><text x="172.05" y="121.1" font-size="6.8" font-family="Liberation Sans, sans-serif" fill="#2a2a2a" text-anchor="middle">***</text><text x="183.45" y="121.1" font-size="6.8" font-family="Liberation Sans, sans-serif" fill="#2a2a2a" text-anchor="middle">***</text><text x="206.25" y="121.1" font-size="6.8" font-family="Liberation Sans, sans-serif" fill="#2a2a2a" text-anchor="middle">***</text><text x="217.65" y="121.1" font-size="6.8" font-family="Liberation Sans, sans-serif" fill="#2a2a2a" text-anchor="middle">*</text><text x="229.05" y="121.1" font-size="6.8" font-family="Liberation Sans, sans-serif" fill="#2a2a2a" text-anchor="middle">***</text><text x="263.25" y="121.1" font-size="6.8" font-family="Liberation Sans, sans-serif" fill="#2a2a2a" text-anchor="middle">*</text><text x="274.65" y="121.1" font-size="6.8" font-family="Liberation Sans, sans-serif" fill="#2a2a2a" text-anchor="middle">*</text><text x="331.65" y="121.1" font-size="6.8" font-family="Liberation Sans, sans-serif" fill="#2a2a2a" text-anchor="middle">***</text><text x="348.75" y="121.1" font-size="6.8" font-family="Liberation Sans, sans-serif" fill="#2a2a2a" text-anchor="middle">**</text><rect x="17.4" y="111.1" width="349.40000000000003" height="97.4" fill="none" stroke="#9a9a9a" stroke-width="0.8"/><line x1="15.799999999999999" y1="203.90" x2="17.4" y2="203.90" stroke="#333" stroke-width="0.5"/><text transform="translate(14.4,203.90) rotate(-90)" font-size="4.3" font-family="Liberation Sans, sans-serif" fill="#333" text-anchor="middle">0</text><line x1="15.799999999999999" y1="186.84" x2="17.4" y2="186.84" stroke="#333" stroke-width="0.5"/><text transform="translate(14.4,186.84) rotate(-90)" font-size="4.3" font-family="Liberation Sans, sans-serif" fill="#333" text-anchor="middle">1</text><line x1="15.799999999999999" y1="169.78" x2="17.4" y2="169.78" stroke="#333" stroke-width="0.5"/><text transform="translate(14.4,169.78) rotate(-90)" font-size="4.3" font-family="Liberation Sans, sans-serif" fill="#333" text-anchor="middle">2</text><line x1="15.799999999999999" y1="152.72" x2="17.4" y2="152.72" stroke="#333" stroke-width="0.5"/><text transform="translate(14.4,152.72) rotate(-90)" font-size="4.3" font-family="Liberation Sans, sans-serif" fill="#333" text-anchor="middle">3</text><line x1="15.799999999999999" y1="135.66" x2="17.4" y2="135.66" stroke="#333" stroke-width="0.5"/><text transform="translate(14.4,135.66) rotate(-90)" font-size="4.3" font-family="Liberation Sans, sans-serif" fill="#333" text-anchor="middle">4</text><line x1="15.799999999999999" y1="118.60" x2="17.4" y2="118.60" stroke="#333" stroke-width="0.5"/><text transform="translate(14.4,118.60) rotate(-90)" font-size="4.3" font-family="Liberation Sans, sans-serif" fill="#333" text-anchor="middle">5</text><text transform="translate(9.5,159.65) rotate(-90)" font-size="6.8" font-family="Liberation Sans, sans-serif" fill="#1a1a1a" text-anchor="middle" textLength="100.5" lengthAdjust="spacingAndGlyphs">ZNF433 Expression Level (log2 TPM)</text><line x1="21.00" y1="208.5" x2="21.00" y2="209.9" stroke="#333" stroke-width="0.4"/><text transform="translate(22.90,210.8) rotate(-90) scale(0.835,1)" font-size="5.65" font-family="Liberation Sans, sans-serif" fill="#262626" text-anchor="end">ACC.Tumor (n=79)</text><line x1="26.70" y1="208.5" x2="26.70" y2="209.9" stroke="#333" stroke-width="0.4"/><text transform="translate(28.60,210.8) rotate(-90) scale(0.835,1)" font-size="5.65" font-family="Liberation Sans, sans-serif" fill="#262626" text-anchor="end">BLCA.Tumor (n=408)</text><line x1="32.40" y1="208.5" x2="32.40" y2="209.9" stroke="#333" stroke-width="0.4"/><text transform="translate(34.30,210.8) rotate(-90) scale(0.835,1)" font-size="5.65" font-family="Liberation Sans, sans-serif" fill="#262626" text-anchor="end">BLCA.Normal (n=19)</text><line x1="38.10" y1="208.5" x2="38.10" y2="209.9" stroke="#333" stroke-width="0.4"/><text transform="translate(40.00,210.8) rotate(-90) scale(0.835,1)" font-size="5.65" font-family="Liberation Sans, sans-serif" fill="#262626" text-anchor="end">BRCA.Tumor (n=1093)</text><line x1="43.80" y1="208.5" x2="43.80" y2="209.9" stroke="#333" stroke-width="0.4"/><text transform="translate(45.70,210.8) rotate(-90) scale(0.835,1)" font-size="5.65" font-family="Liberation Sans, sans-serif" fill="#262626" text-anchor="end">BRCA.Normal (n=112)</text><line x1="49.50" y1="208.5" x2="49.50" y2="209.9" stroke="#333" stroke-width="0.4"/><text transform="translate(51.40,210.8) rotate(-90) scale(0.835,1)" font-size="5.65" font-family="Liberation Sans, sans-serif" fill="#262626" text-anchor="end">BRCA-Basal.Tumor (n=190)</text><line x1="55.20" y1="208.5" x2="55.20" y2="209.9" stroke="#333" stroke-width="0.4"/><text transform="translate(57.10,210.8) rotate(-90) scale(0.835,1)" font-size="5.65" font-family="Liberation Sans, sans-serif" fill="#262626" text-anchor="end">BRCA-Her2.Tumor (n=82)</text><line x1="60.90" y1="208.5" x2="60.90" y2="209.9" stroke="#333" stroke-width="0.4"/><text transform="translate(62.80,210.8) rotate(-90) scale(0.835,1)" font-size="5.65" font-family="Liberation Sans, sans-serif" fill="#262626" text-anchor="end">BRCA-LumA.Tumor (n=564)</text><line x1="66.60" y1="208.5" x2="66.60" y2="209.9" stroke="#333" stroke-width="0.4"/><text transform="translate(68.50,210.8) rotate(-90) scale(0.835,1)" font-size="5.65" font-family="Liberation Sans, sans-serif" fill="#262626" text-anchor="end">BRCA-LumB.Tumor (n=217)</text><line x1="72.30" y1="208.5" x2="72.30" y2="209.9" stroke="#333" stroke-width="0.4"/><text transform="translate(74.20,210.8) rotate(-90) scale(0.835,1)" font-size="5.65" font-family="Liberation Sans, sans-serif" fill="#262626" text-anchor="end">CESC.Tumor (n=304)</text><line x1="78.00" y1="208.5" x2="78.00" y2="209.9" stroke="#333" stroke-width="0.4"/><text transform="translate(79.90,210.8) rotate(-90) scale(0.835,1)" font-size="5.65" font-family="Liberation Sans, sans-serif" fill="#262626" text-anchor="end">CESC.Normal (n=3)</text><line x1="83.70" y1="208.5" x2="83.70" y2="209.9" stroke="#333" stroke-width="0.4"/><text transform="translate(85.60,210.8) rotate(-90) scale(0.835,1)" font-size="5.65" font-family="Liberation Sans, sans-serif" fill="#262626" text-anchor="end">CHOL.Tumor (n=36)</text><line x1="89.40" y1="208.5" x2="89.40" y2="209.9" stroke="#333" stroke-width="0.4"/><text transform="translate(91.30,210.8) rotate(-90) scale(0.835,1)" font-size="5.65" font-family="Liberation Sans, sans-serif" fill="#262626" text-anchor="end">CHOL.Normal (n=9)</text><line x1="95.10" y1="208.5" x2="95.10" y2="209.9" stroke="#333" stroke-width="0.4"/><text transform="translate(97.00,210.8) rotate(-90) scale(0.835,1)" font-size="5.65" font-family="Liberation Sans, sans-serif" fill="#262626" text-anchor="end">COAD.Tumor (n=457)</text><line x1="100.80" y1="208.5" x2="100.80" y2="209.9" stroke="#333" stroke-width="0.4"/><text transform="translate(102.70,210.8) rotate(-90) scale(0.835,1)" font-size="5.65" font-family="Liberation Sans, sans-serif" fill="#262626" text-anchor="end">COAD.Normal (n=41)</text><line x1="106.50" y1="208.5" x2="106.50" y2="209.9" stroke="#333" stroke-width="0.4"/><text transform="translate(108.40,210.8) rotate(-90) scale(0.835,1)" font-size="5.65" font-family="Liberation Sans, sans-serif" fill="#262626" text-anchor="end">DLBC.Tumor (n=48)</text><line x1="112.20" y1="208.5" x2="112.20" y2="209.9" stroke="#333" stroke-width="0.4"/><text transform="translate(114.10,210.8) rotate(-90) scale(0.835,1)" font-size="5.65" font-family="Liberation Sans, sans-serif" fill="#262626" text-anchor="end">ESCA.Tumor (n=184)</text><line x1="117.90" y1="208.5" x2="117.90" y2="209.9" stroke="#333" stroke-width="0.4"/><text transform="translate(119.80,210.8) rotate(-90) scale(0.835,1)" font-size="5.65" font-family="Liberation Sans, sans-serif" fill="#262626" text-anchor="end">ESCA.Normal (n=11)</text><line x1="123.60" y1="208.5" x2="123.60" y2="209.9" stroke="#333" stroke-width="0.4"/><text transform="translate(125.50,210.8) rotate(-90) scale(0.835,1)" font-size="5.65" font-family="Liberation Sans, sans-serif" fill="#262626" text-anchor="end">GBM.Tumor (n=153)</text><line x1="129.30" y1="208.5" x2="129.30" y2="209.9" stroke="#333" stroke-width="0.4"/><text transform="translate(131.20,210.8) rotate(-90) scale(0.835,1)" font-size="5.65" font-family="Liberation Sans, sans-serif" fill="#262626" text-anchor="end">GBM.Normal (n=5)</text><line x1="135.00" y1="208.5" x2="135.00" y2="209.9" stroke="#333" stroke-width="0.4"/><text transform="translate(136.90,210.8) rotate(-90) scale(0.835,1)" font-size="5.65" font-family="Liberation Sans, sans-serif" fill="#262626" text-anchor="end">HNSC.Tumor (n=520)</text><line x1="140.70" y1="208.5" x2="140.70" y2="209.9" stroke="#333" stroke-width="0.4"/><text transform="translate(142.60,210.8) rotate(-90) scale(0.835,1)" font-size="5.65" font-family="Liberation Sans, sans-serif" fill="#262626" text-anchor="end">HNSC.Normal (n=44)</text><line x1="146.40" y1="208.5" x2="146.40" y2="209.9" stroke="#333" stroke-width="0.4"/><text transform="translate(148.30,210.8) rotate(-90) scale(0.835,1)" font-size="5.65" font-family="Liberation Sans, sans-serif" fill="#262626" text-anchor="end">HNSC-HPV+.Tumor (n=97)</text><line x1="152.10" y1="208.5" x2="152.10" y2="209.9" stroke="#333" stroke-width="0.4"/><text transform="translate(154.00,210.8) rotate(-90) scale(0.835,1)" font-size="5.65" font-family="Liberation Sans, sans-serif" fill="#262626" text-anchor="end">HNSC-HPV-.Tumor (n=421)</text><line x1="157.80" y1="208.5" x2="157.80" y2="209.9" stroke="#333" stroke-width="0.4"/><text transform="translate(159.70,210.8) rotate(-90) scale(0.835,1)" font-size="5.65" font-family="Liberation Sans, sans-serif" fill="#262626" text-anchor="end">KICH.Tumor (n=66)</text><line x1="163.50" y1="208.5" x2="163.50" y2="209.9" stroke="#333" stroke-width="0.4"/><text transform="translate(165.40,210.8) rotate(-90) scale(0.835,1)" font-size="5.65" font-family="Liberation Sans, sans-serif" fill="#262626" text-anchor="end">KICH.Normal (n=25)</text><line x1="169.20" y1="208.5" x2="169.20" y2="209.9" stroke="#333" stroke-width="0.4"/><text transform="translate(171.10,210.8) rotate(-90) scale(0.835,1)" font-size="5.65" font-family="Liberation Sans, sans-serif" fill="#262626" text-anchor="end">KIRC.Tumor (n=533)</text><line x1="174.90" y1="208.5" x2="174.90" y2="209.9" stroke="#333" stroke-width="0.4"/><text transform="translate(176.80,210.8) rotate(-90) scale(0.835,1)" font-size="5.65" font-family="Liberation Sans, sans-serif" fill="#262626" text-anchor="end">KIRC.Normal (n=72)</text><line x1="180.60" y1="208.5" x2="180.60" y2="209.9" stroke="#333" stroke-width="0.4"/><text transform="translate(182.50,210.8) rotate(-90) scale(0.835,1)" font-size="5.65" font-family="Liberation Sans, sans-serif" fill="#262626" text-anchor="end">KIRP.Tumor (n=290)</text><line x1="186.30" y1="208.5" x2="186.30" y2="209.9" stroke="#333" stroke-width="0.4"/><text transform="translate(188.20,210.8) rotate(-90) scale(0.835,1)" font-size="5.65" font-family="Liberation Sans, sans-serif" fill="#262626" text-anchor="end">KIRP.Normal (n=32)</text><line x1="192.00" y1="208.5" x2="192.00" y2="209.9" stroke="#333" stroke-width="0.4"/><text transform="translate(193.90,210.8) rotate(-90) scale(0.835,1)" font-size="5.65" font-family="Liberation Sans, sans-serif" fill="#262626" text-anchor="end">LAML.Tumor (n=173)</text><line x1="197.70" y1="208.5" x2="197.70" y2="209.9" stroke="#333" stroke-width="0.4"/><text transform="translate(199.60,210.8) rotate(-90) scale(0.835,1)" font-size="5.65" font-family="Liberation Sans, sans-serif" fill="#262626" text-anchor="end">LGG.Tumor (n=516)</text><line x1="203.40" y1="208.5" x2="203.40" y2="209.9" stroke="#333" stroke-width="0.4"/><text transform="translate(205.30,210.8) rotate(-90) scale(0.835,1)" font-size="5.65" font-family="Liberation Sans, sans-serif" fill="#262626" text-anchor="end">LIHC.Tumor (n=371)</text><line x1="209.10" y1="208.5" x2="209.10" y2="209.9" stroke="#333" stroke-width="0.4"/><text transform="translate(211.00,210.8) rotate(-90) scale(0.835,1)" font-size="5.65" font-family="Liberation Sans, sans-serif" fill="#262626" text-anchor="end">LIHC.Normal (n=50)</text><line x1="214.80" y1="208.5" x2="214.80" y2="209.9" stroke="#333" stroke-width="0.4"/><text transform="translate(216.70,210.8) rotate(-90) scale(0.835,1)" font-size="5.65" font-family="Liberation Sans, sans-serif" fill="#262626" text-anchor="end">LUAD.Tumor (n=515)</text><line x1="220.50" y1="208.5" x2="220.50" y2="209.9" stroke="#333" stroke-width="0.4"/><text transform="translate(222.40,210.8) rotate(-90) scale(0.835,1)" font-size="5.65" font-family="Liberation Sans, sans-serif" fill="#262626" text-anchor="end">LUAD.Normal (n=59)</text><line x1="226.20" y1="208.5" x2="226.20" y2="209.9" stroke="#333" stroke-width="0.4"/><text transform="translate(228.10,210.8) rotate(-90) scale(0.835,1)" font-size="5.65" font-family="Liberation Sans, sans-serif" fill="#262626" text-anchor="end">LUSC.Tumor (n=501)</text><line x1="231.90" y1="208.5" x2="231.90" y2="209.9" stroke="#333" stroke-width="0.4"/><text transform="translate(233.80,210.8) rotate(-90) scale(0.835,1)" font-size="5.65" font-family="Liberation Sans, sans-serif" fill="#262626" text-anchor="end">LUSC.Normal (n=51)</text><line x1="237.60" y1="208.5" x2="237.60" y2="209.9" stroke="#333" stroke-width="0.4"/><text transform="translate(239.50,210.8) rotate(-90) scale(0.835,1)" font-size="5.65" font-family="Liberation Sans, sans-serif" fill="#262626" text-anchor="end">MESO.Tumor (n=87)</text><line x1="243.30" y1="208.5" x2="243.30" y2="209.9" stroke="#333" stroke-width="0.4"/><text transform="translate(245.20,210.8) rotate(-90) scale(0.835,1)" font-size="5.65" font-family="Liberation Sans, sans-serif" fill="#262626" text-anchor="end">OV.Tumor (n=303)</text><line x1="249.00" y1="208.5" x2="249.00" y2="209.9" stroke="#333" stroke-width="0.4"/><text transform="translate(250.90,210.8) rotate(-90) scale(0.835,1)" font-size="5.65" font-family="Liberation Sans, sans-serif" fill="#262626" text-anchor="end">PAAD.Tumor (n=178)</text><line x1="254.70" y1="208.5" x2="254.70" y2="209.9" stroke="#333" stroke-width="0.4"/><text transform="translate(256.60,210.8) rotate(-90) scale(0.835,1)" font-size="5.65" font-family="Liberation Sans, sans-serif" fill="#262626" text-anchor="end">PAAD.Normal (n=4)</text><line x1="260.40" y1="208.5" x2="260.40" y2="209.9" stroke="#333" stroke-width="0.4"/><text transform="translate(262.30,210.8) rotate(-90) scale(0.835,1)" font-size="5.65" font-family="Liberation Sans, sans-serif" fill="#262626" text-anchor="end">PCPG.Tumor (n=179)</text><line x1="266.10" y1="208.5" x2="266.10" y2="209.9" stroke="#333" stroke-width="0.4"/><text transform="translate(268.00,210.8) rotate(-90) scale(0.835,1)" font-size="5.65" font-family="Liberation Sans, sans-serif" fill="#262626" text-anchor="end">PCPG.Normal (n=3)</text><line x1="271.80" y1="208.5" x2="271.80" y2="209.9" stroke="#333" stroke-width="0.4"/><text transform="translate(273.70,210.8) rotate(-90) scale(0.835,1)" font-size="5.65" font-family="Liberation Sans, sans-serif" fill="#262626" text-anchor="end">PRAD.Tumor (n=497)</text><line x1="277.50" y1="208.5" x2="277.50" y2="209.9" stroke="#333" stroke-width="0.4"/><text transform="translate(279.40,210.8) rotate(-90) scale(0.835,1)" font-size="5.65" font-family="Liberation Sans, sans-serif" fill="#262626" text-anchor="end">PRAD.Normal (n=52)</text><line x1="283.20" y1="208.5" x2="283.20" y2="209.9" stroke="#333" stroke-width="0.4"/><text transform="translate(285.10,210.8) rotate(-90) scale(0.835,1)" font-size="5.65" font-family="Liberation Sans, sans-serif" fill="#262626" text-anchor="end">READ.Tumor (n=166)</text><line x1="288.90" y1="208.5" x2="288.90" y2="209.9" stroke="#333" stroke-width="0.4"/><text transform="translate(290.80,210.8) rotate(-90) scale(0.835,1)" font-size="5.65" font-family="Liberation Sans, sans-serif" fill="#262626" text-anchor="end">READ.Normal (n=10)</text><line x1="294.60" y1="208.5" x2="294.60" y2="209.9" stroke="#333" stroke-width="0.4"/><text transform="translate(296.50,210.8) rotate(-90) scale(0.835,1)" font-size="5.65" font-family="Liberation Sans, sans-serif" fill="#262626" text-anchor="end">SARC.Tumor (n=259)</text><line x1="300.30" y1="208.5" x2="300.30" y2="209.9" stroke="#333" stroke-width="0.4"/><text transform="translate(302.20,210.8) rotate(-90) scale(0.835,1)" font-size="5.65" font-family="Liberation Sans, sans-serif" fill="#262626" text-anchor="end">SKCM.Tumor (n=103)</text><line x1="306.00" y1="208.5" x2="306.00" y2="209.9" stroke="#333" stroke-width="0.4"/><text transform="translate(307.90,210.8) rotate(-90) scale(0.835,1)" font-size="5.65" font-family="Liberation Sans, sans-serif" fill="#262626" text-anchor="end">SKCM.Metastasis (n=368)</text><line x1="311.70" y1="208.5" x2="311.70" y2="209.9" stroke="#333" stroke-width="0.4"/><text transform="translate(313.60,210.8) rotate(-90) scale(0.835,1)" font-size="5.65" font-family="Liberation Sans, sans-serif" fill="#262626" text-anchor="end">STAD.Tumor (n=415)</text><line x1="317.40" y1="208.5" x2="317.40" y2="209.9" stroke="#333" stroke-width="0.4"/><text transform="translate(319.30,210.8) rotate(-90) scale(0.835,1)" font-size="5.65" font-family="Liberation Sans, sans-serif" fill="#262626" text-anchor="end">STAD.Normal (n=35)</text><line x1="323.10" y1="208.5" x2="323.10" y2="209.9" stroke="#333" stroke-width="0.4"/><text transform="translate(325.00,210.8) rotate(-90) scale(0.835,1)" font-size="5.65" font-family="Liberation Sans, sans-serif" fill="#262626" text-anchor="end">TGCT.Tumor (n=150)</text><line x1="328.80" y1="208.5" x2="328.80" y2="209.9" stroke="#333" stroke-width="0.4"/><text transform="translate(330.70,210.8) rotate(-90) scale(0.835,1)" font-size="5.65" font-family="Liberation Sans, sans-serif" fill="#262626" text-anchor="end">THCA.Tumor (n=501)</text><line x1="334.50" y1="208.5" x2="334.50" y2="209.9" stroke="#333" stroke-width="0.4"/><text transform="translate(336.40,210.8) rotate(-90) scale(0.835,1)" font-size="5.65" font-family="Liberation Sans, sans-serif" fill="#262626" text-anchor="end">THCA.Normal (n=59)</text><line x1="340.20" y1="208.5" x2="340.20" y2="209.9" stroke="#333" stroke-width="0.4"/><text transform="translate(342.10,210.8) rotate(-90) scale(0.835,1)" font-size="5.65" font-family="Liberation Sans, sans-serif" fill="#262626" text-anchor="end">THYM.Tumor (n=120)</text><line x1="345.90" y1="208.5" x2="345.90" y2="209.9" stroke="#333" stroke-width="0.4"/><text transform="translate(347.80,210.8) rotate(-90) scale(0.835,1)" font-size="5.65" font-family="Liberation Sans, sans-serif" fill="#262626" text-anchor="end">UCEC.Tumor (n=545)</text><line x1="351.60" y1="208.5" x2="351.60" y2="209.9" stroke="#333" stroke-width="0.4"/><text transform="translate(353.50,210.8) rotate(-90) scale(0.835,1)" font-size="5.65" font-family="Liberation Sans, sans-serif" fill="#262626" text-anchor="end">UCEC.Normal (n=35)</text><line x1="357.30" y1="208.5" x2="357.30" y2="209.9" stroke="#333" stroke-width="0.4"/><text transform="translate(359.20,210.8) rotate(-90) scale(0.835,1)" font-size="5.65" font-family="Liberation Sans, sans-serif" fill="#262626" text-anchor="end">UCS.Tumor (n=57)</text><line x1="363.00" y1="208.5" x2="363.00" y2="209.9" stroke="#333" stroke-width="0.4"/><text transform="translate(364.90,210.8) rotate(-90) scale(0.835,1)" font-size="5.65" font-family="Liberation Sans, sans-serif" fill="#262626" text-anchor="end">UVM.Tumor (n=80)</text><text x="3.2" y="274.4" font-size="13.2" font-family="Liberation Sans, sans-serif" fill="#111">C</text><rect x="29.4" y="277.9" width="337.6" height="63.400000000000034" fill="#fff"/><line x1="29.4" y1="337.86" x2="367.0" y2="337.86" stroke="#ececec" stroke-width="0.5"/><line x1="29.4" y1="332.38" x2="367.0" y2="332.38" stroke="#ececec" stroke-width="0.5"/><line x1="29.4" y1="326.90" x2="367.0" y2="326.90" stroke="#ececec" stroke-width="0.5"/><line x1="29.4" y1="321.42" x2="367.0" y2="321.42" stroke="#ececec" stroke-width="0.5"/><line x1="29.4" y1="315.94" x2="367.0" y2="315.94" stroke="#ececec" stroke-width="0.5"/><line x1="29.4" y1="310.46" x2="367.0" y2="310.46" stroke="#ececec" stroke-width="0.5"/><line x1="29.4" y1="304.98" x2="367.0" y2="304.98" stroke="#ececec" stroke-width="0.5"/><line x1="29.4" y1="299.50" x2="367.0" y2="299.50" stroke="#ececec" stroke-width="0.5"/><line x1="29.4" y1="294.02" x2="367.0" y2="294.02" stroke="#ececec" stroke-width="0.5"/><line x1="29.4" y1="288.54" x2="367.0" y2="288.54" stroke="#ececec" stroke-width="0.5"/><line x1="29.4" y1="283.06" x2="367.0" y2="283.06" stroke="#ececec" stroke-width="0.5"/><line x1="29.4" y1="277.58" x2="367.0" y2="277.58" stroke="#ececec" stroke-width="0.5"/><line x1="37.1" y1="302.7" x2="37.1" y2="333.5" stroke="#808080" stroke-width="0.95"/><path d="M37.10 308.40L37.10 308.40L36.96 308.90L36.72 309.40L36.43 309.90L36.10 310.40L35.75 310.90L35.40 311.40L35.04 311.90L34.68 312.40L34.34 312.90L34.00 313.40L33.68 313.90L33.38 314.40L33.10 314.90L32.84 315.40L32.61 315.90L32.41 316.40L32.24 316.90L32.09 317.40L31.98 317.90L31.90 318.40L31.85 318.90L31.84 319.40L31.85 319.86L31.90 320.32L31.98 320.78L32.09 321.24L32.24 321.70L32.41 322.15L32.61 322.61L32.84 323.07L33.10 323.53L33.38 323.99L33.68 324.45L34.00 324.91L34.34 325.37L34.68 325.83L35.04 326.29L35.40 326.75L35.75 327.20L36.10 327.66L36.43 328.12L36.72 328.58L36.96 329.04L37.10 329.50L37.10 329.50Z" fill="#e64b35" stroke="#5a3028" stroke-width="0.45"/><path d="M37.10 303.60L37.10 303.60L37.26 304.08L37.53 304.55L37.86 305.03L38.23 305.51L38.62 305.99L39.02 306.46L39.42 306.94L39.82 307.42L40.22 307.90L40.59 308.37L40.96 308.85L41.29 309.33L41.61 309.80L41.90 310.28L42.16 310.76L42.39 311.24L42.58 311.71L42.74 312.19L42.87 312.67L42.96 313.15L43.02 313.62L43.04 314.10L43.02 314.58L42.96 315.05L42.87 315.53L42.74 316.01L42.58 316.49L42.39 316.96L42.16 317.44L41.90 317.92L41.61 318.40L41.29 318.87L40.96 319.35L40.59 319.83L40.22 320.30L39.82 320.78L39.42 321.26L39.02 321.74L38.62 322.21L38.23 322.69L37.86 323.17L37.53 323.65L37.26 324.12L37.10 324.60L37.10 324.60Z" fill="#4dbbd5" stroke="#2f5a66" stroke-width="0.45"/><line x1="36.75" y1="315.90" x2="36.75" y2="322.90" stroke="#333" stroke-width="0.5"/><line x1="37.45" y1="310.60" x2="37.45" y2="317.60" stroke="#333" stroke-width="0.5"/><circle cx="36.60" cy="319.40" r="0.75" fill="#111"/><circle cx="37.60" cy="314.10" r="0.75" fill="#111"/><line x1="46.8" y1="291.4" x2="46.8" y2="337.6" stroke="#808080" stroke-width="0.95"/><path d="M46.80 297.00L46.80 297.00L46.67 297.78L46.44 298.55L46.15 299.33L45.84 300.11L45.51 300.89L45.17 301.66L44.83 302.44L44.49 303.22L44.15 304.00L43.83 304.77L43.53 305.55L43.24 306.33L42.97 307.10L42.73 307.88L42.51 308.66L42.31 309.44L42.15 310.21L42.01 310.99L41.90 311.77L41.82 312.55L41.78 313.32L41.76 314.10L41.78 314.80L41.82 315.50L41.90 316.20L42.01 316.90L42.15 317.60L42.31 318.30L42.51 319.00L42.73 319.70L42.97 320.40L43.24 321.10L43.53 321.80L43.83 322.50L44.15 323.20L44.49 323.90L44.83 324.60L45.17 325.30L45.51 326.00L45.84 326.70L46.15 327.40L46.44 328.10L46.67 328.80L46.80 329.50L46.80 329.50Z" fill="#e64b35" stroke="#5a3028" stroke-width="0.45"/><path d="M46.80 302.70L46.80 302.70L46.95 303.25L47.20 303.81L47.50 304.36L47.84 304.92L48.20 305.47L48.57 306.03L48.95 306.58L49.32 307.14L49.68 307.69L50.03 308.25L50.36 308.80L50.68 309.35L50.97 309.91L51.24 310.46L51.48 311.02L51.69 311.57L51.87 312.13L52.02 312.68L52.14 313.24L52.22 313.79L52.27 314.35L52.29 314.90L52.27 315.34L52.22 315.78L52.14 316.22L52.02 316.66L51.87 317.10L51.69 317.55L51.48 317.99L51.24 318.43L50.97 318.87L50.68 319.31L50.36 319.75L50.03 320.19L49.68 320.63L49.32 321.07L48.95 321.51L48.57 321.95L48.20 322.40L47.84 322.84L47.50 323.28L47.20 323.72L46.95 324.16L46.80 324.60L46.80 324.60Z" fill="#4dbbd5" stroke="#2f5a66" stroke-width="0.45"/><line x1="46.45" y1="310.60" x2="46.45" y2="317.60" stroke="#333" stroke-width="0.5"/><line x1="47.15" y1="311.40" x2="47.15" y2="318.40" stroke="#333" stroke-width="0.5"/><circle cx="46.30" cy="314.10" r="0.75" fill="#111"/><circle cx="47.30" cy="314.90" r="0.75" fill="#111"/><line x1="56.5" y1="289.8" x2="56.5" y2="337.6" stroke="#808080" stroke-width="0.95"/><path d="M56.50 297.00L56.50 297.00L56.37 297.70L56.14 298.41L55.87 299.11L55.56 299.82L55.24 300.52L54.91 301.23L54.57 301.93L54.24 302.64L53.91 303.34L53.60 304.05L53.30 304.75L53.02 305.45L52.76 306.16L52.52 306.86L52.30 307.57L52.11 308.27L51.95 308.98L51.81 309.68L51.71 310.39L51.63 311.09L51.59 311.80L51.57 312.50L51.59 313.12L51.63 313.75L51.71 314.37L51.81 314.99L51.95 315.61L52.11 316.24L52.30 316.86L52.52 317.48L52.76 318.10L53.02 318.73L53.30 319.35L53.60 319.97L53.91 320.60L54.24 321.22L54.57 321.84L54.91 322.46L55.24 323.09L55.56 323.71L55.87 324.33L56.14 324.95L56.37 325.58L56.50 326.20L56.50 326.20Z" fill="#e64b35" stroke="#5a3028" stroke-width="0.45"/><path d="M56.50 304.40L56.50 304.40L56.65 304.77L56.90 305.14L57.20 305.50L57.54 305.87L57.90 306.24L58.27 306.61L58.65 306.98L59.02 307.35L59.38 307.71L59.73 308.08L60.06 308.45L60.38 308.82L60.67 309.19L60.94 309.55L61.18 309.92L61.39 310.29L61.57 310.66L61.72 311.03L61.84 311.40L61.92 311.76L61.97 312.13L61.99 312.50L61.97 312.98L61.92 313.45L61.84 313.93L61.72 314.41L61.57 314.89L61.39 315.36L61.18 315.84L60.94 316.32L60.67 316.80L60.38 317.27L60.06 317.75L59.73 318.23L59.38 318.70L59.02 319.18L58.65 319.66L58.27 320.14L57.90 320.61L57.54 321.09L57.20 321.57L56.90 322.05L56.65 322.52L56.50 323.00L56.50 323.00Z" fill="#4dbbd5" stroke="#2f5a66" stroke-width="0.45"/><line x1="56.15" y1="309.00" x2="56.15" y2="316.00" stroke="#333" stroke-width="0.5"/><line x1="56.85" y1="309.00" x2="56.85" y2="316.00" stroke="#333" stroke-width="0.5"/><circle cx="56.00" cy="312.50" r="0.75" fill="#111"/><circle cx="57.00" cy="312.50" r="0.75" fill="#111"/><line x1="66.2" y1="299.5" x2="66.2" y2="334.3" stroke="#808080" stroke-width="0.95"/><path d="M66.20 306.80L66.20 306.80L66.05 307.35L65.80 307.91L65.50 308.46L65.16 309.02L64.80 309.57L64.43 310.13L64.05 310.68L63.68 311.24L63.32 311.79L62.97 312.35L62.64 312.90L62.32 313.45L62.03 314.01L61.76 314.56L61.52 315.12L61.31 315.67L61.13 316.23L60.98 316.78L60.86 317.34L60.78 317.89L60.73 318.45L60.71 319.00L60.73 319.66L60.78 320.32L60.86 320.98L60.98 321.64L61.13 322.30L61.31 322.95L61.52 323.61L61.76 324.27L62.03 324.93L62.32 325.59L62.64 326.25L62.97 326.91L63.32 327.57L63.68 328.23L64.05 328.89L64.43 329.55L64.80 330.20L65.16 330.86L65.50 331.52L65.80 332.18L66.05 332.84L66.20 333.50L66.20 333.50Z" fill="#e64b35" stroke="#5a3028" stroke-width="0.45"/><path d="M66.20 304.40L66.20 304.40L66.35 304.77L66.60 305.14L66.92 305.50L67.26 305.87L67.63 306.24L68.01 306.61L68.39 306.98L68.77 307.35L69.14 307.71L69.50 308.08L69.84 308.45L70.16 308.82L70.45 309.19L70.73 309.55L70.97 309.92L71.19 310.29L71.37 310.66L71.52 311.03L71.64 311.40L71.73 311.76L71.78 312.13L71.80 312.50L71.78 312.98L71.73 313.45L71.64 313.93L71.52 314.41L71.37 314.89L71.19 315.36L70.97 315.84L70.73 316.32L70.45 316.80L70.16 317.27L69.84 317.75L69.50 318.23L69.14 318.70L68.77 319.18L68.39 319.66L68.01 320.14L67.63 320.61L67.26 321.09L66.92 321.57L66.60 322.05L66.35 322.52L66.20 323.00L66.20 323.00Z" fill="#4dbbd5" stroke="#2f5a66" stroke-width="0.45"/><line x1="65.85" y1="315.50" x2="65.85" y2="322.50" stroke="#333" stroke-width="0.5"/><line x1="66.55" y1="309.00" x2="66.55" y2="316.00" stroke="#333" stroke-width="0.5"/><circle cx="65.70" cy="319.00" r="0.75" fill="#111"/><circle cx="66.70" cy="312.50" r="0.75" fill="#111"/><line x1="75.9" y1="299.5" x2="75.9" y2="334.3" stroke="#808080" stroke-width="0.95"/><path d="M75.90 300.30L75.90 300.30L75.77 301.07L75.54 301.85L75.27 302.62L74.96 303.39L74.64 304.16L74.31 304.94L73.97 305.71L73.64 306.48L73.31 307.25L73.00 308.03L72.70 308.80L72.42 309.57L72.16 310.35L71.92 311.12L71.70 311.89L71.51 312.66L71.35 313.44L71.21 314.21L71.11 314.98L71.03 315.75L70.99 316.53L70.97 317.30L70.99 318.00L71.03 318.70L71.11 319.40L71.21 320.10L71.35 320.80L71.51 321.50L71.70 322.20L71.92 322.90L72.16 323.60L72.42 324.30L72.70 325.00L73.00 325.70L73.31 326.40L73.64 327.10L73.97 327.80L74.31 328.50L74.64 329.20L74.96 329.90L75.27 330.60L75.54 331.30L75.77 332.00L75.90 332.70L75.90 332.70Z" fill="#e64b35" stroke="#5a3028" stroke-width="0.45"/><path d="M75.90 318.10L75.90 318.10L76.03 318.25L76.26 318.40L76.55 318.55L76.86 318.70L77.19 318.85L77.53 319.00L77.87 319.15L78.21 319.30L78.55 319.45L78.87 319.60L79.17 319.75L79.46 319.90L79.73 320.05L79.97 320.20L80.19 320.35L80.39 320.50L80.55 320.65L80.69 320.80L80.80 320.95L80.88 321.10L80.92 321.25L80.94 321.40L80.92 321.55L80.88 321.69L80.80 321.84L80.69 321.98L80.55 322.13L80.39 322.27L80.19 322.42L79.97 322.56L79.73 322.71L79.46 322.85L79.17 323.00L78.87 323.15L78.55 323.29L78.21 323.44L77.87 323.58L77.53 323.73L77.19 323.87L76.86 324.02L76.55 324.16L76.26 324.31L76.03 324.45L75.90 324.60L75.90 324.60Z" fill="#4dbbd5" stroke="#2f5a66" stroke-width="0.45"/><line x1="75.55" y1="313.80" x2="75.55" y2="320.80" stroke="#333" stroke-width="0.5"/><line x1="76.25" y1="317.90" x2="76.25" y2="324.90" stroke="#333" stroke-width="0.5"/><circle cx="75.40" cy="317.30" r="0.75" fill="#111"/><circle cx="76.40" cy="321.40" r="0.75" fill="#111"/><line x1="85.6" y1="300.3" x2="85.6" y2="334.3" stroke="#808080" stroke-width="0.95"/><path d="M85.60 311.70L85.60 311.70L85.48 312.07L85.26 312.44L85.00 312.80L84.71 313.17L84.40 313.54L84.08 313.91L83.76 314.28L83.44 314.65L83.13 315.01L82.83 315.38L82.54 315.75L82.28 316.12L82.03 316.49L81.80 316.85L81.59 317.22L81.41 317.59L81.26 317.96L81.13 318.33L81.03 318.70L80.95 319.06L80.91 319.43L80.90 319.80L80.91 320.17L80.95 320.54L81.03 320.90L81.13 321.27L81.26 321.64L81.41 322.01L81.59 322.38L81.80 322.75L82.03 323.11L82.28 323.48L82.54 323.85L82.83 324.22L83.13 324.59L83.44 324.95L83.76 325.32L84.08 325.69L84.40 326.06L84.71 326.43L85.00 326.80L85.26 327.16L85.48 327.53L85.60 327.90L85.60 327.90Z" fill="#e64b35" stroke="#5a3028" stroke-width="0.45"/><path d="M85.60 306.00L85.60 306.00L85.75 306.44L86.00 306.88L86.32 307.32L86.66 307.76L87.03 308.20L87.41 308.65L87.79 309.09L88.17 309.53L88.54 309.97L88.90 310.41L89.24 310.85L89.56 311.29L89.85 311.73L90.13 312.17L90.37 312.61L90.59 313.05L90.77 313.50L90.92 313.94L91.04 314.38L91.13 314.82L91.18 315.26L91.20 315.70L91.18 316.33L91.13 316.95L91.04 317.58L90.92 318.21L90.77 318.84L90.59 319.46L90.37 320.09L90.13 320.72L89.85 321.35L89.56 321.97L89.24 322.60L88.90 323.23L88.54 323.85L88.17 324.48L87.79 325.11L87.41 325.74L87.03 326.36L86.66 326.99L86.32 327.62L86.00 328.25L85.75 328.87L85.60 329.50L85.60 329.50Z" fill="#4dbbd5" stroke="#2f5a66" stroke-width="0.45"/><line x1="85.25" y1="316.30" x2="85.25" y2="323.30" stroke="#333" stroke-width="0.5"/><line x1="85.95" y1="312.20" x2="85.95" y2="319.20" stroke="#333" stroke-width="0.5"/><circle cx="85.10" cy="319.80" r="0.75" fill="#111"/><circle cx="86.10" cy="315.70" r="0.75" fill="#111"/><line x1="95.3" y1="300.3" x2="95.3" y2="334.3" stroke="#808080" stroke-width="0.95"/><path d="M95.30 311.00L95.30 311.00L95.17 311.40L94.94 311.80L94.67 312.20L94.36 312.60L94.04 313.00L93.71 313.40L93.37 313.80L93.04 314.20L92.71 314.60L92.40 315.00L92.10 315.40L91.82 315.80L91.56 316.20L91.32 316.60L91.10 317.00L90.91 317.40L90.75 317.80L90.61 318.20L90.51 318.60L90.43 319.00L90.39 319.40L90.37 319.80L90.39 320.26L90.43 320.73L90.51 321.19L90.61 321.65L90.75 322.12L90.91 322.58L91.10 323.05L91.32 323.51L91.56 323.97L91.82 324.44L92.10 324.90L92.40 325.36L92.71 325.83L93.04 326.29L93.37 326.75L93.71 327.22L94.04 327.68L94.36 328.15L94.67 328.61L94.94 329.07L95.17 329.54L95.30 330.00L95.30 330.00Z" fill="#e64b35" stroke="#5a3028" stroke-width="0.45"/><path d="M95.30 306.00L95.30 306.00L95.45 306.44L95.70 306.88L96.02 307.32L96.36 307.76L96.73 308.20L97.11 308.65L97.49 309.09L97.87 309.53L98.24 309.97L98.60 310.41L98.94 310.85L99.26 311.29L99.55 311.73L99.83 312.17L100.07 312.61L100.29 313.05L100.47 313.50L100.62 313.94L100.74 314.38L100.83 314.82L100.88 315.26L100.90 315.70L100.88 316.35L100.83 317.00L100.74 317.65L100.62 318.30L100.47 318.95L100.29 319.60L100.07 320.25L99.83 320.90L99.55 321.55L99.26 322.20L98.94 322.85L98.60 323.50L98.24 324.15L97.87 324.80L97.49 325.45L97.11 326.10L96.73 326.75L96.36 327.40L96.02 328.05L95.70 328.70L95.45 329.35L95.30 330.00L95.30 330.00Z" fill="#4dbbd5" stroke="#2f5a66" stroke-width="0.45"/><line x1="94.95" y1="316.30" x2="94.95" y2="323.30" stroke="#333" stroke-width="0.5"/><line x1="95.65" y1="312.20" x2="95.65" y2="319.20" stroke="#333" stroke-width="0.5"/><circle cx="94.80" cy="319.80" r="0.75" fill="#111"/><circle cx="95.80" cy="315.70" r="0.75" fill="#111"/><line x1="105.0" y1="293.8" x2="105.0" y2="336.8" stroke="#808080" stroke-width="0.95"/><path d="M105.00 305.20L105.00 305.20L104.87 305.75L104.64 306.30L104.37 306.85L104.06 307.40L103.74 307.95L103.41 308.50L103.07 309.05L102.74 309.60L102.41 310.15L102.10 310.70L101.80 311.25L101.52 311.80L101.26 312.35L101.02 312.90L100.80 313.45L100.61 314.00L100.45 314.55L100.31 315.10L100.21 315.65L100.13 316.20L100.09 316.75L100.07 317.30L100.09 318.00L100.13 318.70L100.21 319.40L100.31 320.10L100.45 320.80L100.61 321.50L100.80 322.20L101.02 322.90L101.26 323.60L101.52 324.30L101.80 325.00L102.10 325.70L102.41 326.40L102.74 327.10L103.07 327.80L103.41 328.50L103.74 329.20L104.06 329.90L104.37 330.60L104.64 331.30L104.87 332.00L105.00 332.70L105.00 332.70Z" fill="#e64b35" stroke="#5a3028" stroke-width="0.45"/><path d="M105.00 304.40L105.00 304.40L105.15 304.88L105.40 305.35L105.72 305.83L106.06 306.31L106.43 306.79L106.81 307.26L107.19 307.74L107.57 308.22L107.94 308.70L108.30 309.17L108.64 309.65L108.96 310.13L109.25 310.60L109.53 311.08L109.77 311.56L109.99 312.04L110.17 312.51L110.32 312.99L110.44 313.47L110.53 313.95L110.58 314.42L110.60 314.90L110.58 315.49L110.53 316.08L110.44 316.67L110.32 317.26L110.17 317.85L109.99 318.45L109.77 319.04L109.53 319.63L109.25 320.22L108.96 320.81L108.64 321.40L108.30 321.99L107.94 322.58L107.57 323.17L107.19 323.76L106.81 324.35L106.43 324.95L106.06 325.54L105.72 326.13L105.40 326.72L105.15 327.31L105.00 327.90L105.00 327.90Z" fill="#4dbbd5" stroke="#2f5a66" stroke-width="0.45"/><line x1="104.65" y1="313.80" x2="104.65" y2="320.80" stroke="#333" stroke-width="0.5"/><line x1="105.35" y1="311.40" x2="105.35" y2="318.40" stroke="#333" stroke-width="0.5"/><circle cx="104.50" cy="317.30" r="0.75" fill="#111"/><circle cx="105.50" cy="314.90" r="0.75" fill="#111"/><line x1="114.8" y1="285.7" x2="114.8" y2="340.0" stroke="#808080" stroke-width="0.95"/><path d="M114.80 302.70L114.80 302.70L114.67 303.15L114.44 303.59L114.15 304.04L113.84 304.48L113.51 304.93L113.17 305.37L112.83 305.82L112.49 306.26L112.15 306.71L111.83 307.15L111.53 307.60L111.24 308.05L110.97 308.49L110.73 308.94L110.51 309.38L110.31 309.83L110.15 310.27L110.01 310.72L109.90 311.16L109.82 311.61L109.78 312.05L109.76 312.50L109.78 312.98L109.82 313.45L109.90 313.93L110.01 314.41L110.15 314.89L110.31 315.36L110.51 315.84L110.73 316.32L110.97 316.80L111.24 317.27L111.53 317.75L111.83 318.23L112.15 318.70L112.49 319.18L112.83 319.66L113.17 320.14L113.51 320.61L113.84 321.09L114.15 321.57L114.44 322.05L114.67 322.52L114.80 323.00L114.80 323.00Z" fill="#e64b35" stroke="#5a3028" stroke-width="0.45"/><path d="M114.80 306.80L114.80 306.80L114.93 307.31L115.16 307.83L115.43 308.34L115.74 308.85L116.06 309.37L116.39 309.88L116.73 310.40L117.06 310.91L117.39 311.42L117.70 311.94L118.00 312.45L118.28 312.96L118.54 313.48L118.78 313.99L119.00 314.50L119.19 315.02L119.35 315.53L119.49 316.05L119.59 316.56L119.67 317.07L119.71 317.59L119.73 318.10L119.71 318.76L119.67 319.43L119.59 320.09L119.49 320.75L119.35 321.42L119.19 322.08L119.00 322.75L118.78 323.41L118.54 324.07L118.28 324.74L118.00 325.40L117.70 326.06L117.39 326.73L117.06 327.39L116.73 328.05L116.39 328.72L116.06 329.38L115.74 330.05L115.43 330.71L115.16 331.37L114.93 332.04L114.80 332.70L114.80 332.70Z" fill="#4dbbd5" stroke="#2f5a66" stroke-width="0.45"/><line x1="114.45" y1="309.00" x2="114.45" y2="316.00" stroke="#333" stroke-width="0.5"/><line x1="115.15" y1="314.60" x2="115.15" y2="321.60" stroke="#333" stroke-width="0.5"/><circle cx="114.30" cy="312.50" r="0.75" fill="#111"/><circle cx="115.30" cy="318.10" r="0.75" fill="#111"/><line x1="124.5" y1="285.7" x2="124.5" y2="340.0" stroke="#808080" stroke-width="0.95"/><path d="M124.50 300.00L124.50 300.00L124.38 300.60L124.16 301.21L123.90 301.81L123.61 302.42L123.30 303.02L122.98 303.63L122.66 304.23L122.34 304.84L122.03 305.44L121.73 306.05L121.44 306.65L121.18 307.25L120.93 307.86L120.70 308.46L120.49 309.07L120.31 309.67L120.16 310.28L120.03 310.88L119.93 311.49L119.85 312.09L119.81 312.70L119.80 313.30L119.81 313.83L119.85 314.36L119.93 314.90L120.03 315.43L120.16 315.96L120.31 316.49L120.49 317.02L120.70 317.55L120.93 318.09L121.18 318.62L121.44 319.15L121.73 319.68L122.03 320.21L122.34 320.75L122.66 321.28L122.98 321.81L123.30 322.34L123.61 322.87L123.90 323.40L124.16 323.94L124.38 324.47L124.50 325.00L124.50 325.00Z" fill="#e64b35" stroke="#5a3028" stroke-width="0.45"/><path d="M124.50 303.00L124.50 303.00L124.65 303.58L124.90 304.15L125.20 304.73L125.54 305.31L125.90 305.89L126.27 306.46L126.65 307.04L127.02 307.62L127.38 308.20L127.73 308.77L128.06 309.35L128.38 309.93L128.67 310.50L128.94 311.08L129.18 311.66L129.39 312.24L129.57 312.81L129.72 313.39L129.84 313.97L129.92 314.55L129.97 315.12L129.99 315.70L129.97 316.49L129.92 317.27L129.84 318.06L129.72 318.85L129.57 319.63L129.39 320.42L129.18 321.20L128.94 321.99L128.67 322.78L128.38 323.56L128.06 324.35L127.73 325.14L127.38 325.92L127.02 326.71L126.65 327.50L126.27 328.28L125.90 329.07L125.54 329.85L125.20 330.64L124.90 331.43L124.65 332.21L124.50 333.00L124.50 333.00Z" fill="#4dbbd5" stroke="#2f5a66" stroke-width="0.45"/><line x1="124.15" y1="309.80" x2="124.15" y2="316.80" stroke="#333" stroke-width="0.5"/><line x1="124.85" y1="312.20" x2="124.85" y2="319.20" stroke="#333" stroke-width="0.5"/><circle cx="124.00" cy="313.30" r="0.75" fill="#111"/><circle cx="125.00" cy="315.70" r="0.75" fill="#111"/><line x1="134.4" y1="300.3" x2="134.4" y2="335.2" stroke="#808080" stroke-width="0.95"/><path d="M134.40 311.00L134.40 311.00L134.28 311.40L134.06 311.80L133.80 312.20L133.51 312.60L133.20 313.00L132.88 313.40L132.56 313.80L132.24 314.20L131.93 314.60L131.63 315.00L131.34 315.40L131.08 315.80L130.83 316.20L130.60 316.60L130.39 317.00L130.21 317.40L130.06 317.80L129.93 318.20L129.83 318.60L129.75 319.00L129.71 319.40L129.70 319.80L129.71 320.39L129.75 320.97L129.83 321.56L129.93 322.15L130.06 322.73L130.21 323.32L130.39 323.90L130.60 324.49L130.83 325.08L131.08 325.66L131.34 326.25L131.63 326.84L131.93 327.42L132.24 328.01L132.56 328.60L132.88 329.18L133.20 329.77L133.51 330.35L133.80 330.94L134.06 331.53L134.28 332.11L134.40 332.70L134.40 332.70Z" fill="#e64b35" stroke="#5a3028" stroke-width="0.45"/><path d="M134.40 306.80L134.40 306.80L134.55 307.24L134.80 307.68L135.10 308.12L135.44 308.56L135.80 309.00L136.17 309.45L136.55 309.89L136.92 310.33L137.28 310.77L137.63 311.21L137.96 311.65L138.28 312.09L138.57 312.53L138.84 312.97L139.08 313.41L139.29 313.85L139.47 314.30L139.62 314.74L139.74 315.18L139.82 315.62L139.87 316.06L139.89 316.50L139.87 317.02L139.82 317.54L139.74 318.05L139.62 318.57L139.47 319.09L139.29 319.61L139.08 320.13L138.84 320.65L138.57 321.16L138.28 321.68L137.96 322.20L137.63 322.72L137.28 323.24L136.92 323.75L136.55 324.27L136.17 324.79L135.80 325.31L135.44 325.83L135.10 326.35L134.80 326.86L134.55 327.38L134.40 327.90L134.40 327.90Z" fill="#4dbbd5" stroke="#2f5a66" stroke-width="0.45"/><line x1="134.05" y1="316.30" x2="134.05" y2="323.30" stroke="#333" stroke-width="0.5"/><line x1="134.75" y1="313.00" x2="134.75" y2="320.00" stroke="#333" stroke-width="0.5"/><circle cx="133.90" cy="319.80" r="0.75" fill="#111"/><circle cx="134.90" cy="316.50" r="0.75" fill="#111"/><line x1="144.5" y1="292.2" x2="144.5" y2="337.6" stroke="#808080" stroke-width="0.95"/><path d="M144.50 303.60L144.50 303.60L144.37 303.97L144.14 304.34L143.85 304.70L143.54 305.07L143.21 305.44L142.87 305.81L142.53 306.18L142.19 306.55L141.85 306.91L141.53 307.28L141.23 307.65L140.94 308.02L140.67 308.39L140.43 308.75L140.21 309.12L140.01 309.49L139.85 309.86L139.71 310.23L139.60 310.60L139.52 310.96L139.48 311.33L139.46 311.70L139.48 312.14L139.52 312.58L139.60 313.02L139.71 313.46L139.85 313.90L140.01 314.35L140.21 314.79L140.43 315.23L140.67 315.67L140.94 316.11L141.23 316.55L141.53 316.99L141.85 317.43L142.19 317.87L142.53 318.31L142.87 318.75L143.21 319.20L143.54 319.64L143.85 320.08L144.14 320.52L144.37 320.96L144.50 321.40L144.50 321.40Z" fill="#e64b35" stroke="#5a3028" stroke-width="0.45"/><path d="M144.50 298.70L144.50 298.70L144.63 299.25L144.86 299.80L145.15 300.35L145.46 300.90L145.79 301.45L146.13 302.00L146.47 302.55L146.81 303.10L147.15 303.65L147.47 304.20L147.77 304.75L148.06 305.30L148.33 305.85L148.57 306.40L148.79 306.95L148.99 307.50L149.15 308.05L149.29 308.60L149.40 309.15L149.48 309.70L149.52 310.25L149.54 310.80L149.52 311.35L149.48 311.91L149.40 312.46L149.29 313.02L149.15 313.57L148.99 314.13L148.79 314.68L148.57 315.24L148.33 315.79L148.06 316.35L147.77 316.90L147.47 317.45L147.15 318.01L146.81 318.56L146.47 319.12L146.13 319.67L145.79 320.23L145.46 320.78L145.15 321.34L144.86 321.89L144.63 322.45L144.50 323.00L144.50 323.00Z" fill="#4dbbd5" stroke="#2f5a66" stroke-width="0.45"/><line x1="144.15" y1="308.20" x2="144.15" y2="315.20" stroke="#333" stroke-width="0.5"/><line x1="144.85" y1="307.30" x2="144.85" y2="314.30" stroke="#333" stroke-width="0.5"/><circle cx="144.00" cy="311.70" r="0.75" fill="#111"/><circle cx="145.00" cy="310.80" r="0.75" fill="#111"/><line x1="154.3" y1="292.2" x2="154.3" y2="337.6" stroke="#808080" stroke-width="0.95"/><path d="M154.30 302.00L154.30 302.00L154.17 302.55L153.94 303.10L153.65 303.65L153.34 304.20L153.01 304.75L152.67 305.30L152.33 305.85L151.99 306.40L151.65 306.95L151.33 307.50L151.03 308.05L150.74 308.60L150.47 309.15L150.23 309.70L150.01 310.25L149.81 310.80L149.65 311.35L149.51 311.90L149.40 312.45L149.32 313.00L149.28 313.55L149.26 314.10L149.28 314.73L149.32 315.35L149.40 315.98L149.51 316.61L149.65 317.24L149.81 317.86L150.01 318.49L150.23 319.12L150.47 319.75L150.74 320.37L151.03 321.00L151.33 321.63L151.65 322.25L151.99 322.88L152.33 323.51L152.67 324.14L153.01 324.76L153.34 325.39L153.65 326.02L153.94 326.65L154.17 327.27L154.30 327.90L154.30 327.90Z" fill="#e64b35" stroke="#5a3028" stroke-width="0.45"/><path d="M154.30 298.70L154.30 298.70L154.45 299.25L154.70 299.80L155.00 300.35L155.34 300.90L155.70 301.45L156.07 302.00L156.45 302.55L156.82 303.10L157.18 303.65L157.53 304.20L157.86 304.75L158.18 305.30L158.47 305.85L158.74 306.40L158.98 306.95L159.19 307.50L159.37 308.05L159.52 308.60L159.64 309.15L159.72 309.70L159.77 310.25L159.79 310.80L159.77 311.43L159.72 312.05L159.64 312.68L159.52 313.31L159.37 313.94L159.19 314.56L158.98 315.19L158.74 315.82L158.47 316.45L158.18 317.07L157.86 317.70L157.53 318.33L157.18 318.95L156.82 319.58L156.45 320.21L156.07 320.84L155.70 321.46L155.34 322.09L155.00 322.72L154.70 323.35L154.45 323.97L154.30 324.60L154.30 324.60Z" fill="#4dbbd5" stroke="#2f5a66" stroke-width="0.45"/><line x1="153.95" y1="310.60" x2="153.95" y2="317.60" stroke="#333" stroke-width="0.5"/><line x1="154.65" y1="307.30" x2="154.65" y2="314.30" stroke="#333" stroke-width="0.5"/><circle cx="153.80" cy="314.10" r="0.75" fill="#111"/><circle cx="154.80" cy="310.80" r="0.75" fill="#111"/><line x1="164.0" y1="292.2" x2="164.0" y2="337.6" stroke="#808080" stroke-width="0.95"/><path d="M164.00 305.00L164.00 305.00L163.87 305.45L163.64 305.90L163.35 306.35L163.04 306.80L162.71 307.25L162.37 307.70L162.03 308.15L161.69 308.60L161.35 309.05L161.03 309.50L160.73 309.95L160.44 310.40L160.17 310.85L159.93 311.30L159.71 311.75L159.51 312.20L159.35 312.65L159.21 313.10L159.10 313.55L159.02 314.00L158.98 314.45L158.96 314.90L158.98 315.59L159.02 316.27L159.10 316.96L159.21 317.65L159.35 318.33L159.51 319.02L159.71 319.70L159.93 320.39L160.17 321.08L160.44 321.76L160.73 322.45L161.03 323.14L161.35 323.82L161.69 324.51L162.03 325.20L162.37 325.88L162.71 326.57L163.04 327.25L163.35 327.94L163.64 328.63L163.87 329.31L164.00 330.00L164.00 330.00Z" fill="#e64b35" stroke="#5a3028" stroke-width="0.45"/><path d="M164.00 299.00L164.00 299.00L164.15 299.54L164.40 300.07L164.70 300.61L165.04 301.15L165.40 301.68L165.77 302.22L166.15 302.75L166.52 303.29L166.88 303.83L167.23 304.36L167.56 304.90L167.88 305.44L168.17 305.97L168.44 306.51L168.68 307.05L168.89 307.58L169.07 308.12L169.22 308.65L169.34 309.19L169.42 309.73L169.47 310.26L169.49 310.80L169.47 311.45L169.42 312.09L169.34 312.74L169.22 313.38L169.07 314.03L168.89 314.67L168.68 315.32L168.44 315.96L168.17 316.61L167.88 317.25L167.56 317.90L167.23 318.55L166.88 319.19L166.52 319.84L166.15 320.48L165.77 321.13L165.40 321.77L165.04 322.42L164.70 323.06L164.40 323.71L164.15 324.35L164.00 325.00L164.00 325.00Z" fill="#4dbbd5" stroke="#2f5a66" stroke-width="0.45"/><line x1="163.65" y1="311.40" x2="163.65" y2="318.40" stroke="#333" stroke-width="0.5"/><line x1="164.35" y1="307.30" x2="164.35" y2="314.30" stroke="#333" stroke-width="0.5"/><circle cx="163.50" cy="314.90" r="0.75" fill="#111"/><circle cx="164.50" cy="310.80" r="0.75" fill="#111"/><line x1="173.8" y1="292.2" x2="173.8" y2="337.6" stroke="#808080" stroke-width="0.95"/><path d="M173.80 303.00L173.80 303.00L173.67 303.50L173.44 304.01L173.15 304.51L172.84 305.02L172.51 305.52L172.17 306.03L171.83 306.53L171.49 307.04L171.15 307.54L170.83 308.05L170.53 308.55L170.24 309.05L169.97 309.56L169.73 310.06L169.51 310.57L169.31 311.07L169.15 311.58L169.01 312.08L168.90 312.59L168.82 313.09L168.78 313.60L168.76 314.10L168.78 314.82L168.82 315.55L168.90 316.27L169.01 316.99L169.15 317.71L169.31 318.44L169.51 319.16L169.73 319.88L169.97 320.60L170.24 321.33L170.53 322.05L170.83 322.77L171.15 323.50L171.49 324.22L171.83 324.94L172.17 325.66L172.51 326.39L172.84 327.11L173.15 327.83L173.44 328.55L173.67 329.28L173.80 330.00L173.80 330.00Z" fill="#e64b35" stroke="#5a3028" stroke-width="0.45"/><path d="M173.80 299.00L173.80 299.00L173.95 299.58L174.20 300.15L174.50 300.73L174.84 301.31L175.20 301.89L175.57 302.46L175.95 303.04L176.32 303.62L176.68 304.20L177.03 304.77L177.36 305.35L177.68 305.93L177.97 306.50L178.24 307.08L178.48 307.66L178.69 308.24L178.87 308.81L179.02 309.39L179.14 309.97L179.22 310.55L179.27 311.12L179.29 311.70L179.27 312.30L179.22 312.91L179.14 313.51L179.02 314.12L178.87 314.72L178.69 315.33L178.48 315.93L178.24 316.54L177.97 317.14L177.68 317.75L177.36 318.35L177.03 318.95L176.68 319.56L176.32 320.16L175.95 320.77L175.57 321.37L175.20 321.98L174.84 322.58L174.50 323.19L174.20 323.79L173.95 324.40L173.80 325.00L173.80 325.00Z" fill="#4dbbd5" stroke="#2f5a66" stroke-width="0.45"/><line x1="173.45" y1="310.60" x2="173.45" y2="317.60" stroke="#333" stroke-width="0.5"/><line x1="174.15" y1="308.20" x2="174.15" y2="315.20" stroke="#333" stroke-width="0.5"/><circle cx="173.30" cy="314.10" r="0.75" fill="#111"/><circle cx="174.30" cy="311.70" r="0.75" fill="#111"/><line x1="183.5" y1="291.4" x2="183.5" y2="331.9" stroke="#808080" stroke-width="0.95"/><path d="M183.50 293.80L183.50 293.80L183.37 294.32L183.14 294.84L182.85 295.35L182.54 295.87L182.21 296.39L181.87 296.91L181.53 297.43L181.19 297.95L180.85 298.46L180.53 298.98L180.23 299.50L179.94 300.02L179.67 300.54L179.43 301.05L179.21 301.57L179.01 302.09L178.85 302.61L178.71 303.13L178.60 303.65L178.52 304.16L178.48 304.68L178.46 305.20L178.48 305.83L178.52 306.45L178.60 307.08L178.71 307.71L178.85 308.34L179.01 308.96L179.21 309.59L179.43 310.22L179.67 310.85L179.94 311.47L180.23 312.10L180.53 312.73L180.85 313.35L181.19 313.98L181.53 314.61L181.87 315.24L182.21 315.86L182.54 316.49L182.85 317.12L183.14 317.75L183.37 318.37L183.50 319.00L183.50 319.00Z" fill="#e64b35" stroke="#5a3028" stroke-width="0.45"/><path d="M183.50 319.00L183.50 319.00L183.65 319.25L183.90 319.51L184.20 319.76L184.54 320.02L184.90 320.27L185.27 320.53L185.65 320.78L186.02 321.04L186.38 321.29L186.73 321.55L187.06 321.80L187.38 322.05L187.67 322.31L187.94 322.56L188.18 322.82L188.39 323.07L188.57 323.33L188.72 323.58L188.84 323.84L188.92 324.09L188.97 324.35L188.99 324.60L188.97 324.93L188.92 325.26L188.84 325.60L188.72 325.93L188.57 326.26L188.39 326.59L188.18 326.92L187.94 327.25L187.67 327.59L187.38 327.92L187.06 328.25L186.73 328.58L186.38 328.91L186.02 329.25L185.65 329.58L185.27 329.91L184.90 330.24L184.54 330.57L184.20 330.90L183.90 331.24L183.65 331.57L183.50 331.90L183.50 331.90Z" fill="#4dbbd5" stroke="#2f5a66" stroke-width="0.45"/><line x1="183.15" y1="301.70" x2="183.15" y2="308.70" stroke="#333" stroke-width="0.5"/><line x1="183.85" y1="321.10" x2="183.85" y2="328.10" stroke="#333" stroke-width="0.5"/><circle cx="183.00" cy="305.20" r="0.75" fill="#111"/><circle cx="184.00" cy="324.60" r="0.75" fill="#111"/><line x1="193.6" y1="285.7" x2="193.6" y2="339.2" stroke="#808080" stroke-width="0.95"/><path d="M193.60 307.60L193.60 307.60L193.47 307.90L193.24 308.19L192.97 308.49L192.66 308.78L192.34 309.08L192.01 309.37L191.67 309.67L191.34 309.96L191.01 310.26L190.70 310.55L190.40 310.85L190.12 311.15L189.86 311.44L189.62 311.74L189.40 312.03L189.21 312.33L189.05 312.62L188.91 312.92L188.81 313.21L188.73 313.51L188.69 313.80L188.67 314.10L188.69 314.40L188.73 314.69L188.81 314.99L188.91 315.28L189.05 315.58L189.21 315.87L189.40 316.17L189.62 316.46L189.86 316.76L190.12 317.05L190.40 317.35L190.70 317.65L191.01 317.94L191.34 318.24L191.67 318.53L192.01 318.83L192.34 319.12L192.66 319.42L192.97 319.71L193.24 320.01L193.47 320.30L193.60 320.60L193.60 320.60Z" fill="#e64b35" stroke="#5a3028" stroke-width="0.45"/><path d="M193.60 303.60L193.60 303.60L193.73 304.15L193.96 304.70L194.23 305.25L194.54 305.80L194.86 306.35L195.19 306.90L195.53 307.45L195.86 308.00L196.19 308.55L196.50 309.10L196.80 309.65L197.08 310.20L197.34 310.75L197.58 311.30L197.80 311.85L197.99 312.40L198.15 312.95L198.29 313.50L198.39 314.05L198.47 314.60L198.51 315.15L198.53 315.70L198.51 316.40L198.47 317.10L198.39 317.80L198.29 318.50L198.15 319.20L197.99 319.90L197.80 320.60L197.58 321.30L197.34 322.00L197.08 322.70L196.80 323.40L196.50 324.10L196.19 324.80L195.86 325.50L195.53 326.20L195.19 326.90L194.86 327.60L194.54 328.30L194.23 329.00L193.96 329.70L193.73 330.40L193.60 331.10L193.60 331.10Z" fill="#4dbbd5" stroke="#2f5a66" stroke-width="0.45"/><line x1="193.25" y1="310.60" x2="193.25" y2="317.60" stroke="#333" stroke-width="0.5"/><line x1="193.95" y1="312.20" x2="193.95" y2="319.20" stroke="#333" stroke-width="0.5"/><circle cx="193.10" cy="314.10" r="0.75" fill="#111"/><circle cx="194.10" cy="315.70" r="0.75" fill="#111"/><line x1="203.2" y1="304.4" x2="203.2" y2="333.5" stroke="#808080" stroke-width="0.95"/><path d="M203.20 313.30L203.20 313.30L203.08 313.56L202.86 313.82L202.60 314.08L202.31 314.34L202.00 314.60L201.68 314.85L201.36 315.11L201.04 315.37L200.73 315.63L200.43 315.89L200.14 316.15L199.88 316.41L199.63 316.67L199.40 316.93L199.19 317.19L199.01 317.45L198.86 317.70L198.73 317.96L198.63 318.22L198.55 318.48L198.51 318.74L198.50 319.00L198.51 319.25L198.55 319.51L198.63 319.76L198.73 320.02L198.86 320.27L199.01 320.53L199.19 320.78L199.40 321.04L199.63 321.29L199.88 321.55L200.14 321.80L200.43 322.05L200.73 322.31L201.04 322.56L201.36 322.82L201.68 323.07L202.00 323.33L202.31 323.58L202.60 323.84L202.86 324.09L203.08 324.35L203.20 324.60L203.20 324.60Z" fill="#e64b35" stroke="#5a3028" stroke-width="0.45"/><path d="M203.20 311.70L203.20 311.70L203.34 311.99L203.58 312.28L203.87 312.57L204.20 312.86L204.55 313.15L204.90 313.45L205.26 313.74L205.62 314.03L205.96 314.32L206.30 314.61L206.62 314.90L206.92 315.19L207.20 315.48L207.46 315.77L207.69 316.06L207.89 316.35L208.06 316.65L208.21 316.94L208.32 317.23L208.40 317.52L208.45 317.81L208.46 318.10L208.45 318.43L208.40 318.76L208.32 319.10L208.21 319.43L208.06 319.76L207.89 320.09L207.69 320.42L207.46 320.75L207.20 321.09L206.92 321.42L206.62 321.75L206.30 322.08L205.96 322.41L205.62 322.75L205.26 323.08L204.90 323.41L204.55 323.74L204.20 324.07L203.87 324.40L203.58 324.74L203.34 325.07L203.20 325.40L203.20 325.40Z" fill="#4dbbd5" stroke="#2f5a66" stroke-width="0.45"/><line x1="202.85" y1="315.50" x2="202.85" y2="322.50" stroke="#333" stroke-width="0.5"/><line x1="203.55" y1="314.60" x2="203.55" y2="321.60" stroke="#333" stroke-width="0.5"/><circle cx="202.70" cy="319.00" r="0.75" fill="#111"/><circle cx="203.70" cy="318.10" r="0.75" fill="#111"/><line x1="213.0" y1="295.4" x2="213.0" y2="336.8" stroke="#808080" stroke-width="0.95"/><path d="M213.00 306.80L213.00 306.80L212.87 307.20L212.64 307.61L212.37 308.01L212.06 308.42L211.74 308.82L211.41 309.23L211.07 309.63L210.74 310.04L210.41 310.44L210.10 310.85L209.80 311.25L209.52 311.65L209.26 312.06L209.02 312.46L208.80 312.87L208.61 313.27L208.45 313.68L208.31 314.08L208.21 314.49L208.13 314.89L208.09 315.30L208.07 315.70L208.09 316.25L208.13 316.81L208.21 317.36L208.31 317.92L208.45 318.47L208.61 319.03L208.80 319.58L209.02 320.14L209.26 320.69L209.52 321.25L209.80 321.80L210.10 322.35L210.41 322.91L210.74 323.46L211.07 324.02L211.41 324.57L211.74 325.13L212.06 325.68L212.37 326.24L212.64 326.79L212.87 327.35L213.00 327.90L213.00 327.90Z" fill="#e64b35" stroke="#5a3028" stroke-width="0.45"/><path d="M213.00 303.60L213.00 303.60L213.15 304.08L213.40 304.55L213.70 305.03L214.04 305.51L214.40 305.99L214.77 306.46L215.15 306.94L215.52 307.42L215.88 307.90L216.23 308.37L216.56 308.85L216.88 309.33L217.17 309.80L217.44 310.28L217.68 310.76L217.89 311.24L218.07 311.71L218.22 312.19L218.34 312.67L218.42 313.15L218.47 313.62L218.49 314.10L218.47 314.65L218.42 315.20L218.34 315.75L218.22 316.30L218.07 316.85L217.89 317.40L217.68 317.95L217.44 318.50L217.17 319.05L216.88 319.60L216.56 320.15L216.23 320.70L215.88 321.25L215.52 321.80L215.15 322.35L214.77 322.90L214.40 323.45L214.04 324.00L213.70 324.55L213.40 325.10L213.15 325.65L213.00 326.20L213.00 326.20Z" fill="#4dbbd5" stroke="#2f5a66" stroke-width="0.45"/><line x1="212.65" y1="312.20" x2="212.65" y2="319.20" stroke="#333" stroke-width="0.5"/><line x1="213.35" y1="310.60" x2="213.35" y2="317.60" stroke="#333" stroke-width="0.5"/><circle cx="212.50" cy="315.70" r="0.75" fill="#111"/><circle cx="213.50" cy="314.10" r="0.75" fill="#111"/><line x1="222.8" y1="291.4" x2="222.8" y2="337.6" stroke="#808080" stroke-width="0.95"/><path d="M222.80 305.20L222.80 305.20L222.67 305.75L222.44 306.30L222.15 306.85L221.84 307.40L221.51 307.95L221.17 308.50L220.83 309.05L220.49 309.60L220.15 310.15L219.83 310.70L219.53 311.25L219.24 311.80L218.97 312.35L218.73 312.90L218.51 313.45L218.31 314.00L218.15 314.55L218.01 315.10L217.90 315.65L217.82 316.20L217.78 316.75L217.76 317.30L217.78 317.85L217.82 318.41L217.90 318.96L218.01 319.52L218.15 320.07L218.31 320.63L218.51 321.18L218.73 321.74L218.97 322.29L219.24 322.85L219.53 323.40L219.83 323.95L220.15 324.51L220.49 325.06L220.83 325.62L221.17 326.17L221.51 326.73L221.84 327.28L222.15 327.84L222.44 328.39L222.67 328.95L222.80 329.50L222.80 329.50Z" fill="#e64b35" stroke="#5a3028" stroke-width="0.45"/><path d="M222.80 302.70L222.80 302.70L222.93 303.15L223.16 303.59L223.43 304.04L223.74 304.48L224.06 304.93L224.39 305.37L224.73 305.82L225.06 306.26L225.39 306.71L225.70 307.15L226.00 307.60L226.28 308.05L226.54 308.49L226.78 308.94L227.00 309.38L227.19 309.83L227.35 310.27L227.49 310.72L227.59 311.16L227.67 311.61L227.71 312.05L227.73 312.50L227.71 313.05L227.67 313.60L227.59 314.15L227.49 314.70L227.35 315.25L227.19 315.80L227.00 316.35L226.78 316.90L226.54 317.45L226.28 318.00L226.00 318.55L225.70 319.10L225.39 319.65L225.06 320.20L224.73 320.75L224.39 321.30L224.06 321.85L223.74 322.40L223.43 322.95L223.16 323.50L222.93 324.05L222.80 324.60L222.80 324.60Z" fill="#4dbbd5" stroke="#2f5a66" stroke-width="0.45"/><line x1="222.45" y1="313.80" x2="222.45" y2="320.80" stroke="#333" stroke-width="0.5"/><line x1="223.15" y1="309.00" x2="223.15" y2="316.00" stroke="#333" stroke-width="0.5"/><circle cx="222.30" cy="317.30" r="0.75" fill="#111"/><circle cx="223.30" cy="312.50" r="0.75" fill="#111"/><line x1="232.5" y1="289.8" x2="232.5" y2="338.4" stroke="#808080" stroke-width="0.95"/><path d="M232.50 301.10L232.50 301.10L232.37 301.62L232.14 302.14L231.87 302.65L231.56 303.17L231.24 303.69L230.91 304.21L230.57 304.73L230.24 305.25L229.91 305.76L229.60 306.28L229.30 306.80L229.02 307.32L228.76 307.84L228.52 308.35L228.30 308.87L228.11 309.39L227.95 309.91L227.81 310.43L227.71 310.95L227.63 311.46L227.59 311.98L227.57 312.50L227.59 313.20L227.63 313.90L227.71 314.60L227.81 315.30L227.95 316.00L228.11 316.70L228.30 317.40L228.52 318.10L228.76 318.80L229.02 319.50L229.30 320.20L229.60 320.90L229.91 321.60L230.24 322.30L230.57 323.00L230.91 323.70L231.24 324.40L231.56 325.10L231.87 325.80L232.14 326.50L232.37 327.20L232.50 327.90L232.50 327.90Z" fill="#e64b35" stroke="#5a3028" stroke-width="0.45"/><path d="M232.50 305.20L232.50 305.20L232.62 305.45L232.82 305.71L233.07 305.96L233.35 306.22L233.65 306.47L233.95 306.73L234.25 306.98L234.56 307.24L234.85 307.49L235.14 307.75L235.41 308.00L235.67 308.25L235.90 308.51L236.12 308.76L236.32 309.02L236.49 309.27L236.64 309.53L236.76 309.78L236.86 310.04L236.92 310.29L236.97 310.55L236.98 310.80L236.97 311.10L236.92 311.39L236.86 311.69L236.76 311.98L236.64 312.28L236.49 312.57L236.32 312.87L236.12 313.16L235.90 313.46L235.67 313.75L235.41 314.05L235.14 314.35L234.85 314.64L234.56 314.94L234.25 315.23L233.95 315.53L233.65 315.82L233.35 316.12L233.07 316.41L232.82 316.71L232.62 317.00L232.50 317.30L232.50 317.30Z" fill="#4dbbd5" stroke="#2f5a66" stroke-width="0.45"/><line x1="232.15" y1="309.00" x2="232.15" y2="316.00" stroke="#333" stroke-width="0.5"/><line x1="232.85" y1="307.30" x2="232.85" y2="314.30" stroke="#333" stroke-width="0.5"/><circle cx="232.00" cy="312.50" r="0.75" fill="#111"/><circle cx="233.00" cy="310.80" r="0.75" fill="#111"/><line x1="242.2" y1="303.6" x2="242.2" y2="334.3" stroke="#808080" stroke-width="0.95"/><path d="M242.20 308.40L242.20 308.40L242.07 308.77L241.84 309.14L241.57 309.50L241.26 309.87L240.94 310.24L240.61 310.61L240.27 310.98L239.94 311.35L239.61 311.71L239.30 312.08L239.00 312.45L238.72 312.82L238.46 313.19L238.22 313.55L238.00 313.92L237.81 314.29L237.65 314.66L237.51 315.03L237.41 315.40L237.33 315.76L237.29 316.13L237.27 316.50L237.29 316.87L237.33 317.24L237.41 317.60L237.51 317.97L237.65 318.34L237.81 318.71L238.00 319.08L238.22 319.45L238.46 319.81L238.72 320.18L239.00 320.55L239.30 320.92L239.61 321.29L239.94 321.65L240.27 322.02L240.61 322.39L240.94 322.76L241.26 323.13L241.57 323.50L241.84 323.86L242.07 324.23L242.20 324.60L242.20 324.60Z" fill="#e64b35" stroke="#5a3028" stroke-width="0.45"/><path d="M242.20 304.40L242.20 304.40L242.35 304.77L242.60 305.14L242.90 305.50L243.24 305.87L243.60 306.24L243.97 306.61L244.35 306.98L244.72 307.35L245.08 307.71L245.43 308.08L245.76 308.45L246.08 308.82L246.37 309.19L246.64 309.55L246.88 309.92L247.09 310.29L247.27 310.66L247.42 311.03L247.54 311.40L247.62 311.76L247.67 312.13L247.69 312.50L247.67 312.98L247.62 313.45L247.54 313.93L247.42 314.41L247.27 314.89L247.09 315.36L246.88 315.84L246.64 316.32L246.37 316.80L246.08 317.27L245.76 317.75L245.43 318.23L245.08 318.70L244.72 319.18L244.35 319.66L243.97 320.14L243.60 320.61L243.24 321.09L242.90 321.57L242.60 322.05L242.35 322.52L242.20 323.00L242.20 323.00Z" fill="#4dbbd5" stroke="#2f5a66" stroke-width="0.45"/><line x1="241.85" y1="313.00" x2="241.85" y2="320.00" stroke="#333" stroke-width="0.5"/><line x1="242.55" y1="309.00" x2="242.55" y2="316.00" stroke="#333" stroke-width="0.5"/><circle cx="241.70" cy="316.50" r="0.75" fill="#111"/><circle cx="242.70" cy="312.50" r="0.75" fill="#111"/><line x1="252.0" y1="304.4" x2="252.0" y2="327.9" stroke="#808080" stroke-width="0.95"/><path d="M252.00 309.20L252.00 309.20L251.87 309.50L251.64 309.79L251.37 310.09L251.06 310.38L250.74 310.68L250.41 310.97L250.07 311.27L249.74 311.56L249.41 311.86L249.10 312.15L248.80 312.45L248.52 312.75L248.26 313.04L248.02 313.34L247.80 313.63L247.61 313.93L247.45 314.22L247.31 314.52L247.21 314.81L247.13 315.11L247.09 315.40L247.07 315.70L247.09 316.07L247.13 316.44L247.21 316.80L247.31 317.17L247.45 317.54L247.61 317.91L247.80 318.28L248.02 318.65L248.26 319.01L248.52 319.38L248.80 319.75L249.10 320.12L249.41 320.49L249.74 320.85L250.07 321.22L250.41 321.59L250.74 321.96L251.06 322.33L251.37 322.70L251.64 323.06L251.87 323.43L252.00 323.80L252.00 323.80Z" fill="#e64b35" stroke="#5a3028" stroke-width="0.45"/><path d="M252.00 314.10L252.00 314.10L252.13 314.32L252.36 314.55L252.65 314.77L252.96 314.99L253.29 315.21L253.63 315.44L253.97 315.66L254.31 315.88L254.65 316.10L254.97 316.33L255.27 316.55L255.56 316.77L255.83 317.00L256.07 317.22L256.29 317.44L256.49 317.66L256.65 317.89L256.79 318.11L256.90 318.33L256.98 318.55L257.02 318.78L257.04 319.00L257.02 319.11L256.98 319.22L256.90 319.33L256.79 319.44L256.65 319.55L256.49 319.65L256.29 319.76L256.07 319.87L255.83 319.98L255.56 320.09L255.27 320.20L254.97 320.31L254.65 320.42L254.31 320.53L253.97 320.64L253.63 320.75L253.29 320.85L252.96 320.96L252.65 321.07L252.36 321.18L252.13 321.29L252.00 321.40L252.00 321.40Z" fill="#4dbbd5" stroke="#2f5a66" stroke-width="0.45"/><line x1="251.65" y1="312.20" x2="251.65" y2="319.20" stroke="#333" stroke-width="0.5"/><line x1="252.35" y1="315.50" x2="252.35" y2="322.50" stroke="#333" stroke-width="0.5"/><circle cx="251.50" cy="315.70" r="0.75" fill="#111"/><circle cx="252.50" cy="319.00" r="0.75" fill="#111"/><line x1="261.8" y1="300.3" x2="261.8" y2="327.9" stroke="#808080" stroke-width="0.95"/><path d="M261.80 305.00L261.80 305.00L261.67 305.34L261.44 305.68L261.17 306.02L260.86 306.36L260.54 306.70L260.21 307.05L259.87 307.39L259.54 307.73L259.21 308.07L258.90 308.41L258.60 308.75L258.32 309.09L258.06 309.43L257.82 309.77L257.60 310.11L257.41 310.45L257.25 310.80L257.11 311.14L257.01 311.48L256.93 311.82L256.89 312.16L256.87 312.50L256.89 312.87L256.93 313.24L257.01 313.60L257.11 313.97L257.25 314.34L257.41 314.71L257.60 315.08L257.82 315.45L258.06 315.81L258.32 316.18L258.60 316.55L258.90 316.92L259.21 317.29L259.54 317.65L259.87 318.02L260.21 318.39L260.54 318.76L260.86 319.13L261.17 319.50L261.44 319.86L261.67 320.23L261.80 320.60L261.80 320.60Z" fill="#e64b35" stroke="#5a3028" stroke-width="0.45"/><path d="M261.80 304.40L261.80 304.40L261.95 304.69L262.20 304.98L262.52 305.27L262.86 305.56L263.23 305.85L263.61 306.15L263.99 306.44L264.37 306.73L264.74 307.02L265.10 307.31L265.44 307.60L265.76 307.89L266.05 308.18L266.33 308.47L266.57 308.76L266.79 309.05L266.97 309.35L267.12 309.64L267.24 309.93L267.33 310.22L267.38 310.51L267.40 310.80L267.38 311.17L267.33 311.55L267.24 311.92L267.12 312.29L266.97 312.66L266.79 313.04L266.57 313.41L266.33 313.78L266.05 314.15L265.76 314.53L265.44 314.90L265.10 315.27L264.74 315.65L264.37 316.02L263.99 316.39L263.61 316.76L263.23 317.14L262.86 317.51L262.52 317.88L262.20 318.25L261.95 318.63L261.80 319.00L261.80 319.00Z" fill="#4dbbd5" stroke="#2f5a66" stroke-width="0.45"/><line x1="261.45" y1="309.00" x2="261.45" y2="316.00" stroke="#333" stroke-width="0.5"/><line x1="262.15" y1="307.30" x2="262.15" y2="314.30" stroke="#333" stroke-width="0.5"/><circle cx="261.30" cy="312.50" r="0.75" fill="#111"/><circle cx="262.30" cy="310.80" r="0.75" fill="#111"/><line x1="271.6" y1="306.8" x2="271.6" y2="332.7" stroke="#808080" stroke-width="0.95"/><path d="M271.60 313.30L271.60 313.30L271.47 313.60L271.24 313.89L270.95 314.19L270.64 314.48L270.31 314.78L269.97 315.07L269.63 315.37L269.29 315.66L268.95 315.96L268.63 316.25L268.33 316.55L268.04 316.85L267.77 317.14L267.53 317.44L267.31 317.73L267.11 318.03L266.95 318.32L266.81 318.62L266.70 318.91L266.62 319.21L266.58 319.50L266.56 319.80L266.58 320.17L266.62 320.54L266.70 320.90L266.81 321.27L266.95 321.64L267.11 322.01L267.31 322.38L267.53 322.75L267.77 323.11L268.04 323.48L268.33 323.85L268.63 324.22L268.95 324.59L269.29 324.95L269.63 325.32L269.97 325.69L270.31 326.06L270.64 326.43L270.95 326.80L271.24 327.16L271.47 327.53L271.60 327.90L271.60 327.90Z" fill="#e64b35" stroke="#5a3028" stroke-width="0.45"/><path d="M271.60 313.30L271.60 313.30L271.73 313.56L271.96 313.82L272.23 314.08L272.54 314.34L272.86 314.60L273.19 314.85L273.53 315.11L273.86 315.37L274.19 315.63L274.50 315.89L274.80 316.15L275.08 316.41L275.34 316.67L275.58 316.93L275.80 317.19L275.99 317.45L276.15 317.70L276.29 317.96L276.39 318.22L276.47 318.48L276.51 318.74L276.53 319.00L276.51 319.22L276.47 319.44L276.39 319.65L276.29 319.87L276.15 320.09L275.99 320.31L275.80 320.53L275.58 320.75L275.34 320.96L275.08 321.18L274.80 321.40L274.50 321.62L274.19 321.84L273.86 322.05L273.53 322.27L273.19 322.49L272.86 322.71L272.54 322.93L272.23 323.15L271.96 323.36L271.73 323.58L271.60 323.80L271.60 323.80Z" fill="#4dbbd5" stroke="#2f5a66" stroke-width="0.45"/><line x1="271.25" y1="316.30" x2="271.25" y2="323.30" stroke="#333" stroke-width="0.5"/><line x1="271.95" y1="315.50" x2="271.95" y2="322.50" stroke="#333" stroke-width="0.5"/><circle cx="271.10" cy="319.80" r="0.75" fill="#111"/><circle cx="272.10" cy="319.00" r="0.75" fill="#111"/><line x1="281.4" y1="295.4" x2="281.4" y2="336.0" stroke="#808080" stroke-width="0.95"/><path d="M281.40 305.00L281.40 305.00L281.27 305.60L281.04 306.19L280.75 306.79L280.44 307.38L280.11 307.98L279.77 308.57L279.43 309.17L279.09 309.76L278.75 310.36L278.43 310.95L278.13 311.55L277.84 312.15L277.57 312.74L277.33 313.34L277.11 313.93L276.91 314.53L276.75 315.12L276.61 315.72L276.50 316.31L276.42 316.91L276.38 317.50L276.36 318.10L276.38 318.80L276.42 319.50L276.50 320.20L276.61 320.90L276.75 321.60L276.91 322.30L277.11 323.00L277.33 323.70L277.57 324.40L277.84 325.10L278.13 325.80L278.43 326.50L278.75 327.20L279.09 327.90L279.43 328.60L279.77 329.30L280.11 330.00L280.44 330.70L280.75 331.40L281.04 332.10L281.27 332.80L281.40 333.50L281.40 333.50Z" fill="#e64b35" stroke="#5a3028" stroke-width="0.45"/><path d="M281.40 306.80L281.40 306.80L281.53 307.20L281.76 307.61L282.03 308.01L282.34 308.42L282.66 308.82L282.99 309.23L283.33 309.63L283.66 310.04L283.99 310.44L284.30 310.85L284.60 311.25L284.88 311.65L285.14 312.06L285.38 312.46L285.60 312.87L285.79 313.27L285.95 313.68L286.09 314.08L286.19 314.49L286.27 314.89L286.31 315.30L286.33 315.70L286.31 316.10L286.27 316.51L286.19 316.91L286.09 317.32L285.95 317.72L285.79 318.13L285.60 318.53L285.38 318.94L285.14 319.34L284.88 319.75L284.60 320.15L284.30 320.55L283.99 320.96L283.66 321.36L283.33 321.77L282.99 322.17L282.66 322.58L282.34 322.98L282.03 323.39L281.76 323.79L281.53 324.20L281.40 324.60L281.40 324.60Z" fill="#4dbbd5" stroke="#2f5a66" stroke-width="0.45"/><line x1="281.05" y1="314.60" x2="281.05" y2="321.60" stroke="#333" stroke-width="0.5"/><line x1="281.75" y1="312.20" x2="281.75" y2="319.20" stroke="#333" stroke-width="0.5"/><circle cx="280.90" cy="318.10" r="0.75" fill="#111"/><circle cx="281.90" cy="315.70" r="0.75" fill="#111"/><line x1="291.1" y1="301.1" x2="291.1" y2="333.5" stroke="#808080" stroke-width="0.95"/><path d="M291.10 310.80L291.10 310.80L290.98 311.13L290.76 311.46L290.50 311.80L290.21 312.13L289.90 312.46L289.58 312.79L289.26 313.12L288.94 313.45L288.63 313.79L288.33 314.12L288.04 314.45L287.78 314.78L287.53 315.11L287.30 315.45L287.09 315.78L286.91 316.11L286.76 316.44L286.63 316.77L286.53 317.10L286.45 317.44L286.41 317.77L286.40 318.10L286.41 318.55L286.45 318.99L286.53 319.44L286.63 319.88L286.76 320.33L286.91 320.77L287.09 321.22L287.30 321.66L287.53 322.11L287.78 322.55L288.04 323.00L288.33 323.45L288.63 323.89L288.94 324.34L289.26 324.78L289.58 325.23L289.90 325.67L290.21 326.12L290.50 326.56L290.76 327.01L290.98 327.45L291.10 327.90L291.10 327.90Z" fill="#e64b35" stroke="#5a3028" stroke-width="0.45"/><path d="M291.10 305.20L291.10 305.20L291.25 305.50L291.50 305.79L291.80 306.09L292.14 306.38L292.50 306.68L292.87 306.97L293.25 307.27L293.62 307.56L293.98 307.86L294.33 308.15L294.66 308.45L294.98 308.75L295.27 309.04L295.54 309.34L295.78 309.63L295.99 309.93L296.17 310.22L296.32 310.52L296.44 310.81L296.52 311.11L296.57 311.40L296.59 311.70L296.57 312.07L296.52 312.44L296.44 312.80L296.32 313.17L296.17 313.54L295.99 313.91L295.78 314.28L295.54 314.65L295.27 315.01L294.98 315.38L294.66 315.75L294.33 316.12L293.98 316.49L293.62 316.85L293.25 317.22L292.87 317.59L292.50 317.96L292.14 318.33L291.80 318.70L291.50 319.06L291.25 319.43L291.10 319.80L291.10 319.80Z" fill="#4dbbd5" stroke="#2f5a66" stroke-width="0.45"/><line x1="290.75" y1="314.60" x2="290.75" y2="321.60" stroke="#333" stroke-width="0.5"/><line x1="291.45" y1="308.20" x2="291.45" y2="315.20" stroke="#333" stroke-width="0.5"/><circle cx="290.60" cy="318.10" r="0.75" fill="#111"/><circle cx="291.60" cy="311.70" r="0.75" fill="#111"/><line x1="300.8" y1="293.8" x2="300.8" y2="336.8" stroke="#808080" stroke-width="0.95"/><path d="M300.80 308.40L300.80 308.40L300.67 308.88L300.44 309.36L300.15 309.85L299.84 310.33L299.51 310.81L299.17 311.29L298.83 311.77L298.49 312.25L298.15 312.74L297.83 313.22L297.53 313.70L297.24 314.18L296.97 314.66L296.73 315.15L296.51 315.63L296.31 316.11L296.15 316.59L296.01 317.07L295.90 317.55L295.82 318.04L295.78 318.52L295.76 319.00L295.78 319.62L295.82 320.25L295.90 320.87L296.01 321.49L296.15 322.11L296.31 322.74L296.51 323.36L296.73 323.98L296.97 324.60L297.24 325.23L297.53 325.85L297.83 326.47L298.15 327.10L298.49 327.72L298.83 328.34L299.17 328.96L299.51 329.59L299.84 330.21L300.15 330.83L300.44 331.45L300.67 332.08L300.80 332.70L300.80 332.70Z" fill="#e64b35" stroke="#5a3028" stroke-width="0.45"/><path d="M300.80 302.70L300.80 302.70L300.95 303.25L301.20 303.81L301.50 304.36L301.84 304.92L302.20 305.47L302.57 306.03L302.95 306.58L303.32 307.14L303.68 307.69L304.03 308.25L304.36 308.80L304.68 309.35L304.97 309.91L305.24 310.46L305.48 311.02L305.69 311.57L305.87 312.13L306.02 312.68L306.14 313.24L306.22 313.79L306.27 314.35L306.29 314.90L306.27 315.41L306.22 315.93L306.14 316.44L306.02 316.95L305.87 317.47L305.69 317.98L305.48 318.50L305.24 319.01L304.97 319.52L304.68 320.04L304.36 320.55L304.03 321.06L303.68 321.58L303.32 322.09L302.95 322.60L302.57 323.12L302.20 323.63L301.84 324.15L301.50 324.66L301.20 325.17L300.95 325.69L300.80 326.20L300.80 326.20Z" fill="#4dbbd5" stroke="#2f5a66" stroke-width="0.45"/><line x1="300.45" y1="315.50" x2="300.45" y2="322.50" stroke="#333" stroke-width="0.5"/><line x1="301.15" y1="311.40" x2="301.15" y2="318.40" stroke="#333" stroke-width="0.5"/><circle cx="300.30" cy="319.00" r="0.75" fill="#111"/><circle cx="301.30" cy="314.90" r="0.75" fill="#111"/><line x1="310.5" y1="284.9" x2="310.5" y2="328.7" stroke="#808080" stroke-width="0.95"/><path d="M310.50 308.40L310.50 308.40L310.38 308.73L310.16 309.06L309.90 309.40L309.61 309.73L309.30 310.06L308.98 310.39L308.66 310.72L308.34 311.05L308.03 311.39L307.73 311.72L307.44 312.05L307.18 312.38L306.93 312.71L306.70 313.05L306.49 313.38L306.31 313.71L306.16 314.04L306.03 314.37L305.93 314.70L305.85 315.04L305.81 315.37L305.80 315.70L305.81 316.18L305.85 316.65L305.93 317.13L306.03 317.61L306.16 318.09L306.31 318.56L306.49 319.04L306.70 319.52L306.93 320.00L307.18 320.47L307.44 320.95L307.73 321.43L308.03 321.90L308.34 322.38L308.66 322.86L308.98 323.34L309.30 323.81L309.61 324.29L309.90 324.77L310.16 325.25L310.38 325.72L310.50 326.20L310.50 326.20Z" fill="#e64b35" stroke="#5a3028" stroke-width="0.45"/><path d="M310.50 285.70L310.50 285.70L310.65 286.36L310.90 287.03L311.20 287.69L311.54 288.35L311.90 289.02L312.27 289.68L312.65 290.35L313.02 291.01L313.38 291.67L313.73 292.34L314.06 293.00L314.38 293.66L314.67 294.33L314.94 294.99L315.18 295.65L315.39 296.32L315.57 296.98L315.72 297.65L315.84 298.31L315.92 298.97L315.97 299.64L315.99 300.30L315.97 300.74L315.92 301.18L315.84 301.62L315.72 302.06L315.57 302.50L315.39 302.95L315.18 303.39L314.94 303.83L314.67 304.27L314.38 304.71L314.06 305.15L313.73 305.59L313.38 306.03L313.02 306.47L312.65 306.91L312.27 307.35L311.90 307.80L311.54 308.24L311.20 308.68L310.90 309.12L310.65 309.56L310.50 310.00L310.50 310.00Z" fill="#4dbbd5" stroke="#2f5a66" stroke-width="0.45"/><line x1="310.15" y1="312.20" x2="310.15" y2="319.20" stroke="#333" stroke-width="0.5"/><line x1="310.85" y1="296.80" x2="310.85" y2="303.80" stroke="#333" stroke-width="0.5"/><circle cx="310.00" cy="315.70" r="0.75" fill="#111"/><circle cx="311.00" cy="300.30" r="0.75" fill="#111"/><line x1="320.4" y1="291.4" x2="320.4" y2="337.6" stroke="#808080" stroke-width="0.95"/><path d="M320.40 306.00L320.40 306.00L320.27 306.30L320.04 306.59L319.77 306.89L319.46 307.18L319.14 307.48L318.81 307.77L318.47 308.07L318.14 308.36L317.81 308.66L317.50 308.95L317.20 309.25L316.92 309.55L316.66 309.84L316.42 310.14L316.20 310.43L316.01 310.73L315.85 311.02L315.71 311.32L315.61 311.61L315.53 311.91L315.49 312.20L315.47 312.50L315.49 312.86L315.53 313.23L315.61 313.59L315.71 313.95L315.85 314.32L316.01 314.68L316.20 315.05L316.42 315.41L316.66 315.77L316.92 316.14L317.20 316.50L317.50 316.86L317.81 317.23L318.14 317.59L318.47 317.95L318.81 318.32L319.14 318.68L319.46 319.05L319.77 319.41L320.04 319.77L320.27 320.14L320.40 320.50L320.40 320.50Z" fill="#e64b35" stroke="#5a3028" stroke-width="0.45"/><path d="M320.40 298.70L320.40 298.70L320.55 299.18L320.80 299.65L321.10 300.13L321.44 300.61L321.80 301.09L322.17 301.56L322.55 302.04L322.92 302.52L323.28 303.00L323.63 303.47L323.96 303.95L324.28 304.43L324.57 304.90L324.84 305.38L325.08 305.86L325.29 306.34L325.47 306.81L325.62 307.29L325.74 307.77L325.82 308.25L325.87 308.72L325.89 309.20L325.87 309.79L325.82 310.38L325.74 310.97L325.62 311.56L325.47 312.15L325.29 312.75L325.08 313.34L324.84 313.93L324.57 314.52L324.28 315.11L323.96 315.70L323.63 316.29L323.28 316.88L322.92 317.47L322.55 318.06L322.17 318.65L321.80 319.25L321.44 319.84L321.10 320.43L320.80 321.02L320.55 321.61L320.40 322.20L320.40 322.20Z" fill="#4dbbd5" stroke="#2f5a66" stroke-width="0.45"/><line x1="320.05" y1="309.00" x2="320.05" y2="316.00" stroke="#333" stroke-width="0.5"/><line x1="320.75" y1="305.70" x2="320.75" y2="312.70" stroke="#333" stroke-width="0.5"/><circle cx="319.90" cy="312.50" r="0.75" fill="#111"/><circle cx="320.90" cy="309.20" r="0.75" fill="#111"/><line x1="330.2" y1="287.3" x2="330.2" y2="336.8" stroke="#808080" stroke-width="0.95"/><path d="M330.20 298.70L330.20 298.70L330.08 299.36L329.86 300.03L329.60 300.69L329.31 301.35L329.00 302.02L328.68 302.68L328.36 303.35L328.04 304.01L327.73 304.67L327.43 305.34L327.14 306.00L326.88 306.66L326.63 307.33L326.40 307.99L326.19 308.65L326.01 309.32L325.86 309.98L325.73 310.65L325.63 311.31L325.55 311.97L325.51 312.64L325.50 313.30L325.51 314.04L325.55 314.77L325.63 315.51L325.73 316.25L325.86 316.98L326.01 317.72L326.19 318.45L326.40 319.19L326.63 319.93L326.88 320.66L327.14 321.40L327.43 322.14L327.73 322.87L328.04 323.61L328.36 324.35L328.68 325.08L329.00 325.82L329.31 326.55L329.60 327.29L329.86 328.03L330.08 328.76L330.20 329.50L330.20 329.50Z" fill="#e64b35" stroke="#5a3028" stroke-width="0.45"/><path d="M330.20 310.80L330.20 310.80L330.35 310.99L330.60 311.17L330.90 311.36L331.24 311.55L331.60 311.73L331.97 311.92L332.35 312.10L332.72 312.29L333.08 312.48L333.43 312.66L333.76 312.85L334.08 313.04L334.37 313.22L334.64 313.41L334.88 313.60L335.09 313.78L335.27 313.97L335.42 314.15L335.54 314.34L335.62 314.53L335.67 314.71L335.69 314.90L335.67 315.09L335.62 315.27L335.54 315.46L335.42 315.65L335.27 315.83L335.09 316.02L334.88 316.20L334.64 316.39L334.37 316.58L334.08 316.76L333.76 316.95L333.43 317.14L333.08 317.32L332.72 317.51L332.35 317.70L331.97 317.88L331.60 318.07L331.24 318.25L330.90 318.44L330.60 318.63L330.35 318.81L330.20 319.00L330.20 319.00Z" fill="#4dbbd5" stroke="#2f5a66" stroke-width="0.45"/><line x1="329.85" y1="309.80" x2="329.85" y2="316.80" stroke="#333" stroke-width="0.5"/><line x1="330.55" y1="311.40" x2="330.55" y2="318.40" stroke="#333" stroke-width="0.5"/><circle cx="329.70" cy="313.30" r="0.75" fill="#111"/><circle cx="330.70" cy="314.90" r="0.75" fill="#111"/><line x1="340.0" y1="301.9" x2="340.0" y2="331.9" stroke="#808080" stroke-width="0.95"/><path d="M340.00 306.80L340.00 306.80L339.87 307.13L339.64 307.46L339.37 307.80L339.06 308.13L338.74 308.46L338.41 308.79L338.07 309.12L337.74 309.45L337.41 309.79L337.10 310.12L336.80 310.45L336.52 310.78L336.26 311.11L336.02 311.45L335.80 311.78L335.61 312.11L335.45 312.44L335.31 312.77L335.21 313.10L335.13 313.44L335.09 313.77L335.07 314.10L335.09 314.50L335.13 314.91L335.21 315.31L335.31 315.72L335.45 316.12L335.61 316.53L335.80 316.93L336.02 317.34L336.26 317.74L336.52 318.15L336.80 318.55L337.10 318.95L337.41 319.36L337.74 319.76L338.07 320.17L338.41 320.57L338.74 320.98L339.06 321.38L339.37 321.79L339.64 322.19L339.87 322.60L340.00 323.00L340.00 323.00Z" fill="#e64b35" stroke="#5a3028" stroke-width="0.45"/><path d="M340.00 307.60L340.00 307.60L340.15 307.82L340.40 308.05L340.70 308.27L341.04 308.49L341.40 308.71L341.77 308.94L342.15 309.16L342.52 309.38L342.88 309.60L343.23 309.83L343.56 310.05L343.88 310.27L344.17 310.50L344.44 310.72L344.68 310.94L344.89 311.16L345.07 311.39L345.22 311.61L345.34 311.83L345.42 312.05L345.47 312.28L345.49 312.50L345.47 312.72L345.42 312.94L345.34 313.15L345.22 313.37L345.07 313.59L344.89 313.81L344.68 314.03L344.44 314.25L344.17 314.46L343.88 314.68L343.56 314.90L343.23 315.12L342.88 315.34L342.52 315.55L342.15 315.77L341.77 315.99L341.40 316.21L341.04 316.43L340.70 316.65L340.40 316.86L340.15 317.08L340.00 317.30L340.00 317.30Z" fill="#4dbbd5" stroke="#2f5a66" stroke-width="0.45"/><line x1="339.65" y1="310.60" x2="339.65" y2="317.60" stroke="#333" stroke-width="0.5"/><line x1="340.35" y1="309.00" x2="340.35" y2="316.00" stroke="#333" stroke-width="0.5"/><circle cx="339.50" cy="314.10" r="0.75" fill="#111"/><circle cx="340.50" cy="312.50" r="0.75" fill="#111"/><line x1="349.7" y1="285.7" x2="349.7" y2="334.3" stroke="#808080" stroke-width="0.95"/><path d="M349.70 293.80L349.70 293.80L349.57 294.54L349.34 295.27L349.07 296.01L348.76 296.75L348.44 297.48L348.11 298.22L347.77 298.95L347.44 299.69L347.11 300.43L346.80 301.16L346.50 301.90L346.22 302.64L345.96 303.37L345.72 304.11L345.50 304.85L345.31 305.58L345.15 306.32L345.01 307.05L344.91 307.79L344.83 308.53L344.79 309.26L344.77 310.00L344.79 310.66L344.83 311.33L344.91 311.99L345.01 312.65L345.15 313.32L345.31 313.98L345.50 314.65L345.72 315.31L345.96 315.97L346.22 316.64L346.50 317.30L346.80 317.96L347.11 318.63L347.44 319.29L347.77 319.95L348.11 320.62L348.44 321.28L348.76 321.95L349.07 322.61L349.34 323.27L349.57 323.94L349.70 324.60L349.70 324.60Z" fill="#e64b35" stroke="#5a3028" stroke-width="0.45"/><path d="M349.70 319.00L349.70 319.00L349.85 319.25L350.10 319.51L350.40 319.76L350.74 320.02L351.10 320.27L351.47 320.53L351.85 320.78L352.22 321.04L352.58 321.29L352.93 321.55L353.26 321.80L353.58 322.05L353.87 322.31L354.14 322.56L354.38 322.82L354.59 323.07L354.77 323.33L354.92 323.58L355.04 323.84L355.12 324.09L355.17 324.35L355.19 324.60L355.17 324.90L355.12 325.19L355.04 325.49L354.92 325.78L354.77 326.08L354.59 326.37L354.38 326.67L354.14 326.96L353.87 327.26L353.58 327.55L353.26 327.85L352.93 328.15L352.58 328.44L352.22 328.74L351.85 329.03L351.47 329.33L351.10 329.62L350.74 329.92L350.40 330.21L350.10 330.51L349.85 330.80L349.70 331.10L349.70 331.10Z" fill="#4dbbd5" stroke="#2f5a66" stroke-width="0.45"/><line x1="349.35" y1="306.50" x2="349.35" y2="313.50" stroke="#333" stroke-width="0.5"/><line x1="350.05" y1="321.10" x2="350.05" y2="328.10" stroke="#333" stroke-width="0.5"/><circle cx="349.20" cy="310.00" r="0.75" fill="#111"/><circle cx="350.20" cy="324.60" r="0.75" fill="#111"/><line x1="359.3" y1="292.2" x2="359.3" y2="337.6" stroke="#808080" stroke-width="0.95"/><path d="M359.30 306.80L359.30 306.80L359.18 307.02L358.98 307.25L358.73 307.47L358.45 307.69L358.15 307.91L357.85 308.14L357.55 308.36L357.24 308.58L356.95 308.80L356.66 309.03L356.39 309.25L356.13 309.47L355.90 309.70L355.68 309.92L355.48 310.14L355.31 310.36L355.16 310.59L355.04 310.81L354.94 311.03L354.88 311.25L354.83 311.48L354.82 311.70L354.83 311.99L354.88 312.28L354.94 312.57L355.04 312.86L355.16 313.15L355.31 313.45L355.48 313.74L355.68 314.03L355.90 314.32L356.13 314.61L356.39 314.90L356.66 315.19L356.95 315.48L357.24 315.77L357.55 316.06L357.85 316.35L358.15 316.65L358.45 316.94L358.73 317.23L358.98 317.52L359.18 317.81L359.30 318.10L359.30 318.10Z" fill="#e64b35" stroke="#5a3028" stroke-width="0.45"/><path d="M359.30 298.70L359.30 298.70L359.45 299.25L359.70 299.80L360.00 300.35L360.34 300.90L360.70 301.45L361.07 302.00L361.45 302.55L361.82 303.10L362.18 303.65L362.53 304.20L362.86 304.75L363.18 305.30L363.47 305.85L363.74 306.40L363.98 306.95L364.19 307.50L364.37 308.05L364.52 308.60L364.64 309.15L364.72 309.70L364.77 310.25L364.79 310.80L364.77 311.35L364.72 311.91L364.64 312.46L364.52 313.02L364.37 313.57L364.19 314.13L363.98 314.68L363.74 315.24L363.47 315.79L363.18 316.35L362.86 316.90L362.53 317.45L362.18 318.01L361.82 318.56L361.45 319.12L361.07 319.67L360.70 320.23L360.34 320.78L360.00 321.34L359.70 321.89L359.45 322.45L359.30 323.00L359.30 323.00Z" fill="#4dbbd5" stroke="#2f5a66" stroke-width="0.45"/><line x1="358.95" y1="308.20" x2="358.95" y2="315.20" stroke="#333" stroke-width="0.5"/><line x1="359.65" y1="307.30" x2="359.65" y2="314.30" stroke="#333" stroke-width="0.5"/><circle cx="358.80" cy="311.70" r="0.75" fill="#111"/><circle cx="359.80" cy="310.80" r="0.75" fill="#111"/><text x="37.90" y="284.9" font-size="5.0" font-family="Liberation Sans, sans-serif" fill="#2a2a2a" text-anchor="middle">****</text><rect x="46.20" y="281.9" width="1.2" height="0.6" fill="#888"/><text x="57.30" y="284.9" font-size="5.0" font-family="Liberation Sans, sans-serif" fill="#2a2a2a" text-anchor="middle">*</text><text x="67.00" y="284.9" font-size="5.0" font-family="Liberation Sans, sans-serif" fill="#2a2a2a" text-anchor="middle">****</text><text x="76.70" y="284.9" font-size="5.0" font-family="Liberation Sans, sans-serif" fill="#2a2a2a" text-anchor="middle">*</text><text x="86.40" y="284.9" font-size="5.0" font-family="Liberation Sans, sans-serif" fill="#2a2a2a" text-anchor="middle">****</text><text x="96.10" y="284.9" font-size="5.0" font-family="Liberation Sans, sans-serif" fill="#2a2a2a" text-anchor="middle">****</text><text x="105.80" y="284.9" font-size="5.0" font-family="Liberation Sans, sans-serif" fill="#2a2a2a" text-anchor="middle">****</text><text x="115.60" y="284.9" font-size="5.0" font-family="Liberation Sans, sans-serif" fill="#2a2a2a" text-anchor="middle">****</text><text x="125.30" y="284.9" font-size="5.0" font-family="Liberation Sans, sans-serif" fill="#2a2a2a" text-anchor="middle">****</text><text x="135.20" y="284.9" font-size="5.0" font-family="Liberation Sans, sans-serif" fill="#2a2a2a" text-anchor="middle">****</text><text x="145.30" y="284.9" font-size="5.0" font-family="Liberation Sans, sans-serif" fill="#2a2a2a" text-anchor="middle">***</text><text x="155.10" y="284.9" font-size="5.0" font-family="Liberation Sans, sans-serif" fill="#2a2a2a" text-anchor="middle">****</text><text x="164.80" y="284.9" font-size="5.0" font-family="Liberation Sans, sans-serif" fill="#2a2a2a" text-anchor="middle">****</text><text x="174.60" y="284.9" font-size="5.0" font-family="Liberation Sans, sans-serif" fill="#2a2a2a" text-anchor="middle">****</text><text x="184.30" y="284.9" font-size="5.0" font-family="Liberation Sans, sans-serif" fill="#2a2a2a" text-anchor="middle">****</text><text x="194.40" y="284.9" font-size="5.0" font-family="Liberation Sans, sans-serif" fill="#2a2a2a" text-anchor="middle">****</text><rect x="202.60" y="281.9" width="1.2" height="0.6" fill="#888"/><text x="213.80" y="284.9" font-size="5.0" font-family="Liberation Sans, sans-serif" fill="#2a2a2a" text-anchor="middle">****</text><text x="223.60" y="284.9" font-size="5.0" font-family="Liberation Sans, sans-serif" fill="#2a2a2a" text-anchor="middle">****</text><text x="233.30" y="284.9" font-size="5.0" font-family="Liberation Sans, sans-serif" fill="#2a2a2a" text-anchor="middle">****</text><text x="243.00" y="284.9" font-size="5.0" font-family="Liberation Sans, sans-serif" fill="#2a2a2a" text-anchor="middle">****</text><rect x="251.40" y="281.9" width="1.2" height="0.6" fill="#888"/><text x="262.60" y="284.9" font-size="5.0" font-family="Liberation Sans, sans-serif" fill="#2a2a2a" text-anchor="middle">****</text><rect x="271.00" y="281.9" width="1.2" height="0.6" fill="#888"/><text x="282.20" y="284.9" font-size="5.0" font-family="Liberation Sans, sans-serif" fill="#2a2a2a" text-anchor="middle">****</text><text x="291.90" y="284.9" font-size="5.0" font-family="Liberation Sans, sans-serif" fill="#2a2a2a" text-anchor="middle">****</text><text x="301.60" y="284.9" font-size="5.0" font-family="Liberation Sans, sans-serif" fill="#2a2a2a" text-anchor="middle">****</text><text x="311.30" y="284.9" font-size="5.0" font-family="Liberation Sans, sans-serif" fill="#2a2a2a" text-anchor="middle">****</text><text x="321.20" y="284.9" font-size="5.0" font-family="Liberation Sans, sans-serif" fill="#2a2a2a" text-anchor="middle">****</text><text x="331.00" y="284.9" font-size="5.0" font-family="Liberation Sans, sans-serif" fill="#2a2a2a" text-anchor="middle">**</text><text x="340.80" y="284.9" font-size="5.0" font-family="Liberation Sans, sans-serif" fill="#2a2a2a" text-anchor="middle">****</text><text x="350.50" y="284.9" font-size="5.0" font-family="Liberation Sans, sans-serif" fill="#2a2a2a" text-anchor="middle">****</text><text x="360.10" y="284.9" font-size="5.0" font-family="Liberation Sans, sans-serif" fill="#2a2a2a" text-anchor="middle">****</text><rect x="29.4" y="277.9" width="337.6" height="63.400000000000034" fill="none" stroke="#8c8c8c" stroke-width="0.9"/><line x1="29.4" y1="277.9" x2="367.0" y2="277.9" stroke="#8c8c8c" stroke-width="1.4"/><line x1="27.599999999999998" y1="337.86" x2="29.4" y2="337.86" stroke="#444" stroke-width="0.5"/><text x="26.799999999999997" y="339.36" font-size="4.4" font-family="Liberation Serif, serif" fill="#333" text-anchor="end">-2</text><line x1="27.599999999999998" y1="332.38" x2="29.4" y2="332.38" stroke="#444" stroke-width="0.5"/><text x="26.799999999999997" y="333.88" font-size="4.4" font-family="Liberation Serif, serif" fill="#333" text-anchor="end">-1</text><line x1="27.599999999999998" y1="326.90" x2="29.4" y2="326.90" stroke="#444" stroke-width="0.5"/><text x="26.799999999999997" y="328.40" font-size="4.4" font-family="Liberation Serif, serif" fill="#333" text-anchor="end">0</text><line x1="27.599999999999998" y1="321.42" x2="29.4" y2="321.42" stroke="#444" stroke-width="0.5"/><text x="26.799999999999997" y="322.92" font-size="4.4" font-family="Liberation Serif, serif" fill="#333" text-anchor="end">1</text><line x1="27.599999999999998" y1="315.94" x2="29.4" y2="315.94" stroke="#444" stroke-width="0.5"/><text x="26.799999999999997" y="317.44" font-size="4.4" font-family="Liberation Serif, serif" fill="#333" text-anchor="end">2</text><line x1="27.599999999999998" y1="310.46" x2="29.4" y2="310.46" stroke="#444" stroke-width="0.5"/><text x="26.799999999999997" y="311.96" font-size="4.4" font-family="Liberation Serif, serif" fill="#333" text-anchor="end">3</text><line x1="27.599999999999998" y1="304.98" x2="29.4" y2="304.98" stroke="#444" stroke-width="0.5"/><text x="26.799999999999997" y="306.48" font-size="4.4" font-family="Liberation Serif, serif" fill="#333" text-anchor="end">4</text><line x1="27.599999999999998" y1="299.50" x2="29.4" y2="299.50" stroke="#444" stroke-width="0.5"/><text x="26.799999999999997" y="301.00" font-size="4.4" font-family="Liberation Serif, serif" fill="#333" text-anchor="end">5</text><line x1="27.599999999999998" y1="294.02" x2="29.4" y2="294.02" stroke="#444" stroke-width="0.5"/><text x="26.799999999999997" y="295.52" font-size="4.4" font-family="Liberation Serif, serif" fill="#333" text-anchor="end">6</text><line x1="27.599999999999998" y1="288.54" x2="29.4" y2="288.54" stroke="#444" stroke-width="0.5"/><text x="26.799999999999997" y="290.04" font-size="4.4" font-family="Liberation Serif, serif" fill="#333" text-anchor="end">7</text><line x1="27.599999999999998" y1="283.06" x2="29.4" y2="283.06" stroke="#444" stroke-width="0.5"/><text x="26.799999999999997" y="284.56" font-size="4.4" font-family="Liberation Serif, serif" fill="#333" text-anchor="end">8</text><line x1="27.599999999999998" y1="277.58" x2="29.4" y2="277.58" stroke="#444" stroke-width="0.5"/><text x="26.799999999999997" y="279.08" font-size="4.4" font-family="Liberation Serif, serif" fill="#333" text-anchor="end">9</text><text transform="translate(20.6,303) rotate(-90)" font-size="4.6" font-family="Liberation Serif, serif" fill="#333" text-anchor="middle">Expression</text><text x="4" y="322" font-size="4.2" font-family="Liberation Serif, serif" font-weight="bold" fill="#50506a">Group</text><rect x="4" y="325.8" width="3.7" height="3.7" fill="#e64b35"/><text x="9.2" y="329.0" font-size="4.0" font-family="Liberation Serif, serif" fill="#e64b35">Tumor</text><rect x="4" y="332.3" width="3.7" height="3.7" fill="#4dbbd5"/><text x="9.2" y="335.5" font-size="4.0" font-family="Liberation Serif, serif" fill="#4dbbd5">Normal</text><line x1="37.1" y1="341.3" x2="37.1" y2="342.90000000000003" stroke="#444" stroke-width="0.5"/><text transform="translate(38.30,344.10) rotate(-45) scale(0.87,1)" font-size="5.15" font-family="Liberation Sans, sans-serif" fill="#1a1a1a" text-anchor="end">ACC(T=77,N=128)</text><line x1="46.8" y1="341.3" x2="46.8" y2="342.90000000000003" stroke="#444" stroke-width="0.5"/><text transform="translate(48.00,344.10) rotate(-45) scale(0.87,1)" font-size="5.15" font-family="Liberation Sans, sans-serif" fill="#1a1a1a" text-anchor="end">BLCA(T=407,N=28)</text><line x1="56.5" y1="341.3" x2="56.5" y2="342.90000000000003" stroke="#444" stroke-width="0.5"/><text transform="translate(57.70,344.10) rotate(-45) scale(0.87,1)" font-size="5.15" font-family="Liberation Sans, sans-serif" fill="#1a1a1a" text-anchor="end">BRCA(T=1092,N=292)</text><line x1="66.2" y1="341.3" x2="66.2" y2="342.90000000000003" stroke="#444" stroke-width="0.5"/><text transform="translate(67.40,344.10) rotate(-45) scale(0.87,1)" font-size="5.15" font-family="Liberation Sans, sans-serif" fill="#1a1a1a" text-anchor="end">CESC(T=306,N=13)</text><line x1="75.9" y1="341.3" x2="75.9" y2="342.90000000000003" stroke="#444" stroke-width="0.5"/><text transform="translate(77.10,344.10) rotate(-45) scale(0.87,1)" font-size="5.15" font-family="Liberation Sans, sans-serif" fill="#1a1a1a" text-anchor="end">CHOL(T=36,N=9)</text><line x1="85.6" y1="341.3" x2="85.6" y2="342.90000000000003" stroke="#444" stroke-width="0.5"/><text transform="translate(86.80,344.10) rotate(-45) scale(0.87,1)" font-size="5.15" font-family="Liberation Sans, sans-serif" fill="#1a1a1a" text-anchor="end">COAD(T=288,N=349)</text><line x1="95.3" y1="341.3" x2="95.3" y2="342.90000000000003" stroke="#444" stroke-width="0.5"/><text transform="translate(96.50,344.10) rotate(-45) scale(0.87,1)" font-size="5.15" font-family="Liberation Sans, sans-serif" fill="#1a1a1a" text-anchor="end">COADREAD(T=380,N=359)</text><line x1="105.0" y1="341.3" x2="105.0" y2="342.90000000000003" stroke="#444" stroke-width="0.5"/><text transform="translate(106.20,344.10) rotate(-45) scale(0.87,1)" font-size="5.15" font-family="Liberation Sans, sans-serif" fill="#1a1a1a" text-anchor="end">ESCA(T=181,N=668)</text><line x1="114.8" y1="341.3" x2="114.8" y2="342.90000000000003" stroke="#444" stroke-width="0.5"/><text transform="translate(116.00,344.10) rotate(-45) scale(0.87,1)" font-size="5.15" font-family="Liberation Sans, sans-serif" fill="#1a1a1a" text-anchor="end">GBM(T=153,N=1157)</text><line x1="124.5" y1="341.3" x2="124.5" y2="342.90000000000003" stroke="#444" stroke-width="0.5"/><text transform="translate(125.70,344.10) rotate(-45) scale(0.87,1)" font-size="5.15" font-family="Liberation Sans, sans-serif" fill="#1a1a1a" text-anchor="end">GBMLGG(T=662,N=1157)</text><line x1="134.4" y1="341.3" x2="134.4" y2="342.90000000000003" stroke="#444" stroke-width="0.5"/><text transform="translate(135.60,344.10) rotate(-45) scale(0.87,1)" font-size="5.15" font-family="Liberation Sans, sans-serif" fill="#1a1a1a" text-anchor="end">HNSC(T=519,N=44)</text><line x1="144.5" y1="341.3" x2="144.5" y2="342.90000000000003" stroke="#444" stroke-width="0.5"/><text transform="translate(145.70,344.10) rotate(-45) scale(0.87,1)" font-size="5.15" font-family="Liberation Sans, sans-serif" fill="#1a1a1a" text-anchor="end">KICH(T=66,N=53)</text><line x1="154.3" y1="341.3" x2="154.3" y2="342.90000000000003" stroke="#444" stroke-width="0.5"/><text transform="translate(155.50,344.10) rotate(-45) scale(0.87,1)" font-size="5.15" font-family="Liberation Sans, sans-serif" fill="#1a1a1a" text-anchor="end">KIPAN(T=884,N=168)</text><line x1="164.0" y1="341.3" x2="164.0" y2="342.90000000000003" stroke="#444" stroke-width="0.5"/><text transform="translate(165.20,344.10) rotate(-45) scale(0.87,1)" font-size="5.15" font-family="Liberation Sans, sans-serif" fill="#1a1a1a" text-anchor="end">KIRC(T=530,N=168)</text><line x1="173.8" y1="341.3" x2="173.8" y2="342.90000000000003" stroke="#444" stroke-width="0.5"/><text transform="translate(175.00,344.10) rotate(-45) scale(0.87,1)" font-size="5.15" font-family="Liberation Sans, sans-serif" fill="#1a1a1a" text-anchor="end">KIRP(T=288,N=168)</text><line x1="183.5" y1="341.3" x2="183.5" y2="342.90000000000003" stroke="#444" stroke-width="0.5"/><text transform="translate(184.70,344.10) rotate(-45) scale(0.87,1)" font-size="5.15" font-family="Liberation Sans, sans-serif" fill="#1a1a1a" text-anchor="end">LAML(T=173,N=337)</text><line x1="193.6" y1="341.3" x2="193.6" y2="342.90000000000003" stroke="#444" stroke-width="0.5"/><text transform="translate(194.80,344.10) rotate(-45) scale(0.87,1)" font-size="5.15" font-family="Liberation Sans, sans-serif" fill="#1a1a1a" text-anchor="end">LGG(T=509,N=1152)</text><line x1="203.2" y1="341.3" x2="203.2" y2="342.90000000000003" stroke="#444" stroke-width="0.5"/><text transform="translate(204.40,344.10) rotate(-45) scale(0.87,1)" font-size="5.15" font-family="Liberation Sans, sans-serif" fill="#1a1a1a" text-anchor="end">LIHC(T=369,N=160)</text><line x1="213.0" y1="341.3" x2="213.0" y2="342.90000000000003" stroke="#444" stroke-width="0.5"/><text transform="translate(214.20,344.10) rotate(-45) scale(0.87,1)" font-size="5.15" font-family="Liberation Sans, sans-serif" fill="#1a1a1a" text-anchor="end">LUAD(T=513,N=397)</text><line x1="222.8" y1="341.3" x2="222.8" y2="342.90000000000003" stroke="#444" stroke-width="0.5"/><text transform="translate(224.00,344.10) rotate(-45) scale(0.87,1)" font-size="5.15" font-family="Liberation Sans, sans-serif" fill="#1a1a1a" text-anchor="end">LUSC(T=498,N=397)</text><line x1="232.5" y1="341.3" x2="232.5" y2="342.90000000000003" stroke="#444" stroke-width="0.5"/><text transform="translate(233.70,344.10) rotate(-45) scale(0.87,1)" font-size="5.15" font-family="Liberation Sans, sans-serif" fill="#1a1a1a" text-anchor="end">OV(T=419,N=88)</text><line x1="242.2" y1="341.3" x2="242.2" y2="342.90000000000003" stroke="#444" stroke-width="0.5"/><text transform="translate(243.40,344.10) rotate(-45) scale(0.87,1)" font-size="5.15" font-family="Liberation Sans, sans-serif" fill="#1a1a1a" text-anchor="end">PAAD(T=178,N=171)</text><line x1="252.0" y1="341.3" x2="252.0" y2="342.90000000000003" stroke="#444" stroke-width="0.5"/><text transform="translate(253.20,344.10) rotate(-45) scale(0.87,1)" font-size="5.15" font-family="Liberation Sans, sans-serif" fill="#1a1a1a" text-anchor="end">PCPG(T=177,N=3)</text><line x1="261.8" y1="341.3" x2="261.8" y2="342.90000000000003" stroke="#444" stroke-width="0.5"/><text transform="translate(263.00,344.10) rotate(-45) scale(0.87,1)" font-size="5.15" font-family="Liberation Sans, sans-serif" fill="#1a1a1a" text-anchor="end">PRAD(T=495,N=152)</text><line x1="271.6" y1="341.3" x2="271.6" y2="342.90000000000003" stroke="#444" stroke-width="0.5"/><text transform="translate(272.80,344.10) rotate(-45) scale(0.87,1)" font-size="5.15" font-family="Liberation Sans, sans-serif" fill="#1a1a1a" text-anchor="end">READ(T=92,N=10)</text><line x1="281.4" y1="341.3" x2="281.4" y2="342.90000000000003" stroke="#444" stroke-width="0.5"/><text transform="translate(282.60,344.10) rotate(-45) scale(0.87,1)" font-size="5.15" font-family="Liberation Sans, sans-serif" fill="#1a1a1a" text-anchor="end">SKCM(T=102,N=1809)</text><line x1="291.1" y1="341.3" x2="291.1" y2="342.90000000000003" stroke="#444" stroke-width="0.5"/><text transform="translate(292.30,344.10) rotate(-45) scale(0.87,1)" font-size="5.15" font-family="Liberation Sans, sans-serif" fill="#1a1a1a" text-anchor="end">STAD(T=414,N=211)</text><line x1="300.8" y1="341.3" x2="300.8" y2="342.90000000000003" stroke="#444" stroke-width="0.5"/><text transform="translate(302.00,344.10) rotate(-45) scale(0.87,1)" font-size="5.15" font-family="Liberation Sans, sans-serif" fill="#1a1a1a" text-anchor="end">STES(T=595,N=879)</text><line x1="310.5" y1="341.3" x2="310.5" y2="342.90000000000003" stroke="#444" stroke-width="0.5"/><text transform="translate(311.70,344.10) rotate(-45) scale(0.87,1)" font-size="5.15" font-family="Liberation Sans, sans-serif" fill="#1a1a1a" text-anchor="end">TGCT(T=148,N=165)</text><line x1="320.4" y1="341.3" x2="320.4" y2="342.90000000000003" stroke="#444" stroke-width="0.5"/><text transform="translate(321.60,344.10) rotate(-45) scale(0.87,1)" font-size="5.15" font-family="Liberation Sans, sans-serif" fill="#1a1a1a" text-anchor="end">THCA(T=504,N=338)</text><line x1="330.2" y1="341.3" x2="330.2" y2="342.90000000000003" stroke="#444" stroke-width="0.5"/><text transform="translate(331.40,344.10) rotate(-45) scale(0.87,1)" font-size="5.15" font-family="Liberation Sans, sans-serif" fill="#1a1a1a" text-anchor="end">UCEC(T=180,N=101)</text><line x1="340.0" y1="341.3" x2="340.0" y2="342.90000000000003" stroke="#444" stroke-width="0.5"/><text transform="translate(341.20,344.10) rotate(-45) scale(0.87,1)" font-size="5.15" font-family="Liberation Sans, sans-serif" fill="#1a1a1a" text-anchor="end">UCS(T=57,N=78)</text><line x1="349.7" y1="341.3" x2="349.7" y2="342.90000000000003" stroke="#444" stroke-width="0.5"/><text transform="translate(350.90,344.10) rotate(-45) scale(0.87,1)" font-size="5.15" font-family="Liberation Sans, sans-serif" fill="#1a1a1a" text-anchor="end">ALL(T=132,N=337)</text><line x1="359.3" y1="341.3" x2="359.3" y2="342.90000000000003" stroke="#444" stroke-width="0.5"/><text transform="translate(360.50,344.10) rotate(-45) scale(0.87,1)" font-size="5.15" font-family="Liberation Sans, sans-serif" fill="#1a1a1a" text-anchor="end">WT(T=120,N=168)</text><text x="4.6" y="386.6" font-size="12.6" font-family="Liberation Sans, sans-serif" fill="#111">D</text><rect x="38.0" y="386.6" width="131.7" height="104.59999999999997" fill="#fff" stroke="#8a8a8a" stroke-width="0.7"/><text x="51" y="395.2" font-size="6.6" font-family="Liberation Sans, sans-serif" fill="#111">KIRC</text><text x="162" y="392.5" font-size="4.8" font-family="Liberation Sans, sans-serif" fill="#222" text-anchor="end">F value = 21.3</text><text x="162" y="397.5" font-size="4.8" font-family="Liberation Sans, sans-serif" fill="#222" text-anchor="end">Pr(&gt;F) = 5.43e-13</text><path d="M57.50 403.30L57.50 403.30L57.36 403.79L57.20 404.43L57.02 405.18L56.79 406.03L56.53 406.95L56.21 407.94L55.84 408.96L55.40 410.00L54.86 411.08L54.23 412.23L53.52 413.43L52.76 414.68L51.99 415.97L51.24 417.30L50.53 418.64L49.90 420.00L49.29 421.40L48.66 422.86L48.04 424.36L47.46 425.89L46.93 427.41L46.49 428.92L46.18 430.39L46.00 431.80L45.99 433.17L46.13 434.51L46.38 435.84L46.72 437.14L47.13 438.41L47.56 439.64L47.99 440.84L48.40 442.00L48.81 443.11L49.26 444.18L49.74 445.21L50.24 446.20L50.74 447.17L51.22 448.12L51.68 449.06L52.10 450.00L52.49 450.92L52.86 451.80L53.22 452.65L53.56 453.50L53.88 454.35L54.17 455.20L54.45 456.08L54.70 457.00L54.92 457.94L55.11 458.88L55.28 459.84L55.42 460.81L55.56 461.81L55.67 462.84L55.79 463.90L55.90 465.00L56.00 466.16L56.09 467.39L56.16 468.67L56.23 469.97L56.29 471.27L56.35 472.56L56.42 473.81L56.50 475.00L56.60 476.19L56.70 477.43L56.82 478.67L56.94 479.88L57.05 481.00L57.15 482.01L57.24 482.85L57.30 483.50L58.50 483.50L58.56 482.85L58.65 482.01L58.75 481.00L58.86 479.88L58.98 478.67L59.10 477.43L59.20 476.19L59.30 475.00L59.38 473.81L59.45 472.56L59.51 471.27L59.57 469.97L59.64 468.67L59.71 467.39L59.80 466.16L59.90 465.00L60.01 463.90L60.12 462.84L60.24 461.81L60.38 460.81L60.52 459.84L60.69 458.88L60.88 457.94L61.10 457.00L61.35 456.08L61.63 455.20L61.92 454.35L62.24 453.50L62.58 452.65L62.94 451.80L63.31 450.92L63.70 450.00L64.12 449.06L64.58 448.12L65.06 447.17L65.56 446.20L66.06 445.21L66.54 444.18L66.99 443.11L67.40 442.00L67.81 440.84L68.24 439.64L68.67 438.41L69.08 437.14L69.42 435.84L69.67 434.51L69.81 433.17L69.80 431.80L69.62 430.39L69.31 428.92L68.87 427.41L68.34 425.89L67.76 424.36L67.14 422.86L66.51 421.40L65.90 420.00L65.27 418.64L64.56 417.30L63.81 415.97L63.04 414.68L62.28 413.43L61.57 412.23L60.94 411.08L60.40 410.00L59.96 408.96L59.59 407.94L59.27 406.95L59.01 406.03L58.78 405.18L58.60 404.43L58.44 403.79L58.30 403.30Z" fill="#f65246" stroke="#333" stroke-width="0.45"/><line x1="57.9" y1="403.3" x2="57.9" y2="483.5" stroke="#333" stroke-width="0.4"/><rect x="56.80" y="424.8" width="2.2" height="17.90" fill="#000"/><rect x="57.30" y="432.70" width="1.2" height="1.0" fill="#fff"/><line x1="57.9" y1="491.2" x2="57.9" y2="493.7" stroke="#333" stroke-width="0.45"/><text x="57.9" y="500.9" font-size="4.3" font-family="Liberation Sans, sans-serif" fill="#111" text-anchor="middle">Stage I</text><path d="M88.10 399.40L88.10 399.40L88.06 399.71L88.02 400.08L87.99 400.51L87.93 401.01L87.84 401.60L87.70 402.29L87.49 403.09L87.20 404.00L86.81 405.08L86.33 406.32L85.78 407.70L85.17 409.16L84.55 410.67L83.91 412.17L83.29 413.63L82.70 415.00L82.12 416.31L81.51 417.62L80.89 418.92L80.28 420.20L79.68 421.46L79.13 422.68L78.63 423.86L78.20 425.00L77.83 426.05L77.50 427.00L77.21 427.89L76.96 428.76L76.77 429.65L76.62 430.59L76.53 431.63L76.50 432.80L76.53 434.11L76.63 435.52L76.79 437.02L76.99 438.58L77.24 440.17L77.53 441.79L77.85 443.41L78.20 445.00L78.60 446.59L79.06 448.22L79.58 449.86L80.12 451.51L80.67 453.16L81.22 454.80L81.73 456.42L82.20 458.00L82.63 459.56L83.05 461.12L83.46 462.66L83.84 464.19L84.21 465.69L84.56 467.16L84.89 468.60L85.20 470.00L85.48 471.36L85.73 472.70L85.95 474.01L86.16 475.29L86.35 476.53L86.53 477.73L86.72 478.89L86.90 480.00L87.09 481.10L87.28 482.21L87.47 483.29L87.66 484.32L87.83 485.28L87.98 486.13L88.10 486.85L88.20 487.40L89.20 487.40L89.30 486.85L89.42 486.13L89.57 485.28L89.74 484.32L89.93 483.29L90.12 482.21L90.31 481.10L90.50 480.00L90.68 478.89L90.87 477.73L91.05 476.53L91.24 475.29L91.45 474.01L91.67 472.70L91.92 471.36L92.20 470.00L92.51 468.60L92.84 467.16L93.19 465.69L93.56 464.19L93.94 462.66L94.35 461.12L94.77 459.56L95.20 458.00L95.67 456.42L96.18 454.80L96.73 453.16L97.28 451.51L97.82 449.86L98.34 448.22L98.80 446.59L99.20 445.00L99.55 443.41L99.87 441.79L100.16 440.17L100.41 438.58L100.61 437.02L100.77 435.52L100.87 434.11L100.90 432.80L100.87 431.63L100.78 430.59L100.63 429.65L100.44 428.76L100.19 427.89L99.90 427.00L99.57 426.05L99.20 425.00L98.77 423.86L98.27 422.68L97.72 421.46L97.12 420.20L96.51 418.92L95.89 417.62L95.28 416.31L94.70 415.00L94.11 413.63L93.49 412.17L92.85 410.67L92.23 409.16L91.62 407.70L91.07 406.32L90.59 405.08L90.20 404.00L89.91 403.09L89.70 402.29L89.56 401.60L89.47 401.01L89.41 400.51L89.38 400.08L89.34 399.71L89.30 399.40Z" fill="#c0b62a" stroke="#333" stroke-width="0.45"/><line x1="88.7" y1="399.4" x2="88.7" y2="487.4" stroke="#333" stroke-width="0.4"/><rect x="87.60" y="424.8" width="2.2" height="21.90" fill="#000"/><rect x="88.10" y="436.60" width="1.2" height="1.0" fill="#fff"/><line x1="88.7" y1="491.2" x2="88.7" y2="493.7" stroke="#333" stroke-width="0.45"/><text x="88.7" y="500.9" font-size="4.3" font-family="Liberation Sans, sans-serif" fill="#111" text-anchor="middle">Stage II</text><path d="M116.90 413.30L116.90 413.30L116.59 413.81L116.19 414.47L115.71 415.26L115.18 416.15L114.61 417.10L114.03 418.08L113.45 419.05L112.90 420.00L112.34 420.93L111.74 421.87L111.11 422.83L110.49 423.81L109.88 424.82L109.32 425.85L108.82 426.91L108.40 428.00L108.05 429.13L107.74 430.29L107.48 431.49L107.27 432.71L107.11 433.94L107.01 435.19L106.97 436.45L107.00 437.70L107.11 438.94L107.31 440.18L107.57 441.42L107.89 442.67L108.25 443.94L108.63 445.25L109.02 446.60L109.40 448.00L109.80 449.47L110.23 451.02L110.70 452.61L111.18 454.23L111.65 455.86L112.10 457.48L112.53 459.07L112.90 460.60L113.22 462.07L113.51 463.51L113.76 464.91L113.99 466.31L114.22 467.70L114.44 469.10L114.66 470.53L114.90 472.00L115.16 473.60L115.45 475.34L115.74 477.16L116.03 478.96L116.30 480.68L116.54 482.23L116.75 483.53L116.90 484.50L120.90 484.50L121.05 483.53L121.26 482.23L121.50 480.68L121.78 478.96L122.06 477.16L122.35 475.34L122.64 473.60L122.90 472.00L123.14 470.53L123.36 469.10L123.58 467.70L123.81 466.31L124.04 464.91L124.29 463.51L124.58 462.07L124.90 460.60L125.27 459.07L125.70 457.48L126.15 455.86L126.62 454.23L127.10 452.61L127.57 451.02L128.00 449.47L128.40 448.00L128.78 446.60L129.17 445.25L129.55 443.94L129.91 442.67L130.23 441.42L130.49 440.18L130.69 438.94L130.80 437.70L130.83 436.45L130.79 435.19L130.69 433.94L130.53 432.71L130.32 431.49L130.06 430.29L129.75 429.13L129.40 428.00L128.98 426.91L128.48 425.85L127.92 424.82L127.31 423.81L126.69 422.83L126.06 421.87L125.46 420.93L124.90 420.00L124.35 419.05L123.77 418.08L123.19 417.10L122.62 416.15L122.09 415.26L121.61 414.47L121.21 413.81L120.90 413.30Z" fill="#20d080" stroke="#333" stroke-width="0.45"/><line x1="118.9" y1="413.3" x2="118.9" y2="484.5" stroke="#333" stroke-width="0.4"/><rect x="117.80" y="431.8" width="2.2" height="25.80" fill="#000"/><rect x="118.30" y="442.20" width="1.2" height="1.0" fill="#fff"/><line x1="118.9" y1="491.2" x2="118.9" y2="493.7" stroke="#333" stroke-width="0.45"/><text x="118.9" y="500.9" font-size="4.3" font-family="Liberation Sans, sans-serif" fill="#111" text-anchor="middle">Stage III</text><path d="M149.00 405.00L149.00 405.00L148.93 405.52L148.87 406.19L148.80 406.98L148.71 407.88L148.58 408.85L148.40 409.88L148.14 410.93L147.80 412.00L147.35 413.11L146.79 414.29L146.16 415.53L145.48 416.81L144.77 418.12L144.07 419.43L143.40 420.73L142.80 422.00L142.24 423.25L141.67 424.48L141.12 425.72L140.59 426.96L140.08 428.20L139.61 429.45L139.18 430.72L138.80 432.00L138.46 433.31L138.16 434.66L137.88 436.02L137.65 437.39L137.46 438.76L137.32 440.11L137.23 441.42L137.20 442.70L137.24 443.92L137.35 445.11L137.53 446.26L137.74 447.39L137.99 448.52L138.26 449.66L138.54 450.81L138.80 452.00L139.07 453.23L139.38 454.50L139.70 455.79L140.04 457.08L140.37 458.37L140.70 459.62L141.01 460.84L141.30 462.00L141.56 463.10L141.81 464.14L142.04 465.15L142.27 466.12L142.49 467.09L142.69 468.05L142.90 469.01L143.10 470.00L143.29 471.02L143.48 472.06L143.66 473.11L143.83 474.16L144.00 475.18L144.17 476.18L144.33 477.12L144.50 478.00L144.68 478.84L144.86 479.68L145.05 480.49L145.24 481.25L145.41 481.95L145.57 482.57L145.70 483.09L145.80 483.50L152.80 483.50L152.90 483.09L153.03 482.57L153.19 481.95L153.36 481.25L153.55 480.49L153.74 479.68L153.92 478.84L154.10 478.00L154.27 477.12L154.43 476.18L154.60 475.18L154.77 474.16L154.94 473.11L155.12 472.06L155.31 471.02L155.50 470.00L155.70 469.01L155.91 468.05L156.11 467.09L156.33 466.12L156.56 465.15L156.79 464.14L157.04 463.10L157.30 462.00L157.59 460.84L157.90 459.62L158.23 458.37L158.56 457.08L158.90 455.79L159.22 454.50L159.53 453.23L159.80 452.00L160.06 450.81L160.34 449.66L160.61 448.52L160.86 447.39L161.07 446.26L161.25 445.11L161.36 443.92L161.40 442.70L161.37 441.42L161.28 440.11L161.14 438.76L160.95 437.39L160.72 436.02L160.44 434.66L160.14 433.31L159.80 432.00L159.42 430.72L158.99 429.45L158.52 428.20L158.01 426.96L157.48 425.72L156.93 424.48L156.36 423.25L155.80 422.00L155.20 420.73L154.53 419.43L153.83 418.12L153.12 416.81L152.44 415.53L151.81 414.29L151.25 413.11L150.80 412.00L150.46 410.93L150.20 409.88L150.02 408.85L149.89 407.88L149.80 406.98L149.73 406.19L149.67 405.52L149.60 405.00Z" fill="#20a0ef" stroke="#333" stroke-width="0.45"/><line x1="149.3" y1="405" x2="149.3" y2="483.5" stroke="#333" stroke-width="0.4"/><rect x="148.20" y="437.7" width="2.2" height="20.90" fill="#000"/><rect x="148.70" y="445.80" width="1.2" height="1.0" fill="#fff"/><line x1="149.3" y1="491.2" x2="149.3" y2="493.7" stroke="#333" stroke-width="0.45"/><text x="149.3" y="500.9" font-size="4.3" font-family="Liberation Sans, sans-serif" fill="#111" text-anchor="middle">Stage IV</text><line x1="46.2" y1="491.2" x2="70" y2="491.2" stroke="#000" stroke-width="1.2"/><line x1="76.2" y1="491.2" x2="100.6" y2="491.2" stroke="#000" stroke-width="1.2"/><line x1="34.8" y1="491.00" x2="38.0" y2="491.00" stroke="#333" stroke-width="0.45"/><text transform="translate(31.6,491.00) rotate(-90)" font-size="5.0" font-family="Liberation Sans, sans-serif" fill="#1a1a1a" text-anchor="middle">0</text><line x1="34.8" y1="466.25" x2="38.0" y2="466.25" stroke="#333" stroke-width="0.45"/><text transform="translate(31.6,466.25) rotate(-90)" font-size="5.0" font-family="Liberation Sans, sans-serif" fill="#1a1a1a" text-anchor="middle">1</text><line x1="34.8" y1="441.50" x2="38.0" y2="441.50" stroke="#333" stroke-width="0.45"/><text transform="translate(31.6,441.50) rotate(-90)" font-size="5.0" font-family="Liberation Sans, sans-serif" fill="#1a1a1a" text-anchor="middle">2</text><line x1="34.8" y1="416.75" x2="38.0" y2="416.75" stroke="#333" stroke-width="0.45"/><text transform="translate(31.6,416.75) rotate(-90)" font-size="5.0" font-family="Liberation Sans, sans-serif" fill="#1a1a1a" text-anchor="middle">3</text><line x1="34.8" y1="392.00" x2="38.0" y2="392.00" stroke="#333" stroke-width="0.45"/><text transform="translate(31.6,392.00) rotate(-90)" font-size="5.0" font-family="Liberation Sans, sans-serif" fill="#1a1a1a" text-anchor="middle">4</text><rect x="215.0" y="386.4" width="131.60000000000002" height="105.0" fill="#fff" stroke="#8a8a8a" stroke-width="0.7"/><text x="227.8" y="395.0" font-size="6.6" font-family="Liberation Sans, sans-serif" fill="#111">KIRP</text><text x="339.4" y="392.4" font-size="4.8" font-family="Liberation Sans, sans-serif" fill="#222" text-anchor="end">F value = 10.8</text><text x="339.4" y="398.4" font-size="4.8" font-family="Liberation Sans, sans-serif" fill="#222" text-anchor="end">Pr(&gt;F) = 1.02e-06</text><path d="M235.00 399.10L235.00 399.10L234.99 399.82L235.00 400.79L235.00 401.95L235.00 403.23L235.00 404.56L234.96 405.87L234.86 407.11L234.70 408.20L234.48 409.14L234.21 409.99L233.90 410.78L233.54 411.54L233.16 412.32L232.73 413.13L232.28 414.01L231.80 415.00L231.26 416.10L230.65 417.28L229.99 418.52L229.31 419.80L228.62 421.11L227.96 422.43L227.34 423.73L226.80 425.00L226.31 426.26L225.86 427.53L225.43 428.81L225.03 430.08L224.67 431.35L224.34 432.59L224.05 433.81L223.80 435.00L223.59 436.15L223.41 437.28L223.26 438.38L223.16 439.46L223.09 440.52L223.05 441.58L223.06 442.64L223.10 443.70L223.18 444.76L223.30 445.81L223.46 446.85L223.66 447.89L223.89 448.93L224.16 449.96L224.46 450.98L224.80 452.00L225.19 453.00L225.65 453.97L226.15 454.93L226.69 455.89L227.24 456.87L227.78 457.87L228.31 458.91L228.80 460.00L229.27 461.17L229.75 462.41L230.22 463.69L230.69 465.00L231.13 466.31L231.56 467.59L231.95 468.83L232.30 470.00L232.61 471.09L232.89 472.13L233.14 473.13L233.37 474.11L233.57 475.07L233.76 476.03L233.93 477.00L234.10 478.00L234.25 479.08L234.39 480.25L234.51 481.46L234.61 482.65L234.70 483.78L234.78 484.80L234.85 485.66L234.90 486.30L235.70 486.30L235.75 485.66L235.82 484.80L235.90 483.78L235.99 482.65L236.09 481.46L236.21 480.25L236.35 479.08L236.50 478.00L236.67 477.00L236.84 476.03L237.03 475.07L237.23 474.11L237.46 473.13L237.71 472.13L237.99 471.09L238.30 470.00L238.65 468.83L239.04 467.59L239.47 466.31L239.91 465.00L240.38 463.69L240.85 462.41L241.33 461.17L241.80 460.00L242.29 458.91L242.82 457.87L243.36 456.87L243.91 455.89L244.45 454.93L244.95 453.97L245.41 453.00L245.80 452.00L246.14 450.98L246.44 449.96L246.71 448.93L246.94 447.89L247.14 446.85L247.30 445.81L247.42 444.76L247.50 443.70L247.54 442.64L247.55 441.58L247.51 440.52L247.44 439.46L247.34 438.38L247.19 437.28L247.01 436.15L246.80 435.00L246.55 433.81L246.26 432.59L245.93 431.35L245.57 430.08L245.17 428.81L244.74 427.53L244.29 426.26L243.80 425.00L243.26 423.73L242.64 422.43L241.98 421.11L241.29 419.80L240.61 418.52L239.95 417.28L239.34 416.10L238.80 415.00L238.32 414.01L237.87 413.13L237.44 412.32L237.06 411.54L236.70 410.78L236.39 409.99L236.12 409.14L235.90 408.20L235.74 407.11L235.64 405.87L235.60 404.56L235.60 403.23L235.60 401.95L235.60 400.79L235.61 399.82L235.60 399.10Z" fill="#f65246" stroke="#333" stroke-width="0.45"/><line x1="235.3" y1="399.1" x2="235.3" y2="486.3" stroke="#333" stroke-width="0.4"/><rect x="234.20" y="433.5" width="2.2" height="18.30" fill="#000"/><rect x="234.70" y="443.20" width="1.2" height="1.0" fill="#fff"/><line x1="235.3" y1="491.4" x2="235.3" y2="493.9" stroke="#333" stroke-width="0.45"/><text x="235.3" y="500.9" font-size="4.3" font-family="Liberation Sans, sans-serif" fill="#111" text-anchor="middle">Stage I</text><path d="M262.00 415.90L262.00 415.90L257.70 430.80L253.50 445.70L257.70 460.10L262.10 474.50L269.30 474.50L273.70 460.10L277.90 445.70L273.70 430.80L269.40 415.90Z" fill="#c0b62a" stroke="#333" stroke-width="0.45"/><line x1="265.7" y1="415.9" x2="265.7" y2="474.5" stroke="#333" stroke-width="0.4"/><rect x="264.60" y="434.6" width="2.2" height="21.30" fill="#000"/><rect x="265.10" y="445.60" width="1.2" height="1.0" fill="#fff"/><line x1="265.7" y1="491.4" x2="265.7" y2="493.9" stroke="#333" stroke-width="0.45"/><text x="265.7" y="500.9" font-size="4.3" font-family="Liberation Sans, sans-serif" fill="#111" text-anchor="middle">Stage II</text><path d="M293.90 421.30L293.90 421.30L293.69 421.80L293.43 422.45L293.12 423.22L292.76 424.09L292.37 425.02L291.94 426.01L291.48 427.01L291.00 428.00L290.46 429.01L289.83 430.07L289.16 431.17L288.46 432.31L287.76 433.47L287.10 434.64L286.51 435.82L286.00 437.00L285.56 438.19L285.16 439.41L284.80 440.64L284.48 441.89L284.22 443.13L284.01 444.37L283.87 445.60L283.80 446.80L283.82 447.97L283.92 449.12L284.09 450.26L284.32 451.39L284.60 452.52L284.89 453.66L285.20 454.82L285.50 456.00L285.82 457.21L286.17 458.44L286.55 459.69L286.95 460.95L287.35 462.21L287.75 463.48L288.14 464.74L288.50 466.00L288.84 467.24L289.17 468.47L289.50 469.69L289.81 470.91L290.12 472.15L290.42 473.40L290.71 474.68L291.00 476.00L291.29 477.44L291.58 479.02L291.87 480.67L292.16 482.32L292.42 483.90L292.65 485.32L292.85 486.51L293.00 487.40L299.00 487.40L299.15 486.51L299.35 485.32L299.58 483.90L299.84 482.32L300.13 480.67L300.42 479.02L300.71 477.44L301.00 476.00L301.29 474.68L301.58 473.40L301.88 472.15L302.19 470.91L302.50 469.69L302.83 468.47L303.16 467.24L303.50 466.00L303.86 464.74L304.25 463.48L304.65 462.21L305.05 460.95L305.45 459.69L305.83 458.44L306.18 457.21L306.50 456.00L306.80 454.82L307.11 453.66L307.40 452.52L307.68 451.39L307.91 450.26L308.08 449.12L308.18 447.97L308.20 446.80L308.13 445.60L307.99 444.37L307.78 443.13L307.52 441.89L307.20 440.64L306.84 439.41L306.44 438.19L306.00 437.00L305.49 435.82L304.90 434.64L304.24 433.47L303.54 432.31L302.84 431.17L302.17 430.07L301.54 429.01L301.00 428.00L300.52 427.01L300.06 426.01L299.63 425.02L299.24 424.09L298.88 423.22L298.57 422.45L298.31 421.80L298.10 421.30Z" fill="#20d080" stroke="#333" stroke-width="0.45"/><line x1="296.0" y1="421.3" x2="296.0" y2="487.4" stroke="#333" stroke-width="0.4"/><rect x="294.90" y="440.9" width="2.2" height="25.00" fill="#000"/><rect x="295.40" y="452.30" width="1.2" height="1.0" fill="#fff"/><line x1="296.0" y1="491.4" x2="296.0" y2="493.9" stroke="#333" stroke-width="0.45"/><text x="296.0" y="500.9" font-size="4.3" font-family="Liberation Sans, sans-serif" fill="#111" text-anchor="middle">Stage III</text><path d="M317.10 438.00L317.10 438.00L316.91 438.45L316.65 439.04L316.34 439.74L316.00 440.53L315.65 441.37L315.32 442.25L315.03 443.13L314.80 444.00L314.61 444.87L314.43 445.77L314.28 446.70L314.14 447.65L314.04 448.62L313.98 449.61L313.97 450.60L314.00 451.60L314.10 452.60L314.25 453.61L314.45 454.62L314.69 455.65L314.96 456.70L315.24 457.77L315.52 458.87L315.80 460.00L316.07 461.16L316.36 462.35L316.65 463.57L316.96 464.81L317.28 466.08L317.61 467.36L317.95 468.67L318.30 470.00L318.69 471.44L319.14 473.02L319.61 474.67L320.08 476.32L320.54 477.90L320.95 479.32L321.29 480.51L321.55 481.40L331.05 481.40L331.31 480.51L331.65 479.32L332.06 477.90L332.52 476.32L332.99 474.67L333.46 473.02L333.91 471.44L334.30 470.00L334.65 468.67L334.99 467.36L335.32 466.08L335.64 464.81L335.95 463.57L336.24 462.35L336.53 461.16L336.80 460.00L337.08 458.87L337.36 457.77L337.64 456.70L337.91 455.65L338.15 454.62L338.35 453.61L338.50 452.60L338.60 451.60L338.63 450.60L338.62 449.61L338.56 448.62L338.46 447.65L338.32 446.70L338.17 445.77L337.99 444.87L337.80 444.00L337.57 443.13L337.28 442.25L336.95 441.37L336.60 440.53L336.26 439.74L335.95 439.04L335.69 438.45L335.50 438.00Z" fill="#20a0ef" stroke="#333" stroke-width="0.45"/><line x1="326.3" y1="438" x2="326.3" y2="481.4" stroke="#333" stroke-width="0.4"/><rect x="325.20" y="445.6" width="2.2" height="17.90" fill="#000"/><rect x="325.70" y="453.50" width="1.2" height="1.0" fill="#fff"/><line x1="326.3" y1="491.4" x2="326.3" y2="493.9" stroke="#333" stroke-width="0.45"/><text x="326.3" y="500.9" font-size="4.3" font-family="Liberation Sans, sans-serif" fill="#111" text-anchor="middle">Stage IV</text><line x1="223.1" y1="491.3" x2="247.5" y2="491.3" stroke="#000" stroke-width="1.2"/><line x1="253.5" y1="491.3" x2="277.9" y2="491.3" stroke="#000" stroke-width="1.2"/><line x1="211.8" y1="491.00" x2="215.0" y2="491.00" stroke="#333" stroke-width="0.45"/><text transform="translate(208.6,491.00) rotate(-90)" font-size="5.0" font-family="Liberation Sans, sans-serif" fill="#1a1a1a" text-anchor="middle">0</text><line x1="211.8" y1="469.70" x2="215.0" y2="469.70" stroke="#333" stroke-width="0.45"/><text transform="translate(208.6,469.70) rotate(-90)" font-size="5.0" font-family="Liberation Sans, sans-serif" fill="#1a1a1a" text-anchor="middle">1</text><line x1="211.8" y1="448.40" x2="215.0" y2="448.40" stroke="#333" stroke-width="0.45"/><text transform="translate(208.6,448.40) rotate(-90)" font-size="5.0" font-family="Liberation Sans, sans-serif" fill="#1a1a1a" text-anchor="middle">2</text><line x1="211.8" y1="427.10" x2="215.0" y2="427.10" stroke="#333" stroke-width="0.45"/><text transform="translate(208.6,427.10) rotate(-90)" font-size="5.0" font-family="Liberation Sans, sans-serif" fill="#1a1a1a" text-anchor="middle">3</text><line x1="211.8" y1="405.80" x2="215.0" y2="405.80" stroke="#333" stroke-width="0.45"/><text transform="translate(208.6,405.80) rotate(-90)" font-size="5.0" font-family="Liberation Sans, sans-serif" fill="#1a1a1a" text-anchor="middle">4</text></svg></body></html>
